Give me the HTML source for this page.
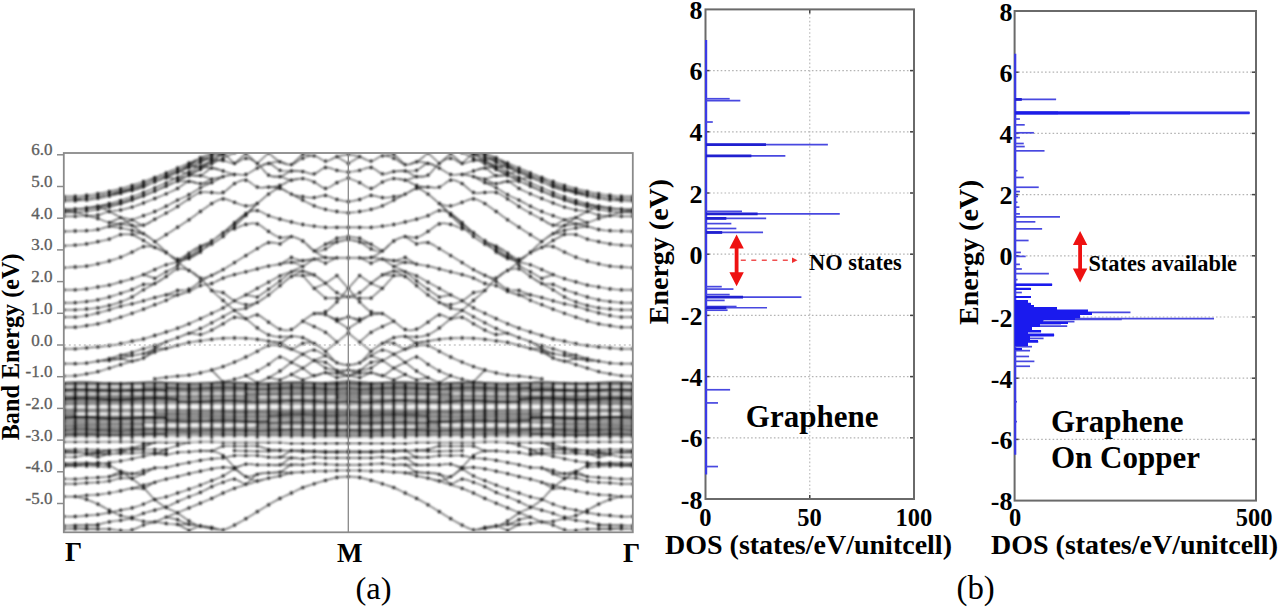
<!DOCTYPE html>
<html><head><meta charset="utf-8"><style>
html,body{margin:0;padding:0;background:#fff;}
body{width:1280px;height:609px;overflow:hidden;}
svg{display:block;font-family:"Liberation Serif", serif;}
</style></head><body>
<svg width="1280" height="609" viewBox="0 0 1280 609" fill="#000">
<rect width="1280" height="609" fill="#fff"/>
<defs><filter id="soft" x="-1%" y="-1%" width="102%" height="102%"><feGaussianBlur stdDeviation="0.8"/></filter><clipPath id="bclip"><rect x="63.8" y="153.0" width="569.0" height="379.3"/></clipPath></defs>
<g clip-path="url(#bclip)"><g filter="url(#soft)">
<path d="M63.8,382.1 L69.5,382.1 L75.2,382.1 L80.9,382.1 L86.6,382.1 L92.2,382.1 L97.9,382.2 L103.6,382.2 L109.3,382.2 L115.0,382.3 L120.7,382.3 L126.4,382.4 L132.1,382.4 L137.8,382.5 L143.5,382.5 L149.1,382.6 L154.8,382.6 L160.5,382.7 L166.2,382.8 L171.9,382.8 L177.6,382.9 L183.3,382.9 L189.0,383.0 L194.7,383.1 L200.4,383.1 L206.1,383.2 L211.7,383.2 L217.4,383.3 L223.1,383.3 L228.8,383.4 L234.5,383.4 L240.2,383.5 L245.9,383.5 L251.6,383.6 L257.3,383.6 L262.9,383.6 L268.6,383.6 L274.3,383.7 L280.0,383.7 L285.7,383.7 L291.4,383.7 L297.1,383.6 L302.8,383.5 L308.5,383.3 L314.2,383.1 L319.9,382.7 L325.5,382.3 L331.2,381.8 L336.9,381.2 L342.6,380.6 L348.3,379.9 L348.3,438.2 L342.6,438.2 L336.9,438.2 L331.2,438.2 L325.5,438.2 L319.9,438.2 L314.2,438.2 L308.5,438.2 L302.8,438.2 L297.1,438.2 L291.4,438.3 L285.7,438.3 L280.0,438.3 L274.3,438.3 L268.6,438.3 L262.9,438.3 L257.3,438.3 L251.6,438.4 L245.9,438.4 L240.2,438.4 L234.5,438.4 L228.8,438.4 L223.1,438.5 L217.4,438.5 L211.7,438.5 L206.1,438.5 L200.4,438.5 L194.7,438.6 L189.0,438.6 L183.3,438.6 L177.6,438.6 L171.9,438.6 L166.2,438.6 L160.5,438.7 L154.8,438.7 L149.1,438.7 L143.5,438.7 L137.8,438.7 L132.1,438.7 L126.4,438.8 L120.7,438.8 L115.0,438.8 L109.3,438.8 L103.6,438.8 L97.9,438.8 L92.2,438.8 L86.6,438.8 L80.9,438.8 L75.2,438.8 L69.5,438.8 L63.8,438.8 Z" fill="#a8a8a8"/>
<path d="M632.8,382.1 L627.1,382.1 L621.4,382.1 L615.7,382.1 L610.0,382.1 L604.4,382.1 L598.7,382.2 L593.0,382.2 L587.3,382.2 L581.6,382.3 L575.9,382.3 L570.2,382.4 L564.5,382.4 L558.8,382.5 L553.1,382.5 L547.5,382.6 L541.8,382.6 L536.1,382.7 L530.4,382.8 L524.7,382.8 L519.0,382.9 L513.3,382.9 L507.6,383.0 L501.9,383.1 L496.2,383.1 L490.6,383.2 L484.9,383.2 L479.2,383.3 L473.5,383.3 L467.8,383.4 L462.1,383.4 L456.4,383.5 L450.7,383.5 L445.0,383.6 L439.3,383.6 L433.7,383.6 L428.0,383.6 L422.3,383.7 L416.6,383.7 L410.9,383.7 L405.2,383.7 L399.5,383.6 L393.8,383.5 L388.1,383.3 L382.4,383.1 L376.8,382.7 L371.1,382.3 L365.4,381.8 L359.7,381.2 L354.0,380.6 L348.3,379.9 L348.3,438.2 L354.0,438.2 L359.7,438.2 L365.4,438.2 L371.1,438.2 L376.8,438.2 L382.4,438.2 L388.1,438.2 L393.8,438.2 L399.5,438.2 L405.2,438.3 L410.9,438.3 L416.6,438.3 L422.3,438.3 L428.0,438.3 L433.7,438.3 L439.3,438.3 L445.0,438.4 L450.7,438.4 L456.4,438.4 L462.1,438.4 L467.8,438.4 L473.5,438.5 L479.2,438.5 L484.9,438.5 L490.6,438.5 L496.2,438.5 L501.9,438.6 L507.6,438.6 L513.3,438.6 L519.0,438.6 L524.7,438.6 L530.4,438.6 L536.1,438.7 L541.8,438.7 L547.5,438.7 L553.1,438.7 L558.8,438.7 L564.5,438.7 L570.2,438.8 L575.9,438.8 L581.6,438.8 L587.3,438.8 L593.0,438.8 L598.7,438.8 L604.4,438.8 L610.0,438.8 L615.7,438.8 L621.4,438.8 L627.1,438.8 L632.8,438.8 Z" fill="#a8a8a8"/>
<path d="M63.8,384.0 L69.5,384.0 L75.2,384.0 L80.9,383.9 L86.6,383.8 L92.2,383.7 L97.9,383.6 L103.6,383.5 L109.3,383.4 L115.0,383.2 L120.7,383.0 L126.4,382.8 L132.1,382.7 L137.8,382.8 L143.5,382.8 L149.1,382.9 L154.8,383.0 L160.5,383.0 L166.2,383.1 L171.9,383.1 L177.6,383.2 L183.3,383.3 L189.0,383.3 L194.7,383.4 L200.4,383.4 L206.1,383.5 L211.7,383.6 L217.4,383.6 L223.1,383.7 L228.8,383.7 L234.5,383.8 L240.2,383.8 L245.9,383.8 L251.6,383.9 L257.3,383.9 L262.9,383.9 L268.6,384.0 L274.3,384.0 L280.0,384.0 L285.7,384.0 L291.4,384.0 L297.1,384.0 L302.8,383.8 L308.5,383.6 L314.2,383.4 L319.9,383.0 L325.5,382.6 L331.2,382.3 L336.9,382.4 L342.6,382.4 L348.3,382.4 M632.8,384.0 L627.1,384.0 L621.4,384.0 L615.7,383.9 L610.0,383.8 L604.4,383.7 L598.7,383.6 L593.0,383.5 L587.3,383.4 L581.6,383.2 L575.9,383.0 L570.2,382.8 L564.5,382.7 L558.8,382.8 L553.1,382.8 L547.5,382.9 L541.8,383.0 L536.1,383.0 L530.4,383.1 L524.7,383.1 L519.0,383.2 L513.3,383.3 L507.6,383.3 L501.9,383.4 L496.2,383.4 L490.6,383.5 L484.9,383.6 L479.2,383.6 L473.5,383.7 L467.8,383.7 L462.1,383.8 L456.4,383.8 L450.7,383.8 L445.0,383.9 L439.3,383.9 L433.7,383.9 L428.0,384.0 L422.3,384.0 L416.6,384.0 L410.9,384.0 L405.2,384.0 L399.5,384.0 L393.8,383.8 L388.1,383.6 L382.4,383.4 L376.8,383.0 L371.1,382.6 L365.4,382.3 L359.7,382.4 L354.0,382.4 L348.3,382.4 M63.8,385.8 L69.5,385.8 L75.2,385.7 L80.9,385.6 L86.6,385.5 L92.2,385.4 L97.9,385.2 L103.6,385.0 L109.3,384.8 L115.0,384.6 L120.7,384.3 L126.4,384.0 L132.1,383.7 L137.8,383.4 L143.5,383.1 L149.1,382.9 L154.8,383.0 L160.5,383.0 L166.2,383.1 L171.9,383.1 L177.6,383.2 L183.3,383.3 L189.0,383.3 L194.7,383.4 L200.4,383.4 L206.1,383.5 L211.7,383.6 L217.4,383.6 L223.1,383.7 L228.8,383.7 L234.5,383.8 L240.2,383.8 L245.9,383.8 L251.6,383.9 L257.3,383.9 L262.9,383.9 L268.6,384.0 L274.3,384.0 L280.0,384.0 L285.7,384.0 L291.4,384.0 L297.1,384.0 L302.8,383.8 L308.5,383.6 L314.2,383.4 L319.9,383.0 L325.5,382.6 L331.2,382.1 L336.9,381.6 L342.6,380.9 L348.3,380.2 M632.8,385.8 L627.1,385.8 L621.4,385.7 L615.7,385.6 L610.0,385.5 L604.4,385.4 L598.7,385.2 L593.0,385.0 L587.3,384.8 L581.6,384.6 L575.9,384.3 L570.2,384.0 L564.5,383.7 L558.8,383.4 L553.1,383.1 L547.5,382.9 L541.8,383.0 L536.1,383.0 L530.4,383.1 L524.7,383.1 L519.0,383.2 L513.3,383.3 L507.6,383.3 L501.9,383.4 L496.2,383.4 L490.6,383.5 L484.9,383.6 L479.2,383.6 L473.5,383.7 L467.8,383.7 L462.1,383.8 L456.4,383.8 L450.7,383.8 L445.0,383.9 L439.3,383.9 L433.7,383.9 L428.0,384.0 L422.3,384.0 L416.6,384.0 L410.9,384.0 L405.2,384.0 L399.5,384.0 L393.8,383.8 L388.1,383.6 L382.4,383.4 L376.8,383.0 L371.1,382.6 L365.4,382.1 L359.7,381.6 L354.0,380.9 L348.3,380.2 M63.8,385.6 L69.5,385.8 L75.2,386.0 L80.9,386.2 L86.6,386.4 L92.2,386.6 L97.9,386.9 L103.6,387.1 L109.3,387.3 L115.0,387.5 L120.7,387.8 L126.4,388.0 L132.1,388.1 L137.8,388.3 L143.5,388.5 L149.1,388.6 L154.8,388.7 L160.5,388.8 L166.2,388.9 L171.9,389.0 L177.6,389.1 L183.3,389.1 L189.0,389.2 L194.7,389.2 L200.4,389.2 L206.1,389.2 L211.7,389.2 L217.4,389.2 L223.1,389.2 L228.8,389.2 L234.5,389.2 L240.2,389.2 L245.9,389.2 L251.6,389.3 L257.3,389.3 L262.9,389.3 L268.6,389.4 L274.3,389.5 L280.0,389.6 L285.7,389.7 L291.4,389.8 L297.1,389.9 L302.8,390.1 L308.5,390.3 L314.2,390.4 L319.9,390.6 L325.5,390.8 L331.2,391.0 L336.9,391.2 L342.6,391.4 L348.3,391.5 M632.8,385.6 L627.1,385.8 L621.4,386.0 L615.7,386.2 L610.0,386.4 L604.4,386.6 L598.7,386.9 L593.0,387.1 L587.3,387.3 L581.6,387.5 L575.9,387.8 L570.2,388.0 L564.5,388.1 L558.8,388.3 L553.1,388.5 L547.5,388.6 L541.8,388.7 L536.1,388.8 L530.4,388.9 L524.7,389.0 L519.0,389.1 L513.3,389.1 L507.6,389.2 L501.9,389.2 L496.2,389.2 L490.6,389.2 L484.9,389.2 L479.2,389.2 L473.5,389.2 L467.8,389.2 L462.1,389.2 L456.4,389.2 L450.7,389.2 L445.0,389.3 L439.3,389.3 L433.7,389.3 L428.0,389.4 L422.3,389.5 L416.6,389.6 L410.9,389.7 L405.2,389.8 L399.5,389.9 L393.8,390.1 L388.1,390.3 L382.4,390.4 L376.8,390.6 L371.1,390.8 L365.4,391.0 L359.7,391.2 L354.0,391.4 L348.3,391.5 M63.8,387.6 L69.5,387.6 L75.2,387.5 L80.9,387.5 L86.6,387.5 L92.2,387.4 L97.9,387.4 L103.6,387.3 L109.3,387.3 L115.0,387.2 L120.7,387.2 L126.4,387.1 L132.1,387.1 L137.8,387.0 L143.5,387.0 L149.1,386.9 L154.8,386.9 L160.5,386.8 L166.2,386.8 L171.9,386.7 L177.6,386.7 L183.3,386.6 L189.0,386.6 L194.7,386.5 L200.4,386.5 L206.1,386.4 L211.7,386.4 L217.4,386.3 L223.1,386.3 L228.8,386.3 L234.5,386.2 L240.2,386.2 L245.9,386.2 L251.6,386.1 L257.3,386.1 L262.9,386.1 L268.6,386.1 L274.3,386.0 L280.0,386.0 L285.7,386.0 L291.4,385.9 L297.1,385.9 L302.8,385.9 L308.5,385.9 L314.2,385.8 L319.9,385.8 L325.5,385.8 L331.2,385.8 L336.9,385.7 L342.6,385.7 L348.3,385.7 M632.8,387.6 L627.1,387.6 L621.4,387.5 L615.7,387.5 L610.0,387.5 L604.4,387.4 L598.7,387.4 L593.0,387.3 L587.3,387.3 L581.6,387.2 L575.9,387.2 L570.2,387.1 L564.5,387.1 L558.8,387.0 L553.1,387.0 L547.5,386.9 L541.8,386.9 L536.1,386.8 L530.4,386.8 L524.7,386.7 L519.0,386.7 L513.3,386.6 L507.6,386.6 L501.9,386.5 L496.2,386.5 L490.6,386.4 L484.9,386.4 L479.2,386.3 L473.5,386.3 L467.8,386.3 L462.1,386.2 L456.4,386.2 L450.7,386.2 L445.0,386.1 L439.3,386.1 L433.7,386.1 L428.0,386.1 L422.3,386.0 L416.6,386.0 L410.9,386.0 L405.2,385.9 L399.5,385.9 L393.8,385.9 L388.1,385.9 L382.4,385.8 L376.8,385.8 L371.1,385.8 L365.4,385.8 L359.7,385.7 L354.0,385.7 L348.3,385.7 M63.8,388.2 L69.5,388.2 L75.2,388.2 L80.9,388.3 L86.6,388.3 L92.2,388.4 L97.9,388.4 L103.6,388.5 L109.3,388.6 L115.0,388.7 L120.7,388.8 L126.4,388.9 L132.1,389.0 L137.8,389.2 L143.5,389.3 L149.1,389.4 L154.8,389.5 L160.5,389.6 L166.2,389.7 L171.9,389.8 L177.6,389.9 L183.3,390.0 L189.0,390.0 L194.7,390.1 L200.4,390.1 L206.1,390.1 L211.7,390.1 L217.4,390.1 L223.1,390.1 L228.8,390.1 L234.5,390.0 L240.2,390.0 L245.9,389.9 L251.6,389.8 L257.3,389.7 L262.9,389.7 L268.6,389.6 L274.3,389.5 L280.0,389.4 L285.7,389.3 L291.4,389.2 L297.1,389.1 L302.8,389.0 L308.5,388.9 L314.2,388.8 L319.9,388.8 L325.5,388.7 L331.2,388.7 L336.9,388.6 L342.6,388.6 L348.3,388.6 M632.8,388.2 L627.1,388.2 L621.4,388.2 L615.7,388.3 L610.0,388.3 L604.4,388.4 L598.7,388.4 L593.0,388.5 L587.3,388.6 L581.6,388.7 L575.9,388.8 L570.2,388.9 L564.5,389.0 L558.8,389.2 L553.1,389.3 L547.5,389.4 L541.8,389.5 L536.1,389.6 L530.4,389.7 L524.7,389.8 L519.0,389.9 L513.3,390.0 L507.6,390.0 L501.9,390.1 L496.2,390.1 L490.6,390.1 L484.9,390.1 L479.2,390.1 L473.5,390.1 L467.8,390.1 L462.1,390.0 L456.4,390.0 L450.7,389.9 L445.0,389.8 L439.3,389.7 L433.7,389.7 L428.0,389.6 L422.3,389.5 L416.6,389.4 L410.9,389.3 L405.2,389.2 L399.5,389.1 L393.8,389.0 L388.1,388.9 L382.4,388.8 L376.8,388.8 L371.1,388.7 L365.4,388.7 L359.7,388.6 L354.0,388.6 L348.3,388.6 M63.8,390.6 L69.5,390.6 L75.2,390.5 L80.9,390.5 L86.6,390.4 L92.2,390.4 L97.9,390.4 L103.6,390.3 L109.3,390.3 L115.0,390.3 L120.7,390.2 L126.4,390.2 L132.1,390.2 L137.8,390.2 L143.5,390.1 L149.1,390.1 L154.8,390.1 L160.5,390.1 L166.2,390.1 L171.9,390.1 L177.6,390.1 L183.3,390.2 L189.0,390.2 L194.7,390.2 L200.4,390.2 L206.1,390.2 L211.7,390.2 L217.4,390.2 L223.1,390.2 L228.8,390.3 L234.5,390.3 L240.2,390.3 L245.9,390.3 L251.6,390.3 L257.3,390.2 L262.9,390.2 L268.6,390.2 L274.3,390.2 L280.0,390.2 L285.7,390.1 L291.4,390.1 L297.1,390.1 L302.8,390.0 L308.5,390.0 L314.2,390.0 L319.9,389.9 L325.5,389.9 L331.2,389.8 L336.9,389.8 L342.6,389.7 L348.3,389.7 M632.8,390.6 L627.1,390.6 L621.4,390.5 L615.7,390.5 L610.0,390.4 L604.4,390.4 L598.7,390.4 L593.0,390.3 L587.3,390.3 L581.6,390.3 L575.9,390.2 L570.2,390.2 L564.5,390.2 L558.8,390.2 L553.1,390.1 L547.5,390.1 L541.8,390.1 L536.1,390.1 L530.4,390.1 L524.7,390.1 L519.0,390.1 L513.3,390.2 L507.6,390.2 L501.9,390.2 L496.2,390.2 L490.6,390.2 L484.9,390.2 L479.2,390.2 L473.5,390.2 L467.8,390.3 L462.1,390.3 L456.4,390.3 L450.7,390.3 L445.0,390.3 L439.3,390.2 L433.7,390.2 L428.0,390.2 L422.3,390.2 L416.6,390.2 L410.9,390.1 L405.2,390.1 L399.5,390.1 L393.8,390.0 L388.1,390.0 L382.4,390.0 L376.8,389.9 L371.1,389.9 L365.4,389.8 L359.7,389.8 L354.0,389.7 L348.3,389.7 M63.8,392.8 L69.5,392.7 L75.2,392.6 L80.9,392.4 L86.6,392.3 L92.2,392.2 L97.9,392.1 L103.6,391.9 L109.3,391.8 L115.0,391.8 L120.7,391.7 L126.4,391.6 L132.1,391.6 L137.8,391.6 L143.5,391.6 L149.1,391.6 L154.8,391.7 L160.5,391.7 L166.2,391.8 L171.9,392.0 L177.6,392.1 L183.3,392.2 L189.0,392.4 L194.7,392.6 L200.4,392.8 L206.1,393.0 L211.7,393.2 L217.4,393.5 L223.1,393.7 L228.8,393.9 L234.5,394.2 L240.2,394.4 L245.9,394.6 L251.6,394.9 L257.3,395.1 L262.9,395.3 L268.6,395.4 L274.3,395.6 L280.0,395.7 L285.7,395.9 L291.4,395.9 L297.1,396.0 L302.8,396.1 L308.5,396.1 L314.2,396.1 L319.9,396.1 L325.5,396.0 L331.2,396.0 L336.9,395.9 L342.6,395.8 L348.3,395.6 M632.8,392.8 L627.1,392.7 L621.4,392.6 L615.7,392.4 L610.0,392.3 L604.4,392.2 L598.7,392.1 L593.0,391.9 L587.3,391.8 L581.6,391.8 L575.9,391.7 L570.2,391.6 L564.5,391.6 L558.8,391.6 L553.1,391.6 L547.5,391.6 L541.8,391.7 L536.1,391.7 L530.4,391.8 L524.7,392.0 L519.0,392.1 L513.3,392.2 L507.6,392.4 L501.9,392.6 L496.2,392.8 L490.6,393.0 L484.9,393.2 L479.2,393.5 L473.5,393.7 L467.8,393.9 L462.1,394.2 L456.4,394.4 L450.7,394.6 L445.0,394.9 L439.3,395.1 L433.7,395.3 L428.0,395.4 L422.3,395.6 L416.6,395.7 L410.9,395.9 L405.2,395.9 L399.5,396.0 L393.8,396.1 L388.1,396.1 L382.4,396.1 L376.8,396.1 L371.1,396.0 L365.4,396.0 L359.7,395.9 L354.0,395.8 L348.3,395.6 M63.8,394.0 L69.5,394.0 L75.2,394.0 L80.9,394.0 L86.6,394.0 L92.2,394.1 L97.9,394.1 L103.6,394.1 L109.3,394.1 L115.0,394.2 L120.7,394.2 L126.4,394.3 L132.1,394.4 L137.8,394.4 L143.5,394.5 L149.1,394.6 L154.8,394.7 L160.5,394.8 L166.2,394.9 L171.9,395.0 L177.6,395.1 L183.3,395.2 L189.0,395.4 L194.7,395.5 L200.4,395.6 L206.1,395.8 L211.7,395.9 L217.4,396.1 L223.1,396.2 L228.8,396.4 L234.5,396.5 L240.2,396.7 L245.9,396.8 L251.6,397.0 L257.3,397.1 L262.9,397.2 L268.6,397.4 L274.3,397.5 L280.0,397.6 L285.7,397.7 L291.4,397.8 L297.1,397.9 L302.8,398.0 L308.5,398.1 L314.2,398.2 L319.9,398.2 L325.5,398.3 L331.2,398.3 L336.9,398.3 L342.6,398.3 L348.3,398.3 M632.8,394.0 L627.1,394.0 L621.4,394.0 L615.7,394.0 L610.0,394.0 L604.4,394.1 L598.7,394.1 L593.0,394.1 L587.3,394.1 L581.6,394.2 L575.9,394.2 L570.2,394.3 L564.5,394.4 L558.8,394.4 L553.1,394.5 L547.5,394.6 L541.8,394.7 L536.1,394.8 L530.4,394.9 L524.7,395.0 L519.0,395.1 L513.3,395.2 L507.6,395.4 L501.9,395.5 L496.2,395.6 L490.6,395.8 L484.9,395.9 L479.2,396.1 L473.5,396.2 L467.8,396.4 L462.1,396.5 L456.4,396.7 L450.7,396.8 L445.0,397.0 L439.3,397.1 L433.7,397.2 L428.0,397.4 L422.3,397.5 L416.6,397.6 L410.9,397.7 L405.2,397.8 L399.5,397.9 L393.8,398.0 L388.1,398.1 L382.4,398.2 L376.8,398.2 L371.1,398.3 L365.4,398.3 L359.7,398.3 L354.0,398.3 L348.3,398.3 M63.8,395.4 L69.5,395.4 L75.2,395.4 L80.9,395.4 L86.6,395.4 L92.2,395.4 L97.9,395.3 L103.6,395.3 L109.3,395.3 L115.0,395.3 L120.7,395.3 L126.4,395.2 L132.1,395.2 L137.8,395.2 L143.5,395.1 L149.1,395.1 L154.8,395.1 L160.5,395.0 L166.2,395.0 L171.9,394.9 L177.6,394.9 L183.3,394.8 L189.0,394.8 L194.7,394.8 L200.4,394.7 L206.1,394.7 L211.7,394.6 L217.4,394.6 L223.1,394.5 L228.8,394.5 L234.5,394.4 L240.2,394.4 L245.9,394.3 L251.6,394.3 L257.3,394.3 L262.9,394.2 L268.6,394.2 L274.3,394.2 L280.0,394.1 L285.7,394.1 L291.4,394.1 L297.1,394.0 L302.8,394.0 L308.5,394.0 L314.2,394.0 L319.9,393.9 L325.5,393.9 L331.2,393.9 L336.9,393.9 L342.6,393.9 L348.3,393.9 M632.8,395.4 L627.1,395.4 L621.4,395.4 L615.7,395.4 L610.0,395.4 L604.4,395.4 L598.7,395.3 L593.0,395.3 L587.3,395.3 L581.6,395.3 L575.9,395.3 L570.2,395.2 L564.5,395.2 L558.8,395.2 L553.1,395.1 L547.5,395.1 L541.8,395.1 L536.1,395.0 L530.4,395.0 L524.7,394.9 L519.0,394.9 L513.3,394.8 L507.6,394.8 L501.9,394.8 L496.2,394.7 L490.6,394.7 L484.9,394.6 L479.2,394.6 L473.5,394.5 L467.8,394.5 L462.1,394.4 L456.4,394.4 L450.7,394.3 L445.0,394.3 L439.3,394.3 L433.7,394.2 L428.0,394.2 L422.3,394.2 L416.6,394.1 L410.9,394.1 L405.2,394.1 L399.5,394.0 L393.8,394.0 L388.1,394.0 L382.4,394.0 L376.8,393.9 L371.1,393.9 L365.4,393.9 L359.7,393.9 L354.0,393.9 L348.3,393.9 M63.8,396.7 L69.5,396.6 L75.2,396.6 L80.9,396.6 L86.6,396.6 L92.2,396.6 L97.9,396.5 L103.6,396.5 L109.3,396.4 L115.0,396.4 L120.7,396.4 L126.4,396.3 L132.1,396.2 L137.8,396.2 L143.5,396.1 L149.1,396.0 L154.8,396.0 L160.5,395.9 L166.2,395.8 L171.9,395.7 L177.6,395.6 L183.3,395.5 L189.0,395.4 L194.7,395.2 L200.4,395.1 L206.1,395.0 L211.7,394.8 L217.4,394.7 L223.1,394.5 L228.8,394.4 L234.5,394.2 L240.2,394.1 L245.9,393.9 L251.6,393.7 L257.3,393.6 L262.9,393.4 L268.6,393.3 L274.3,393.1 L280.0,393.0 L285.7,392.8 L291.4,392.7 L297.1,392.6 L302.8,392.5 L308.5,392.4 L314.2,392.3 L319.9,392.2 L325.5,392.1 L331.2,392.0 L336.9,392.0 L342.6,392.0 L348.3,391.9 M632.8,396.7 L627.1,396.6 L621.4,396.6 L615.7,396.6 L610.0,396.6 L604.4,396.6 L598.7,396.5 L593.0,396.5 L587.3,396.4 L581.6,396.4 L575.9,396.4 L570.2,396.3 L564.5,396.2 L558.8,396.2 L553.1,396.1 L547.5,396.0 L541.8,396.0 L536.1,395.9 L530.4,395.8 L524.7,395.7 L519.0,395.6 L513.3,395.5 L507.6,395.4 L501.9,395.2 L496.2,395.1 L490.6,395.0 L484.9,394.8 L479.2,394.7 L473.5,394.5 L467.8,394.4 L462.1,394.2 L456.4,394.1 L450.7,393.9 L445.0,393.7 L439.3,393.6 L433.7,393.4 L428.0,393.3 L422.3,393.1 L416.6,393.0 L410.9,392.8 L405.2,392.7 L399.5,392.6 L393.8,392.5 L388.1,392.4 L382.4,392.3 L376.8,392.2 L371.1,392.1 L365.4,392.0 L359.7,392.0 L354.0,392.0 L348.3,391.9 M63.8,398.9 L69.5,398.9 L75.2,398.8 L80.9,398.7 L86.6,398.6 L92.2,398.5 L97.9,398.4 L103.6,398.2 L109.3,398.1 L115.0,397.9 L120.7,397.8 L126.4,397.6 L132.1,397.4 L137.8,397.3 L143.5,397.1 L149.1,396.9 L154.8,396.7 L160.5,396.5 L166.2,396.4 L171.9,396.2 L177.6,396.0 L183.3,395.8 L189.0,395.7 L194.7,395.5 L200.4,395.3 L206.1,395.2 L211.7,395.0 L217.4,394.9 L223.1,394.8 L228.8,394.6 L234.5,394.5 L240.2,394.4 L245.9,394.2 L251.6,394.1 L257.3,394.0 L262.9,393.9 L268.6,393.8 L274.3,393.7 L280.0,393.6 L285.7,393.5 L291.4,393.4 L297.1,393.4 L302.8,393.3 L308.5,393.2 L314.2,393.1 L319.9,393.1 L325.5,393.0 L331.2,392.9 L336.9,392.9 L342.6,392.8 L348.3,392.8 M632.8,398.9 L627.1,398.9 L621.4,398.8 L615.7,398.7 L610.0,398.6 L604.4,398.5 L598.7,398.4 L593.0,398.2 L587.3,398.1 L581.6,397.9 L575.9,397.8 L570.2,397.6 L564.5,397.4 L558.8,397.3 L553.1,397.1 L547.5,396.9 L541.8,396.7 L536.1,396.5 L530.4,396.4 L524.7,396.2 L519.0,396.0 L513.3,395.8 L507.6,395.7 L501.9,395.5 L496.2,395.3 L490.6,395.2 L484.9,395.0 L479.2,394.9 L473.5,394.8 L467.8,394.6 L462.1,394.5 L456.4,394.4 L450.7,394.2 L445.0,394.1 L439.3,394.0 L433.7,393.9 L428.0,393.8 L422.3,393.7 L416.6,393.6 L410.9,393.5 L405.2,393.4 L399.5,393.4 L393.8,393.3 L388.1,393.2 L382.4,393.1 L376.8,393.1 L371.1,393.0 L365.4,392.9 L359.7,392.9 L354.0,392.8 L348.3,392.8 M63.8,400.4 L69.5,400.5 L75.2,400.6 L80.9,400.7 L86.6,400.8 L92.2,400.8 L97.9,400.9 L103.6,400.8 L109.3,400.8 L115.0,400.8 L120.7,400.7 L126.4,400.6 L132.1,400.4 L137.8,400.3 L143.5,400.1 L149.1,399.9 L154.8,399.6 L160.5,399.4 L166.2,399.1 L171.9,398.8 L177.6,398.5 L183.3,398.2 L189.0,397.9 L194.7,397.6 L200.4,397.3 L206.1,397.0 L211.7,396.7 L217.4,396.4 L223.1,396.1 L228.8,395.8 L234.5,395.5 L240.2,395.3 L245.9,395.0 L251.6,394.8 L257.3,394.6 L262.9,394.4 L268.6,394.3 L274.3,394.2 L280.0,394.1 L285.7,394.0 L291.4,394.0 L297.1,393.9 L302.8,393.9 L308.5,393.9 L314.2,394.0 L319.9,394.0 L325.5,394.1 L331.2,394.2 L336.9,394.3 L342.6,394.4 L348.3,394.6 M632.8,400.4 L627.1,400.5 L621.4,400.6 L615.7,400.7 L610.0,400.8 L604.4,400.8 L598.7,400.9 L593.0,400.8 L587.3,400.8 L581.6,400.8 L575.9,400.7 L570.2,400.6 L564.5,400.4 L558.8,400.3 L553.1,400.1 L547.5,399.9 L541.8,399.6 L536.1,399.4 L530.4,399.1 L524.7,398.8 L519.0,398.5 L513.3,398.2 L507.6,397.9 L501.9,397.6 L496.2,397.3 L490.6,397.0 L484.9,396.7 L479.2,396.4 L473.5,396.1 L467.8,395.8 L462.1,395.5 L456.4,395.3 L450.7,395.0 L445.0,394.8 L439.3,394.6 L433.7,394.4 L428.0,394.3 L422.3,394.2 L416.6,394.1 L410.9,394.0 L405.2,394.0 L399.5,393.9 L393.8,393.9 L388.1,393.9 L382.4,394.0 L376.8,394.0 L371.1,394.1 L365.4,394.2 L359.7,394.3 L354.0,394.4 L348.3,394.6 M63.8,402.1 L69.5,402.0 L75.2,401.9 L80.9,401.8 L86.6,401.7 L92.2,401.6 L97.9,401.5 L103.6,401.4 L109.3,401.3 L115.0,401.3 L120.7,401.3 L126.4,401.2 L132.1,401.3 L137.8,401.3 L143.5,401.3 L149.1,401.4 L154.8,401.5 L160.5,401.6 L166.2,401.8 L171.9,401.9 L177.6,402.1 L183.3,402.3 L189.0,402.5 L194.7,402.7 L200.4,403.0 L206.1,403.2 L211.7,403.5 L217.4,403.7 L223.1,404.0 L228.8,404.2 L234.5,404.5 L240.2,404.7 L245.9,404.9 L251.6,405.2 L257.3,405.4 L262.9,405.6 L268.6,405.7 L274.3,405.9 L280.0,406.0 L285.7,406.1 L291.4,406.2 L297.1,406.3 L302.8,406.3 L308.5,406.3 L314.2,406.3 L319.9,406.3 L325.5,406.3 L331.2,406.2 L336.9,406.1 L342.6,406.0 L348.3,405.9 M632.8,402.1 L627.1,402.0 L621.4,401.9 L615.7,401.8 L610.0,401.7 L604.4,401.6 L598.7,401.5 L593.0,401.4 L587.3,401.3 L581.6,401.3 L575.9,401.3 L570.2,401.2 L564.5,401.3 L558.8,401.3 L553.1,401.3 L547.5,401.4 L541.8,401.5 L536.1,401.6 L530.4,401.8 L524.7,401.9 L519.0,402.1 L513.3,402.3 L507.6,402.5 L501.9,402.7 L496.2,403.0 L490.6,403.2 L484.9,403.5 L479.2,403.7 L473.5,404.0 L467.8,404.2 L462.1,404.5 L456.4,404.7 L450.7,404.9 L445.0,405.2 L439.3,405.4 L433.7,405.6 L428.0,405.7 L422.3,405.9 L416.6,406.0 L410.9,406.1 L405.2,406.2 L399.5,406.3 L393.8,406.3 L388.1,406.3 L382.4,406.3 L376.8,406.3 L371.1,406.3 L365.4,406.2 L359.7,406.1 L354.0,406.0 L348.3,405.9 M63.8,403.6 L69.5,403.6 L75.2,403.5 L80.9,403.4 L86.6,403.3 L92.2,403.2 L97.9,403.1 L103.6,402.9 L109.3,402.8 L115.0,402.7 L120.7,402.5 L126.4,402.3 L132.1,402.2 L137.8,402.0 L143.5,401.8 L149.1,401.7 L154.8,401.5 L160.5,401.3 L166.2,401.2 L171.9,401.0 L177.6,400.8 L183.3,400.7 L189.0,400.5 L194.7,400.4 L200.4,400.2 L206.1,400.1 L211.7,399.9 L217.4,399.8 L223.1,399.7 L228.8,399.6 L234.5,399.4 L240.2,399.3 L245.9,399.2 L251.6,399.1 L257.3,399.0 L262.9,398.9 L268.6,398.8 L274.3,398.7 L280.0,398.6 L285.7,398.5 L291.4,398.4 L297.1,398.3 L302.8,398.2 L308.5,398.2 L314.2,398.1 L319.9,398.0 L325.5,397.9 L331.2,397.9 L336.9,397.8 L342.6,397.8 L348.3,397.7 M632.8,403.6 L627.1,403.6 L621.4,403.5 L615.7,403.4 L610.0,403.3 L604.4,403.2 L598.7,403.1 L593.0,402.9 L587.3,402.8 L581.6,402.7 L575.9,402.5 L570.2,402.3 L564.5,402.2 L558.8,402.0 L553.1,401.8 L547.5,401.7 L541.8,401.5 L536.1,401.3 L530.4,401.2 L524.7,401.0 L519.0,400.8 L513.3,400.7 L507.6,400.5 L501.9,400.4 L496.2,400.2 L490.6,400.1 L484.9,399.9 L479.2,399.8 L473.5,399.7 L467.8,399.6 L462.1,399.4 L456.4,399.3 L450.7,399.2 L445.0,399.1 L439.3,399.0 L433.7,398.9 L428.0,398.8 L422.3,398.7 L416.6,398.6 L410.9,398.5 L405.2,398.4 L399.5,398.3 L393.8,398.2 L388.1,398.2 L382.4,398.1 L376.8,398.0 L371.1,397.9 L365.4,397.9 L359.7,397.8 L354.0,397.8 L348.3,397.7 M63.8,404.7 L69.5,404.7 L75.2,404.7 L80.9,404.7 L86.6,404.7 L92.2,404.7 L97.9,404.7 L103.6,404.8 L109.3,404.8 L115.0,404.9 L120.7,404.9 L126.4,405.0 L132.1,405.0 L137.8,405.1 L143.5,405.2 L149.1,405.2 L154.8,405.3 L160.5,405.4 L166.2,405.5 L171.9,405.5 L177.6,405.6 L183.3,405.7 L189.0,405.8 L194.7,405.8 L200.4,405.9 L206.1,406.0 L211.7,406.1 L217.4,406.1 L223.1,406.2 L228.8,406.2 L234.5,406.3 L240.2,406.3 L245.9,406.4 L251.6,406.4 L257.3,406.5 L262.9,406.5 L268.6,406.5 L274.3,406.5 L280.0,406.5 L285.7,406.5 L291.4,406.6 L297.1,406.6 L302.8,406.6 L308.5,406.6 L314.2,406.5 L319.9,406.5 L325.5,406.5 L331.2,406.5 L336.9,406.5 L342.6,406.5 L348.3,406.5 M632.8,404.7 L627.1,404.7 L621.4,404.7 L615.7,404.7 L610.0,404.7 L604.4,404.7 L598.7,404.7 L593.0,404.8 L587.3,404.8 L581.6,404.9 L575.9,404.9 L570.2,405.0 L564.5,405.0 L558.8,405.1 L553.1,405.2 L547.5,405.2 L541.8,405.3 L536.1,405.4 L530.4,405.5 L524.7,405.5 L519.0,405.6 L513.3,405.7 L507.6,405.8 L501.9,405.8 L496.2,405.9 L490.6,406.0 L484.9,406.1 L479.2,406.1 L473.5,406.2 L467.8,406.2 L462.1,406.3 L456.4,406.3 L450.7,406.4 L445.0,406.4 L439.3,406.5 L433.7,406.5 L428.0,406.5 L422.3,406.5 L416.6,406.5 L410.9,406.5 L405.2,406.6 L399.5,406.6 L393.8,406.6 L388.1,406.6 L382.4,406.5 L376.8,406.5 L371.1,406.5 L365.4,406.5 L359.7,406.5 L354.0,406.5 L348.3,406.5 M63.8,405.6 L69.5,405.6 L75.2,405.7 L80.9,405.8 L86.6,405.9 L92.2,406.1 L97.9,406.2 L103.6,406.4 L109.3,406.6 L115.0,406.8 L120.7,407.0 L126.4,407.3 L132.1,407.5 L137.8,407.7 L143.5,408.0 L149.1,408.2 L154.8,408.4 L160.5,408.7 L166.2,408.9 L171.9,409.1 L177.6,409.3 L183.3,409.5 L189.0,409.7 L194.7,409.9 L200.4,410.0 L206.1,410.2 L211.7,410.3 L217.4,410.4 L223.1,410.5 L228.8,410.6 L234.5,410.7 L240.2,410.7 L245.9,410.8 L251.6,410.8 L257.3,410.8 L262.9,410.9 L268.6,410.9 L274.3,410.9 L280.0,410.9 L285.7,410.9 L291.4,410.9 L297.1,410.9 L302.8,410.9 L308.5,410.9 L314.2,411.0 L319.9,411.0 L325.5,411.0 L331.2,411.0 L336.9,411.0 L342.6,411.1 L348.3,411.1 M632.8,405.6 L627.1,405.6 L621.4,405.7 L615.7,405.8 L610.0,405.9 L604.4,406.1 L598.7,406.2 L593.0,406.4 L587.3,406.6 L581.6,406.8 L575.9,407.0 L570.2,407.3 L564.5,407.5 L558.8,407.7 L553.1,408.0 L547.5,408.2 L541.8,408.4 L536.1,408.7 L530.4,408.9 L524.7,409.1 L519.0,409.3 L513.3,409.5 L507.6,409.7 L501.9,409.9 L496.2,410.0 L490.6,410.2 L484.9,410.3 L479.2,410.4 L473.5,410.5 L467.8,410.6 L462.1,410.7 L456.4,410.7 L450.7,410.8 L445.0,410.8 L439.3,410.8 L433.7,410.9 L428.0,410.9 L422.3,410.9 L416.6,410.9 L410.9,410.9 L405.2,410.9 L399.5,410.9 L393.8,410.9 L388.1,410.9 L382.4,411.0 L376.8,411.0 L371.1,411.0 L365.4,411.0 L359.7,411.0 L354.0,411.1 L348.3,411.1 M63.8,408.6 L69.5,408.6 L75.2,408.6 L80.9,408.7 L86.6,408.7 L92.2,408.8 L97.9,408.8 L103.6,408.9 L109.3,408.9 L115.0,409.0 L120.7,409.1 L126.4,409.1 L132.1,409.2 L137.8,409.3 L143.5,409.4 L149.1,409.5 L154.8,409.6 L160.5,409.7 L166.2,409.8 L171.9,409.9 L177.6,410.0 L183.3,410.1 L189.0,410.3 L194.7,410.4 L200.4,410.6 L206.1,410.8 L211.7,410.9 L217.4,411.1 L223.1,411.3 L228.8,411.5 L234.5,411.7 L240.2,411.9 L245.9,412.1 L251.6,412.3 L257.3,412.5 L262.9,412.7 L268.6,412.9 L274.3,413.1 L280.0,413.3 L285.7,413.5 L291.4,413.7 L297.1,413.9 L302.8,414.0 L308.5,414.2 L314.2,414.3 L319.9,414.5 L325.5,414.6 L331.2,414.7 L336.9,414.8 L342.6,414.8 L348.3,414.9 M632.8,408.6 L627.1,408.6 L621.4,408.6 L615.7,408.7 L610.0,408.7 L604.4,408.8 L598.7,408.8 L593.0,408.9 L587.3,408.9 L581.6,409.0 L575.9,409.1 L570.2,409.1 L564.5,409.2 L558.8,409.3 L553.1,409.4 L547.5,409.5 L541.8,409.6 L536.1,409.7 L530.4,409.8 L524.7,409.9 L519.0,410.0 L513.3,410.1 L507.6,410.3 L501.9,410.4 L496.2,410.6 L490.6,410.8 L484.9,410.9 L479.2,411.1 L473.5,411.3 L467.8,411.5 L462.1,411.7 L456.4,411.9 L450.7,412.1 L445.0,412.3 L439.3,412.5 L433.7,412.7 L428.0,412.9 L422.3,413.1 L416.6,413.3 L410.9,413.5 L405.2,413.7 L399.5,413.9 L393.8,414.0 L388.1,414.2 L382.4,414.3 L376.8,414.5 L371.1,414.6 L365.4,414.7 L359.7,414.8 L354.0,414.8 L348.3,414.9 M63.8,410.4 L69.5,410.3 L75.2,410.3 L80.9,410.2 L86.6,410.2 L92.2,410.1 L97.9,410.0 L103.6,410.0 L109.3,409.9 L115.0,409.9 L120.7,409.8 L126.4,409.8 L132.1,409.7 L137.8,409.7 L143.5,409.7 L149.1,409.6 L154.8,409.6 L160.5,409.7 L166.2,409.7 L171.9,409.7 L177.6,409.8 L183.3,409.8 L189.0,409.9 L194.7,410.0 L200.4,410.1 L206.1,410.2 L211.7,410.3 L217.4,410.4 L223.1,410.6 L228.8,410.7 L234.5,410.9 L240.2,411.0 L245.9,411.2 L251.6,411.3 L257.3,411.5 L262.9,411.7 L268.6,411.8 L274.3,412.0 L280.0,412.1 L285.7,412.2 L291.4,412.4 L297.1,412.5 L302.8,412.6 L308.5,412.6 L314.2,412.7 L319.9,412.8 L325.5,412.8 L331.2,412.8 L336.9,412.8 L342.6,412.8 L348.3,412.8 M632.8,410.4 L627.1,410.3 L621.4,410.3 L615.7,410.2 L610.0,410.2 L604.4,410.1 L598.7,410.0 L593.0,410.0 L587.3,409.9 L581.6,409.9 L575.9,409.8 L570.2,409.8 L564.5,409.7 L558.8,409.7 L553.1,409.7 L547.5,409.6 L541.8,409.6 L536.1,409.7 L530.4,409.7 L524.7,409.7 L519.0,409.8 L513.3,409.8 L507.6,409.9 L501.9,410.0 L496.2,410.1 L490.6,410.2 L484.9,410.3 L479.2,410.4 L473.5,410.6 L467.8,410.7 L462.1,410.9 L456.4,411.0 L450.7,411.2 L445.0,411.3 L439.3,411.5 L433.7,411.7 L428.0,411.8 L422.3,412.0 L416.6,412.1 L410.9,412.2 L405.2,412.4 L399.5,412.5 L393.8,412.6 L388.1,412.6 L382.4,412.7 L376.8,412.8 L371.1,412.8 L365.4,412.8 L359.7,412.8 L354.0,412.8 L348.3,412.8 M63.8,411.1 L69.5,411.3 L75.2,411.4 L80.9,411.6 L86.6,411.7 L92.2,411.9 L97.9,412.0 L103.6,412.1 L109.3,412.3 L115.0,412.4 L120.7,412.5 L126.4,412.6 L132.1,412.7 L137.8,412.7 L143.5,412.8 L149.1,412.8 L154.8,412.9 L160.5,412.9 L166.2,412.9 L171.9,412.8 L177.6,412.8 L183.3,412.8 L189.0,412.7 L194.7,412.7 L200.4,412.6 L206.1,412.6 L211.7,412.5 L217.4,412.4 L223.1,412.4 L228.8,412.3 L234.5,412.2 L240.2,412.2 L245.9,412.1 L251.6,412.1 L257.3,412.1 L262.9,412.1 L268.6,412.1 L274.3,412.1 L280.0,412.2 L285.7,412.2 L291.4,412.3 L297.1,412.3 L302.8,412.4 L308.5,412.5 L314.2,412.7 L319.9,412.8 L325.5,412.9 L331.2,413.0 L336.9,413.2 L342.6,413.3 L348.3,413.5 M632.8,411.1 L627.1,411.3 L621.4,411.4 L615.7,411.6 L610.0,411.7 L604.4,411.9 L598.7,412.0 L593.0,412.1 L587.3,412.3 L581.6,412.4 L575.9,412.5 L570.2,412.6 L564.5,412.7 L558.8,412.7 L553.1,412.8 L547.5,412.8 L541.8,412.9 L536.1,412.9 L530.4,412.9 L524.7,412.8 L519.0,412.8 L513.3,412.8 L507.6,412.7 L501.9,412.7 L496.2,412.6 L490.6,412.6 L484.9,412.5 L479.2,412.4 L473.5,412.4 L467.8,412.3 L462.1,412.2 L456.4,412.2 L450.7,412.1 L445.0,412.1 L439.3,412.1 L433.7,412.1 L428.0,412.1 L422.3,412.1 L416.6,412.2 L410.9,412.2 L405.2,412.3 L399.5,412.3 L393.8,412.4 L388.1,412.5 L382.4,412.7 L376.8,412.8 L371.1,412.9 L365.4,413.0 L359.7,413.2 L354.0,413.3 L348.3,413.5 M63.8,412.8 L69.5,412.8 L75.2,412.9 L80.9,412.9 L86.6,412.9 L92.2,413.0 L97.9,413.0 L103.6,413.1 L109.3,413.2 L115.0,413.2 L120.7,413.3 L126.4,413.4 L132.1,413.6 L137.8,413.7 L143.5,413.8 L149.1,414.0 L154.8,414.1 L160.5,414.3 L166.2,414.4 L171.9,414.6 L177.6,414.8 L183.3,414.9 L189.0,415.1 L194.7,415.3 L200.4,415.5 L206.1,415.6 L211.7,415.8 L217.4,416.0 L223.1,416.2 L228.8,416.4 L234.5,416.5 L240.2,416.7 L245.9,416.9 L251.6,417.0 L257.3,417.2 L262.9,417.3 L268.6,417.5 L274.3,417.6 L280.0,417.7 L285.7,417.8 L291.4,418.0 L297.1,418.1 L302.8,418.1 L308.5,418.2 L314.2,418.3 L319.9,418.3 L325.5,418.4 L331.2,418.4 L336.9,418.4 L342.6,418.5 L348.3,418.5 M632.8,412.8 L627.1,412.8 L621.4,412.9 L615.7,412.9 L610.0,412.9 L604.4,413.0 L598.7,413.0 L593.0,413.1 L587.3,413.2 L581.6,413.2 L575.9,413.3 L570.2,413.4 L564.5,413.6 L558.8,413.7 L553.1,413.8 L547.5,414.0 L541.8,414.1 L536.1,414.3 L530.4,414.4 L524.7,414.6 L519.0,414.8 L513.3,414.9 L507.6,415.1 L501.9,415.3 L496.2,415.5 L490.6,415.6 L484.9,415.8 L479.2,416.0 L473.5,416.2 L467.8,416.4 L462.1,416.5 L456.4,416.7 L450.7,416.9 L445.0,417.0 L439.3,417.2 L433.7,417.3 L428.0,417.5 L422.3,417.6 L416.6,417.7 L410.9,417.8 L405.2,418.0 L399.5,418.1 L393.8,418.1 L388.1,418.2 L382.4,418.3 L376.8,418.3 L371.1,418.4 L365.4,418.4 L359.7,418.4 L354.0,418.5 L348.3,418.5 M63.8,414.4 L69.5,414.4 L75.2,414.4 L80.9,414.4 L86.6,414.4 L92.2,414.4 L97.9,414.3 L103.6,414.3 L109.3,414.2 L115.0,414.2 L120.7,414.1 L126.4,414.0 L132.1,414.0 L137.8,413.9 L143.5,413.8 L149.1,413.7 L154.8,413.7 L160.5,413.6 L166.2,413.5 L171.9,413.4 L177.6,413.3 L183.3,413.2 L189.0,413.1 L194.7,413.0 L200.4,412.9 L206.1,412.8 L211.7,412.7 L217.4,412.6 L223.1,412.5 L228.8,412.4 L234.5,412.3 L240.2,412.2 L245.9,412.2 L251.6,412.1 L257.3,412.0 L262.9,411.9 L268.6,411.8 L274.3,411.8 L280.0,411.7 L285.7,411.6 L291.4,411.6 L297.1,411.5 L302.8,411.5 L308.5,411.4 L314.2,411.4 L319.9,411.4 L325.5,411.3 L331.2,411.3 L336.9,411.3 L342.6,411.3 L348.3,411.3 M632.8,414.4 L627.1,414.4 L621.4,414.4 L615.7,414.4 L610.0,414.4 L604.4,414.4 L598.7,414.3 L593.0,414.3 L587.3,414.2 L581.6,414.2 L575.9,414.1 L570.2,414.0 L564.5,414.0 L558.8,413.9 L553.1,413.8 L547.5,413.7 L541.8,413.7 L536.1,413.6 L530.4,413.5 L524.7,413.4 L519.0,413.3 L513.3,413.2 L507.6,413.1 L501.9,413.0 L496.2,412.9 L490.6,412.8 L484.9,412.7 L479.2,412.6 L473.5,412.5 L467.8,412.4 L462.1,412.3 L456.4,412.2 L450.7,412.2 L445.0,412.1 L439.3,412.0 L433.7,411.9 L428.0,411.8 L422.3,411.8 L416.6,411.7 L410.9,411.6 L405.2,411.6 L399.5,411.5 L393.8,411.5 L388.1,411.4 L382.4,411.4 L376.8,411.4 L371.1,411.3 L365.4,411.3 L359.7,411.3 L354.0,411.3 L348.3,411.3 M63.8,415.3 L69.5,415.4 L75.2,415.5 L80.9,415.6 L86.6,415.6 L92.2,415.7 L97.9,415.8 L103.6,415.9 L109.3,415.9 L115.0,416.0 L120.7,416.0 L126.4,416.1 L132.1,416.1 L137.8,416.1 L143.5,416.1 L149.1,416.0 L154.8,416.0 L160.5,415.9 L166.2,415.9 L171.9,415.8 L177.6,415.7 L183.3,415.5 L189.0,415.4 L194.7,415.2 L200.4,415.1 L206.1,414.9 L211.7,414.7 L217.4,414.5 L223.1,414.3 L228.8,414.0 L234.5,413.8 L240.2,413.6 L245.9,413.4 L251.6,413.2 L257.3,412.9 L262.9,412.7 L268.6,412.5 L274.3,412.4 L280.0,412.2 L285.7,412.1 L291.4,411.9 L297.1,411.8 L302.8,411.7 L308.5,411.6 L314.2,411.6 L319.9,411.5 L325.5,411.5 L331.2,411.5 L336.9,411.6 L342.6,411.6 L348.3,411.7 M632.8,415.3 L627.1,415.4 L621.4,415.5 L615.7,415.6 L610.0,415.6 L604.4,415.7 L598.7,415.8 L593.0,415.9 L587.3,415.9 L581.6,416.0 L575.9,416.0 L570.2,416.1 L564.5,416.1 L558.8,416.1 L553.1,416.1 L547.5,416.0 L541.8,416.0 L536.1,415.9 L530.4,415.9 L524.7,415.8 L519.0,415.7 L513.3,415.5 L507.6,415.4 L501.9,415.2 L496.2,415.1 L490.6,414.9 L484.9,414.7 L479.2,414.5 L473.5,414.3 L467.8,414.0 L462.1,413.8 L456.4,413.6 L450.7,413.4 L445.0,413.2 L439.3,412.9 L433.7,412.7 L428.0,412.5 L422.3,412.4 L416.6,412.2 L410.9,412.1 L405.2,411.9 L399.5,411.8 L393.8,411.7 L388.1,411.6 L382.4,411.6 L376.8,411.5 L371.1,411.5 L365.4,411.5 L359.7,411.6 L354.0,411.6 L348.3,411.7 M63.8,417.5 L69.5,417.5 L75.2,417.5 L80.9,417.5 L86.6,417.5 L92.2,417.5 L97.9,417.6 L103.6,417.6 L109.3,417.7 L115.0,417.8 L120.7,417.9 L126.4,418.0 L132.1,418.2 L137.8,418.3 L143.5,418.5 L149.1,418.6 L154.8,418.8 L160.5,419.0 L166.2,419.2 L171.9,419.4 L177.6,419.6 L183.3,419.9 L189.0,420.1 L194.7,420.3 L200.4,420.6 L206.1,420.8 L211.7,421.0 L217.4,421.2 L223.1,421.5 L228.8,421.7 L234.5,421.9 L240.2,422.1 L245.9,422.3 L251.6,422.5 L257.3,422.7 L262.9,422.8 L268.6,423.0 L274.3,423.1 L280.0,423.2 L285.7,423.4 L291.4,423.5 L297.1,423.5 L302.8,423.6 L308.5,423.7 L314.2,423.7 L319.9,423.8 L325.5,423.8 L331.2,423.8 L336.9,423.8 L342.6,423.8 L348.3,423.7 M632.8,417.5 L627.1,417.5 L621.4,417.5 L615.7,417.5 L610.0,417.5 L604.4,417.5 L598.7,417.6 L593.0,417.6 L587.3,417.7 L581.6,417.8 L575.9,417.9 L570.2,418.0 L564.5,418.2 L558.8,418.3 L553.1,418.5 L547.5,418.6 L541.8,418.8 L536.1,419.0 L530.4,419.2 L524.7,419.4 L519.0,419.6 L513.3,419.9 L507.6,420.1 L501.9,420.3 L496.2,420.6 L490.6,420.8 L484.9,421.0 L479.2,421.2 L473.5,421.5 L467.8,421.7 L462.1,421.9 L456.4,422.1 L450.7,422.3 L445.0,422.5 L439.3,422.7 L433.7,422.8 L428.0,423.0 L422.3,423.1 L416.6,423.2 L410.9,423.4 L405.2,423.5 L399.5,423.5 L393.8,423.6 L388.1,423.7 L382.4,423.7 L376.8,423.8 L371.1,423.8 L365.4,423.8 L359.7,423.8 L354.0,423.8 L348.3,423.7 M63.8,418.0 L69.5,418.0 L75.2,418.0 L80.9,417.9 L86.6,417.9 L92.2,417.9 L97.9,417.9 L103.6,417.9 L109.3,417.9 L115.0,417.9 L120.7,417.9 L126.4,417.9 L132.1,417.9 L137.8,417.9 L143.5,418.0 L149.1,418.0 L154.8,418.0 L160.5,418.0 L166.2,417.9 L171.9,417.9 L177.6,417.9 L183.3,417.8 L189.0,417.7 L194.7,417.7 L200.4,417.5 L206.1,417.4 L211.7,417.3 L217.4,417.1 L223.1,416.9 L228.8,416.8 L234.5,416.5 L240.2,416.3 L245.9,416.1 L251.6,415.8 L257.3,415.6 L262.9,415.3 L268.6,415.1 L274.3,414.8 L280.0,414.5 L285.7,414.2 L291.4,414.0 L297.1,413.7 L302.8,413.5 L308.5,413.3 L314.2,413.1 L319.9,412.9 L325.5,412.7 L331.2,412.6 L336.9,412.4 L342.6,412.3 L348.3,412.3 M632.8,418.0 L627.1,418.0 L621.4,418.0 L615.7,417.9 L610.0,417.9 L604.4,417.9 L598.7,417.9 L593.0,417.9 L587.3,417.9 L581.6,417.9 L575.9,417.9 L570.2,417.9 L564.5,417.9 L558.8,417.9 L553.1,418.0 L547.5,418.0 L541.8,418.0 L536.1,418.0 L530.4,417.9 L524.7,417.9 L519.0,417.9 L513.3,417.8 L507.6,417.7 L501.9,417.7 L496.2,417.5 L490.6,417.4 L484.9,417.3 L479.2,417.1 L473.5,416.9 L467.8,416.8 L462.1,416.5 L456.4,416.3 L450.7,416.1 L445.0,415.8 L439.3,415.6 L433.7,415.3 L428.0,415.1 L422.3,414.8 L416.6,414.5 L410.9,414.2 L405.2,414.0 L399.5,413.7 L393.8,413.5 L388.1,413.3 L382.4,413.1 L376.8,412.9 L371.1,412.7 L365.4,412.6 L359.7,412.4 L354.0,412.3 L348.3,412.3 M63.8,421.0 L69.5,420.9 L75.2,420.8 L80.9,420.7 L86.6,420.6 L92.2,420.5 L97.9,420.4 L103.6,420.2 L109.3,420.1 L115.0,420.0 L120.7,419.8 L126.4,419.7 L132.1,419.5 L137.8,419.4 L143.5,419.2 L149.1,419.1 L154.8,419.0 L160.5,418.8 L166.2,418.7 L171.9,418.6 L177.6,418.4 L183.3,418.3 L189.0,418.2 L194.7,418.1 L200.4,418.0 L206.1,417.8 L211.7,417.7 L217.4,417.6 L223.1,417.5 L228.8,417.4 L234.5,417.3 L240.2,417.2 L245.9,417.1 L251.6,417.1 L257.3,417.0 L262.9,416.9 L268.6,416.8 L274.3,416.7 L280.0,416.6 L285.7,416.5 L291.4,416.4 L297.1,416.3 L302.8,416.2 L308.5,416.1 L314.2,416.0 L319.9,415.9 L325.5,415.8 L331.2,415.7 L336.9,415.7 L342.6,415.6 L348.3,415.5 M632.8,421.0 L627.1,420.9 L621.4,420.8 L615.7,420.7 L610.0,420.6 L604.4,420.5 L598.7,420.4 L593.0,420.2 L587.3,420.1 L581.6,420.0 L575.9,419.8 L570.2,419.7 L564.5,419.5 L558.8,419.4 L553.1,419.2 L547.5,419.1 L541.8,419.0 L536.1,418.8 L530.4,418.7 L524.7,418.6 L519.0,418.4 L513.3,418.3 L507.6,418.2 L501.9,418.1 L496.2,418.0 L490.6,417.8 L484.9,417.7 L479.2,417.6 L473.5,417.5 L467.8,417.4 L462.1,417.3 L456.4,417.2 L450.7,417.1 L445.0,417.1 L439.3,417.0 L433.7,416.9 L428.0,416.8 L422.3,416.7 L416.6,416.6 L410.9,416.5 L405.2,416.4 L399.5,416.3 L393.8,416.2 L388.1,416.1 L382.4,416.0 L376.8,415.9 L371.1,415.8 L365.4,415.7 L359.7,415.7 L354.0,415.6 L348.3,415.5 M63.8,422.5 L69.5,422.7 L75.2,422.8 L80.9,423.0 L86.6,423.1 L92.2,423.3 L97.9,423.4 L103.6,423.5 L109.3,423.6 L115.0,423.7 L120.7,423.7 L126.4,423.8 L132.1,423.8 L137.8,423.8 L143.5,423.8 L149.1,423.8 L154.8,423.8 L160.5,423.8 L166.2,423.7 L171.9,423.6 L177.6,423.5 L183.3,423.5 L189.0,423.4 L194.7,423.3 L200.4,423.2 L206.1,423.1 L211.7,423.0 L217.4,422.9 L223.1,422.8 L228.8,422.7 L234.5,422.7 L240.2,422.6 L245.9,422.6 L251.6,422.6 L257.3,422.6 L262.9,422.6 L268.6,422.6 L274.3,422.7 L280.0,422.7 L285.7,422.8 L291.4,422.9 L297.1,423.0 L302.8,423.2 L308.5,423.3 L314.2,423.4 L319.9,423.6 L325.5,423.7 L331.2,423.9 L336.9,424.1 L342.6,424.2 L348.3,424.4 M632.8,422.5 L627.1,422.7 L621.4,422.8 L615.7,423.0 L610.0,423.1 L604.4,423.3 L598.7,423.4 L593.0,423.5 L587.3,423.6 L581.6,423.7 L575.9,423.7 L570.2,423.8 L564.5,423.8 L558.8,423.8 L553.1,423.8 L547.5,423.8 L541.8,423.8 L536.1,423.8 L530.4,423.7 L524.7,423.6 L519.0,423.5 L513.3,423.5 L507.6,423.4 L501.9,423.3 L496.2,423.2 L490.6,423.1 L484.9,423.0 L479.2,422.9 L473.5,422.8 L467.8,422.7 L462.1,422.7 L456.4,422.6 L450.7,422.6 L445.0,422.6 L439.3,422.6 L433.7,422.6 L428.0,422.6 L422.3,422.7 L416.6,422.7 L410.9,422.8 L405.2,422.9 L399.5,423.0 L393.8,423.2 L388.1,423.3 L382.4,423.4 L376.8,423.6 L371.1,423.7 L365.4,423.9 L359.7,424.1 L354.0,424.2 L348.3,424.4 M63.8,425.2 L69.5,425.2 L75.2,425.2 L80.9,425.2 L86.6,425.1 L92.2,425.1 L97.9,425.0 L103.6,425.0 L109.3,424.9 L115.0,424.9 L120.7,424.8 L126.4,424.8 L132.1,424.7 L137.8,424.7 L143.5,424.6 L149.1,424.6 L154.8,424.6 L160.5,424.6 L166.2,424.6 L171.9,424.6 L177.6,424.6 L183.3,424.7 L189.0,424.8 L194.7,424.9 L200.4,425.0 L206.1,425.2 L211.7,425.3 L217.4,425.5 L223.1,425.7 L228.8,425.9 L234.5,426.2 L240.2,426.4 L245.9,426.7 L251.6,426.9 L257.3,427.2 L262.9,427.5 L268.6,427.7 L274.3,428.0 L280.0,428.3 L285.7,428.6 L291.4,428.8 L297.1,429.0 L302.8,429.3 L308.5,429.5 L314.2,429.6 L319.9,429.8 L325.5,429.9 L331.2,430.0 L336.9,430.1 L342.6,430.1 L348.3,430.2 M632.8,425.2 L627.1,425.2 L621.4,425.2 L615.7,425.2 L610.0,425.1 L604.4,425.1 L598.7,425.0 L593.0,425.0 L587.3,424.9 L581.6,424.9 L575.9,424.8 L570.2,424.8 L564.5,424.7 L558.8,424.7 L553.1,424.6 L547.5,424.6 L541.8,424.6 L536.1,424.6 L530.4,424.6 L524.7,424.6 L519.0,424.6 L513.3,424.7 L507.6,424.8 L501.9,424.9 L496.2,425.0 L490.6,425.2 L484.9,425.3 L479.2,425.5 L473.5,425.7 L467.8,425.9 L462.1,426.2 L456.4,426.4 L450.7,426.7 L445.0,426.9 L439.3,427.2 L433.7,427.5 L428.0,427.7 L422.3,428.0 L416.6,428.3 L410.9,428.6 L405.2,428.8 L399.5,429.0 L393.8,429.3 L388.1,429.5 L382.4,429.6 L376.8,429.8 L371.1,429.9 L365.4,430.0 L359.7,430.1 L354.0,430.1 L348.3,430.2 M63.8,425.2 L69.5,425.0 L75.2,424.8 L80.9,424.6 L86.6,424.4 L92.2,424.3 L97.9,424.1 L103.6,424.0 L109.3,423.8 L115.0,423.7 L120.7,423.6 L126.4,423.5 L132.1,423.4 L137.8,423.4 L143.5,423.3 L149.1,423.3 L154.8,423.3 L160.5,423.3 L166.2,423.3 L171.9,423.3 L177.6,423.4 L183.3,423.4 L189.0,423.4 L194.7,423.5 L200.4,423.5 L206.1,423.6 L211.7,423.6 L217.4,423.6 L223.1,423.7 L228.8,423.7 L234.5,423.7 L240.2,423.6 L245.9,423.6 L251.6,423.6 L257.3,423.5 L262.9,423.4 L268.6,423.3 L274.3,423.2 L280.0,423.0 L285.7,422.9 L291.4,422.7 L297.1,422.5 L302.8,422.3 L308.5,422.1 L314.2,421.9 L319.9,421.7 L325.5,421.4 L331.2,421.2 L336.9,421.0 L342.6,420.8 L348.3,420.6 M632.8,425.2 L627.1,425.0 L621.4,424.8 L615.7,424.6 L610.0,424.4 L604.4,424.3 L598.7,424.1 L593.0,424.0 L587.3,423.8 L581.6,423.7 L575.9,423.6 L570.2,423.5 L564.5,423.4 L558.8,423.4 L553.1,423.3 L547.5,423.3 L541.8,423.3 L536.1,423.3 L530.4,423.3 L524.7,423.3 L519.0,423.4 L513.3,423.4 L507.6,423.4 L501.9,423.5 L496.2,423.5 L490.6,423.6 L484.9,423.6 L479.2,423.6 L473.5,423.7 L467.8,423.7 L462.1,423.7 L456.4,423.6 L450.7,423.6 L445.0,423.6 L439.3,423.5 L433.7,423.4 L428.0,423.3 L422.3,423.2 L416.6,423.0 L410.9,422.9 L405.2,422.7 L399.5,422.5 L393.8,422.3 L388.1,422.1 L382.4,421.9 L376.8,421.7 L371.1,421.4 L365.4,421.2 L359.7,421.0 L354.0,420.8 L348.3,420.6 M63.8,426.3 L69.5,426.4 L75.2,426.5 L80.9,426.6 L86.6,426.7 L92.2,426.9 L97.9,427.0 L103.6,427.2 L109.3,427.4 L115.0,427.6 L120.7,427.8 L126.4,428.1 L132.1,428.3 L137.8,428.5 L143.5,428.7 L149.1,428.9 L154.8,429.1 L160.5,429.3 L166.2,429.5 L171.9,429.7 L177.6,429.9 L183.3,430.0 L189.0,430.2 L194.7,430.3 L200.4,430.4 L206.1,430.5 L211.7,430.6 L217.4,430.7 L223.1,430.7 L228.8,430.8 L234.5,430.8 L240.2,430.9 L245.9,430.9 L251.6,430.9 L257.3,431.0 L262.9,431.0 L268.6,431.0 L274.3,431.0 L280.0,431.0 L285.7,431.0 L291.4,431.0 L297.1,431.1 L302.8,431.1 L308.5,431.1 L314.2,431.2 L319.9,431.2 L325.5,431.2 L331.2,431.3 L336.9,431.3 L342.6,431.4 L348.3,431.5 M632.8,426.3 L627.1,426.4 L621.4,426.5 L615.7,426.6 L610.0,426.7 L604.4,426.9 L598.7,427.0 L593.0,427.2 L587.3,427.4 L581.6,427.6 L575.9,427.8 L570.2,428.1 L564.5,428.3 L558.8,428.5 L553.1,428.7 L547.5,428.9 L541.8,429.1 L536.1,429.3 L530.4,429.5 L524.7,429.7 L519.0,429.9 L513.3,430.0 L507.6,430.2 L501.9,430.3 L496.2,430.4 L490.6,430.5 L484.9,430.6 L479.2,430.7 L473.5,430.7 L467.8,430.8 L462.1,430.8 L456.4,430.9 L450.7,430.9 L445.0,430.9 L439.3,431.0 L433.7,431.0 L428.0,431.0 L422.3,431.0 L416.6,431.0 L410.9,431.0 L405.2,431.0 L399.5,431.1 L393.8,431.1 L388.1,431.1 L382.4,431.2 L376.8,431.2 L371.1,431.2 L365.4,431.3 L359.7,431.3 L354.0,431.4 L348.3,431.5 M63.8,427.5 L69.5,427.6 L75.2,427.7 L80.9,427.8 L86.6,427.9 L92.2,428.0 L97.9,428.1 L103.6,428.3 L109.3,428.4 L115.0,428.5 L120.7,428.5 L126.4,428.6 L132.1,428.7 L137.8,428.7 L143.5,428.7 L149.1,428.7 L154.8,428.7 L160.5,428.6 L166.2,428.6 L171.9,428.5 L177.6,428.3 L183.3,428.2 L189.0,428.0 L194.7,427.8 L200.4,427.5 L206.1,427.3 L211.7,427.0 L217.4,426.7 L223.1,426.4 L228.8,426.1 L234.5,425.8 L240.2,425.4 L245.9,425.1 L251.6,424.8 L257.3,424.4 L262.9,424.1 L268.6,423.8 L274.3,423.5 L280.0,423.2 L285.7,423.0 L291.4,422.8 L297.1,422.6 L302.8,422.4 L308.5,422.2 L314.2,422.1 L319.9,422.1 L325.5,422.0 L331.2,422.0 L336.9,422.0 L342.6,422.1 L348.3,422.1 M632.8,427.5 L627.1,427.6 L621.4,427.7 L615.7,427.8 L610.0,427.9 L604.4,428.0 L598.7,428.1 L593.0,428.3 L587.3,428.4 L581.6,428.5 L575.9,428.5 L570.2,428.6 L564.5,428.7 L558.8,428.7 L553.1,428.7 L547.5,428.7 L541.8,428.7 L536.1,428.6 L530.4,428.6 L524.7,428.5 L519.0,428.3 L513.3,428.2 L507.6,428.0 L501.9,427.8 L496.2,427.5 L490.6,427.3 L484.9,427.0 L479.2,426.7 L473.5,426.4 L467.8,426.1 L462.1,425.8 L456.4,425.4 L450.7,425.1 L445.0,424.8 L439.3,424.4 L433.7,424.1 L428.0,423.8 L422.3,423.5 L416.6,423.2 L410.9,423.0 L405.2,422.8 L399.5,422.6 L393.8,422.4 L388.1,422.2 L382.4,422.1 L376.8,422.1 L371.1,422.0 L365.4,422.0 L359.7,422.0 L354.0,422.1 L348.3,422.1 M63.8,429.8 L69.5,429.8 L75.2,429.9 L80.9,429.9 L86.6,429.9 L92.2,430.0 L97.9,430.0 L103.6,430.1 L109.3,430.2 L115.0,430.2 L120.7,430.3 L126.4,430.3 L132.1,430.4 L137.8,430.4 L143.5,430.4 L149.1,430.5 L154.8,430.5 L160.5,430.5 L166.2,430.6 L171.9,430.6 L177.6,430.6 L183.3,430.6 L189.0,430.5 L194.7,430.5 L200.4,430.5 L206.1,430.5 L211.7,430.4 L217.4,430.4 L223.1,430.3 L228.8,430.2 L234.5,430.2 L240.2,430.1 L245.9,430.0 L251.6,429.9 L257.3,429.9 L262.9,429.8 L268.6,429.7 L274.3,429.6 L280.0,429.6 L285.7,429.5 L291.4,429.4 L297.1,429.4 L302.8,429.3 L308.5,429.3 L314.2,429.3 L319.9,429.2 L325.5,429.2 L331.2,429.2 L336.9,429.2 L342.6,429.2 L348.3,429.2 M632.8,429.8 L627.1,429.8 L621.4,429.9 L615.7,429.9 L610.0,429.9 L604.4,430.0 L598.7,430.0 L593.0,430.1 L587.3,430.2 L581.6,430.2 L575.9,430.3 L570.2,430.3 L564.5,430.4 L558.8,430.4 L553.1,430.4 L547.5,430.5 L541.8,430.5 L536.1,430.5 L530.4,430.6 L524.7,430.6 L519.0,430.6 L513.3,430.6 L507.6,430.5 L501.9,430.5 L496.2,430.5 L490.6,430.5 L484.9,430.4 L479.2,430.4 L473.5,430.3 L467.8,430.2 L462.1,430.2 L456.4,430.1 L450.7,430.0 L445.0,429.9 L439.3,429.9 L433.7,429.8 L428.0,429.7 L422.3,429.6 L416.6,429.6 L410.9,429.5 L405.2,429.4 L399.5,429.4 L393.8,429.3 L388.1,429.3 L382.4,429.3 L376.8,429.2 L371.1,429.2 L365.4,429.2 L359.7,429.2 L354.0,429.2 L348.3,429.2 M63.8,431.7 L69.5,431.7 L75.2,431.7 L80.9,431.7 L86.6,431.7 L92.2,431.7 L97.9,431.8 L103.6,431.8 L109.3,431.9 L115.0,431.9 L120.7,432.0 L126.4,432.1 L132.1,432.2 L137.8,432.3 L143.5,432.4 L149.1,432.5 L154.8,432.7 L160.5,432.8 L166.2,432.9 L171.9,433.1 L177.6,433.2 L183.3,433.4 L189.0,433.5 L194.7,433.7 L200.4,433.9 L206.1,434.0 L211.7,434.2 L217.4,434.3 L223.1,434.5 L228.8,434.6 L234.5,434.7 L240.2,434.9 L245.9,435.0 L251.6,435.1 L257.3,435.2 L262.9,435.3 L268.6,435.4 L274.3,435.5 L280.0,435.6 L285.7,435.7 L291.4,435.7 L297.1,435.8 L302.8,435.8 L308.5,435.8 L314.2,435.9 L319.9,435.9 L325.5,435.9 L331.2,435.9 L336.9,435.9 L342.6,435.9 L348.3,435.8 M632.8,431.7 L627.1,431.7 L621.4,431.7 L615.7,431.7 L610.0,431.7 L604.4,431.7 L598.7,431.8 L593.0,431.8 L587.3,431.9 L581.6,431.9 L575.9,432.0 L570.2,432.1 L564.5,432.2 L558.8,432.3 L553.1,432.4 L547.5,432.5 L541.8,432.7 L536.1,432.8 L530.4,432.9 L524.7,433.1 L519.0,433.2 L513.3,433.4 L507.6,433.5 L501.9,433.7 L496.2,433.9 L490.6,434.0 L484.9,434.2 L479.2,434.3 L473.5,434.5 L467.8,434.6 L462.1,434.7 L456.4,434.9 L450.7,435.0 L445.0,435.1 L439.3,435.2 L433.7,435.3 L428.0,435.4 L422.3,435.5 L416.6,435.6 L410.9,435.7 L405.2,435.7 L399.5,435.8 L393.8,435.8 L388.1,435.8 L382.4,435.9 L376.8,435.9 L371.1,435.9 L365.4,435.9 L359.7,435.9 L354.0,435.9 L348.3,435.8 M63.8,433.4 L69.5,433.4 L75.2,433.4 L80.9,433.3 L86.6,433.3 L92.2,433.2 L97.9,433.2 L103.6,433.1 L109.3,433.1 L115.0,433.0 L120.7,433.0 L126.4,432.9 L132.1,432.9 L137.8,432.8 L143.5,432.8 L149.1,432.7 L154.8,432.7 L160.5,432.6 L166.2,432.6 L171.9,432.5 L177.6,432.5 L183.3,432.4 L189.0,432.4 L194.7,432.3 L200.4,432.3 L206.1,432.2 L211.7,432.2 L217.4,432.2 L223.1,432.1 L228.8,432.1 L234.5,432.0 L240.2,432.0 L245.9,431.9 L251.6,431.9 L257.3,431.8 L262.9,431.8 L268.6,431.7 L274.3,431.7 L280.0,431.6 L285.7,431.6 L291.4,431.5 L297.1,431.5 L302.8,431.4 L308.5,431.4 L314.2,431.3 L319.9,431.3 L325.5,431.2 L331.2,431.2 L336.9,431.1 L342.6,431.1 L348.3,431.1 M632.8,433.4 L627.1,433.4 L621.4,433.4 L615.7,433.3 L610.0,433.3 L604.4,433.2 L598.7,433.2 L593.0,433.1 L587.3,433.1 L581.6,433.0 L575.9,433.0 L570.2,432.9 L564.5,432.9 L558.8,432.8 L553.1,432.8 L547.5,432.7 L541.8,432.7 L536.1,432.6 L530.4,432.6 L524.7,432.5 L519.0,432.5 L513.3,432.4 L507.6,432.4 L501.9,432.3 L496.2,432.3 L490.6,432.2 L484.9,432.2 L479.2,432.2 L473.5,432.1 L467.8,432.1 L462.1,432.0 L456.4,432.0 L450.7,431.9 L445.0,431.9 L439.3,431.8 L433.7,431.8 L428.0,431.7 L422.3,431.7 L416.6,431.6 L410.9,431.6 L405.2,431.5 L399.5,431.5 L393.8,431.4 L388.1,431.4 L382.4,431.3 L376.8,431.3 L371.1,431.2 L365.4,431.2 L359.7,431.1 L354.0,431.1 L348.3,431.1 M63.8,435.1 L69.5,435.0 L75.2,434.9 L80.9,434.8 L86.6,434.8 L92.2,434.7 L97.9,434.7 L103.6,434.7 L109.3,434.7 L115.0,434.7 L120.7,434.8 L126.4,434.9 L132.1,435.0 L137.8,435.1 L143.5,435.2 L149.1,435.4 L154.8,435.6 L160.5,435.8 L166.2,436.0 L171.9,436.2 L177.6,436.5 L183.3,436.7 L189.0,437.0 L194.7,437.3 L200.4,437.5 L206.1,437.8 L211.7,437.9 L217.4,437.8 L223.1,437.8 L228.8,437.8 L234.5,437.8 L240.2,437.8 L245.9,437.7 L251.6,437.7 L257.3,437.7 L262.9,437.7 L268.6,437.7 L274.3,437.7 L280.0,437.6 L285.7,437.6 L291.4,437.6 L297.1,437.6 L302.8,437.6 L308.5,437.6 L314.2,437.6 L319.9,437.6 L325.5,437.6 L331.2,437.6 L336.9,437.6 L342.6,437.6 L348.3,437.6 M632.8,435.1 L627.1,435.0 L621.4,434.9 L615.7,434.8 L610.0,434.8 L604.4,434.7 L598.7,434.7 L593.0,434.7 L587.3,434.7 L581.6,434.7 L575.9,434.8 L570.2,434.9 L564.5,435.0 L558.8,435.1 L553.1,435.2 L547.5,435.4 L541.8,435.6 L536.1,435.8 L530.4,436.0 L524.7,436.2 L519.0,436.5 L513.3,436.7 L507.6,437.0 L501.9,437.3 L496.2,437.5 L490.6,437.8 L484.9,437.9 L479.2,437.8 L473.5,437.8 L467.8,437.8 L462.1,437.8 L456.4,437.8 L450.7,437.7 L445.0,437.7 L439.3,437.7 L433.7,437.7 L428.0,437.7 L422.3,437.7 L416.6,437.6 L410.9,437.6 L405.2,437.6 L399.5,437.6 L393.8,437.6 L388.1,437.6 L382.4,437.6 L376.8,437.6 L371.1,437.6 L365.4,437.6 L359.7,437.6 L354.0,437.6 L348.3,437.6 M63.8,435.7 L69.5,435.7 L75.2,435.7 L80.9,435.7 L86.6,435.8 L92.2,435.8 L97.9,435.9 L103.6,436.0 L109.3,436.1 L115.0,436.2 L120.7,436.4 L126.4,436.5 L132.1,436.6 L137.8,436.8 L143.5,436.9 L149.1,437.1 L154.8,437.2 L160.5,437.4 L166.2,437.5 L171.9,437.6 L177.6,437.7 L183.3,437.8 L189.0,437.9 L194.7,437.9 L200.4,437.9 L206.1,437.9 L211.7,437.9 L217.4,437.8 L223.1,437.8 L228.8,437.8 L234.5,437.8 L240.2,437.8 L245.9,437.7 L251.6,437.7 L257.3,437.7 L262.9,437.7 L268.6,437.7 L274.3,437.7 L280.0,437.6 L285.7,437.6 L291.4,437.5 L297.1,437.4 L302.8,437.3 L308.5,437.2 L314.2,437.1 L319.9,437.1 L325.5,437.0 L331.2,437.0 L336.9,436.9 L342.6,436.9 L348.3,436.9 M632.8,435.7 L627.1,435.7 L621.4,435.7 L615.7,435.7 L610.0,435.8 L604.4,435.8 L598.7,435.9 L593.0,436.0 L587.3,436.1 L581.6,436.2 L575.9,436.4 L570.2,436.5 L564.5,436.6 L558.8,436.8 L553.1,436.9 L547.5,437.1 L541.8,437.2 L536.1,437.4 L530.4,437.5 L524.7,437.6 L519.0,437.7 L513.3,437.8 L507.6,437.9 L501.9,437.9 L496.2,437.9 L490.6,437.9 L484.9,437.9 L479.2,437.8 L473.5,437.8 L467.8,437.8 L462.1,437.8 L456.4,437.8 L450.7,437.7 L445.0,437.7 L439.3,437.7 L433.7,437.7 L428.0,437.7 L422.3,437.7 L416.6,437.6 L410.9,437.6 L405.2,437.5 L399.5,437.4 L393.8,437.3 L388.1,437.2 L382.4,437.1 L376.8,437.1 L371.1,437.0 L365.4,437.0 L359.7,436.9 L354.0,436.9 L348.3,436.9 M63.8,438.0 L69.5,438.1 L75.2,438.2 L80.9,438.2 L86.6,438.2 L92.2,438.2 L97.9,438.2 L103.6,438.2 L109.3,438.2 L115.0,438.1 L120.7,438.1 L126.4,438.1 L132.1,438.1 L137.8,438.1 L143.5,438.1 L149.1,438.0 L154.8,437.9 L160.5,437.8 L166.2,437.6 L171.9,437.5 L177.6,437.3 L183.3,437.1 L189.0,436.9 L194.7,436.7 L200.4,436.5 L206.1,436.3 L211.7,436.1 L217.4,435.9 L223.1,435.7 L228.8,435.5 L234.5,435.3 L240.2,435.1 L245.9,434.9 L251.6,434.7 L257.3,434.5 L262.9,434.4 L268.6,434.2 L274.3,434.1 L280.0,434.0 L285.7,433.9 L291.4,433.8 L297.1,433.7 L302.8,433.7 L308.5,433.6 L314.2,433.6 L319.9,433.6 L325.5,433.7 L331.2,433.7 L336.9,433.7 L342.6,433.8 L348.3,433.9 M632.8,438.0 L627.1,438.1 L621.4,438.2 L615.7,438.2 L610.0,438.2 L604.4,438.2 L598.7,438.2 L593.0,438.2 L587.3,438.2 L581.6,438.1 L575.9,438.1 L570.2,438.1 L564.5,438.1 L558.8,438.1 L553.1,438.1 L547.5,438.0 L541.8,437.9 L536.1,437.8 L530.4,437.6 L524.7,437.5 L519.0,437.3 L513.3,437.1 L507.6,436.9 L501.9,436.7 L496.2,436.5 L490.6,436.3 L484.9,436.1 L479.2,435.9 L473.5,435.7 L467.8,435.5 L462.1,435.3 L456.4,435.1 L450.7,434.9 L445.0,434.7 L439.3,434.5 L433.7,434.4 L428.0,434.2 L422.3,434.1 L416.6,434.0 L410.9,433.9 L405.2,433.8 L399.5,433.7 L393.8,433.7 L388.1,433.6 L382.4,433.6 L376.8,433.6 L371.1,433.7 L365.4,433.7 L359.7,433.7 L354.0,433.8 L348.3,433.9" fill="none" stroke="#6a6a6a" stroke-width="0.7"/>
<path d="M63.8,383.0 L69.5,382.7 L75.2,382.5 L80.9,382.4 L86.6,382.5 L92.2,382.7 L97.9,383.0 L103.6,383.3 L109.3,383.5 L115.0,383.7 L120.7,383.6 L126.4,383.5 L132.1,383.2 L137.8,382.9 L143.5,382.6 L149.1,382.4 L154.8,382.4 L160.5,382.5 L166.2,382.8 L171.9,383.1 L177.6,383.4 L183.3,383.6 L189.0,383.7 L194.7,383.6 L200.4,383.4 L206.1,383.1 L211.7,382.8 L217.4,382.5 L223.1,382.4 L228.8,382.4 L234.5,382.6 L240.2,382.9 L245.9,383.2 L251.6,383.5 L257.3,383.6 L262.9,383.7 L268.6,383.5 L274.3,383.3 L280.0,382.9 L285.7,382.7 L291.4,382.5 L297.1,382.4 L302.8,382.5 L308.5,382.7 L314.2,383.0 L319.9,383.3 L325.5,383.6 L331.2,383.7 L336.9,383.6 L342.6,383.4 L348.3,383.1" fill="none" stroke="#2e2e2e" stroke-width="1.8"/>
<path d="M632.8,383.0 L627.1,382.7 L621.4,382.5 L615.7,382.4 L610.0,382.5 L604.4,382.7 L598.7,383.0 L593.0,383.3 L587.3,383.5 L581.6,383.7 L575.9,383.6 L570.2,383.5 L564.5,383.2 L558.8,382.9 L553.1,382.6 L547.5,382.4 L541.8,382.4 L536.1,382.5 L530.4,382.8 L524.7,383.1 L519.0,383.4 L513.3,383.6 L507.6,383.7 L501.9,383.6 L496.2,383.4 L490.6,383.1 L484.9,382.8 L479.2,382.5 L473.5,382.4 L467.8,382.4 L462.1,382.6 L456.4,382.9 L450.7,383.2 L445.0,383.5 L439.3,383.6 L433.7,383.7 L428.0,383.5 L422.3,383.3 L416.6,382.9 L410.9,382.7 L405.2,382.5 L399.5,382.4 L393.8,382.5 L388.1,382.7 L382.4,383.0 L376.8,383.3 L371.1,383.6 L365.4,383.7 L359.7,383.6 L354.0,383.4 L348.3,383.1" fill="none" stroke="#2e2e2e" stroke-width="1.8"/>
<path d="M63.8,390.3 L69.5,390.0 L75.2,389.8 L80.9,389.7 L86.6,389.8 L92.2,390.0 L97.9,390.2 L103.6,390.6 L109.3,390.8 L115.0,391.0 L120.7,390.9 L126.4,390.8 L132.1,390.5 L137.8,390.2 L143.5,389.9 L149.1,389.7 L154.8,389.7 L160.5,389.8 L166.2,390.1" fill="none" stroke="#2e2e2e" stroke-width="2.4"/>
<path d="M632.8,390.3 L627.1,390.0 L621.4,389.8 L615.7,389.7 L610.0,389.8 L604.4,390.0 L598.7,390.2 L593.0,390.6 L587.3,390.8 L581.6,391.0 L575.9,390.9 L570.2,390.8 L564.5,390.5 L558.8,390.2 L553.1,389.9 L547.5,389.7 L541.8,389.7 L536.1,389.8 L530.4,390.1" fill="none" stroke="#2e2e2e" stroke-width="2.4"/>
<path d="M166.2,387.9 L171.9,388.2 L177.6,388.5 L183.3,388.7 L189.0,388.7 L194.7,388.7 L200.4,388.5 L206.1,388.2 L211.7,387.8 L217.4,387.6 L223.1,387.5 L228.8,387.5 L234.5,387.7 L240.2,388.0 L245.9,388.3 L251.6,388.6 L257.3,388.7 L262.9,388.7 L268.6,388.6 L274.3,388.3 L280.0,388.0 L285.7,387.7 L291.4,387.5 L297.1,387.5 L302.8,387.6 L308.5,387.8 L314.2,388.1 L319.9,388.4 L325.5,388.6 L331.2,388.7 L336.9,388.7 L342.6,388.5 L348.3,388.2" fill="none" stroke="#2e2e2e" stroke-width="1.6"/>
<path d="M530.4,387.9 L524.7,388.2 L519.0,388.5 L513.3,388.7 L507.6,388.7 L501.9,388.7 L496.2,388.5 L490.6,388.2 L484.9,387.8 L479.2,387.6 L473.5,387.5 L467.8,387.5 L462.1,387.7 L456.4,388.0 L450.7,388.3 L445.0,388.6 L439.3,388.7 L433.7,388.7 L428.0,388.6 L422.3,388.3 L416.6,388.0 L410.9,387.7 L405.2,387.5 L399.5,387.5 L393.8,387.6 L388.1,387.8 L382.4,388.1 L376.8,388.4 L371.1,388.6 L365.4,388.7 L359.7,388.7 L354.0,388.5 L348.3,388.2" fill="none" stroke="#2e2e2e" stroke-width="1.6"/>
<path d="M63.8,398.9 L69.5,398.6 L75.2,398.4 L80.9,398.3 L86.6,398.3 L92.2,398.5 L97.9,398.8 L103.6,399.1 L109.3,399.4 L115.0,399.5 L120.7,399.5 L126.4,399.3 L132.1,399.1 L137.8,398.8 L143.5,398.5 L149.1,398.3 L154.8,398.3 L160.5,398.4 L166.2,398.6 L171.9,398.9 L177.6,399.2" fill="none" stroke="#2e2e2e" stroke-width="2.6"/>
<path d="M632.8,398.9 L627.1,398.6 L621.4,398.4 L615.7,398.3 L610.0,398.3 L604.4,398.5 L598.7,398.8 L593.0,399.1 L587.3,399.4 L581.6,399.5 L575.9,399.5 L570.2,399.3 L564.5,399.1 L558.8,398.8 L553.1,398.5 L547.5,398.3 L541.8,398.3 L536.1,398.4 L530.4,398.6 L524.7,398.9 L519.0,399.2" fill="none" stroke="#2e2e2e" stroke-width="2.6"/>
<path d="M177.6,401.8 L183.3,402.0 L189.0,402.1 L194.7,402.0 L200.4,401.8 L206.1,401.5 L211.7,401.2 L217.4,400.9 L223.1,400.8 L228.8,400.8 L234.5,401.0 L240.2,401.3 L245.9,401.6 L251.6,401.9 L257.3,402.0 L262.9,402.0 L268.6,401.9 L274.3,401.6 L280.0,401.3 L285.7,401.0 L291.4,400.8 L297.1,400.8 L302.8,400.9 L308.5,401.1 L314.2,401.4 L319.9,401.7 L325.5,402.0 L331.2,402.1 L336.9,402.0 L342.6,401.8 L348.3,401.5" fill="none" stroke="#2e2e2e" stroke-width="2.2"/>
<path d="M519.0,401.8 L513.3,402.0 L507.6,402.1 L501.9,402.0 L496.2,401.8 L490.6,401.5 L484.9,401.2 L479.2,400.9 L473.5,400.8 L467.8,400.8 L462.1,401.0 L456.4,401.3 L450.7,401.6 L445.0,401.9 L439.3,402.0 L433.7,402.0 L428.0,401.9 L422.3,401.6 L416.6,401.3 L410.9,401.0 L405.2,400.8 L399.5,400.8 L393.8,400.9 L388.1,401.1 L382.4,401.4 L376.8,401.7 L371.1,402.0 L365.4,402.1 L359.7,402.0 L354.0,401.8 L348.3,401.5" fill="none" stroke="#2e2e2e" stroke-width="2.2"/>
<path d="M63.8,417.9 L69.5,417.6 L75.2,417.4 L80.9,417.3 L86.6,417.3 L92.2,417.5 L97.9,417.8 L103.6,418.1 L109.3,418.4 L115.0,418.5 L120.7,418.5 L126.4,418.4 L132.1,418.1 L137.8,417.8 L143.5,417.5 L149.1,417.3 L154.8,417.3 L160.5,417.4 L166.2,417.6" fill="none" stroke="#2e2e2e" stroke-width="2.8"/>
<path d="M632.8,417.9 L627.1,417.6 L621.4,417.4 L615.7,417.3 L610.0,417.3 L604.4,417.5 L598.7,417.8 L593.0,418.1 L587.3,418.4 L581.6,418.5 L575.9,418.5 L570.2,418.4 L564.5,418.1 L558.8,417.8 L553.1,417.5 L547.5,417.3 L541.8,417.3 L536.1,417.4 L530.4,417.6" fill="none" stroke="#2e2e2e" stroke-width="2.8"/>
<path d="M166.2,420.5 L171.9,420.8 L177.6,421.1 L183.3,421.3 L189.0,421.4 L194.7,421.3 L200.4,421.1 L206.1,420.8 L211.7,420.5 L217.4,420.3 L223.1,420.1 L228.8,420.2 L234.5,420.4 L240.2,420.6 L245.9,420.9 L251.6,421.2 L257.3,421.4 L262.9,421.4 L268.6,421.2" fill="none" stroke="#2e2e2e" stroke-width="1.8"/>
<path d="M530.4,420.5 L524.7,420.8 L519.0,421.1 L513.3,421.3 L507.6,421.4 L501.9,421.3 L496.2,421.1 L490.6,420.8 L484.9,420.5 L479.2,420.3 L473.5,420.1 L467.8,420.2 L462.1,420.4 L456.4,420.6 L450.7,420.9 L445.0,421.2 L439.3,421.4 L433.7,421.4 L428.0,421.2" fill="none" stroke="#2e2e2e" stroke-width="1.8"/>
<path d="M63.8,430.0 L69.5,429.7 L75.2,429.4 L80.9,429.3 L86.6,429.4 L92.2,429.6 L97.9,429.9 L103.6,430.2 L109.3,430.4 L115.0,430.6 L120.7,430.6 L126.4,430.4 L132.1,430.1 L137.8,429.8 L143.5,429.5 L149.1,429.4 L154.8,429.3 L160.5,429.4 L166.2,429.7 L171.9,430.0 L177.6,430.3 L183.3,430.5 L189.0,430.6 L194.7,430.5 L200.4,430.3 L206.1,430.0 L211.7,429.7 L217.4,429.4 L223.1,429.3 L228.8,429.4 L234.5,429.5 L240.2,429.8 L245.9,430.1 L251.6,430.4 L257.3,430.6 L262.9,430.6 L268.6,430.4 L274.3,430.2 L280.0,429.9 L285.7,429.6 L291.4,429.4 L297.1,429.3 L302.8,429.4 L308.5,429.7 L314.2,430.0 L319.9,430.3 L325.5,430.5 L331.2,430.6 L336.9,430.5 L342.6,430.3 L348.3,430.0" fill="none" stroke="#2e2e2e" stroke-width="1.3"/>
<path d="M632.8,430.0 L627.1,429.7 L621.4,429.4 L615.7,429.3 L610.0,429.4 L604.4,429.6 L598.7,429.9 L593.0,430.2 L587.3,430.4 L581.6,430.6 L575.9,430.6 L570.2,430.4 L564.5,430.1 L558.8,429.8 L553.1,429.5 L547.5,429.4 L541.8,429.3 L536.1,429.4 L530.4,429.7 L524.7,430.0 L519.0,430.3 L513.3,430.5 L507.6,430.6 L501.9,430.5 L496.2,430.3 L490.6,430.0 L484.9,429.7 L479.2,429.4 L473.5,429.3 L467.8,429.4 L462.1,429.5 L456.4,429.8 L450.7,430.1 L445.0,430.4 L439.3,430.6 L433.7,430.6 L428.0,430.4 L422.3,430.2 L416.6,429.9 L410.9,429.6 L405.2,429.4 L399.5,429.3 L393.8,429.4 L388.1,429.7 L382.4,430.0 L376.8,430.3 L371.1,430.5 L365.4,430.6 L359.7,430.5 L354.0,430.3 L348.3,430.0" fill="none" stroke="#2e2e2e" stroke-width="1.3"/>
<path d="M63.8,434.7 L69.5,434.4 L75.2,434.2 L80.9,434.1 L86.6,434.1 L92.2,434.3 L97.9,434.6 L103.6,434.9 L109.3,435.2 L115.0,435.3 L120.7,435.3 L126.4,435.2 L132.1,434.9 L137.8,434.6 L143.5,434.3 L149.1,434.1 L154.8,434.1 L160.5,434.2 L166.2,434.4" fill="none" stroke="#2e2e2e" stroke-width="1.4"/>
<path d="M632.8,434.7 L627.1,434.4 L621.4,434.2 L615.7,434.1 L610.0,434.1 L604.4,434.3 L598.7,434.6 L593.0,434.9 L587.3,435.2 L581.6,435.3 L575.9,435.3 L570.2,435.2 L564.5,434.9 L558.8,434.6 L553.1,434.3 L547.5,434.1 L541.8,434.1 L536.1,434.2 L530.4,434.4" fill="none" stroke="#2e2e2e" stroke-width="1.4"/>
<path d="M268.6,415.9 L274.3,415.6 L280.0,415.3 L285.7,415.0 L291.4,414.8 L297.1,414.7 L302.8,414.8 L308.5,415.1 L314.2,415.4 L319.9,415.7 L325.5,415.9 L331.2,416.0 L336.9,415.9 L342.6,415.7 L348.3,415.5" fill="none" stroke="#2e2e2e" stroke-width="1.3"/>
<path d="M428.0,415.9 L422.3,415.6 L416.6,415.3 L410.9,415.0 L405.2,414.8 L399.5,414.7 L393.8,414.8 L388.1,415.1 L382.4,415.4 L376.8,415.7 L371.1,415.9 L365.4,416.0 L359.7,415.9 L354.0,415.7 L348.3,415.5" fill="none" stroke="#2e2e2e" stroke-width="1.3"/>
<path d="M268.6,423.1 L274.3,422.9 L280.0,422.6 L285.7,422.3 L291.4,422.1 L297.1,422.0 L302.8,422.1 L308.5,422.4 L314.2,422.7 L319.9,423.0 L325.5,423.2 L331.2,423.3 L336.9,423.2 L342.6,423.0 L348.3,422.7" fill="none" stroke="#2e2e2e" stroke-width="1.2"/>
<path d="M428.0,423.1 L422.3,422.9 L416.6,422.6 L410.9,422.3 L405.2,422.1 L399.5,422.0 L393.8,422.1 L388.1,422.4 L382.4,422.7 L376.8,423.0 L371.1,423.2 L365.4,423.3 L359.7,423.2 L354.0,423.0 L348.3,422.7" fill="none" stroke="#2e2e2e" stroke-width="1.2"/>
<path d="M63.8,386.8 L69.5,386.8" fill="none" stroke="#f6f6f6" stroke-width="1.4" stroke-linecap="round"/>
<path d="M69.5,386.8 L75.2,386.8" fill="none" stroke="#f6f6f6" stroke-width="1.4" stroke-linecap="round"/>
<path d="M75.2,386.8 L80.9,386.8" fill="none" stroke="#f6f6f6" stroke-width="1.4" stroke-linecap="round"/>
<path d="M80.9,386.8 L86.6,386.8" fill="none" stroke="#f6f6f6" stroke-width="1.4" stroke-linecap="round"/>
<path d="M86.6,386.8 L92.2,386.8" fill="none" stroke="#f6f6f6" stroke-width="1.4" stroke-linecap="round"/>
<path d="M92.2,386.8 L97.9,386.8" fill="none" stroke="#f6f6f6" stroke-width="1.4" stroke-linecap="round"/>
<path d="M97.9,386.8 L103.6,386.8" fill="none" stroke="#f6f6f6" stroke-width="1.4" stroke-linecap="round"/>
<path d="M103.6,386.8 L109.3,386.8" fill="none" stroke="#f6f6f6" stroke-width="1.4" stroke-linecap="round"/>
<path d="M109.3,386.8 L115.0,386.8" fill="none" stroke="#f6f6f6" stroke-width="1.4" stroke-linecap="round"/>
<path d="M115.0,386.8 L120.7,386.8" fill="none" stroke="#f6f6f6" stroke-width="1.4" stroke-linecap="round"/>
<path d="M120.7,386.8 L126.4,386.8" fill="none" stroke="#f6f6f6" stroke-width="1.4" stroke-linecap="round"/>
<path d="M126.4,386.8 L132.1,386.8" fill="none" stroke="#f6f6f6" stroke-width="1.4" stroke-linecap="round"/>
<path d="M132.1,386.8 L137.8,386.8" fill="none" stroke="#f6f6f6" stroke-width="1.4" stroke-linecap="round"/>
<path d="M137.8,386.8 L143.5,386.8" fill="none" stroke="#f6f6f6" stroke-width="1.4" stroke-linecap="round"/>
<path d="M632.8,386.8 L627.1,386.8" fill="none" stroke="#f6f6f6" stroke-width="1.4" stroke-linecap="round"/>
<path d="M627.1,386.8 L621.4,386.8" fill="none" stroke="#f6f6f6" stroke-width="1.4" stroke-linecap="round"/>
<path d="M621.4,386.8 L615.7,386.8" fill="none" stroke="#f6f6f6" stroke-width="1.4" stroke-linecap="round"/>
<path d="M615.7,386.8 L610.0,386.8" fill="none" stroke="#f6f6f6" stroke-width="1.4" stroke-linecap="round"/>
<path d="M610.0,386.8 L604.4,386.8" fill="none" stroke="#f6f6f6" stroke-width="1.4" stroke-linecap="round"/>
<path d="M604.4,386.8 L598.7,386.8" fill="none" stroke="#f6f6f6" stroke-width="1.4" stroke-linecap="round"/>
<path d="M598.7,386.8 L593.0,386.8" fill="none" stroke="#f6f6f6" stroke-width="1.4" stroke-linecap="round"/>
<path d="M593.0,386.8 L587.3,386.8" fill="none" stroke="#f6f6f6" stroke-width="1.4" stroke-linecap="round"/>
<path d="M587.3,386.8 L581.6,386.8" fill="none" stroke="#f6f6f6" stroke-width="1.4" stroke-linecap="round"/>
<path d="M581.6,386.8 L575.9,386.8" fill="none" stroke="#f6f6f6" stroke-width="1.4" stroke-linecap="round"/>
<path d="M575.9,386.8 L570.2,386.8" fill="none" stroke="#f6f6f6" stroke-width="1.4" stroke-linecap="round"/>
<path d="M570.2,386.8 L564.5,386.8" fill="none" stroke="#f6f6f6" stroke-width="1.4" stroke-linecap="round"/>
<path d="M564.5,386.8 L558.8,386.8" fill="none" stroke="#f6f6f6" stroke-width="1.4" stroke-linecap="round"/>
<path d="M558.8,386.8 L553.1,386.8" fill="none" stroke="#f6f6f6" stroke-width="1.4" stroke-linecap="round"/>
<path d="M63.8,393.8 L69.5,393.8" fill="none" stroke="#f6f6f6" stroke-width="1.2" stroke-linecap="round"/>
<path d="M69.5,393.8 L75.2,393.8" fill="none" stroke="#f6f6f6" stroke-width="1.2" stroke-linecap="round"/>
<path d="M75.2,393.8 L80.9,393.8" fill="none" stroke="#f6f6f6" stroke-width="1.2" stroke-linecap="round"/>
<path d="M80.9,393.8 L86.6,393.8" fill="none" stroke="#f6f6f6" stroke-width="1.2" stroke-linecap="round"/>
<path d="M86.6,393.8 L92.2,393.8" fill="none" stroke="#f6f6f6" stroke-width="1.2" stroke-linecap="round"/>
<path d="M92.2,393.8 L97.9,393.8" fill="none" stroke="#f6f6f6" stroke-width="1.2" stroke-linecap="round"/>
<path d="M97.9,393.8 L103.6,393.8" fill="none" stroke="#f6f6f6" stroke-width="1.2" stroke-linecap="round"/>
<path d="M103.6,393.8 L109.3,393.8" fill="none" stroke="#f6f6f6" stroke-width="1.2" stroke-linecap="round"/>
<path d="M109.3,393.8 L115.0,393.8" fill="none" stroke="#f6f6f6" stroke-width="1.2" stroke-linecap="round"/>
<path d="M115.0,393.8 L120.7,393.8" fill="none" stroke="#f6f6f6" stroke-width="1.2" stroke-linecap="round"/>
<path d="M120.7,393.8 L126.4,393.8" fill="none" stroke="#f6f6f6" stroke-width="1.2" stroke-linecap="round"/>
<path d="M126.4,393.8 L132.1,393.8" fill="none" stroke="#f6f6f6" stroke-width="1.2" stroke-linecap="round"/>
<path d="M132.1,393.8 L137.8,393.8" fill="none" stroke="#f6f6f6" stroke-width="1.2" stroke-linecap="round"/>
<path d="M137.8,393.8 L143.5,393.8" fill="none" stroke="#f6f6f6" stroke-width="1.2" stroke-linecap="round"/>
<path d="M143.5,393.8 L149.1,393.8" fill="none" stroke="#f6f6f6" stroke-width="1.2" stroke-linecap="round"/>
<path d="M149.1,393.8 L154.8,393.8" fill="none" stroke="#f6f6f6" stroke-width="1.2" stroke-linecap="round"/>
<path d="M154.8,393.8 L160.5,393.8" fill="none" stroke="#f6f6f6" stroke-width="1.2" stroke-linecap="round"/>
<path d="M160.5,393.8 L166.2,393.8" fill="none" stroke="#f6f6f6" stroke-width="1.2" stroke-linecap="round"/>
<path d="M166.2,393.8 L171.9,393.8" fill="none" stroke="#f6f6f6" stroke-width="1.2" stroke-linecap="round"/>
<path d="M171.9,393.8 L177.6,393.8" fill="none" stroke="#f6f6f6" stroke-width="1.2" stroke-linecap="round"/>
<path d="M177.6,393.8 L183.3,393.8" fill="none" stroke="#f6f6f6" stroke-width="1.2" stroke-linecap="round"/>
<path d="M183.3,393.8 L189.0,393.8" fill="none" stroke="#f6f6f6" stroke-width="1.2" stroke-linecap="round"/>
<path d="M189.0,393.8 L194.7,393.8" fill="none" stroke="#f6f6f6" stroke-width="1.2" stroke-linecap="round"/>
<path d="M194.7,393.8 L200.4,393.8" fill="none" stroke="#f6f6f6" stroke-width="1.2" stroke-linecap="round"/>
<path d="M200.4,393.8 L206.1,393.8" fill="none" stroke="#f6f6f6" stroke-width="1.2" stroke-linecap="round"/>
<path d="M206.1,393.8 L211.7,393.8" fill="none" stroke="#f6f6f6" stroke-width="1.2" stroke-linecap="round"/>
<path d="M211.7,393.8 L217.4,393.8" fill="none" stroke="#f6f6f6" stroke-width="1.2" stroke-linecap="round"/>
<path d="M217.4,393.8 L223.1,393.8" fill="none" stroke="#f6f6f6" stroke-width="1.2" stroke-linecap="round"/>
<path d="M223.1,393.8 L228.8,393.8" fill="none" stroke="#f6f6f6" stroke-width="1.2" stroke-linecap="round"/>
<path d="M228.8,393.8 L234.5,393.8" fill="none" stroke="#f6f6f6" stroke-width="1.2" stroke-linecap="round"/>
<path d="M234.5,393.8 L240.2,393.8" fill="none" stroke="#f6f6f6" stroke-width="1.2" stroke-linecap="round"/>
<path d="M240.2,393.8 L245.9,393.8" fill="none" stroke="#f6f6f6" stroke-width="1.2" stroke-linecap="round"/>
<path d="M632.8,393.8 L627.1,393.8" fill="none" stroke="#f6f6f6" stroke-width="1.2" stroke-linecap="round"/>
<path d="M627.1,393.8 L621.4,393.8" fill="none" stroke="#f6f6f6" stroke-width="1.2" stroke-linecap="round"/>
<path d="M621.4,393.8 L615.7,393.8" fill="none" stroke="#f6f6f6" stroke-width="1.2" stroke-linecap="round"/>
<path d="M615.7,393.8 L610.0,393.8" fill="none" stroke="#f6f6f6" stroke-width="1.2" stroke-linecap="round"/>
<path d="M610.0,393.8 L604.4,393.8" fill="none" stroke="#f6f6f6" stroke-width="1.2" stroke-linecap="round"/>
<path d="M604.4,393.8 L598.7,393.8" fill="none" stroke="#f6f6f6" stroke-width="1.2" stroke-linecap="round"/>
<path d="M598.7,393.8 L593.0,393.8" fill="none" stroke="#f6f6f6" stroke-width="1.2" stroke-linecap="round"/>
<path d="M593.0,393.8 L587.3,393.8" fill="none" stroke="#f6f6f6" stroke-width="1.2" stroke-linecap="round"/>
<path d="M587.3,393.8 L581.6,393.8" fill="none" stroke="#f6f6f6" stroke-width="1.2" stroke-linecap="round"/>
<path d="M581.6,393.8 L575.9,393.8" fill="none" stroke="#f6f6f6" stroke-width="1.2" stroke-linecap="round"/>
<path d="M575.9,393.8 L570.2,393.8" fill="none" stroke="#f6f6f6" stroke-width="1.2" stroke-linecap="round"/>
<path d="M570.2,393.8 L564.5,393.8" fill="none" stroke="#f6f6f6" stroke-width="1.2" stroke-linecap="round"/>
<path d="M564.5,393.8 L558.8,393.8" fill="none" stroke="#f6f6f6" stroke-width="1.2" stroke-linecap="round"/>
<path d="M558.8,393.8 L553.1,393.8" fill="none" stroke="#f6f6f6" stroke-width="1.2" stroke-linecap="round"/>
<path d="M553.1,393.8 L547.5,393.8" fill="none" stroke="#f6f6f6" stroke-width="1.2" stroke-linecap="round"/>
<path d="M547.5,393.8 L541.8,393.8" fill="none" stroke="#f6f6f6" stroke-width="1.2" stroke-linecap="round"/>
<path d="M541.8,393.8 L536.1,393.8" fill="none" stroke="#f6f6f6" stroke-width="1.2" stroke-linecap="round"/>
<path d="M536.1,393.8 L530.4,393.8" fill="none" stroke="#f6f6f6" stroke-width="1.2" stroke-linecap="round"/>
<path d="M530.4,393.8 L524.7,393.8" fill="none" stroke="#f6f6f6" stroke-width="1.2" stroke-linecap="round"/>
<path d="M524.7,393.8 L519.0,393.8" fill="none" stroke="#f6f6f6" stroke-width="1.2" stroke-linecap="round"/>
<path d="M519.0,393.8 L513.3,393.8" fill="none" stroke="#f6f6f6" stroke-width="1.2" stroke-linecap="round"/>
<path d="M513.3,393.8 L507.6,393.8" fill="none" stroke="#f6f6f6" stroke-width="1.2" stroke-linecap="round"/>
<path d="M507.6,393.8 L501.9,393.8" fill="none" stroke="#f6f6f6" stroke-width="1.2" stroke-linecap="round"/>
<path d="M501.9,393.8 L496.2,393.8" fill="none" stroke="#f6f6f6" stroke-width="1.2" stroke-linecap="round"/>
<path d="M496.2,393.8 L490.6,393.8" fill="none" stroke="#f6f6f6" stroke-width="1.2" stroke-linecap="round"/>
<path d="M490.6,393.8 L484.9,393.8" fill="none" stroke="#f6f6f6" stroke-width="1.2" stroke-linecap="round"/>
<path d="M484.9,393.8 L479.2,393.8" fill="none" stroke="#f6f6f6" stroke-width="1.2" stroke-linecap="round"/>
<path d="M479.2,393.8 L473.5,393.8" fill="none" stroke="#f6f6f6" stroke-width="1.2" stroke-linecap="round"/>
<path d="M473.5,393.8 L467.8,393.8" fill="none" stroke="#f6f6f6" stroke-width="1.2" stroke-linecap="round"/>
<path d="M467.8,393.8 L462.1,393.8" fill="none" stroke="#f6f6f6" stroke-width="1.2" stroke-linecap="round"/>
<path d="M462.1,393.8 L456.4,393.8" fill="none" stroke="#f6f6f6" stroke-width="1.2" stroke-linecap="round"/>
<path d="M456.4,393.8 L450.7,393.8" fill="none" stroke="#f6f6f6" stroke-width="1.2" stroke-linecap="round"/>
<path d="M257.3,397.0 L262.9,397.0" fill="none" stroke="#f6f6f6" stroke-width="1.3" stroke-linecap="round"/>
<path d="M262.9,397.0 L268.6,397.0" fill="none" stroke="#f6f6f6" stroke-width="1.3" stroke-linecap="round"/>
<path d="M268.6,397.0 L274.3,397.0" fill="none" stroke="#f6f6f6" stroke-width="1.3" stroke-linecap="round"/>
<path d="M274.3,397.0 L280.0,397.0" fill="none" stroke="#f6f6f6" stroke-width="1.3" stroke-linecap="round"/>
<path d="M280.0,397.0 L285.7,397.0" fill="none" stroke="#f6f6f6" stroke-width="1.3" stroke-linecap="round"/>
<path d="M285.7,397.0 L291.4,397.0" fill="none" stroke="#f6f6f6" stroke-width="1.3" stroke-linecap="round"/>
<path d="M291.4,397.0 L297.1,397.0" fill="none" stroke="#f6f6f6" stroke-width="1.3" stroke-linecap="round"/>
<path d="M297.1,397.0 L302.8,397.0" fill="none" stroke="#f6f6f6" stroke-width="1.3" stroke-linecap="round"/>
<path d="M302.8,397.0 L308.5,397.0" fill="none" stroke="#f6f6f6" stroke-width="1.3" stroke-linecap="round"/>
<path d="M308.5,397.0 L314.2,397.0" fill="none" stroke="#f6f6f6" stroke-width="1.3" stroke-linecap="round"/>
<path d="M314.2,397.0 L319.9,397.0" fill="none" stroke="#f6f6f6" stroke-width="1.3" stroke-linecap="round"/>
<path d="M319.9,397.0 L325.5,397.0" fill="none" stroke="#f6f6f6" stroke-width="1.3" stroke-linecap="round"/>
<path d="M325.5,397.0 L331.2,397.0" fill="none" stroke="#f6f6f6" stroke-width="1.3" stroke-linecap="round"/>
<path d="M331.2,397.0 L336.9,397.0" fill="none" stroke="#f6f6f6" stroke-width="1.3" stroke-linecap="round"/>
<path d="M439.3,397.0 L433.7,397.0" fill="none" stroke="#f6f6f6" stroke-width="1.3" stroke-linecap="round"/>
<path d="M433.7,397.0 L428.0,397.0" fill="none" stroke="#f6f6f6" stroke-width="1.3" stroke-linecap="round"/>
<path d="M428.0,397.0 L422.3,397.0" fill="none" stroke="#f6f6f6" stroke-width="1.3" stroke-linecap="round"/>
<path d="M422.3,397.0 L416.6,397.0" fill="none" stroke="#f6f6f6" stroke-width="1.3" stroke-linecap="round"/>
<path d="M416.6,397.0 L410.9,397.0" fill="none" stroke="#f6f6f6" stroke-width="1.3" stroke-linecap="round"/>
<path d="M410.9,397.0 L405.2,397.0" fill="none" stroke="#f6f6f6" stroke-width="1.3" stroke-linecap="round"/>
<path d="M405.2,397.0 L399.5,397.0" fill="none" stroke="#f6f6f6" stroke-width="1.3" stroke-linecap="round"/>
<path d="M399.5,397.0 L393.8,397.0" fill="none" stroke="#f6f6f6" stroke-width="1.3" stroke-linecap="round"/>
<path d="M393.8,397.0 L388.1,397.0" fill="none" stroke="#f6f6f6" stroke-width="1.3" stroke-linecap="round"/>
<path d="M388.1,397.0 L382.4,397.0" fill="none" stroke="#f6f6f6" stroke-width="1.3" stroke-linecap="round"/>
<path d="M382.4,397.0 L376.8,397.0" fill="none" stroke="#f6f6f6" stroke-width="1.3" stroke-linecap="round"/>
<path d="M376.8,397.0 L371.1,397.0" fill="none" stroke="#f6f6f6" stroke-width="1.3" stroke-linecap="round"/>
<path d="M371.1,397.0 L365.4,397.0" fill="none" stroke="#f6f6f6" stroke-width="1.3" stroke-linecap="round"/>
<path d="M365.4,397.0 L359.7,397.0" fill="none" stroke="#f6f6f6" stroke-width="1.3" stroke-linecap="round"/>
<path d="M63.8,406.8 L69.5,406.8" fill="none" stroke="#f6f6f6" stroke-width="2.3" stroke-linecap="round"/>
<path d="M69.5,406.8 L75.2,406.8" fill="none" stroke="#f6f6f6" stroke-width="2.4" stroke-linecap="round"/>
<path d="M75.2,406.8 L80.9,406.8" fill="none" stroke="#f6f6f6" stroke-width="2.5" stroke-linecap="round"/>
<path d="M80.9,406.8 L86.6,406.8" fill="none" stroke="#f6f6f6" stroke-width="2.6" stroke-linecap="round"/>
<path d="M86.6,406.8 L92.2,406.8" fill="none" stroke="#f6f6f6" stroke-width="2.7" stroke-linecap="round"/>
<path d="M92.2,406.8 L97.9,406.8" fill="none" stroke="#f6f6f6" stroke-width="2.8" stroke-linecap="round"/>
<path d="M97.9,406.8 L103.6,406.8" fill="none" stroke="#f6f6f6" stroke-width="2.9" stroke-linecap="round"/>
<path d="M103.6,406.8 L109.3,406.8" fill="none" stroke="#f6f6f6" stroke-width="3.0" stroke-linecap="round"/>
<path d="M109.3,406.8 L115.0,406.8" fill="none" stroke="#f6f6f6" stroke-width="3.1" stroke-linecap="round"/>
<path d="M115.0,406.8 L120.7,406.8" fill="none" stroke="#f6f6f6" stroke-width="3.2" stroke-linecap="round"/>
<path d="M120.7,406.8 L126.4,406.8" fill="none" stroke="#f6f6f6" stroke-width="3.3" stroke-linecap="round"/>
<path d="M126.4,406.8 L132.1,406.8" fill="none" stroke="#f6f6f6" stroke-width="3.4" stroke-linecap="round"/>
<path d="M132.1,406.8 L137.8,406.8" fill="none" stroke="#f6f6f6" stroke-width="3.5" stroke-linecap="round"/>
<path d="M137.8,406.8 L143.5,406.8" fill="none" stroke="#f6f6f6" stroke-width="3.6" stroke-linecap="round"/>
<path d="M143.5,406.8 L149.1,406.8" fill="none" stroke="#f6f6f6" stroke-width="3.6" stroke-linecap="round"/>
<path d="M149.1,406.8 L154.8,406.8" fill="none" stroke="#f6f6f6" stroke-width="3.7" stroke-linecap="round"/>
<path d="M154.8,406.8 L160.5,406.8" fill="none" stroke="#f6f6f6" stroke-width="3.7" stroke-linecap="round"/>
<path d="M160.5,406.8 L166.2,406.8" fill="none" stroke="#f6f6f6" stroke-width="3.8" stroke-linecap="round"/>
<path d="M166.2,406.8 L171.9,406.8" fill="none" stroke="#f6f6f6" stroke-width="3.9" stroke-linecap="round"/>
<path d="M171.9,406.8 L177.6,406.8" fill="none" stroke="#f6f6f6" stroke-width="3.9" stroke-linecap="round"/>
<path d="M177.6,406.8 L183.3,406.8" fill="none" stroke="#f6f6f6" stroke-width="3.9" stroke-linecap="round"/>
<path d="M183.3,406.8 L189.0,406.8" fill="none" stroke="#f6f6f6" stroke-width="4.0" stroke-linecap="round"/>
<path d="M189.0,406.8 L194.7,406.8" fill="none" stroke="#f6f6f6" stroke-width="4.0" stroke-linecap="round"/>
<path d="M194.7,406.8 L200.4,406.8" fill="none" stroke="#f6f6f6" stroke-width="4.0" stroke-linecap="round"/>
<path d="M200.4,406.8 L206.1,406.8" fill="none" stroke="#f6f6f6" stroke-width="4.0" stroke-linecap="round"/>
<path d="M206.1,406.8 L211.7,406.8" fill="none" stroke="#f6f6f6" stroke-width="4.0" stroke-linecap="round"/>
<path d="M211.7,406.8 L217.4,406.8" fill="none" stroke="#f6f6f6" stroke-width="4.0" stroke-linecap="round"/>
<path d="M217.4,406.8 L223.1,406.8" fill="none" stroke="#f6f6f6" stroke-width="4.0" stroke-linecap="round"/>
<path d="M223.1,406.8 L228.8,406.8" fill="none" stroke="#f6f6f6" stroke-width="4.0" stroke-linecap="round"/>
<path d="M228.8,406.8 L234.5,406.8" fill="none" stroke="#f6f6f6" stroke-width="3.9" stroke-linecap="round"/>
<path d="M234.5,406.8 L240.2,406.8" fill="none" stroke="#f6f6f6" stroke-width="3.9" stroke-linecap="round"/>
<path d="M240.2,406.8 L245.9,406.8" fill="none" stroke="#f6f6f6" stroke-width="3.9" stroke-linecap="round"/>
<path d="M245.9,406.8 L251.6,406.8" fill="none" stroke="#f6f6f6" stroke-width="3.8" stroke-linecap="round"/>
<path d="M251.6,406.8 L257.3,406.8" fill="none" stroke="#f6f6f6" stroke-width="3.7" stroke-linecap="round"/>
<path d="M257.3,406.8 L262.9,406.8" fill="none" stroke="#f6f6f6" stroke-width="3.7" stroke-linecap="round"/>
<path d="M262.9,406.8 L268.6,406.8" fill="none" stroke="#f6f6f6" stroke-width="3.6" stroke-linecap="round"/>
<path d="M268.6,406.8 L274.3,406.8" fill="none" stroke="#f6f6f6" stroke-width="3.6" stroke-linecap="round"/>
<path d="M274.3,406.8 L280.0,406.8" fill="none" stroke="#f6f6f6" stroke-width="3.5" stroke-linecap="round"/>
<path d="M280.0,406.8 L285.7,406.8" fill="none" stroke="#f6f6f6" stroke-width="3.4" stroke-linecap="round"/>
<path d="M285.7,406.8 L291.4,406.8" fill="none" stroke="#f6f6f6" stroke-width="3.3" stroke-linecap="round"/>
<path d="M291.4,406.8 L297.1,406.8" fill="none" stroke="#f6f6f6" stroke-width="3.2" stroke-linecap="round"/>
<path d="M297.1,406.8 L302.8,406.8" fill="none" stroke="#f6f6f6" stroke-width="3.1" stroke-linecap="round"/>
<path d="M302.8,406.8 L308.5,406.8" fill="none" stroke="#f6f6f6" stroke-width="3.0" stroke-linecap="round"/>
<path d="M308.5,406.8 L314.2,406.8" fill="none" stroke="#f6f6f6" stroke-width="2.9" stroke-linecap="round"/>
<path d="M314.2,406.8 L319.9,406.8" fill="none" stroke="#f6f6f6" stroke-width="2.8" stroke-linecap="round"/>
<path d="M319.9,406.8 L325.5,406.8" fill="none" stroke="#f6f6f6" stroke-width="2.7" stroke-linecap="round"/>
<path d="M325.5,406.8 L331.2,406.8" fill="none" stroke="#f6f6f6" stroke-width="2.6" stroke-linecap="round"/>
<path d="M331.2,406.8 L336.9,406.8" fill="none" stroke="#f6f6f6" stroke-width="2.5" stroke-linecap="round"/>
<path d="M336.9,406.8 L342.6,406.8" fill="none" stroke="#f6f6f6" stroke-width="2.4" stroke-linecap="round"/>
<path d="M342.6,406.8 L348.3,406.8" fill="none" stroke="#f6f6f6" stroke-width="2.3" stroke-linecap="round"/>
<path d="M632.8,406.8 L627.1,406.8" fill="none" stroke="#f6f6f6" stroke-width="2.3" stroke-linecap="round"/>
<path d="M627.1,406.8 L621.4,406.8" fill="none" stroke="#f6f6f6" stroke-width="2.4" stroke-linecap="round"/>
<path d="M621.4,406.8 L615.7,406.8" fill="none" stroke="#f6f6f6" stroke-width="2.5" stroke-linecap="round"/>
<path d="M615.7,406.8 L610.0,406.8" fill="none" stroke="#f6f6f6" stroke-width="2.6" stroke-linecap="round"/>
<path d="M610.0,406.8 L604.4,406.8" fill="none" stroke="#f6f6f6" stroke-width="2.7" stroke-linecap="round"/>
<path d="M604.4,406.8 L598.7,406.8" fill="none" stroke="#f6f6f6" stroke-width="2.8" stroke-linecap="round"/>
<path d="M598.7,406.8 L593.0,406.8" fill="none" stroke="#f6f6f6" stroke-width="2.9" stroke-linecap="round"/>
<path d="M593.0,406.8 L587.3,406.8" fill="none" stroke="#f6f6f6" stroke-width="3.0" stroke-linecap="round"/>
<path d="M587.3,406.8 L581.6,406.8" fill="none" stroke="#f6f6f6" stroke-width="3.1" stroke-linecap="round"/>
<path d="M581.6,406.8 L575.9,406.8" fill="none" stroke="#f6f6f6" stroke-width="3.2" stroke-linecap="round"/>
<path d="M575.9,406.8 L570.2,406.8" fill="none" stroke="#f6f6f6" stroke-width="3.3" stroke-linecap="round"/>
<path d="M570.2,406.8 L564.5,406.8" fill="none" stroke="#f6f6f6" stroke-width="3.4" stroke-linecap="round"/>
<path d="M564.5,406.8 L558.8,406.8" fill="none" stroke="#f6f6f6" stroke-width="3.5" stroke-linecap="round"/>
<path d="M558.8,406.8 L553.1,406.8" fill="none" stroke="#f6f6f6" stroke-width="3.6" stroke-linecap="round"/>
<path d="M553.1,406.8 L547.5,406.8" fill="none" stroke="#f6f6f6" stroke-width="3.6" stroke-linecap="round"/>
<path d="M547.5,406.8 L541.8,406.8" fill="none" stroke="#f6f6f6" stroke-width="3.7" stroke-linecap="round"/>
<path d="M541.8,406.8 L536.1,406.8" fill="none" stroke="#f6f6f6" stroke-width="3.7" stroke-linecap="round"/>
<path d="M536.1,406.8 L530.4,406.8" fill="none" stroke="#f6f6f6" stroke-width="3.8" stroke-linecap="round"/>
<path d="M530.4,406.8 L524.7,406.8" fill="none" stroke="#f6f6f6" stroke-width="3.9" stroke-linecap="round"/>
<path d="M524.7,406.8 L519.0,406.8" fill="none" stroke="#f6f6f6" stroke-width="3.9" stroke-linecap="round"/>
<path d="M519.0,406.8 L513.3,406.8" fill="none" stroke="#f6f6f6" stroke-width="3.9" stroke-linecap="round"/>
<path d="M513.3,406.8 L507.6,406.8" fill="none" stroke="#f6f6f6" stroke-width="4.0" stroke-linecap="round"/>
<path d="M507.6,406.8 L501.9,406.8" fill="none" stroke="#f6f6f6" stroke-width="4.0" stroke-linecap="round"/>
<path d="M501.9,406.8 L496.2,406.8" fill="none" stroke="#f6f6f6" stroke-width="4.0" stroke-linecap="round"/>
<path d="M496.2,406.8 L490.6,406.8" fill="none" stroke="#f6f6f6" stroke-width="4.0" stroke-linecap="round"/>
<path d="M490.6,406.8 L484.9,406.8" fill="none" stroke="#f6f6f6" stroke-width="4.0" stroke-linecap="round"/>
<path d="M484.9,406.8 L479.2,406.8" fill="none" stroke="#f6f6f6" stroke-width="4.0" stroke-linecap="round"/>
<path d="M479.2,406.8 L473.5,406.8" fill="none" stroke="#f6f6f6" stroke-width="4.0" stroke-linecap="round"/>
<path d="M473.5,406.8 L467.8,406.8" fill="none" stroke="#f6f6f6" stroke-width="4.0" stroke-linecap="round"/>
<path d="M467.8,406.8 L462.1,406.8" fill="none" stroke="#f6f6f6" stroke-width="3.9" stroke-linecap="round"/>
<path d="M462.1,406.8 L456.4,406.8" fill="none" stroke="#f6f6f6" stroke-width="3.9" stroke-linecap="round"/>
<path d="M456.4,406.8 L450.7,406.8" fill="none" stroke="#f6f6f6" stroke-width="3.9" stroke-linecap="round"/>
<path d="M450.7,406.8 L445.0,406.8" fill="none" stroke="#f6f6f6" stroke-width="3.8" stroke-linecap="round"/>
<path d="M445.0,406.8 L439.3,406.8" fill="none" stroke="#f6f6f6" stroke-width="3.7" stroke-linecap="round"/>
<path d="M439.3,406.8 L433.7,406.8" fill="none" stroke="#f6f6f6" stroke-width="3.7" stroke-linecap="round"/>
<path d="M433.7,406.8 L428.0,406.8" fill="none" stroke="#f6f6f6" stroke-width="3.6" stroke-linecap="round"/>
<path d="M428.0,406.8 L422.3,406.8" fill="none" stroke="#f6f6f6" stroke-width="3.6" stroke-linecap="round"/>
<path d="M422.3,406.8 L416.6,406.8" fill="none" stroke="#f6f6f6" stroke-width="3.5" stroke-linecap="round"/>
<path d="M416.6,406.8 L410.9,406.8" fill="none" stroke="#f6f6f6" stroke-width="3.4" stroke-linecap="round"/>
<path d="M410.9,406.8 L405.2,406.8" fill="none" stroke="#f6f6f6" stroke-width="3.3" stroke-linecap="round"/>
<path d="M405.2,406.8 L399.5,406.8" fill="none" stroke="#f6f6f6" stroke-width="3.2" stroke-linecap="round"/>
<path d="M399.5,406.8 L393.8,406.8" fill="none" stroke="#f6f6f6" stroke-width="3.1" stroke-linecap="round"/>
<path d="M393.8,406.8 L388.1,406.8" fill="none" stroke="#f6f6f6" stroke-width="3.0" stroke-linecap="round"/>
<path d="M388.1,406.8 L382.4,406.8" fill="none" stroke="#f6f6f6" stroke-width="2.9" stroke-linecap="round"/>
<path d="M382.4,406.8 L376.8,406.8" fill="none" stroke="#f6f6f6" stroke-width="2.8" stroke-linecap="round"/>
<path d="M376.8,406.8 L371.1,406.8" fill="none" stroke="#f6f6f6" stroke-width="2.7" stroke-linecap="round"/>
<path d="M371.1,406.8 L365.4,406.8" fill="none" stroke="#f6f6f6" stroke-width="2.6" stroke-linecap="round"/>
<path d="M365.4,406.8 L359.7,406.8" fill="none" stroke="#f6f6f6" stroke-width="2.5" stroke-linecap="round"/>
<path d="M359.7,406.8 L354.0,406.8" fill="none" stroke="#f6f6f6" stroke-width="2.4" stroke-linecap="round"/>
<path d="M354.0,406.8 L348.3,406.8" fill="none" stroke="#f6f6f6" stroke-width="2.3" stroke-linecap="round"/>
<path d="M75.2,413.8 L80.9,413.8" fill="none" stroke="#f6f6f6" stroke-width="2.2" stroke-linecap="round"/>
<path d="M80.9,413.8 L86.6,413.8" fill="none" stroke="#f6f6f6" stroke-width="2.2" stroke-linecap="round"/>
<path d="M86.6,413.8 L92.2,413.8" fill="none" stroke="#f6f6f6" stroke-width="2.2" stroke-linecap="round"/>
<path d="M92.2,413.8 L97.9,413.8" fill="none" stroke="#f6f6f6" stroke-width="2.2" stroke-linecap="round"/>
<path d="M97.9,413.8 L103.6,413.8" fill="none" stroke="#f6f6f6" stroke-width="2.2" stroke-linecap="round"/>
<path d="M103.6,413.8 L109.3,413.8" fill="none" stroke="#f6f6f6" stroke-width="2.2" stroke-linecap="round"/>
<path d="M109.3,413.8 L115.0,413.8" fill="none" stroke="#f6f6f6" stroke-width="2.2" stroke-linecap="round"/>
<path d="M115.0,413.8 L120.7,413.8" fill="none" stroke="#f6f6f6" stroke-width="2.2" stroke-linecap="round"/>
<path d="M120.7,413.8 L126.4,413.8" fill="none" stroke="#f6f6f6" stroke-width="2.2" stroke-linecap="round"/>
<path d="M126.4,413.8 L132.1,413.8" fill="none" stroke="#f6f6f6" stroke-width="2.2" stroke-linecap="round"/>
<path d="M132.1,413.8 L137.8,413.8" fill="none" stroke="#f6f6f6" stroke-width="2.2" stroke-linecap="round"/>
<path d="M137.8,413.8 L143.5,413.8" fill="none" stroke="#f6f6f6" stroke-width="2.2" stroke-linecap="round"/>
<path d="M143.5,413.8 L149.1,413.8" fill="none" stroke="#f6f6f6" stroke-width="2.2" stroke-linecap="round"/>
<path d="M149.1,413.8 L154.8,413.8" fill="none" stroke="#f6f6f6" stroke-width="2.2" stroke-linecap="round"/>
<path d="M621.4,413.8 L615.7,413.8" fill="none" stroke="#f6f6f6" stroke-width="2.2" stroke-linecap="round"/>
<path d="M615.7,413.8 L610.0,413.8" fill="none" stroke="#f6f6f6" stroke-width="2.2" stroke-linecap="round"/>
<path d="M610.0,413.8 L604.4,413.8" fill="none" stroke="#f6f6f6" stroke-width="2.2" stroke-linecap="round"/>
<path d="M604.4,413.8 L598.7,413.8" fill="none" stroke="#f6f6f6" stroke-width="2.2" stroke-linecap="round"/>
<path d="M598.7,413.8 L593.0,413.8" fill="none" stroke="#f6f6f6" stroke-width="2.2" stroke-linecap="round"/>
<path d="M593.0,413.8 L587.3,413.8" fill="none" stroke="#f6f6f6" stroke-width="2.2" stroke-linecap="round"/>
<path d="M587.3,413.8 L581.6,413.8" fill="none" stroke="#f6f6f6" stroke-width="2.2" stroke-linecap="round"/>
<path d="M581.6,413.8 L575.9,413.8" fill="none" stroke="#f6f6f6" stroke-width="2.2" stroke-linecap="round"/>
<path d="M575.9,413.8 L570.2,413.8" fill="none" stroke="#f6f6f6" stroke-width="2.2" stroke-linecap="round"/>
<path d="M570.2,413.8 L564.5,413.8" fill="none" stroke="#f6f6f6" stroke-width="2.2" stroke-linecap="round"/>
<path d="M564.5,413.8 L558.8,413.8" fill="none" stroke="#f6f6f6" stroke-width="2.2" stroke-linecap="round"/>
<path d="M558.8,413.8 L553.1,413.8" fill="none" stroke="#f6f6f6" stroke-width="2.2" stroke-linecap="round"/>
<path d="M553.1,413.8 L547.5,413.8" fill="none" stroke="#f6f6f6" stroke-width="2.2" stroke-linecap="round"/>
<path d="M547.5,413.8 L541.8,413.8" fill="none" stroke="#f6f6f6" stroke-width="2.2" stroke-linecap="round"/>
<path d="M143.5,425.2 L149.1,425.2" fill="none" stroke="#f6f6f6" stroke-width="2.3" stroke-linecap="round"/>
<path d="M149.1,425.2 L154.8,425.2" fill="none" stroke="#f6f6f6" stroke-width="2.4" stroke-linecap="round"/>
<path d="M154.8,425.2 L160.5,425.2" fill="none" stroke="#f6f6f6" stroke-width="2.6" stroke-linecap="round"/>
<path d="M160.5,425.2 L166.2,425.2" fill="none" stroke="#f6f6f6" stroke-width="2.7" stroke-linecap="round"/>
<path d="M166.2,425.2 L171.9,425.2" fill="none" stroke="#f6f6f6" stroke-width="2.8" stroke-linecap="round"/>
<path d="M171.9,425.2 L177.6,425.2" fill="none" stroke="#f6f6f6" stroke-width="3.0" stroke-linecap="round"/>
<path d="M177.6,425.2 L183.3,425.2" fill="none" stroke="#f6f6f6" stroke-width="3.1" stroke-linecap="round"/>
<path d="M183.3,425.2 L189.0,425.2" fill="none" stroke="#f6f6f6" stroke-width="3.1" stroke-linecap="round"/>
<path d="M189.0,425.2 L194.7,425.2" fill="none" stroke="#f6f6f6" stroke-width="3.2" stroke-linecap="round"/>
<path d="M194.7,425.2 L200.4,425.2" fill="none" stroke="#f6f6f6" stroke-width="3.2" stroke-linecap="round"/>
<path d="M200.4,425.2 L206.1,425.2" fill="none" stroke="#f6f6f6" stroke-width="3.2" stroke-linecap="round"/>
<path d="M206.1,425.2 L211.7,425.2" fill="none" stroke="#f6f6f6" stroke-width="3.2" stroke-linecap="round"/>
<path d="M211.7,425.2 L217.4,425.2" fill="none" stroke="#f6f6f6" stroke-width="3.1" stroke-linecap="round"/>
<path d="M217.4,425.2 L223.1,425.2" fill="none" stroke="#f6f6f6" stroke-width="3.1" stroke-linecap="round"/>
<path d="M223.1,425.2 L228.8,425.2" fill="none" stroke="#f6f6f6" stroke-width="3.0" stroke-linecap="round"/>
<path d="M228.8,425.2 L234.5,425.2" fill="none" stroke="#f6f6f6" stroke-width="2.8" stroke-linecap="round"/>
<path d="M234.5,425.2 L240.2,425.2" fill="none" stroke="#f6f6f6" stroke-width="2.7" stroke-linecap="round"/>
<path d="M240.2,425.2 L245.9,425.2" fill="none" stroke="#f6f6f6" stroke-width="2.6" stroke-linecap="round"/>
<path d="M245.9,425.2 L251.6,425.2" fill="none" stroke="#f6f6f6" stroke-width="2.4" stroke-linecap="round"/>
<path d="M251.6,425.2 L257.3,425.2" fill="none" stroke="#f6f6f6" stroke-width="2.3" stroke-linecap="round"/>
<path d="M553.1,425.2 L547.5,425.2" fill="none" stroke="#f6f6f6" stroke-width="2.3" stroke-linecap="round"/>
<path d="M547.5,425.2 L541.8,425.2" fill="none" stroke="#f6f6f6" stroke-width="2.4" stroke-linecap="round"/>
<path d="M541.8,425.2 L536.1,425.2" fill="none" stroke="#f6f6f6" stroke-width="2.6" stroke-linecap="round"/>
<path d="M536.1,425.2 L530.4,425.2" fill="none" stroke="#f6f6f6" stroke-width="2.7" stroke-linecap="round"/>
<path d="M530.4,425.2 L524.7,425.2" fill="none" stroke="#f6f6f6" stroke-width="2.8" stroke-linecap="round"/>
<path d="M524.7,425.2 L519.0,425.2" fill="none" stroke="#f6f6f6" stroke-width="3.0" stroke-linecap="round"/>
<path d="M519.0,425.2 L513.3,425.2" fill="none" stroke="#f6f6f6" stroke-width="3.1" stroke-linecap="round"/>
<path d="M513.3,425.2 L507.6,425.2" fill="none" stroke="#f6f6f6" stroke-width="3.1" stroke-linecap="round"/>
<path d="M507.6,425.2 L501.9,425.2" fill="none" stroke="#f6f6f6" stroke-width="3.2" stroke-linecap="round"/>
<path d="M501.9,425.2 L496.2,425.2" fill="none" stroke="#f6f6f6" stroke-width="3.2" stroke-linecap="round"/>
<path d="M496.2,425.2 L490.6,425.2" fill="none" stroke="#f6f6f6" stroke-width="3.2" stroke-linecap="round"/>
<path d="M490.6,425.2 L484.9,425.2" fill="none" stroke="#f6f6f6" stroke-width="3.2" stroke-linecap="round"/>
<path d="M484.9,425.2 L479.2,425.2" fill="none" stroke="#f6f6f6" stroke-width="3.1" stroke-linecap="round"/>
<path d="M479.2,425.2 L473.5,425.2" fill="none" stroke="#f6f6f6" stroke-width="3.1" stroke-linecap="round"/>
<path d="M473.5,425.2 L467.8,425.2" fill="none" stroke="#f6f6f6" stroke-width="3.0" stroke-linecap="round"/>
<path d="M467.8,425.2 L462.1,425.2" fill="none" stroke="#f6f6f6" stroke-width="2.8" stroke-linecap="round"/>
<path d="M462.1,425.2 L456.4,425.2" fill="none" stroke="#f6f6f6" stroke-width="2.7" stroke-linecap="round"/>
<path d="M456.4,425.2 L450.7,425.2" fill="none" stroke="#f6f6f6" stroke-width="2.6" stroke-linecap="round"/>
<path d="M450.7,425.2 L445.0,425.2" fill="none" stroke="#f6f6f6" stroke-width="2.4" stroke-linecap="round"/>
<path d="M445.0,425.2 L439.3,425.2" fill="none" stroke="#f6f6f6" stroke-width="2.3" stroke-linecap="round"/>
<path d="M63.8,438.7 L69.5,438.7" fill="none" stroke="#f6f6f6" stroke-width="2.5" stroke-linecap="round"/>
<path d="M69.5,438.7 L75.2,438.7" fill="none" stroke="#f6f6f6" stroke-width="2.6" stroke-linecap="round"/>
<path d="M75.2,438.7 L80.9,438.7" fill="none" stroke="#f6f6f6" stroke-width="2.7" stroke-linecap="round"/>
<path d="M80.9,438.7 L86.6,438.7" fill="none" stroke="#f6f6f6" stroke-width="2.9" stroke-linecap="round"/>
<path d="M86.6,438.7 L92.2,438.7" fill="none" stroke="#f6f6f6" stroke-width="3.0" stroke-linecap="round"/>
<path d="M92.2,438.7 L97.9,438.7" fill="none" stroke="#f6f6f6" stroke-width="3.1" stroke-linecap="round"/>
<path d="M97.9,438.7 L103.6,438.7" fill="none" stroke="#f6f6f6" stroke-width="3.3" stroke-linecap="round"/>
<path d="M103.6,438.7 L109.3,438.7" fill="none" stroke="#f6f6f6" stroke-width="3.4" stroke-linecap="round"/>
<path d="M109.3,438.7 L115.0,438.7" fill="none" stroke="#f6f6f6" stroke-width="3.5" stroke-linecap="round"/>
<path d="M115.0,438.7 L120.7,438.7" fill="none" stroke="#f6f6f6" stroke-width="3.6" stroke-linecap="round"/>
<path d="M120.7,438.7 L126.4,438.7" fill="none" stroke="#f6f6f6" stroke-width="3.7" stroke-linecap="round"/>
<path d="M126.4,438.7 L132.1,438.7" fill="none" stroke="#f6f6f6" stroke-width="3.9" stroke-linecap="round"/>
<path d="M132.1,438.7 L137.8,438.7" fill="none" stroke="#f6f6f6" stroke-width="4.0" stroke-linecap="round"/>
<path d="M137.8,438.7 L143.5,438.7" fill="none" stroke="#f6f6f6" stroke-width="4.1" stroke-linecap="round"/>
<path d="M143.5,438.7 L149.1,438.7" fill="none" stroke="#f6f6f6" stroke-width="4.1" stroke-linecap="round"/>
<path d="M149.1,438.7 L154.8,438.7" fill="none" stroke="#f6f6f6" stroke-width="4.2" stroke-linecap="round"/>
<path d="M154.8,438.7 L160.5,438.7" fill="none" stroke="#f6f6f6" stroke-width="4.3" stroke-linecap="round"/>
<path d="M160.5,438.7 L166.2,438.7" fill="none" stroke="#f6f6f6" stroke-width="4.4" stroke-linecap="round"/>
<path d="M166.2,438.7 L171.9,438.7" fill="none" stroke="#f6f6f6" stroke-width="4.4" stroke-linecap="round"/>
<path d="M171.9,438.7 L177.6,438.7" fill="none" stroke="#f6f6f6" stroke-width="4.5" stroke-linecap="round"/>
<path d="M177.6,438.7 L183.3,438.7" fill="none" stroke="#f6f6f6" stroke-width="4.5" stroke-linecap="round"/>
<path d="M183.3,438.7 L189.0,438.7" fill="none" stroke="#f6f6f6" stroke-width="4.5" stroke-linecap="round"/>
<path d="M189.0,438.7 L194.7,438.7" fill="none" stroke="#f6f6f6" stroke-width="4.6" stroke-linecap="round"/>
<path d="M194.7,438.7 L200.4,438.7" fill="none" stroke="#f6f6f6" stroke-width="4.6" stroke-linecap="round"/>
<path d="M200.4,438.7 L206.1,438.7" fill="none" stroke="#f6f6f6" stroke-width="4.6" stroke-linecap="round"/>
<path d="M206.1,438.7 L211.7,438.7" fill="none" stroke="#f6f6f6" stroke-width="4.6" stroke-linecap="round"/>
<path d="M211.7,438.7 L217.4,438.7" fill="none" stroke="#f6f6f6" stroke-width="4.6" stroke-linecap="round"/>
<path d="M217.4,438.7 L223.1,438.7" fill="none" stroke="#f6f6f6" stroke-width="4.6" stroke-linecap="round"/>
<path d="M223.1,438.7 L228.8,438.7" fill="none" stroke="#f6f6f6" stroke-width="4.5" stroke-linecap="round"/>
<path d="M228.8,438.7 L234.5,438.7" fill="none" stroke="#f6f6f6" stroke-width="4.5" stroke-linecap="round"/>
<path d="M234.5,438.7 L240.2,438.7" fill="none" stroke="#f6f6f6" stroke-width="4.5" stroke-linecap="round"/>
<path d="M240.2,438.7 L245.9,438.7" fill="none" stroke="#f6f6f6" stroke-width="4.4" stroke-linecap="round"/>
<path d="M245.9,438.7 L251.6,438.7" fill="none" stroke="#f6f6f6" stroke-width="4.4" stroke-linecap="round"/>
<path d="M251.6,438.7 L257.3,438.7" fill="none" stroke="#f6f6f6" stroke-width="4.3" stroke-linecap="round"/>
<path d="M257.3,438.7 L262.9,438.7" fill="none" stroke="#f6f6f6" stroke-width="4.2" stroke-linecap="round"/>
<path d="M262.9,438.7 L268.6,438.7" fill="none" stroke="#f6f6f6" stroke-width="4.1" stroke-linecap="round"/>
<path d="M268.6,438.7 L274.3,438.7" fill="none" stroke="#f6f6f6" stroke-width="4.1" stroke-linecap="round"/>
<path d="M274.3,438.7 L280.0,438.7" fill="none" stroke="#f6f6f6" stroke-width="4.0" stroke-linecap="round"/>
<path d="M280.0,438.7 L285.7,438.7" fill="none" stroke="#f6f6f6" stroke-width="3.9" stroke-linecap="round"/>
<path d="M285.7,438.7 L291.4,438.7" fill="none" stroke="#f6f6f6" stroke-width="3.7" stroke-linecap="round"/>
<path d="M291.4,438.7 L297.1,438.7" fill="none" stroke="#f6f6f6" stroke-width="3.6" stroke-linecap="round"/>
<path d="M297.1,438.7 L302.8,438.7" fill="none" stroke="#f6f6f6" stroke-width="3.5" stroke-linecap="round"/>
<path d="M302.8,438.7 L308.5,438.7" fill="none" stroke="#f6f6f6" stroke-width="3.4" stroke-linecap="round"/>
<path d="M308.5,438.7 L314.2,438.7" fill="none" stroke="#f6f6f6" stroke-width="3.3" stroke-linecap="round"/>
<path d="M314.2,438.7 L319.9,438.7" fill="none" stroke="#f6f6f6" stroke-width="3.1" stroke-linecap="round"/>
<path d="M319.9,438.7 L325.5,438.7" fill="none" stroke="#f6f6f6" stroke-width="3.0" stroke-linecap="round"/>
<path d="M325.5,438.7 L331.2,438.7" fill="none" stroke="#f6f6f6" stroke-width="2.9" stroke-linecap="round"/>
<path d="M331.2,438.7 L336.9,438.7" fill="none" stroke="#f6f6f6" stroke-width="2.7" stroke-linecap="round"/>
<path d="M336.9,438.7 L342.6,438.7" fill="none" stroke="#f6f6f6" stroke-width="2.6" stroke-linecap="round"/>
<path d="M342.6,438.7 L348.3,438.7" fill="none" stroke="#f6f6f6" stroke-width="2.5" stroke-linecap="round"/>
<path d="M632.8,438.7 L627.1,438.7" fill="none" stroke="#f6f6f6" stroke-width="2.5" stroke-linecap="round"/>
<path d="M627.1,438.7 L621.4,438.7" fill="none" stroke="#f6f6f6" stroke-width="2.6" stroke-linecap="round"/>
<path d="M621.4,438.7 L615.7,438.7" fill="none" stroke="#f6f6f6" stroke-width="2.7" stroke-linecap="round"/>
<path d="M615.7,438.7 L610.0,438.7" fill="none" stroke="#f6f6f6" stroke-width="2.9" stroke-linecap="round"/>
<path d="M610.0,438.7 L604.4,438.7" fill="none" stroke="#f6f6f6" stroke-width="3.0" stroke-linecap="round"/>
<path d="M604.4,438.7 L598.7,438.7" fill="none" stroke="#f6f6f6" stroke-width="3.1" stroke-linecap="round"/>
<path d="M598.7,438.7 L593.0,438.7" fill="none" stroke="#f6f6f6" stroke-width="3.3" stroke-linecap="round"/>
<path d="M593.0,438.7 L587.3,438.7" fill="none" stroke="#f6f6f6" stroke-width="3.4" stroke-linecap="round"/>
<path d="M587.3,438.7 L581.6,438.7" fill="none" stroke="#f6f6f6" stroke-width="3.5" stroke-linecap="round"/>
<path d="M581.6,438.7 L575.9,438.7" fill="none" stroke="#f6f6f6" stroke-width="3.6" stroke-linecap="round"/>
<path d="M575.9,438.7 L570.2,438.7" fill="none" stroke="#f6f6f6" stroke-width="3.7" stroke-linecap="round"/>
<path d="M570.2,438.7 L564.5,438.7" fill="none" stroke="#f6f6f6" stroke-width="3.9" stroke-linecap="round"/>
<path d="M564.5,438.7 L558.8,438.7" fill="none" stroke="#f6f6f6" stroke-width="4.0" stroke-linecap="round"/>
<path d="M558.8,438.7 L553.1,438.7" fill="none" stroke="#f6f6f6" stroke-width="4.1" stroke-linecap="round"/>
<path d="M553.1,438.7 L547.5,438.7" fill="none" stroke="#f6f6f6" stroke-width="4.1" stroke-linecap="round"/>
<path d="M547.5,438.7 L541.8,438.7" fill="none" stroke="#f6f6f6" stroke-width="4.2" stroke-linecap="round"/>
<path d="M541.8,438.7 L536.1,438.7" fill="none" stroke="#f6f6f6" stroke-width="4.3" stroke-linecap="round"/>
<path d="M536.1,438.7 L530.4,438.7" fill="none" stroke="#f6f6f6" stroke-width="4.4" stroke-linecap="round"/>
<path d="M530.4,438.7 L524.7,438.7" fill="none" stroke="#f6f6f6" stroke-width="4.4" stroke-linecap="round"/>
<path d="M524.7,438.7 L519.0,438.7" fill="none" stroke="#f6f6f6" stroke-width="4.5" stroke-linecap="round"/>
<path d="M519.0,438.7 L513.3,438.7" fill="none" stroke="#f6f6f6" stroke-width="4.5" stroke-linecap="round"/>
<path d="M513.3,438.7 L507.6,438.7" fill="none" stroke="#f6f6f6" stroke-width="4.5" stroke-linecap="round"/>
<path d="M507.6,438.7 L501.9,438.7" fill="none" stroke="#f6f6f6" stroke-width="4.6" stroke-linecap="round"/>
<path d="M501.9,438.7 L496.2,438.7" fill="none" stroke="#f6f6f6" stroke-width="4.6" stroke-linecap="round"/>
<path d="M496.2,438.7 L490.6,438.7" fill="none" stroke="#f6f6f6" stroke-width="4.6" stroke-linecap="round"/>
<path d="M490.6,438.7 L484.9,438.7" fill="none" stroke="#f6f6f6" stroke-width="4.6" stroke-linecap="round"/>
<path d="M484.9,438.7 L479.2,438.7" fill="none" stroke="#f6f6f6" stroke-width="4.6" stroke-linecap="round"/>
<path d="M479.2,438.7 L473.5,438.7" fill="none" stroke="#f6f6f6" stroke-width="4.6" stroke-linecap="round"/>
<path d="M473.5,438.7 L467.8,438.7" fill="none" stroke="#f6f6f6" stroke-width="4.5" stroke-linecap="round"/>
<path d="M467.8,438.7 L462.1,438.7" fill="none" stroke="#f6f6f6" stroke-width="4.5" stroke-linecap="round"/>
<path d="M462.1,438.7 L456.4,438.7" fill="none" stroke="#f6f6f6" stroke-width="4.5" stroke-linecap="round"/>
<path d="M456.4,438.7 L450.7,438.7" fill="none" stroke="#f6f6f6" stroke-width="4.4" stroke-linecap="round"/>
<path d="M450.7,438.7 L445.0,438.7" fill="none" stroke="#f6f6f6" stroke-width="4.4" stroke-linecap="round"/>
<path d="M445.0,438.7 L439.3,438.7" fill="none" stroke="#f6f6f6" stroke-width="4.3" stroke-linecap="round"/>
<path d="M439.3,438.7 L433.7,438.7" fill="none" stroke="#f6f6f6" stroke-width="4.2" stroke-linecap="round"/>
<path d="M433.7,438.7 L428.0,438.7" fill="none" stroke="#f6f6f6" stroke-width="4.1" stroke-linecap="round"/>
<path d="M428.0,438.7 L422.3,438.7" fill="none" stroke="#f6f6f6" stroke-width="4.1" stroke-linecap="round"/>
<path d="M422.3,438.7 L416.6,438.7" fill="none" stroke="#f6f6f6" stroke-width="4.0" stroke-linecap="round"/>
<path d="M416.6,438.7 L410.9,438.7" fill="none" stroke="#f6f6f6" stroke-width="3.9" stroke-linecap="round"/>
<path d="M410.9,438.7 L405.2,438.7" fill="none" stroke="#f6f6f6" stroke-width="3.7" stroke-linecap="round"/>
<path d="M405.2,438.7 L399.5,438.7" fill="none" stroke="#f6f6f6" stroke-width="3.6" stroke-linecap="round"/>
<path d="M399.5,438.7 L393.8,438.7" fill="none" stroke="#f6f6f6" stroke-width="3.5" stroke-linecap="round"/>
<path d="M393.8,438.7 L388.1,438.7" fill="none" stroke="#f6f6f6" stroke-width="3.4" stroke-linecap="round"/>
<path d="M388.1,438.7 L382.4,438.7" fill="none" stroke="#f6f6f6" stroke-width="3.3" stroke-linecap="round"/>
<path d="M382.4,438.7 L376.8,438.7" fill="none" stroke="#f6f6f6" stroke-width="3.1" stroke-linecap="round"/>
<path d="M376.8,438.7 L371.1,438.7" fill="none" stroke="#f6f6f6" stroke-width="3.0" stroke-linecap="round"/>
<path d="M371.1,438.7 L365.4,438.7" fill="none" stroke="#f6f6f6" stroke-width="2.9" stroke-linecap="round"/>
<path d="M365.4,438.7 L359.7,438.7" fill="none" stroke="#f6f6f6" stroke-width="2.7" stroke-linecap="round"/>
<path d="M359.7,438.7 L354.0,438.7" fill="none" stroke="#f6f6f6" stroke-width="2.6" stroke-linecap="round"/>
<path d="M354.0,438.7 L348.3,438.7" fill="none" stroke="#f6f6f6" stroke-width="2.5" stroke-linecap="round"/>
<path d="M280.0,426.8 L285.7,426.8" fill="none" stroke="#f6f6f6" stroke-width="1.4" stroke-linecap="round"/>
<path d="M285.7,426.8 L291.4,426.8" fill="none" stroke="#f6f6f6" stroke-width="1.4" stroke-linecap="round"/>
<path d="M291.4,426.8 L297.1,426.8" fill="none" stroke="#f6f6f6" stroke-width="1.4" stroke-linecap="round"/>
<path d="M297.1,426.8 L302.8,426.8" fill="none" stroke="#f6f6f6" stroke-width="1.4" stroke-linecap="round"/>
<path d="M302.8,426.8 L308.5,426.8" fill="none" stroke="#f6f6f6" stroke-width="1.4" stroke-linecap="round"/>
<path d="M308.5,426.8 L314.2,426.8" fill="none" stroke="#f6f6f6" stroke-width="1.4" stroke-linecap="round"/>
<path d="M314.2,426.8 L319.9,426.8" fill="none" stroke="#f6f6f6" stroke-width="1.4" stroke-linecap="round"/>
<path d="M319.9,426.8 L325.5,426.8" fill="none" stroke="#f6f6f6" stroke-width="1.4" stroke-linecap="round"/>
<path d="M325.5,426.8 L331.2,426.8" fill="none" stroke="#f6f6f6" stroke-width="1.4" stroke-linecap="round"/>
<path d="M331.2,426.8 L336.9,426.8" fill="none" stroke="#f6f6f6" stroke-width="1.4" stroke-linecap="round"/>
<path d="M336.9,426.8 L342.6,426.8" fill="none" stroke="#f6f6f6" stroke-width="1.4" stroke-linecap="round"/>
<path d="M342.6,426.8 L348.3,426.8" fill="none" stroke="#f6f6f6" stroke-width="1.4" stroke-linecap="round"/>
<path d="M416.6,426.8 L410.9,426.8" fill="none" stroke="#f6f6f6" stroke-width="1.4" stroke-linecap="round"/>
<path d="M410.9,426.8 L405.2,426.8" fill="none" stroke="#f6f6f6" stroke-width="1.4" stroke-linecap="round"/>
<path d="M405.2,426.8 L399.5,426.8" fill="none" stroke="#f6f6f6" stroke-width="1.4" stroke-linecap="round"/>
<path d="M399.5,426.8 L393.8,426.8" fill="none" stroke="#f6f6f6" stroke-width="1.4" stroke-linecap="round"/>
<path d="M393.8,426.8 L388.1,426.8" fill="none" stroke="#f6f6f6" stroke-width="1.4" stroke-linecap="round"/>
<path d="M388.1,426.8 L382.4,426.8" fill="none" stroke="#f6f6f6" stroke-width="1.4" stroke-linecap="round"/>
<path d="M382.4,426.8 L376.8,426.8" fill="none" stroke="#f6f6f6" stroke-width="1.4" stroke-linecap="round"/>
<path d="M376.8,426.8 L371.1,426.8" fill="none" stroke="#f6f6f6" stroke-width="1.4" stroke-linecap="round"/>
<path d="M371.1,426.8 L365.4,426.8" fill="none" stroke="#f6f6f6" stroke-width="1.4" stroke-linecap="round"/>
<path d="M365.4,426.8 L359.7,426.8" fill="none" stroke="#f6f6f6" stroke-width="1.4" stroke-linecap="round"/>
<path d="M359.7,426.8 L354.0,426.8" fill="none" stroke="#f6f6f6" stroke-width="1.4" stroke-linecap="round"/>
<path d="M354.0,426.8 L348.3,426.8" fill="none" stroke="#f6f6f6" stroke-width="1.4" stroke-linecap="round"/>
<path d="M63.8,382.6 L63.8,438.3 M75.2,382.6 L75.2,438.3 M86.6,382.6 L86.6,438.3 M97.9,382.7 L97.9,438.3 M109.3,382.7 L109.3,438.3 M120.7,382.8 L120.7,438.3 M132.1,382.9 L132.1,438.2 M143.5,383.0 L143.5,438.2 M154.8,383.1 L154.8,438.2 M166.2,383.3 L166.2,438.1 M177.6,383.4 L177.6,438.1 M189.0,383.5 L189.0,438.1 M200.4,383.6 L200.4,438.0 M211.7,383.7 L211.7,438.0 M223.1,383.8 L223.1,438.0 M234.5,383.9 L234.5,437.9 M245.9,384.0 L245.9,437.9 M257.3,384.1 L257.3,437.8 M268.6,384.1 L268.6,437.8 M280.0,384.2 L280.0,437.8 M291.4,384.2 L291.4,437.8 M302.8,384.0 L302.8,437.7 M314.2,383.6 L314.2,437.7 M325.5,382.8 L325.5,437.7 M336.9,381.7 L336.9,437.7 M348.3,380.4 L348.3,437.7 M632.8,382.6 L632.8,438.3 M621.4,382.6 L621.4,438.3 M610.0,382.6 L610.0,438.3 M598.7,382.7 L598.7,438.3 M587.3,382.7 L587.3,438.3 M575.9,382.8 L575.9,438.3 M564.5,382.9 L564.5,438.2 M553.1,383.0 L553.1,438.2 M541.8,383.1 L541.8,438.2 M530.4,383.3 L530.4,438.1 M519.0,383.4 L519.0,438.1 M507.6,383.5 L507.6,438.1 M496.2,383.6 L496.2,438.0 M484.9,383.7 L484.9,438.0 M473.5,383.8 L473.5,438.0 M462.1,383.9 L462.1,437.9 M450.7,384.0 L450.7,437.9 M439.3,384.1 L439.3,437.8 M428.0,384.1 L428.0,437.8 M416.6,384.2 L416.6,437.8 M405.2,384.2 L405.2,437.8 M393.8,384.0 L393.8,437.7 M382.4,383.6 L382.4,437.7 M371.1,382.8 L371.1,437.7 M359.7,381.7 L359.7,437.7 M348.3,380.4 L348.3,437.7" stroke="#000" stroke-width="2.4"/>
<path d="M63.8,383.6h0 M63.8,385.8h0 M63.8,388.0h0 M63.8,391.6h0 M63.8,394.6h0 M63.8,397.2h0 M63.8,399.8h0 M63.8,402.4h0 M63.8,406.0h0 M63.8,408.2h0 M63.8,410.8h0 M63.8,414.4h0 M63.8,417.4h0 M63.8,420.0h0 M63.8,422.2h0 M63.8,425.8h0 M63.8,428.8h0 M63.8,431.4h0 M63.8,435.0h0 M63.8,437.6h0 M75.2,383.6h0 M75.2,387.2h0 M75.2,390.2h0 M75.2,393.8h0 M75.2,396.8h0 M75.2,399.8h0 M75.2,403.4h0 M75.2,407.0h0 M75.2,409.6h0 M75.2,411.8h0 M75.2,415.4h0 M75.2,418.0h0 M75.2,421.6h0 M75.2,424.6h0 M75.2,427.2h0 M75.2,429.4h0 M75.2,433.0h0 M75.2,436.0h0 M86.6,383.6h0 M86.6,385.8h0 M86.6,388.8h0 M86.6,391.0h0 M86.6,394.0h0 M86.6,397.0h0 M86.6,400.0h0 M86.6,403.6h0 M86.6,406.6h0 M86.6,409.6h0 M86.6,412.6h0 M86.6,415.2h0 M86.6,417.4h0 M86.6,421.0h0 M86.6,424.0h0 M86.6,427.0h0 M86.6,430.0h0 M86.6,433.6h0 M86.6,436.6h0 M97.9,383.7h0 M97.9,386.7h0 M97.9,389.7h0 M97.9,392.7h0 M97.9,396.3h0 M97.9,399.3h0 M97.9,401.9h0 M97.9,405.5h0 M97.9,408.5h0 M97.9,411.5h0 M97.9,414.1h0 M97.9,416.7h0 M97.9,419.3h0 M97.9,422.3h0 M97.9,425.9h0 M97.9,428.9h0 M97.9,431.1h0 M97.9,434.7h0 M97.9,437.3h0 M109.3,383.7h0 M109.3,386.7h0 M109.3,389.7h0 M109.3,391.9h0 M109.3,394.5h0 M109.3,397.1h0 M109.3,400.7h0 M109.3,403.3h0 M109.3,405.9h0 M109.3,408.5h0 M109.3,410.7h0 M109.3,414.3h0 M109.3,416.9h0 M109.3,419.5h0 M109.3,421.7h0 M109.3,424.3h0 M109.3,426.5h0 M109.3,429.5h0 M109.3,432.1h0 M109.3,435.7h0 M120.7,383.8h0 M120.7,386.0h0 M120.7,389.6h0 M120.7,393.2h0 M120.7,396.2h0 M120.7,399.8h0 M120.7,402.0h0 M120.7,404.6h0 M120.7,407.2h0 M120.7,410.2h0 M120.7,412.4h0 M120.7,415.4h0 M120.7,419.0h0 M120.7,422.0h0 M120.7,425.6h0 M120.7,427.8h0 M120.7,430.8h0 M120.7,433.0h0 M120.7,436.0h0 M120.7,438.2h0 M132.1,383.9h0 M132.1,386.9h0 M132.1,389.9h0 M132.1,392.9h0 M132.1,395.5h0 M132.1,399.1h0 M132.1,402.7h0 M132.1,405.7h0 M132.1,409.3h0 M132.1,411.9h0 M132.1,414.5h0 M132.1,418.1h0 M132.1,421.7h0 M132.1,424.3h0 M132.1,426.9h0 M132.1,429.1h0 M132.1,432.1h0 M132.1,434.3h0 M132.1,437.9h0 M143.5,384.0h0 M143.5,387.0h0 M143.5,389.6h0 M143.5,392.6h0 M143.5,396.2h0 M143.5,399.8h0 M143.5,403.4h0 M143.5,406.0h0 M143.5,409.6h0 M143.5,412.6h0 M143.5,416.2h0 M143.5,419.8h0 M143.5,423.4h0 M143.5,426.0h0 M143.5,429.0h0 M143.5,432.0h0 M143.5,435.6h0 M154.8,384.1h0 M154.8,387.7h0 M154.8,389.9h0 M154.8,392.9h0 M154.8,395.9h0 M154.8,399.5h0 M154.8,402.5h0 M154.8,405.1h0 M154.8,408.7h0 M154.8,410.9h0 M154.8,413.1h0 M154.8,416.7h0 M154.8,419.3h0 M154.8,422.3h0 M154.8,424.5h0 M154.8,427.1h0 M154.8,430.7h0 M154.8,432.9h0 M154.8,436.5h0 M166.2,384.3h0 M166.2,386.9h0 M166.2,390.5h0 M166.2,392.7h0 M166.2,395.3h0 M166.2,398.9h0 M166.2,401.9h0 M166.2,404.5h0 M166.2,407.5h0 M166.2,410.5h0 M166.2,414.1h0 M166.2,417.7h0 M166.2,419.9h0 M166.2,422.1h0 M166.2,424.7h0 M166.2,427.7h0 M166.2,430.7h0 M166.2,433.7h0 M166.2,436.7h0 M177.6,384.4h0 M177.6,388.0h0 M177.6,391.0h0 M177.6,394.0h0 M177.6,396.6h0 M177.6,398.8h0 M177.6,401.0h0 M177.6,404.0h0 M177.6,407.6h0 M177.6,409.8h0 M177.6,412.4h0 M177.6,414.6h0 M177.6,418.2h0 M177.6,421.8h0 M177.6,425.4h0 M177.6,429.0h0 M177.6,432.6h0 M177.6,436.2h0 M189.0,384.5h0 M189.0,387.5h0 M189.0,391.1h0 M189.0,393.3h0 M189.0,396.3h0 M189.0,398.5h0 M189.0,402.1h0 M189.0,405.1h0 M189.0,408.7h0 M189.0,411.7h0 M189.0,414.3h0 M189.0,416.9h0 M189.0,420.5h0 M189.0,424.1h0 M189.0,427.1h0 M189.0,429.7h0 M189.0,433.3h0 M189.0,435.5h0 M189.0,437.7h0 M200.4,384.6h0 M200.4,387.6h0 M200.4,389.8h0 M200.4,392.0h0 M200.4,394.2h0 M200.4,397.2h0 M200.4,400.8h0 M200.4,403.0h0 M200.4,406.6h0 M200.4,410.2h0 M200.4,412.4h0 M200.4,414.6h0 M200.4,416.8h0 M200.4,419.4h0 M200.4,421.6h0 M200.4,424.2h0 M200.4,427.2h0 M200.4,430.8h0 M200.4,433.4h0 M200.4,436.0h0 M211.7,384.7h0 M211.7,388.3h0 M211.7,390.9h0 M211.7,393.1h0 M211.7,395.7h0 M211.7,397.9h0 M211.7,400.1h0 M211.7,403.7h0 M211.7,405.9h0 M211.7,408.9h0 M211.7,411.1h0 M211.7,413.3h0 M211.7,416.9h0 M211.7,419.5h0 M211.7,421.7h0 M211.7,425.3h0 M211.7,427.5h0 M211.7,430.5h0 M211.7,434.1h0 M211.7,437.7h0 M223.1,384.8h0 M223.1,387.8h0 M223.1,390.0h0 M223.1,392.6h0 M223.1,395.6h0 M223.1,398.2h0 M223.1,401.2h0 M223.1,403.8h0 M223.1,406.8h0 M223.1,409.0h0 M223.1,411.6h0 M223.1,414.6h0 M223.1,417.6h0 M223.1,420.2h0 M223.1,422.8h0 M223.1,425.8h0 M223.1,429.4h0 M223.1,433.0h0 M223.1,435.6h0 M234.5,384.9h0 M234.5,387.1h0 M234.5,390.1h0 M234.5,392.3h0 M234.5,394.5h0 M234.5,396.7h0 M234.5,398.9h0 M234.5,402.5h0 M234.5,405.1h0 M234.5,408.7h0 M234.5,412.3h0 M234.5,415.9h0 M234.5,418.9h0 M234.5,421.1h0 M234.5,423.3h0 M234.5,426.9h0 M234.5,429.1h0 M234.5,431.7h0 M234.5,435.3h0 M245.9,385.0h0 M245.9,387.2h0 M245.9,389.4h0 M245.9,393.0h0 M245.9,395.6h0 M245.9,398.2h0 M245.9,401.8h0 M245.9,404.8h0 M245.9,407.4h0 M245.9,410.4h0 M245.9,413.4h0 M245.9,416.4h0 M245.9,420.0h0 M245.9,423.6h0 M245.9,426.2h0 M245.9,429.2h0 M245.9,432.2h0 M245.9,435.8h0 M257.3,385.1h0 M257.3,387.3h0 M257.3,389.9h0 M257.3,392.5h0 M257.3,396.1h0 M257.3,398.3h0 M257.3,400.5h0 M257.3,402.7h0 M257.3,404.9h0 M257.3,407.5h0 M257.3,410.1h0 M257.3,412.7h0 M257.3,414.9h0 M257.3,418.5h0 M257.3,422.1h0 M257.3,425.1h0 M257.3,427.3h0 M257.3,430.9h0 M257.3,434.5h0 M257.3,437.5h0 M268.6,385.1h0 M268.6,388.1h0 M268.6,391.7h0 M268.6,395.3h0 M268.6,397.5h0 M268.6,400.1h0 M268.6,402.7h0 M268.6,405.3h0 M268.6,407.5h0 M268.6,410.5h0 M268.6,414.1h0 M268.6,417.7h0 M268.6,420.3h0 M268.6,423.3h0 M268.6,425.5h0 M268.6,428.5h0 M268.6,431.1h0 M268.6,434.1h0 M268.6,436.7h0 M280.0,385.2h0 M280.0,388.8h0 M280.0,391.0h0 M280.0,394.0h0 M280.0,397.0h0 M280.0,400.0h0 M280.0,402.2h0 M280.0,404.4h0 M280.0,408.0h0 M280.0,411.6h0 M280.0,414.2h0 M280.0,416.4h0 M280.0,419.4h0 M280.0,422.4h0 M280.0,426.0h0 M280.0,428.6h0 M280.0,431.2h0 M280.0,433.4h0 M280.0,436.0h0 M291.4,385.2h0 M291.4,387.8h0 M291.4,390.0h0 M291.4,393.6h0 M291.4,396.6h0 M291.4,399.6h0 M291.4,402.2h0 M291.4,405.8h0 M291.4,408.8h0 M291.4,411.8h0 M291.4,414.0h0 M291.4,417.6h0 M291.4,420.2h0 M291.4,422.8h0 M291.4,425.4h0 M291.4,428.0h0 M291.4,430.2h0 M291.4,433.8h0 M291.4,436.8h0 M302.8,385.0h0 M302.8,388.6h0 M302.8,390.8h0 M302.8,394.4h0 M302.8,398.0h0 M302.8,400.6h0 M302.8,402.8h0 M302.8,405.0h0 M302.8,408.0h0 M302.8,410.2h0 M302.8,412.4h0 M302.8,415.0h0 M302.8,418.6h0 M302.8,420.8h0 M302.8,424.4h0 M302.8,426.6h0 M302.8,429.2h0 M302.8,431.4h0 M302.8,435.0h0 M314.2,384.6h0 M314.2,386.8h0 M314.2,389.0h0 M314.2,392.0h0 M314.2,395.6h0 M314.2,399.2h0 M314.2,402.2h0 M314.2,404.4h0 M314.2,406.6h0 M314.2,409.2h0 M314.2,411.8h0 M314.2,415.4h0 M314.2,418.0h0 M314.2,420.6h0 M314.2,422.8h0 M314.2,425.8h0 M314.2,428.0h0 M314.2,430.2h0 M314.2,432.8h0 M314.2,435.0h0 M314.2,437.6h0 M325.5,383.8h0 M325.5,387.4h0 M325.5,390.4h0 M325.5,394.0h0 M325.5,397.6h0 M325.5,401.2h0 M325.5,403.8h0 M325.5,406.0h0 M325.5,409.0h0 M325.5,412.6h0 M325.5,415.2h0 M325.5,417.4h0 M325.5,420.0h0 M325.5,423.0h0 M325.5,426.6h0 M325.5,428.8h0 M325.5,431.8h0 M325.5,435.4h0 M336.9,382.7h0 M336.9,385.3h0 M336.9,387.9h0 M336.9,390.1h0 M336.9,393.7h0 M336.9,396.3h0 M336.9,398.5h0 M336.9,402.1h0 M336.9,404.7h0 M336.9,407.7h0 M336.9,409.9h0 M336.9,413.5h0 M336.9,416.1h0 M336.9,418.3h0 M336.9,420.9h0 M336.9,423.9h0 M336.9,426.9h0 M336.9,429.1h0 M336.9,431.3h0 M336.9,434.9h0 M348.3,381.4h0 M348.3,385.0h0 M348.3,387.2h0 M348.3,390.2h0 M348.3,392.8h0 M348.3,395.0h0 M348.3,398.6h0 M348.3,401.2h0 M348.3,403.4h0 M348.3,405.6h0 M348.3,409.2h0 M348.3,412.2h0 M348.3,414.4h0 M348.3,418.0h0 M348.3,420.6h0 M348.3,423.6h0 M348.3,425.8h0 M348.3,428.8h0 M348.3,431.4h0 M348.3,434.0h0 M348.3,437.0h0 M632.8,383.6h0 M632.8,386.6h0 M632.8,389.6h0 M632.8,391.8h0 M632.8,394.0h0 M632.8,396.2h0 M632.8,398.4h0 M632.8,400.6h0 M632.8,402.8h0 M632.8,405.4h0 M632.8,408.4h0 M632.8,412.0h0 M632.8,415.0h0 M632.8,417.2h0 M632.8,419.8h0 M632.8,423.4h0 M632.8,426.0h0 M632.8,429.0h0 M632.8,431.6h0 M632.8,434.6h0 M632.8,437.6h0 M621.4,383.6h0 M621.4,386.2h0 M621.4,388.8h0 M621.4,391.0h0 M621.4,394.0h0 M621.4,396.6h0 M621.4,399.2h0 M621.4,402.8h0 M621.4,406.4h0 M621.4,410.0h0 M621.4,412.2h0 M621.4,415.2h0 M621.4,418.2h0 M621.4,421.8h0 M621.4,424.4h0 M621.4,428.0h0 M621.4,431.6h0 M621.4,434.2h0 M621.4,437.8h0 M610.0,383.6h0 M610.0,386.2h0 M610.0,389.8h0 M610.0,393.4h0 M610.0,395.6h0 M610.0,397.8h0 M610.0,400.4h0 M610.0,404.0h0 M610.0,406.2h0 M610.0,408.8h0 M610.0,411.0h0 M610.0,413.2h0 M610.0,415.8h0 M610.0,419.4h0 M610.0,422.4h0 M610.0,426.0h0 M610.0,429.6h0 M610.0,432.2h0 M610.0,434.8h0 M610.0,437.8h0 M598.7,383.7h0 M598.7,386.7h0 M598.7,389.7h0 M598.7,392.3h0 M598.7,395.3h0 M598.7,398.3h0 M598.7,400.9h0 M598.7,403.1h0 M598.7,406.7h0 M598.7,410.3h0 M598.7,413.3h0 M598.7,415.9h0 M598.7,418.5h0 M598.7,421.1h0 M598.7,424.7h0 M598.7,428.3h0 M598.7,430.5h0 M598.7,432.7h0 M598.7,435.3h0 M587.3,383.7h0 M587.3,385.9h0 M587.3,388.9h0 M587.3,391.5h0 M587.3,394.5h0 M587.3,398.1h0 M587.3,401.7h0 M587.3,403.9h0 M587.3,406.5h0 M587.3,410.1h0 M587.3,412.3h0 M587.3,414.5h0 M587.3,417.1h0 M587.3,420.7h0 M587.3,422.9h0 M587.3,425.9h0 M587.3,428.1h0 M587.3,431.1h0 M587.3,434.7h0 M575.9,383.8h0 M575.9,387.4h0 M575.9,391.0h0 M575.9,393.2h0 M575.9,395.8h0 M575.9,399.4h0 M575.9,402.4h0 M575.9,404.6h0 M575.9,407.2h0 M575.9,410.2h0 M575.9,413.2h0 M575.9,415.4h0 M575.9,417.6h0 M575.9,419.8h0 M575.9,422.8h0 M575.9,426.4h0 M575.9,429.4h0 M575.9,431.6h0 M575.9,434.6h0 M575.9,437.2h0 M564.5,383.9h0 M564.5,386.1h0 M564.5,388.3h0 M564.5,391.3h0 M564.5,394.3h0 M564.5,396.9h0 M564.5,400.5h0 M564.5,402.7h0 M564.5,404.9h0 M564.5,407.5h0 M564.5,410.5h0 M564.5,414.1h0 M564.5,417.7h0 M564.5,419.9h0 M564.5,423.5h0 M564.5,427.1h0 M564.5,429.7h0 M564.5,432.3h0 M564.5,435.3h0 M553.1,384.0h0 M553.1,387.0h0 M553.1,389.2h0 M553.1,392.2h0 M553.1,394.8h0 M553.1,397.0h0 M553.1,399.6h0 M553.1,402.6h0 M553.1,405.6h0 M553.1,408.6h0 M553.1,410.8h0 M553.1,413.4h0 M553.1,415.6h0 M553.1,419.2h0 M553.1,421.8h0 M553.1,424.4h0 M553.1,426.6h0 M553.1,430.2h0 M553.1,433.8h0 M553.1,436.4h0 M541.8,384.1h0 M541.8,387.7h0 M541.8,390.3h0 M541.8,393.3h0 M541.8,396.9h0 M541.8,399.9h0 M541.8,402.1h0 M541.8,405.1h0 M541.8,407.7h0 M541.8,411.3h0 M541.8,413.5h0 M541.8,416.1h0 M541.8,418.3h0 M541.8,421.3h0 M541.8,423.9h0 M541.8,427.5h0 M541.8,430.1h0 M541.8,433.1h0 M541.8,435.3h0 M530.4,384.3h0 M530.4,386.5h0 M530.4,388.7h0 M530.4,392.3h0 M530.4,394.9h0 M530.4,397.1h0 M530.4,400.1h0 M530.4,402.7h0 M530.4,406.3h0 M530.4,409.9h0 M530.4,412.5h0 M530.4,416.1h0 M530.4,418.3h0 M530.4,420.5h0 M530.4,423.1h0 M530.4,425.7h0 M530.4,427.9h0 M530.4,430.1h0 M530.4,433.1h0 M530.4,435.7h0 M519.0,384.4h0 M519.0,386.6h0 M519.0,390.2h0 M519.0,393.2h0 M519.0,395.8h0 M519.0,398.0h0 M519.0,401.0h0 M519.0,403.2h0 M519.0,405.4h0 M519.0,408.0h0 M519.0,410.6h0 M519.0,413.6h0 M519.0,416.6h0 M519.0,419.2h0 M519.0,422.8h0 M519.0,425.0h0 M519.0,427.6h0 M519.0,431.2h0 M519.0,434.8h0 M507.6,384.5h0 M507.6,386.7h0 M507.6,388.9h0 M507.6,391.9h0 M507.6,394.5h0 M507.6,396.7h0 M507.6,400.3h0 M507.6,403.9h0 M507.6,406.9h0 M507.6,409.1h0 M507.6,412.7h0 M507.6,415.7h0 M507.6,417.9h0 M507.6,420.1h0 M507.6,423.7h0 M507.6,426.7h0 M507.6,429.3h0 M507.6,432.3h0 M507.6,435.9h0 M496.2,384.6h0 M496.2,387.6h0 M496.2,391.2h0 M496.2,393.4h0 M496.2,395.6h0 M496.2,398.6h0 M496.2,402.2h0 M496.2,405.2h0 M496.2,407.4h0 M496.2,411.0h0 M496.2,413.2h0 M496.2,415.8h0 M496.2,419.4h0 M496.2,422.0h0 M496.2,425.0h0 M496.2,427.2h0 M496.2,429.8h0 M496.2,432.8h0 M496.2,435.0h0 M484.9,384.7h0 M484.9,388.3h0 M484.9,390.9h0 M484.9,394.5h0 M484.9,397.1h0 M484.9,399.3h0 M484.9,402.9h0 M484.9,405.9h0 M484.9,408.5h0 M484.9,410.7h0 M484.9,412.9h0 M484.9,415.5h0 M484.9,418.5h0 M484.9,420.7h0 M484.9,422.9h0 M484.9,425.9h0 M484.9,429.5h0 M484.9,433.1h0 M484.9,435.3h0 M484.9,437.5h0 M473.5,384.8h0 M473.5,387.4h0 M473.5,391.0h0 M473.5,393.2h0 M473.5,396.8h0 M473.5,399.0h0 M473.5,402.0h0 M473.5,405.6h0 M473.5,407.8h0 M473.5,410.0h0 M473.5,412.6h0 M473.5,416.2h0 M473.5,419.8h0 M473.5,422.0h0 M473.5,424.6h0 M473.5,426.8h0 M473.5,430.4h0 M473.5,434.0h0 M473.5,437.6h0 M462.1,384.9h0 M462.1,387.1h0 M462.1,389.7h0 M462.1,392.7h0 M462.1,395.3h0 M462.1,398.3h0 M462.1,400.9h0 M462.1,404.5h0 M462.1,406.7h0 M462.1,409.7h0 M462.1,412.3h0 M462.1,415.9h0 M462.1,419.5h0 M462.1,422.1h0 M462.1,425.1h0 M462.1,427.7h0 M462.1,431.3h0 M462.1,434.3h0 M462.1,437.3h0 M450.7,385.0h0 M450.7,387.2h0 M450.7,389.8h0 M450.7,393.4h0 M450.7,395.6h0 M450.7,397.8h0 M450.7,401.4h0 M450.7,403.6h0 M450.7,407.2h0 M450.7,409.8h0 M450.7,412.4h0 M450.7,414.6h0 M450.7,418.2h0 M450.7,421.2h0 M450.7,424.8h0 M450.7,427.4h0 M450.7,431.0h0 M450.7,433.6h0 M450.7,435.8h0 M439.3,385.1h0 M439.3,387.3h0 M439.3,389.5h0 M439.3,392.1h0 M439.3,395.7h0 M439.3,397.9h0 M439.3,400.9h0 M439.3,403.5h0 M439.3,406.5h0 M439.3,409.5h0 M439.3,412.1h0 M439.3,414.7h0 M439.3,417.7h0 M439.3,419.9h0 M439.3,422.9h0 M439.3,425.1h0 M439.3,427.3h0 M439.3,430.9h0 M439.3,433.9h0 M439.3,436.9h0 M428.0,385.1h0 M428.0,388.7h0 M428.0,392.3h0 M428.0,394.9h0 M428.0,397.5h0 M428.0,400.5h0 M428.0,402.7h0 M428.0,404.9h0 M428.0,408.5h0 M428.0,411.1h0 M428.0,413.7h0 M428.0,417.3h0 M428.0,419.5h0 M428.0,421.7h0 M428.0,423.9h0 M428.0,426.5h0 M428.0,430.1h0 M428.0,432.7h0 M428.0,435.3h0 M416.6,385.2h0 M416.6,387.4h0 M416.6,390.0h0 M416.6,392.2h0 M416.6,395.8h0 M416.6,398.8h0 M416.6,401.0h0 M416.6,404.0h0 M416.6,407.6h0 M416.6,411.2h0 M416.6,413.4h0 M416.6,415.6h0 M416.6,418.6h0 M416.6,421.6h0 M416.6,425.2h0 M416.6,428.8h0 M416.6,431.8h0 M416.6,434.4h0 M416.6,436.6h0 M405.2,385.2h0 M405.2,387.4h0 M405.2,390.0h0 M405.2,393.6h0 M405.2,395.8h0 M405.2,398.8h0 M405.2,401.8h0 M405.2,405.4h0 M405.2,408.0h0 M405.2,411.6h0 M405.2,414.6h0 M405.2,416.8h0 M405.2,420.4h0 M405.2,422.6h0 M405.2,425.2h0 M405.2,428.8h0 M405.2,431.0h0 M405.2,433.2h0 M405.2,435.4h0 M405.2,437.6h0 M393.8,385.0h0 M393.8,387.6h0 M393.8,390.6h0 M393.8,393.6h0 M393.8,396.6h0 M393.8,399.6h0 M393.8,403.2h0 M393.8,405.8h0 M393.8,408.0h0 M393.8,411.0h0 M393.8,414.0h0 M393.8,416.2h0 M393.8,419.2h0 M393.8,422.8h0 M393.8,425.4h0 M393.8,428.0h0 M393.8,431.0h0 M393.8,434.6h0 M393.8,437.2h0 M382.4,384.6h0 M382.4,386.8h0 M382.4,389.8h0 M382.4,392.0h0 M382.4,394.2h0 M382.4,397.8h0 M382.4,400.0h0 M382.4,403.6h0 M382.4,405.8h0 M382.4,408.0h0 M382.4,411.6h0 M382.4,413.8h0 M382.4,417.4h0 M382.4,421.0h0 M382.4,423.6h0 M382.4,425.8h0 M382.4,428.0h0 M382.4,430.2h0 M382.4,432.4h0 M382.4,434.6h0 M371.1,383.8h0 M371.1,386.8h0 M371.1,389.0h0 M371.1,392.0h0 M371.1,394.2h0 M371.1,397.8h0 M371.1,400.8h0 M371.1,403.8h0 M371.1,407.4h0 M371.1,410.4h0 M371.1,413.4h0 M371.1,415.6h0 M371.1,418.6h0 M371.1,422.2h0 M371.1,425.8h0 M371.1,429.4h0 M371.1,432.0h0 M371.1,434.6h0 M371.1,437.6h0 M359.7,382.7h0 M359.7,385.3h0 M359.7,388.9h0 M359.7,391.1h0 M359.7,393.7h0 M359.7,396.7h0 M359.7,398.9h0 M359.7,402.5h0 M359.7,406.1h0 M359.7,409.7h0 M359.7,412.3h0 M359.7,414.9h0 M359.7,417.5h0 M359.7,421.1h0 M359.7,423.7h0 M359.7,427.3h0 M359.7,430.3h0 M359.7,432.5h0 M359.7,435.1h0 M348.3,381.4h0 M348.3,384.4h0 M348.3,388.0h0 M348.3,390.6h0 M348.3,393.2h0 M348.3,395.8h0 M348.3,399.4h0 M348.3,402.4h0 M348.3,405.4h0 M348.3,408.4h0 M348.3,410.6h0 M348.3,413.2h0 M348.3,416.2h0 M348.3,419.8h0 M348.3,422.8h0 M348.3,425.8h0 M348.3,429.4h0 M348.3,431.6h0 M348.3,433.8h0 M348.3,436.0h0" stroke="#000" stroke-width="3.4" stroke-linecap="round"/>
<path d="M63.8,245.8 L65.8,245.7 L68.8,245.5 L72.1,245.4 L75.2,245.1 L78.0,244.9 L80.9,244.6 L83.7,244.3 L86.6,243.9 L89.4,243.4 L92.2,242.8 L95.1,242.3 L97.9,241.7 L100.8,241.1 L103.6,240.5 L106.5,239.9 L109.3,239.1 L112.2,238.0 L115.0,236.8 L117.9,235.5 L120.7,234.7 L123.5,234.3 L126.4,234.3 L129.2,234.4 L132.1,234.4 L134.9,234.0 L137.8,233.5 L140.6,233.3 L143.5,233.7 L146.6,235.3 L149.9,237.7 L152.8,240.0 L154.8,241.7 M120.7,228.0 L122.7,228.4 L125.7,229.0 L129.0,229.7 L132.1,230.4 L134.9,231.1 L137.8,231.7 L140.6,232.6 L143.5,233.7 L146.6,235.6 L149.9,237.9 L152.8,240.1 L154.8,241.7 M120.7,355.1 L122.7,355.3 L125.7,355.4 L129.0,355.5 L132.1,355.5 L134.9,355.1 L137.8,354.6 L140.6,354.1 L143.5,353.6 L146.6,353.1 L149.9,352.6 L152.8,352.3 L154.8,352.0 M63.8,267.7 L65.8,267.5 L68.8,267.4 L72.1,267.2 L75.2,267.0 L78.0,266.8 L80.9,266.6 L83.7,266.4 L86.6,266.1 L89.4,265.6 L92.2,265.1 L95.1,264.5 L97.9,263.8 L100.8,263.2 L103.6,262.5 L106.5,261.8 L109.3,261.0 L112.2,260.1 L115.0,259.2 L117.9,258.3 L120.7,257.2 L123.5,256.0 L126.4,254.8 L129.2,253.4 L132.1,252.1 L134.9,250.7 L137.8,249.1 L140.6,247.7 L143.5,246.7 L146.3,246.4 L149.1,246.4 L152.0,246.7 L154.8,247.4 L157.7,248.4 L160.5,249.7 L163.4,251.2 L166.2,252.8 L169.1,254.4 L171.9,256.3 L174.8,258.0 L177.6,259.1 L180.4,259.6 L183.3,259.6 L186.1,259.2 L189.0,258.5 L192.1,257.1 L195.4,255.2 L198.3,253.4 L200.4,252.1 M63.8,289.8 L65.8,289.9 L68.8,289.9 L72.1,289.9 L75.2,289.8 L78.0,289.7 L80.9,289.5 L83.7,289.2 L86.6,288.9 L89.4,288.5 L92.2,288.0 L95.1,287.5 L97.9,287.0 L100.8,286.5 L103.6,286.1 L106.5,285.7 L109.3,285.1 L112.2,284.4 L115.0,283.6 L117.9,282.7 L120.7,281.9 L123.5,281.1 L126.4,280.4 L129.2,279.6 L132.1,278.7 L134.9,277.8 L137.8,276.8 L140.6,275.7 L143.5,274.6 L146.3,273.4 L149.1,272.1 L152.0,270.8 L154.8,269.6 L157.7,268.3 L160.5,267.0 L163.4,265.8 L166.2,264.8 L169.1,264.0 L171.9,263.3 L174.8,262.7 L177.6,261.9 L180.4,261.2 L183.3,260.4 L186.1,259.5 L189.0,258.5 L192.1,256.9 L195.4,255.1 L198.3,253.3 L200.4,252.1 M63.8,198.9 L65.8,198.9 L68.8,199.0 L72.1,199.0 L75.2,199.2 L78.0,199.4 L80.9,199.8 L83.7,200.1 L86.6,200.1 L89.4,199.9 L92.2,199.4 L95.1,198.8 L97.9,198.2 L100.8,197.7 L103.6,197.2 L106.5,196.7 L109.3,196.0 L112.2,195.1 L115.0,194.1 L117.9,193.1 L120.7,192.3 L123.5,191.8 L126.4,191.4 L129.2,191.1 L132.1,190.6 L134.9,189.9 L137.8,189.1 L140.6,188.2 L143.5,187.1 L146.3,185.9 L149.1,184.5 L152.0,183.2 L154.8,181.9 L157.7,180.7 L160.5,179.6 L163.4,178.6 L166.2,177.9 L169.1,177.9 L171.9,178.2 L174.8,178.6 L177.6,178.6 L180.4,178.0 L183.3,177.2 L186.1,176.3 L189.0,175.7 L191.8,175.4 L194.7,175.3 L197.5,175.4 L200.4,175.7 L203.5,176.4 L206.8,177.5 L209.7,178.5 L211.7,179.2 M63.8,216.3 L65.8,216.3 L68.8,216.3 L72.1,216.3 L75.2,216.3 L78.0,216.2 L80.9,216.0 L83.7,215.8 L86.6,215.7 L89.4,215.6 L92.2,215.5 L95.1,215.4 L97.9,215.0 L100.8,214.3 L103.6,213.3 L106.5,212.3 L109.3,211.5 L112.2,211.0 L115.0,210.7 L117.9,210.4 L120.7,210.0 L123.5,209.4 L126.4,208.7 L129.2,207.9 L132.1,207.1 L134.9,206.2 L137.8,205.1 L140.6,204.1 L143.5,203.0 L146.3,201.9 L149.1,200.8 L152.0,199.7 L154.8,198.5 L157.7,197.4 L160.5,196.2 L163.4,195.0 L166.2,193.8 L169.1,192.5 L171.9,191.2 L174.8,189.9 L177.6,188.4 L180.4,186.6 L183.3,184.4 L186.1,182.6 L189.0,181.4 L191.8,181.4 L194.7,182.2 L197.5,183.1 L200.4,183.6 L203.5,183.6 L206.8,183.3 L209.7,182.9 L211.7,182.7 M132.1,188.6 L134.1,187.8 L137.1,186.8 L140.3,185.6 L143.5,184.4 L146.3,183.2 L149.1,181.8 L152.0,180.4 L154.8,179.2 L157.7,178.3 L160.5,177.5 L163.4,176.8 L166.2,175.9 L169.1,174.7 L171.9,173.5 L174.8,172.2 L177.6,171.0 L180.4,169.8 L183.3,168.6 L186.1,167.6 L189.0,166.8 L191.8,166.7 L194.7,166.9 L197.5,167.2 L200.4,166.8 L203.5,165.7 L206.8,164.0 L209.7,162.3 L211.7,161.1 M86.6,197.3 L88.6,197.1 L91.5,196.9 L94.8,196.5 L97.9,196.2 L100.8,195.7 L103.6,195.1 L106.5,194.5 L109.3,193.9 L112.2,193.5 L115.0,193.1 L117.9,192.7 L120.7,192.3 L123.5,191.9 L126.4,191.6 L129.2,191.2 L132.1,190.6 L134.9,189.9 L137.8,189.1 L140.6,188.2 L143.5,187.1 L146.3,185.9 L149.1,184.5 L152.0,183.2 L154.8,181.9 L157.7,180.7 L160.5,179.6 L163.4,178.6 L166.2,177.9 L169.1,177.9 L171.9,178.2 L174.8,178.6 L177.6,178.6 L180.4,178.0 L183.3,177.2 L186.1,176.3 L189.0,175.7 L191.8,175.7 L194.7,176.0 L197.5,176.2 L200.4,175.7 L203.2,174.1 L206.1,171.7 L208.9,169.5 L211.7,168.1 L214.9,168.2 L218.1,169.1 L221.1,170.2 L223.1,171.0 M189.0,164.6 L191.0,165.0 L194.0,165.7 L197.2,166.3 L200.4,166.8 L203.2,167.2 L206.1,167.4 L208.9,167.7 L211.7,168.1 L214.9,168.8 L218.1,169.6 L221.1,170.4 L223.1,171.0 M189.0,173.8 L191.0,173.0 L194.0,171.8 L197.2,170.3 L200.4,168.7 L203.2,167.0 L206.1,165.1 L208.9,163.1 L211.7,161.1 L214.9,158.9 L218.1,156.5 L221.1,154.4 L223.1,152.9 M211.7,152.9 L223.1,152.9 M63.8,309.8 L65.8,309.8 L68.8,309.9 L72.1,309.9 L75.2,309.8 L78.0,309.7 L80.9,309.5 L83.7,309.3 L86.6,309.0 L89.4,308.8 L92.2,308.5 L95.1,308.2 L97.9,307.8 L100.8,307.3 L103.6,306.7 L106.5,306.1 L109.3,305.4 L112.2,304.6 L115.0,303.8 L117.9,302.9 L120.7,301.9 L123.5,300.8 L126.4,299.7 L129.2,298.4 L132.1,297.0 L134.9,295.3 L137.8,293.5 L140.6,291.6 L143.5,289.8 L146.3,288.2 L149.1,286.7 L152.0,285.1 L154.8,283.5 L157.7,281.8 L160.5,280.1 L163.4,278.3 L166.2,276.5 L169.1,274.5 L171.9,272.2 L174.8,270.2 L177.6,268.9 L180.4,268.5 L183.3,268.8 L186.1,269.5 L189.0,270.5 L191.8,272.2 L194.7,274.6 L197.5,276.8 L200.4,278.1 L203.2,278.2 L206.1,277.5 L208.9,276.4 L211.7,275.3 L214.6,274.1 L217.4,272.7 L220.3,271.1 L223.1,269.6 L226.0,267.9 L228.8,266.1 L231.7,264.4 L234.5,262.6 L237.3,260.8 L240.2,259.1 L243.0,257.3 L245.9,255.6 L248.7,253.8 L251.6,252.1 L254.4,250.3 L257.3,248.6 L260.1,246.9 L262.9,245.1 L265.8,243.6 L268.6,242.6 L271.8,242.4 L275.0,242.9 L278.0,243.5 L280.0,243.9 M177.6,290.5 L179.6,290.4 L182.6,290.3 L185.9,290.0 L189.0,289.2 L191.8,287.7 L194.7,285.7 L197.5,283.6 L200.4,281.6 L203.2,279.9 L206.1,278.3 L208.9,276.8 L211.7,275.3 L214.6,273.8 L217.4,272.4 L220.3,271.1 L223.1,269.6 L226.0,267.9 L228.8,266.1 L231.7,264.4 L234.5,262.6 L237.3,260.8 L240.2,259.1 L243.0,257.3 L245.9,255.6 L248.7,253.8 L251.6,252.1 L254.4,250.3 L257.3,248.6 L260.1,246.9 L262.9,245.1 L265.8,243.6 L268.6,242.6 L271.8,242.4 L275.0,242.9 L278.0,243.5 L280.0,243.9 M63.8,327.2 L65.8,327.3 L68.8,327.3 L72.1,327.4 L75.2,327.2 L78.0,327.0 L80.9,326.6 L83.7,326.1 L86.6,325.7 L89.4,325.2 L92.2,324.8 L95.1,324.3 L97.9,323.8 L100.8,323.1 L103.6,322.5 L106.5,321.7 L109.3,320.9 L112.2,320.0 L115.0,319.1 L117.9,318.1 L120.7,317.1 L123.5,316.2 L126.4,315.2 L129.2,314.3 L132.1,313.3 L134.9,312.3 L137.8,311.3 L140.6,310.2 L143.5,309.2 L146.3,308.1 L149.1,307.0 L152.0,305.9 L154.8,304.7 L157.7,303.7 L160.5,302.6 L163.4,301.5 L166.2,300.3 L169.1,299.0 L171.9,297.5 L174.8,296.1 L177.6,294.9 L180.4,294.0 L183.3,293.2 L186.1,292.4 L189.0,291.4 L191.8,290.1 L194.7,288.5 L197.5,287.0 L200.4,285.7 L203.2,285.0 L206.1,284.6 L208.9,284.2 L211.7,283.5 L214.6,282.3 L217.4,280.9 L220.3,279.4 L223.1,278.1 L226.0,277.1 L228.8,276.2 L231.7,275.4 L234.5,274.6 L237.3,273.9 L240.2,273.2 L243.0,272.5 L245.9,271.8 L248.7,271.1 L251.6,270.3 L254.4,269.6 L257.3,268.9 L260.1,268.2 L262.9,267.4 L265.8,266.7 L268.6,266.1 L271.5,265.5 L274.3,265.1 L277.2,264.6 L280.0,264.2 L282.9,263.5 L285.7,262.8 L288.6,262.3 L291.4,262.3 L294.5,263.0 L297.8,264.2 L300.7,265.5 L302.8,266.4 M63.8,376.1 L65.8,376.0 L68.8,376.0 L72.1,375.9 L75.2,375.7 L78.0,375.4 L80.9,374.9 L83.7,374.4 L86.6,373.8 L89.4,373.3 L92.2,372.8 L95.1,372.3 L97.9,371.6 L100.8,370.8 L103.6,370.0 L106.5,369.0 L109.3,368.1 L112.2,367.3 L115.0,366.4 L117.9,365.5 L120.7,364.7 L123.5,363.8 L126.4,362.9 L129.2,362.0 L132.1,361.2 L134.9,360.4 L137.8,359.7 L140.6,359.0 L143.5,358.0 L146.3,356.6 L149.1,355.0 L152.0,353.4 L154.8,352.0 L157.7,350.9 L160.5,350.1 L163.4,349.3 L166.2,348.5 L169.1,347.7 L171.9,346.9 L174.8,346.1 L177.6,345.3 L180.4,344.6 L183.3,343.8 L186.1,343.1 L189.0,342.5 L191.8,342.0 L194.7,341.6 L197.5,341.2 L200.4,340.9 L203.2,340.5 L206.1,340.0 L208.9,339.6 L211.7,339.3 L214.6,339.0 L217.4,338.7 L220.3,338.5 L223.1,338.3 L226.0,338.2 L228.8,338.1 L231.7,338.0 L234.5,338.0 L237.3,338.0 L240.2,338.1 L243.0,338.2 L245.9,338.3 L248.7,338.5 L251.6,338.7 L254.4,339.0 L257.3,339.3 L260.1,339.7 L262.9,340.2 L265.8,340.7 L268.6,341.2 L271.5,341.8 L274.3,342.5 L277.2,342.9 L280.0,342.8 L282.9,341.6 L285.7,339.6 L288.6,337.7 L291.4,336.4 L294.5,336.3 L297.8,336.7 L300.7,337.3 L302.8,337.7 M223.1,292.7 L225.2,294.2 L228.1,296.5 L231.4,298.9 L234.5,300.8 L237.3,302.2 L240.2,303.3 L243.0,304.2 L245.9,304.6 L248.7,304.6 L251.6,304.2 L254.4,303.4 L257.3,302.4 L260.1,300.9 L262.9,299.1 L265.8,297.0 L268.6,294.9 L271.5,292.7 L274.3,290.4 L277.2,288.1 L280.0,285.7 L282.9,283.3 L285.7,280.9 L288.6,278.6 L291.4,276.5 L294.5,274.8 L297.8,273.3 L300.7,272.0 L302.8,271.1 M257.3,297.1 L259.3,295.7 L262.2,293.7 L265.5,291.4 L268.6,289.2 L271.5,287.2 L274.3,285.2 L277.2,283.1 L280.0,281.0 L282.9,278.6 L285.7,276.2 L288.6,273.8 L291.4,271.8 L294.5,270.0 L297.8,268.5 L300.7,267.3 L302.8,266.4 M109.3,358.6 L111.4,358.6 L114.3,358.5 L117.6,358.5 L120.7,358.6 L123.5,359.2 L126.4,360.1 L129.2,360.9 L132.1,361.2 L134.9,360.9 L137.8,360.3 L140.6,359.3 L143.5,358.0 L146.3,356.1 L149.1,353.6 L152.0,351.1 L154.8,348.8 L157.7,346.8 L160.5,345.0 L163.4,343.3 L166.2,341.8 L169.1,340.6 L171.9,339.6 L174.8,338.7 L177.6,337.7 L180.4,336.6 L183.3,335.5 L186.1,334.4 L189.0,333.3 L191.8,332.1 L194.7,331.0 L197.5,329.8 L200.4,328.5 L203.2,327.2 L206.1,325.7 L208.9,324.3 L211.7,322.8 L214.6,321.3 L217.4,319.8 L220.3,318.3 L223.1,316.8 L226.0,315.1 L228.8,313.4 L231.7,311.7 L234.5,310.4 L237.3,309.7 L240.2,309.3 L243.0,308.9 L245.9,308.2 L248.7,307.1 L251.6,305.6 L254.4,304.0 L257.3,302.4 L260.1,300.7 L262.9,298.8 L265.8,296.9 L268.6,294.9 L271.5,292.7 L274.3,290.4 L277.2,288.1 L280.0,285.7 L282.9,283.2 L285.7,280.6 L288.6,278.2 L291.4,276.5 L294.2,275.7 L297.1,275.5 L299.9,275.6 L302.8,275.6 L305.9,275.4 L309.2,275.2 L312.1,275.0 L314.2,274.9 M63.8,317.1 L65.8,317.1 L68.8,317.2 L72.1,317.2 L75.2,317.1 L78.0,316.8 L80.9,316.5 L83.7,316.0 L86.6,315.5 L89.4,315.0 L92.2,314.4 L95.1,313.7 L97.9,313.0 L100.8,312.2 L103.6,311.5 L106.5,310.6 L109.3,309.8 L112.2,308.9 L115.0,308.0 L117.9,307.1 L120.7,306.3 L123.5,305.6 L126.4,305.0 L129.2,304.4 L132.1,303.8 L134.9,303.1 L137.8,302.3 L140.6,301.6 L143.5,300.8 L146.3,300.0 L149.1,299.2 L152.0,298.4 L154.8,297.6 L157.7,296.8 L160.5,296.1 L163.4,295.4 L166.2,294.9 L169.1,294.8 L171.9,295.0 L174.8,295.1 L177.6,294.9 L180.4,294.3 L183.3,293.5 L186.1,292.5 L189.0,291.4 L191.8,290.1 L194.7,288.5 L197.5,287.0 L200.4,285.7 L203.2,285.0 L206.1,284.6 L208.9,284.2 L211.7,283.5 L214.6,282.3 L217.4,280.9 L220.3,279.4 L223.1,278.1 L226.0,277.1 L228.8,276.2 L231.7,275.4 L234.5,274.6 L237.3,273.9 L240.2,273.2 L243.0,272.5 L245.9,271.8 L248.7,271.1 L251.6,270.3 L254.4,269.6 L257.3,268.9 L260.1,268.2 L262.9,267.4 L265.8,266.7 L268.6,266.1 L271.5,265.5 L274.3,265.1 L277.2,264.6 L280.0,264.2 L282.9,263.7 L285.7,263.2 L288.6,262.7 L291.4,262.3 L294.2,261.8 L297.1,261.5 L299.9,261.1 L302.8,260.7 L305.6,260.1 L308.5,259.5 L311.3,259.1 L314.2,259.1 L317.3,259.8 L320.6,261.1 L323.5,262.3 L325.5,263.2 M154.8,378.9 L156.9,378.6 L159.8,378.2 L163.1,377.7 L166.2,377.3 L169.1,377.0 L171.9,376.7 L174.8,376.4 L177.6,376.1 L180.4,375.8 L183.3,375.6 L186.1,375.4 L189.0,375.1 L191.8,374.7 L194.7,374.1 L197.5,373.5 L200.4,372.9 L203.2,372.2 L206.1,371.5 L208.9,370.8 L211.7,370.0 L214.6,369.2 L217.4,368.4 L220.3,367.5 L223.1,366.6 L226.0,365.5 L228.8,364.4 L231.7,363.3 L234.5,362.1 L237.3,360.9 L240.2,359.7 L243.0,358.4 L245.9,357.0 L248.7,355.7 L251.6,354.2 L254.4,352.8 L257.3,351.3 L260.1,349.8 L262.9,348.1 L265.8,346.7 L268.6,345.6 L271.5,345.2 L274.3,345.1 L277.2,345.3 L280.0,345.6 L282.9,346.5 L285.7,347.7 L288.6,348.8 L291.4,349.1 L294.2,348.2 L297.1,346.5 L299.9,344.7 L302.8,343.4 L305.6,342.8 L308.5,342.6 L311.3,342.7 L314.2,343.4 L317.3,345.0 L320.6,347.4 L323.5,349.7 L325.5,351.3 M280.0,379.9 L282.1,378.9 L285.0,377.6 L288.3,376.0 L291.4,374.5 L294.2,373.0 L297.1,371.4 L299.9,369.8 L302.8,368.1 L305.6,366.3 L308.5,364.2 L311.3,362.3 L314.2,360.5 L317.3,359.0 L320.6,357.7 L323.5,356.6 L325.5,355.8 M223.1,381.8 L225.2,381.3 L228.1,380.7 L231.4,380.0 L234.5,379.2 L237.3,378.5 L240.2,377.6 L243.0,376.7 L245.9,375.7 L248.7,374.7 L251.6,373.6 L254.4,372.3 L257.3,371.0 L260.1,369.5 L262.9,367.8 L265.8,366.1 L268.6,364.3 L271.5,362.3 L274.3,359.9 L277.2,358.0 L280.0,357.0 L282.9,357.5 L285.7,358.9 L288.6,360.8 L291.4,362.4 L294.2,363.8 L297.1,365.1 L299.9,366.6 L302.8,368.1 L305.6,370.2 L308.5,372.5 L311.3,374.6 L314.2,375.7 L317.0,375.6 L319.9,374.6 L322.7,373.4 L325.5,372.6 L328.7,372.5 L331.9,372.7 L334.9,373.0 L336.9,373.2 M314.2,288.3 L316.2,287.4 L319.1,286.2 L322.4,284.8 L325.5,283.2 L328.7,281.3 L331.9,279.1 L334.9,277.0 L336.9,275.6 M314.2,326.6 L316.2,327.5 L319.1,328.9 L322.4,330.5 L325.5,332.3 L328.7,334.7 L331.9,337.6 L334.9,340.3 L336.9,342.1 M63.8,210.9 L65.8,211.1 L68.8,211.3 L72.1,211.7 L75.2,212.2 L78.0,212.9 L80.9,213.8 L83.7,214.8 L86.6,215.7 L89.4,216.4 L92.2,217.1 L95.1,217.7 L97.9,218.5 L100.8,219.5 L103.6,220.7 L106.5,221.8 L109.3,222.6 L112.2,223.1 L115.0,223.4 L117.9,223.6 L120.7,223.9 L123.5,224.4 L126.4,224.9 L129.2,225.4 L132.1,225.6 L134.9,225.8 L137.8,225.9 L140.6,225.7 L143.5,225.2 L146.3,224.1 L149.1,222.5 L152.0,220.8 L154.8,219.2 L157.7,217.7 L160.5,216.2 L163.4,214.7 L166.2,213.1 L169.1,211.5 L171.9,209.9 L174.8,208.2 L177.6,206.5 L180.4,204.6 L183.3,202.6 L186.1,200.7 L189.0,198.9 L191.8,197.0 L194.7,195.2 L197.5,193.6 L200.4,192.5 L203.2,192.1 L206.1,192.1 L208.9,192.4 L211.7,192.5 L214.6,192.7 L217.4,193.1 L220.3,193.1 L223.1,192.5 L226.0,190.8 L228.8,188.3 L231.7,185.7 L234.5,183.6 L237.3,182.2 L240.2,180.9 L243.0,180.2 L245.9,180.2 L248.7,181.3 L251.6,183.4 L254.4,185.6 L257.3,187.1 L260.1,187.6 L262.9,187.5 L265.8,187.2 L268.6,187.1 L271.5,187.3 L274.3,187.4 L277.2,187.7 L280.0,188.4 L282.9,189.6 L285.7,191.2 L288.6,192.8 L291.4,194.1 L294.2,195.0 L297.1,195.7 L299.9,196.2 L302.8,196.6 L305.6,197.1 L308.5,197.4 L311.3,197.6 L314.2,197.6 L317.0,197.1 L319.9,196.3 L322.7,195.6 L325.5,195.4 L328.4,196.0 L331.2,197.2 L334.1,198.5 L336.9,199.5 L340.0,200.2 L343.3,200.9 L346.3,201.4 L348.3,201.7 M63.8,231.5 L65.8,231.4 L68.8,231.3 L72.1,231.2 L75.2,231.0 L78.0,231.0 L80.9,230.9 L83.7,230.9 L86.6,230.7 L89.4,230.5 L92.2,230.3 L95.1,229.9 L97.9,229.5 L100.8,228.8 L103.6,227.9 L106.5,227.1 L109.3,226.3 L112.2,225.7 L115.0,225.2 L117.9,224.6 L120.7,223.9 L123.5,223.0 L126.4,222.0 L129.2,220.9 L132.1,219.8 L134.9,218.8 L137.8,217.7 L140.6,216.7 L143.5,215.7 L146.3,214.7 L149.1,213.7 L152.0,212.7 L154.8,211.5 L157.7,210.3 L160.5,209.0 L163.4,207.6 L166.2,206.2 L169.1,204.7 L171.9,203.1 L174.8,201.6 L177.6,200.1 L180.4,198.8 L183.3,197.5 L186.1,196.2 L189.0,194.7 L191.8,193.1 L194.7,191.2 L197.5,189.4 L200.4,187.8 L203.2,186.4 L206.1,185.2 L208.9,184.0 L211.7,182.7 L214.6,181.2 L217.4,179.5 L220.3,177.9 L223.1,176.7 L226.0,175.8 L228.8,175.2 L231.7,174.8 L234.5,174.5 L237.3,174.4 L240.2,174.7 L243.0,174.8 L245.9,174.5 L248.7,173.3 L251.6,171.6 L254.4,169.7 L257.3,168.1 L260.1,166.7 L262.9,165.4 L265.8,164.3 L268.6,163.4 L271.5,162.6 L274.3,162.1 L277.2,161.8 L280.0,161.8 L282.9,162.4 L285.7,163.5 L288.6,164.5 L291.4,164.6 L294.2,163.6 L297.1,161.8 L299.9,159.8 L302.8,158.3 L305.6,157.2 L308.5,156.3 L311.3,155.7 L314.2,155.8 L317.0,156.8 L319.9,158.6 L322.7,160.3 L325.5,161.1 L328.4,160.7 L331.2,159.4 L334.1,157.9 L336.9,156.7 L340.0,155.9 L343.3,155.2 L346.3,154.6 L348.3,154.2 M63.8,302.8 L65.8,302.8 L68.8,302.8 L72.1,302.8 L75.2,302.7 L78.0,302.5 L80.9,302.2 L83.7,301.9 L86.6,301.6 L89.4,301.2 L92.2,300.8 L95.1,300.4 L97.9,299.8 L100.8,299.2 L103.6,298.5 L106.5,297.8 L109.3,297.0 L112.2,296.1 L115.0,295.2 L117.9,294.3 L120.7,293.3 L123.5,292.4 L126.4,291.5 L129.2,290.6 L132.1,289.5 L134.9,288.2 L137.8,286.8 L140.6,285.5 L143.5,284.5 L146.3,284.1 L149.1,284.1 L152.0,284.1 L154.8,283.5 L157.7,282.2 L160.5,280.4 L163.4,278.5 L166.2,276.5 L169.1,274.5 L171.9,272.2 L174.8,270.2 L177.6,268.9 L180.4,268.5 L183.3,268.8 L186.1,269.5 L189.0,270.5 L191.8,271.9 L194.7,273.6 L197.5,275.7 L200.4,278.1 L203.2,280.9 L206.1,284.1 L208.9,287.4 L211.7,290.5 L214.6,293.1 L217.4,295.6 L220.3,298.0 L223.1,300.5 L226.0,303.0 L228.8,305.6 L231.7,308.1 L234.5,310.4 L237.3,312.6 L240.2,314.6 L243.0,316.6 L245.9,318.7 L248.7,321.0 L251.6,323.4 L254.4,325.7 L257.3,327.9 L260.1,329.9 L262.9,331.8 L265.8,333.5 L268.6,334.9 L271.5,335.7 L274.3,336.3 L277.2,336.6 L280.0,336.8 L282.9,336.8 L285.7,336.6 L288.6,336.5 L291.4,336.4 L294.2,336.5 L297.1,336.7 L299.9,337.0 L302.8,337.7 L305.6,338.8 L308.5,340.1 L311.3,341.7 L314.2,343.4 L317.0,345.2 L319.9,347.0 L322.7,349.1 L325.5,351.3 L328.4,354.2 L331.2,357.4 L334.1,360.5 L336.9,362.8 L340.0,364.0 L343.3,364.6 L346.3,364.8 L348.3,365.0 M63.8,348.8 L65.8,348.8 L68.8,348.9 L72.1,348.9 L75.2,348.8 L78.0,348.6 L80.9,348.4 L83.7,348.1 L86.6,347.9 L89.4,347.6 L92.2,347.4 L95.1,347.2 L97.9,346.9 L100.8,346.6 L103.6,346.3 L106.5,346.0 L109.3,345.6 L112.2,345.2 L115.0,344.8 L117.9,344.3 L120.7,343.7 L123.5,343.1 L126.4,342.5 L129.2,341.8 L132.1,341.2 L134.9,340.6 L137.8,340.1 L140.6,339.6 L143.5,339.0 L146.3,338.2 L149.1,337.3 L152.0,336.4 L154.8,335.5 L157.7,334.6 L160.5,333.8 L163.4,332.9 L166.2,332.0 L169.1,331.1 L171.9,330.2 L174.8,329.2 L177.6,328.2 L180.4,327.1 L183.3,326.1 L186.1,324.9 L189.0,323.8 L191.8,322.5 L194.7,321.3 L197.5,320.0 L200.4,318.7 L203.2,317.4 L206.1,316.0 L208.9,314.7 L211.7,313.3 L214.6,312.0 L217.4,310.7 L220.3,309.4 L223.1,307.9 L226.0,306.2 L228.8,304.4 L231.7,302.5 L234.5,300.8 L237.3,299.2 L240.2,297.8 L243.0,296.4 L245.9,294.9 L248.7,293.3 L251.6,291.6 L254.4,289.9 L257.3,288.3 L260.1,286.7 L262.9,285.2 L265.8,283.7 L268.6,282.2 L271.5,280.6 L274.3,278.9 L277.2,277.3 L280.0,275.9 L282.9,274.6 L285.7,273.5 L288.6,272.5 L291.4,271.8 L294.2,271.3 L297.1,271.0 L299.9,270.9 L302.8,271.1 L305.6,271.7 L308.5,272.5 L311.3,273.6 L314.2,274.9 L317.0,276.7 L319.9,278.7 L322.7,280.9 L325.5,283.2 L328.4,285.6 L331.2,288.2 L334.1,290.7 L336.9,292.7 L340.0,294.2 L343.3,295.3 L346.3,296.2 L348.3,296.8 M63.8,363.7 L65.8,363.7 L68.8,363.7 L72.1,363.7 L75.2,363.7 L78.0,363.6 L80.9,363.5 L83.7,363.3 L86.6,363.1 L89.4,362.7 L92.2,362.1 L95.1,361.6 L97.9,361.2 L100.8,360.9 L103.6,360.9 L106.5,360.8 L109.3,360.5 L112.2,360.2 L115.0,359.7 L117.9,359.2 L120.7,358.6 L123.5,357.9 L126.4,357.0 L129.2,356.2 L132.1,355.5 L134.9,355.0 L137.8,354.6 L140.6,354.2 L143.5,353.6 L146.3,352.5 L149.1,351.1 L152.0,349.7 L154.8,348.8 L157.7,348.5 L160.5,348.5 L163.4,348.7 L166.2,348.5 L169.1,347.9 L171.9,347.1 L174.8,346.2 L177.6,345.3 L180.4,344.6 L183.3,343.8 L186.1,343.1 L189.0,342.5 L191.8,342.0 L194.7,341.6 L197.5,341.2 L200.4,340.9 L203.2,340.5 L206.1,340.0 L208.9,339.6 L211.7,339.3 L214.6,339.0 L217.4,338.7 L220.3,338.5 L223.1,338.3 L226.0,338.2 L228.8,338.1 L231.7,338.0 L234.5,338.0 L237.3,338.0 L240.2,338.1 L243.0,338.2 L245.9,338.3 L248.7,338.5 L251.6,338.7 L254.4,339.0 L257.3,339.3 L260.1,339.7 L262.9,340.2 L265.8,340.7 L268.6,341.2 L271.5,341.5 L274.3,341.7 L277.2,342.1 L280.0,342.8 L282.9,344.1 L285.7,345.7 L288.6,347.5 L291.4,349.1 L294.2,350.4 L297.1,351.7 L299.9,352.9 L302.8,354.2 L305.6,355.8 L308.5,357.6 L311.3,359.2 L314.2,360.5 L317.0,361.2 L319.9,361.4 L322.7,361.6 L325.5,362.4 L328.4,364.1 L331.2,366.2 L334.1,368.4 L336.9,370.4 L340.0,372.0 L343.3,373.5 L346.3,374.8 L348.3,375.7 M75.2,209.3 L77.2,209.2 L80.2,209.1 L83.4,208.9 L86.6,208.7 L89.4,208.4 L92.2,208.0 L95.1,207.5 L97.9,207.1 L100.8,206.7 L103.6,206.2 L106.5,205.7 L109.3,205.2 L112.2,204.6 L115.0,204.0 L117.9,203.4 L120.7,202.7 L123.5,201.9 L126.4,201.0 L129.2,200.1 L132.1,199.2 L134.9,198.3 L137.8,197.3 L140.6,196.4 L143.5,195.4 L146.3,194.3 L149.1,193.2 L152.0,192.1 L154.8,190.9 L157.7,189.7 L160.5,188.4 L163.4,187.1 L166.2,185.9 L169.1,184.6 L171.9,183.3 L174.8,182.2 L177.6,181.4 L180.4,181.1 L183.3,181.0 L186.1,181.2 L189.0,181.4 L191.8,182.0 L194.7,182.8 L197.5,183.5 L200.4,183.6 L203.2,183.0 L206.1,181.7 L208.9,180.3 L211.7,179.2 L214.6,178.4 L217.4,177.8 L220.3,177.2 L223.1,176.7 L226.0,176.0 L228.8,175.4 L231.7,174.8 L234.5,174.5 L237.3,174.4 L240.2,174.7 L243.0,174.8 L245.9,174.5 L248.7,173.3 L251.6,171.6 L254.4,169.7 L257.3,168.1 L260.1,166.5 L262.9,164.9 L265.8,163.7 L268.6,163.4 L271.5,164.4 L274.3,166.5 L277.2,168.8 L280.0,170.3 L282.9,170.9 L285.7,171.0 L288.6,171.0 L291.4,171.0 L294.2,171.1 L297.1,171.2 L299.9,171.3 L302.8,171.6 L305.6,172.2 L308.5,173.1 L311.3,173.8 L314.2,173.8 L317.0,172.6 L319.9,170.6 L322.7,168.6 L325.5,167.5 L328.4,167.6 L331.2,168.4 L334.1,169.5 L336.9,170.3 L340.0,170.9 L343.3,171.5 L346.3,171.9 L348.3,172.2 M120.7,217.6 L122.7,217.9 L125.7,218.3 L129.0,219.0 L132.1,219.8 L134.9,221.2 L137.8,223.0 L140.6,224.6 L143.5,225.2 L146.3,224.5 L149.1,222.9 L152.0,220.9 L154.8,219.2 L157.7,217.7 L160.5,216.2 L163.4,214.7 L166.2,213.1 L169.1,211.5 L171.9,209.9 L174.8,208.2 L177.6,206.5 L180.4,204.6 L183.3,202.6 L186.1,200.7 L189.0,198.9 L191.8,197.0 L194.7,195.2 L197.5,193.6 L200.4,192.5 L203.2,192.1 L206.1,192.1 L208.9,192.4 L211.7,192.5 L214.6,192.7 L217.4,193.1 L220.3,193.1 L223.1,192.5 L226.0,190.8 L228.8,188.3 L231.7,185.7 L234.5,183.6 L237.3,182.2 L240.2,180.9 L243.0,180.2 L245.9,180.2 L248.7,181.3 L251.6,183.4 L254.4,185.6 L257.3,187.1 L260.1,187.7 L262.9,187.7 L265.8,187.4 L268.6,187.1 L271.5,186.9 L274.3,186.7 L277.2,186.2 L280.0,185.5 L282.9,184.4 L285.7,182.9 L288.6,181.3 L291.4,180.2 L294.2,179.4 L297.1,178.8 L299.9,178.5 L302.8,178.6 L305.6,179.0 L308.5,179.8 L311.3,180.9 L314.2,182.1 L317.0,183.7 L319.9,185.8 L322.7,187.6 L325.5,188.4 L328.4,187.8 L331.2,186.2 L334.1,184.3 L336.9,182.7 L340.0,181.3 L343.3,180.0 L346.3,178.8 L348.3,177.9 M132.1,352.3 L134.1,351.7 L137.1,350.7 L140.3,349.7 L143.5,348.8 L146.3,348.0 L149.1,347.2 L152.0,346.5 L154.8,345.6 L157.7,344.7 L160.5,343.8 L163.4,342.8 L166.2,341.8 L169.1,340.8 L171.9,339.8 L174.8,338.8 L177.6,337.7 L180.4,336.5 L183.3,335.2 L186.1,334.0 L189.0,333.3 L191.8,333.3 L194.7,333.9 L197.5,334.5 L200.4,334.5 L203.2,333.9 L206.1,332.8 L208.9,331.5 L211.7,330.1 L214.6,328.6 L217.4,327.0 L220.3,325.4 L223.1,323.8 L226.0,322.0 L228.8,320.1 L231.7,318.5 L234.5,317.4 L237.3,317.3 L240.2,317.9 L243.0,318.6 L245.9,318.7 L248.7,317.8 L251.6,316.4 L254.4,315.2 L257.3,314.9 L260.1,315.9 L262.9,317.9 L265.8,320.1 L268.6,322.2 L271.5,324.1 L274.3,326.1 L277.2,327.9 L280.0,329.1 L282.9,329.9 L285.7,330.3 L288.6,330.1 L291.4,329.5 L294.2,328.0 L297.1,325.8 L299.9,323.4 L302.8,321.2 L305.6,319.1 L308.5,317.0 L311.3,315.1 L314.2,313.6 L317.0,312.9 L319.9,312.8 L322.7,312.6 L325.5,311.7 L328.4,309.9 L331.2,307.5 L334.1,304.8 L336.9,301.9 L340.0,298.4 L343.3,294.5 L346.3,290.8 L348.3,288.3 M143.5,240.4 L145.5,241.7 L148.4,243.5 L151.7,245.6 L154.8,247.4 L157.7,248.8 L160.5,250.1 L163.4,251.4 L166.2,252.8 L169.1,254.6 L171.9,256.6 L174.8,258.4 L177.6,259.1 L180.4,258.5 L183.3,256.9 L186.1,254.9 L189.0,253.1 L191.8,251.3 L194.7,249.5 L197.5,247.7 L200.4,246.1 L203.2,244.8 L206.1,243.6 L208.9,242.5 L211.7,241.0 L214.6,239.1 L217.4,236.7 L220.3,234.5 L223.1,232.6 L226.0,231.4 L228.8,230.5 L231.7,229.7 L234.5,228.8 L237.3,227.7 L240.2,226.4 L243.0,225.2 L245.9,224.4 L248.7,223.8 L251.6,223.4 L254.4,223.4 L257.3,223.9 L260.1,225.2 L262.9,227.2 L265.8,229.4 L268.6,231.4 L271.5,233.2 L274.3,235.0 L277.2,236.5 L280.0,237.5 L282.9,237.7 L285.7,237.2 L288.6,236.6 L291.4,236.6 L294.2,237.2 L297.1,238.1 L299.9,239.4 L302.8,241.0 L305.6,243.4 L308.5,246.3 L311.3,249.1 L314.2,250.9 L317.0,251.3 L319.9,251.0 L322.7,250.1 L325.5,248.9 L328.4,247.5 L331.2,245.5 L334.1,243.5 L336.9,242.0 L340.0,241.0 L343.3,240.3 L346.3,239.8 L348.3,239.4 M154.8,278.4 L156.9,277.2 L159.8,275.5 L163.1,273.6 L166.2,271.8 L169.1,270.3 L171.9,269.0 L174.8,267.4 L177.6,265.4 L180.4,262.6 L183.3,259.3 L186.1,255.9 L189.0,253.1 L191.8,250.9 L194.7,249.1 L197.5,247.6 L200.4,246.1 L203.2,244.8 L206.1,243.6 L208.9,242.5 L211.7,241.0 L214.6,239.1 L217.4,236.7 L220.3,234.5 L223.1,232.6 L226.0,231.4 L228.8,230.5 L231.7,229.7 L234.5,228.8 L237.3,227.7 L240.2,226.4 L243.0,225.2 L245.9,224.4 L248.7,223.8 L251.6,223.4 L254.4,223.4 L257.3,223.9 L260.1,225.2 L262.9,227.2 L265.8,229.4 L268.6,231.4 L271.5,233.2 L274.3,235.0 L277.2,236.5 L280.0,237.5 L282.9,237.7 L285.7,237.2 L288.6,236.6 L291.4,236.6 L294.2,237.2 L297.1,238.1 L299.9,239.4 L302.8,241.0 L305.6,243.2 L308.5,245.8 L311.3,248.5 L314.2,250.9 L317.0,252.9 L319.9,254.8 L322.7,256.4 L325.5,257.5 L328.4,258.0 L331.2,258.1 L334.1,257.9 L336.9,257.8 L340.0,257.8 L343.3,257.8 L346.3,257.8 L348.3,257.8 M166.2,234.7 L168.3,233.3 L171.2,231.4 L174.5,229.3 L177.6,227.2 L180.4,225.4 L183.3,223.6 L186.1,221.7 L189.0,219.8 L191.8,217.8 L194.7,215.7 L197.5,213.6 L200.4,211.5 L203.2,209.5 L206.1,207.4 L208.9,205.4 L211.7,203.6 L214.6,202.0 L217.4,200.5 L220.3,199.4 L223.1,198.9 L226.0,199.2 L228.8,200.1 L231.7,201.3 L234.5,202.3 L237.3,203.4 L240.2,204.5 L243.0,205.4 L245.9,205.8 L248.7,205.8 L251.6,205.4 L254.4,204.5 L257.3,203.3 L260.1,201.4 L262.9,198.9 L265.8,196.3 L268.6,194.1 L271.5,192.2 L274.3,190.3 L277.2,188.9 L280.0,188.4 L282.9,189.1 L285.7,190.7 L288.6,192.6 L291.4,194.1 L294.2,195.0 L297.1,195.7 L299.9,196.2 L302.8,196.6 L305.6,197.1 L308.5,197.4 L311.3,197.6 L314.2,197.6 L317.0,197.1 L319.9,196.3 L322.7,195.6 L325.5,195.4 L328.4,196.0 L331.2,197.2 L334.1,198.5 L336.9,199.5 L340.0,200.2 L343.3,200.9 L346.3,201.4 L348.3,201.7 M200.4,157.7 L202.4,157.9 L205.3,158.4 L208.6,158.8 L211.7,159.2 L214.6,159.5 L217.4,159.8 L220.3,160.1 L223.1,160.5 L226.0,161.3 L228.8,162.3 L231.7,163.2 L234.5,163.4 L237.3,162.4 L240.2,160.7 L243.0,159.0 L245.9,158.3 L248.7,158.7 L251.6,159.8 L254.4,161.4 L257.3,163.4 L260.1,166.1 L262.9,169.4 L265.8,172.7 L268.6,175.1 L271.5,176.2 L274.3,176.4 L277.2,176.4 L280.0,176.7 L282.9,177.5 L285.7,178.6 L288.6,179.6 L291.4,180.2 L294.2,180.0 L297.1,179.4 L299.9,178.7 L302.8,178.6 L305.6,179.0 L308.5,179.8 L311.3,180.9 L314.2,182.1 L317.0,183.7 L319.9,185.8 L322.7,187.6 L325.5,188.4 L328.4,187.8 L331.2,186.2 L334.1,184.3 L336.9,182.7 L340.0,181.3 L343.3,180.0 L346.3,178.8 L348.3,177.9 M200.4,160.5 L202.4,160.2 L205.3,159.8 L208.6,159.4 L211.7,159.2 L214.6,159.3 L217.4,159.6 L220.3,160.0 L223.1,160.5 L226.0,161.3 L228.8,162.3 L231.7,163.2 L234.5,163.4 L237.3,162.4 L240.2,160.7 L243.0,159.0 L245.9,158.3 L248.7,158.7 L251.6,159.8 L254.4,161.4 L257.3,163.4 L260.1,166.1 L262.9,169.4 L265.8,172.7 L268.6,175.1 L271.5,176.4 L274.3,177.0 L277.2,177.0 L280.0,176.7 L282.9,175.6 L285.7,173.9 L288.6,172.1 L291.4,171.0 L294.2,170.6 L297.1,170.8 L299.9,171.2 L302.8,171.6 L305.6,172.2 L308.5,173.1 L311.3,173.8 L314.2,173.8 L317.0,172.6 L319.9,170.6 L322.7,168.6 L325.5,167.5 L328.4,167.6 L331.2,168.4 L334.1,169.5 L336.9,170.3 L340.0,170.9 L343.3,171.5 L346.3,171.9 L348.3,172.2 M234.5,222.6 L236.5,220.8 L239.5,218.2 L242.8,215.5 L245.9,213.4 L248.7,212.1 L251.6,211.1 L254.4,210.6 L257.3,210.6 L260.1,211.3 L262.9,212.7 L265.8,214.3 L268.6,215.7 L271.5,216.7 L274.3,217.5 L277.2,218.4 L280.0,219.2 L282.9,219.9 L285.7,220.6 L288.6,221.3 L291.4,222.0 L294.2,222.7 L297.1,223.4 L299.9,224.0 L302.8,224.5 L305.6,225.0 L308.5,225.4 L311.3,225.8 L314.2,226.1 L317.0,226.5 L319.9,226.9 L322.7,227.2 L325.5,227.4 L328.4,227.5 L331.2,227.5 L334.1,227.4 L336.9,227.4 L340.0,227.4 L343.3,227.4 L346.3,227.4 L348.3,227.4 M257.3,382.7 L259.3,381.8 L262.2,380.6 L265.5,379.1 L268.6,377.7 L271.5,376.1 L274.3,374.5 L277.2,372.8 L280.0,371.0 L282.9,369.0 L285.7,366.8 L288.6,364.6 L291.4,362.4 L294.2,360.3 L297.1,358.0 L299.9,356.0 L302.8,354.2 L305.6,352.6 L308.5,351.3 L311.3,350.3 L314.2,350.1 L317.0,350.8 L319.9,352.2 L322.7,354.0 L325.5,355.8 L328.4,357.5 L331.2,359.5 L334.1,361.3 L336.9,362.8 L340.0,363.7 L343.3,364.3 L346.3,364.7 L348.3,365.0 M268.6,152.9 L270.7,154.6 L273.6,157.2 L276.9,159.8 L280.0,161.8 L282.9,163.1 L285.7,164.2 L288.6,164.7 L291.4,164.6 L294.2,163.6 L297.1,161.8 L299.9,159.8 L302.8,158.3 L305.6,157.2 L308.5,156.3 L311.3,155.7 L314.2,155.8 L317.0,156.8 L319.9,158.6 L322.7,160.3 L325.5,161.1 L328.4,160.7 L331.2,159.4 L334.1,157.9 L336.9,156.7 L340.0,155.9 L343.3,155.2 L346.3,154.6 L348.3,154.2 M291.4,257.5 L293.4,258.2 L296.4,259.2 L299.7,260.1 L302.8,260.7 L305.6,260.6 L308.5,260.2 L311.3,259.6 L314.2,259.1 L317.0,258.7 L319.9,258.2 L322.7,257.8 L325.5,257.5 L328.4,257.5 L331.2,257.6 L334.1,257.7 L336.9,257.8 L340.0,257.8 L343.3,257.8 L346.3,257.8 L348.3,257.8 M302.8,200.1 L304.8,201.2 L307.8,202.8 L311.0,204.4 L314.2,205.8 L317.0,206.9 L319.9,207.8 L322.7,208.6 L325.5,209.3 L328.4,210.0 L331.2,210.6 L334.1,211.1 L336.9,211.5 L340.0,212.0 L343.3,212.3 L346.3,212.6 L348.3,212.8 M302.8,379.9 L304.8,379.1 L307.8,378.0 L311.0,376.8 L314.2,375.7 L317.0,374.8 L319.9,373.9 L322.7,373.1 L325.5,372.6 L328.4,372.6 L331.2,372.9 L334.1,373.2 L336.9,373.2 L340.0,372.6 L343.3,371.7 L346.3,370.7 L348.3,370.0 M325.5,244.2 L327.6,243.8 L330.5,243.2 L333.8,242.6 L336.9,242.0 L340.0,241.3 L343.3,240.6 L346.3,239.9 L348.3,239.4 M325.5,298.1 L327.6,298.1 L330.5,298.2 L333.8,298.2 L336.9,298.1 L340.0,297.8 L343.3,297.4 L346.3,297.1 L348.3,296.8 M325.5,314.6 L327.6,315.5 L330.5,316.9 L333.8,318.3 L336.9,319.0 L340.0,318.9 L343.3,318.2 L346.3,317.3 L348.3,316.8 M325.5,368.1 L327.6,368.6 L330.5,369.3 L333.8,369.9 L336.9,370.4 L340.0,370.5 L343.3,370.3 L346.3,370.2 L348.3,370.0 M336.9,238.2 L348.3,236.6 M336.9,321.2 L348.3,316.8 M336.9,377.7 L348.3,375.7 M154.8,241.7 L166.2,234.7 M154.8,241.7 L166.2,234.7 M109.3,226.3 L120.7,228.0 M154.8,352.0 L166.2,348.5 M109.3,358.6 L120.7,355.1 M200.4,252.1 L211.7,241.0 M200.4,252.1 L211.7,241.0 M211.7,179.2 L223.1,176.7 M211.7,182.7 L223.1,176.7 M211.7,161.1 L223.1,160.5 M120.7,192.3 L132.1,188.6 M223.1,171.0 L234.5,174.5 M75.2,199.2 L86.6,197.3 M223.1,171.0 L234.5,174.5 M177.6,171.0 L189.0,164.6 M223.1,152.9 L234.5,163.4 M177.6,171.0 L189.0,173.8 M223.1,152.9 L234.5,163.4 M200.4,157.7 L211.7,152.9 M245.9,153.5 L257.3,163.4 M234.5,163.4 L245.9,153.5 M280.0,243.9 L291.4,236.6 M280.0,243.9 L291.4,236.6 M166.2,294.9 L177.6,290.5 M302.8,266.4 L314.2,259.1 M302.8,337.7 L314.2,343.4 M302.8,271.1 L314.2,274.9 M211.7,290.5 L223.1,292.7 M302.8,266.4 L314.2,259.1 M245.9,294.9 L257.3,297.1 M302.8,154.2 L314.2,155.8 M291.4,164.6 L302.8,154.2 M314.2,274.9 L325.5,283.2 M97.9,361.2 L109.3,358.6 M325.5,263.2 L336.9,257.8 M325.5,351.3 L336.9,342.1 M325.5,355.8 L336.9,362.8 M268.6,377.7 L280.0,379.9 M336.9,373.2 L348.3,375.7 M211.7,370.0 L223.1,381.8 M336.9,275.6 L348.3,288.3 M302.8,275.6 L314.2,288.3 M336.9,342.1 L348.3,333.0 M302.8,321.2 L314.2,326.6 M63.8,210.9 L75.2,209.3 M109.3,222.6 L120.7,217.6 M120.7,355.1 L132.1,352.3 M132.1,234.4 L143.5,240.4 M143.5,274.6 L154.8,278.4 M154.8,241.7 L166.2,234.7 M189.0,164.6 L200.4,157.7 M189.0,164.6 L200.4,160.5 M223.1,232.6 L234.5,222.6 M245.9,375.7 L257.3,382.7 M257.3,163.4 L268.6,152.9 M280.0,264.2 L291.4,257.5 M291.4,194.1 L302.8,200.1 M291.4,374.5 L302.8,379.9 M314.2,250.9 L325.5,244.2 M314.2,288.3 L325.5,298.1 M314.2,313.6 L325.5,314.6 M314.2,360.5 L325.5,368.1 M325.5,244.2 L336.9,238.2 M325.5,314.6 L336.9,321.2 M325.5,372.6 L336.9,377.7 M336.9,156.7 L348.3,163.4 M336.9,321.2 L348.3,328.5 M336.9,342.1 L348.3,333.0 M632.8,245.8 L630.8,245.7 L627.8,245.5 L624.5,245.4 L621.4,245.1 L618.6,244.9 L615.7,244.6 L612.9,244.3 L610.0,243.9 L607.2,243.4 L604.4,242.8 L601.5,242.3 L598.7,241.7 L595.8,241.1 L593.0,240.5 L590.1,239.9 L587.3,239.1 L584.4,238.0 L581.6,236.8 L578.7,235.5 L575.9,234.7 L573.1,234.3 L570.2,234.3 L567.4,234.4 L564.5,234.4 L561.7,234.0 L558.8,233.5 L556.0,233.3 L553.1,233.7 L550.0,235.3 L546.7,237.7 L543.8,240.0 L541.8,241.7 M575.9,228.0 L573.9,228.4 L570.9,229.0 L567.6,229.7 L564.5,230.4 L561.7,231.1 L558.8,231.7 L556.0,232.6 L553.1,233.7 L550.0,235.6 L546.7,237.9 L543.8,240.1 L541.8,241.7 M575.9,355.1 L573.9,355.3 L570.9,355.4 L567.6,355.5 L564.5,355.5 L561.7,355.1 L558.8,354.6 L556.0,354.1 L553.1,353.6 L550.0,353.1 L546.7,352.6 L543.8,352.3 L541.8,352.0 M632.8,267.7 L630.8,267.5 L627.8,267.4 L624.5,267.2 L621.4,267.0 L618.6,266.8 L615.7,266.6 L612.9,266.4 L610.0,266.1 L607.2,265.6 L604.4,265.1 L601.5,264.5 L598.7,263.8 L595.8,263.2 L593.0,262.5 L590.1,261.8 L587.3,261.0 L584.4,260.1 L581.6,259.2 L578.7,258.3 L575.9,257.2 L573.1,256.0 L570.2,254.8 L567.4,253.4 L564.5,252.1 L561.7,250.7 L558.8,249.1 L556.0,247.7 L553.1,246.7 L550.3,246.4 L547.4,246.4 L544.6,246.7 L541.8,247.4 L538.9,248.4 L536.1,249.7 L533.2,251.2 L530.4,252.8 L527.5,254.4 L524.7,256.3 L521.8,258.0 L519.0,259.1 L516.2,259.6 L513.3,259.6 L510.5,259.2 L507.6,258.5 L504.5,257.1 L501.2,255.2 L498.3,253.4 L496.2,252.1 M632.8,289.8 L630.8,289.9 L627.8,289.9 L624.5,289.9 L621.4,289.8 L618.6,289.7 L615.7,289.5 L612.9,289.2 L610.0,288.9 L607.2,288.5 L604.4,288.0 L601.5,287.5 L598.7,287.0 L595.8,286.5 L593.0,286.1 L590.1,285.7 L587.3,285.1 L584.4,284.4 L581.6,283.6 L578.7,282.7 L575.9,281.9 L573.1,281.1 L570.2,280.4 L567.4,279.6 L564.5,278.7 L561.7,277.8 L558.8,276.8 L556.0,275.7 L553.1,274.6 L550.3,273.4 L547.4,272.1 L544.6,270.8 L541.8,269.6 L538.9,268.3 L536.1,267.0 L533.2,265.8 L530.4,264.8 L527.5,264.0 L524.7,263.3 L521.8,262.7 L519.0,261.9 L516.2,261.2 L513.3,260.4 L510.5,259.5 L507.6,258.5 L504.5,256.9 L501.2,255.1 L498.3,253.3 L496.2,252.1 M632.8,198.9 L630.8,198.9 L627.8,199.0 L624.5,199.0 L621.4,199.2 L618.6,199.4 L615.7,199.8 L612.9,200.1 L610.0,200.1 L607.2,199.9 L604.4,199.4 L601.5,198.8 L598.7,198.2 L595.8,197.7 L593.0,197.2 L590.1,196.7 L587.3,196.0 L584.4,195.1 L581.6,194.1 L578.7,193.1 L575.9,192.3 L573.1,191.8 L570.2,191.4 L567.4,191.1 L564.5,190.6 L561.7,189.9 L558.8,189.1 L556.0,188.2 L553.1,187.1 L550.3,185.9 L547.4,184.5 L544.6,183.2 L541.8,181.9 L538.9,180.7 L536.1,179.6 L533.2,178.6 L530.4,177.9 L527.5,177.9 L524.7,178.2 L521.8,178.6 L519.0,178.6 L516.2,178.0 L513.3,177.2 L510.5,176.3 L507.6,175.7 L504.8,175.4 L501.9,175.3 L499.1,175.4 L496.2,175.7 L493.1,176.4 L489.8,177.5 L486.9,178.5 L484.9,179.2 M632.8,216.3 L630.8,216.3 L627.8,216.3 L624.5,216.3 L621.4,216.3 L618.6,216.2 L615.7,216.0 L612.9,215.8 L610.0,215.7 L607.2,215.6 L604.4,215.5 L601.5,215.4 L598.7,215.0 L595.8,214.3 L593.0,213.3 L590.1,212.3 L587.3,211.5 L584.4,211.0 L581.6,210.7 L578.7,210.4 L575.9,210.0 L573.1,209.4 L570.2,208.7 L567.4,207.9 L564.5,207.1 L561.7,206.2 L558.8,205.1 L556.0,204.1 L553.1,203.0 L550.3,201.9 L547.4,200.8 L544.6,199.7 L541.8,198.5 L538.9,197.4 L536.1,196.2 L533.2,195.0 L530.4,193.8 L527.5,192.5 L524.7,191.2 L521.8,189.9 L519.0,188.4 L516.2,186.6 L513.3,184.4 L510.5,182.6 L507.6,181.4 L504.8,181.4 L501.9,182.2 L499.1,183.1 L496.2,183.6 L493.1,183.6 L489.8,183.3 L486.9,182.9 L484.9,182.7 M564.5,188.6 L562.5,187.8 L559.5,186.8 L556.3,185.6 L553.1,184.4 L550.3,183.2 L547.4,181.8 L544.6,180.4 L541.8,179.2 L538.9,178.3 L536.1,177.5 L533.2,176.8 L530.4,175.9 L527.5,174.7 L524.7,173.5 L521.8,172.2 L519.0,171.0 L516.2,169.8 L513.3,168.6 L510.5,167.6 L507.6,166.8 L504.8,166.7 L501.9,166.9 L499.1,167.2 L496.2,166.8 L493.1,165.7 L489.8,164.0 L486.9,162.3 L484.9,161.1 M610.0,197.3 L608.0,197.1 L605.1,196.9 L601.8,196.5 L598.7,196.2 L595.8,195.7 L593.0,195.1 L590.1,194.5 L587.3,193.9 L584.4,193.5 L581.6,193.1 L578.7,192.7 L575.9,192.3 L573.1,191.9 L570.2,191.6 L567.4,191.2 L564.5,190.6 L561.7,189.9 L558.8,189.1 L556.0,188.2 L553.1,187.1 L550.3,185.9 L547.4,184.5 L544.6,183.2 L541.8,181.9 L538.9,180.7 L536.1,179.6 L533.2,178.6 L530.4,177.9 L527.5,177.9 L524.7,178.2 L521.8,178.6 L519.0,178.6 L516.2,178.0 L513.3,177.2 L510.5,176.3 L507.6,175.7 L504.8,175.7 L501.9,176.0 L499.1,176.2 L496.2,175.7 L493.4,174.1 L490.6,171.7 L487.7,169.5 L484.9,168.1 L481.7,168.2 L478.5,169.1 L475.5,170.2 L473.5,171.0 M507.6,164.6 L505.6,165.0 L502.6,165.7 L499.4,166.3 L496.2,166.8 L493.4,167.2 L490.6,167.4 L487.7,167.7 L484.9,168.1 L481.7,168.8 L478.5,169.6 L475.5,170.4 L473.5,171.0 M507.6,173.8 L505.6,173.0 L502.6,171.8 L499.4,170.3 L496.2,168.7 L493.4,167.0 L490.6,165.1 L487.7,163.1 L484.9,161.1 L481.7,158.9 L478.5,156.5 L475.5,154.4 L473.5,152.9 M484.9,152.9 L473.5,152.9 M632.8,309.8 L630.8,309.8 L627.8,309.9 L624.5,309.9 L621.4,309.8 L618.6,309.7 L615.7,309.5 L612.9,309.3 L610.0,309.0 L607.2,308.8 L604.4,308.5 L601.5,308.2 L598.7,307.8 L595.8,307.3 L593.0,306.7 L590.1,306.1 L587.3,305.4 L584.4,304.6 L581.6,303.8 L578.7,302.9 L575.9,301.9 L573.1,300.8 L570.2,299.7 L567.4,298.4 L564.5,297.0 L561.7,295.3 L558.8,293.5 L556.0,291.6 L553.1,289.8 L550.3,288.2 L547.4,286.7 L544.6,285.1 L541.8,283.5 L538.9,281.8 L536.1,280.1 L533.2,278.3 L530.4,276.5 L527.5,274.5 L524.7,272.2 L521.8,270.2 L519.0,268.9 L516.2,268.5 L513.3,268.8 L510.5,269.5 L507.6,270.5 L504.8,272.2 L501.9,274.6 L499.1,276.8 L496.2,278.1 L493.4,278.2 L490.6,277.5 L487.7,276.4 L484.9,275.3 L482.0,274.1 L479.2,272.7 L476.3,271.1 L473.5,269.6 L470.6,267.9 L467.8,266.1 L464.9,264.4 L462.1,262.6 L459.3,260.8 L456.4,259.1 L453.6,257.3 L450.7,255.6 L447.9,253.8 L445.0,252.1 L442.2,250.3 L439.3,248.6 L436.5,246.9 L433.7,245.1 L430.8,243.6 L428.0,242.6 L424.8,242.4 L421.6,242.9 L418.6,243.5 L416.6,243.9 M519.0,290.5 L517.0,290.4 L514.0,290.3 L510.7,290.0 L507.6,289.2 L504.8,287.7 L501.9,285.7 L499.1,283.6 L496.2,281.6 L493.4,279.9 L490.6,278.3 L487.7,276.8 L484.9,275.3 L482.0,273.8 L479.2,272.4 L476.3,271.1 L473.5,269.6 L470.6,267.9 L467.8,266.1 L464.9,264.4 L462.1,262.6 L459.3,260.8 L456.4,259.1 L453.6,257.3 L450.7,255.6 L447.9,253.8 L445.0,252.1 L442.2,250.3 L439.3,248.6 L436.5,246.9 L433.7,245.1 L430.8,243.6 L428.0,242.6 L424.8,242.4 L421.6,242.9 L418.6,243.5 L416.6,243.9 M632.8,327.2 L630.8,327.3 L627.8,327.3 L624.5,327.4 L621.4,327.2 L618.6,327.0 L615.7,326.6 L612.9,326.1 L610.0,325.7 L607.2,325.2 L604.4,324.8 L601.5,324.3 L598.7,323.8 L595.8,323.1 L593.0,322.5 L590.1,321.7 L587.3,320.9 L584.4,320.0 L581.6,319.1 L578.7,318.1 L575.9,317.1 L573.1,316.2 L570.2,315.2 L567.4,314.3 L564.5,313.3 L561.7,312.3 L558.8,311.3 L556.0,310.2 L553.1,309.2 L550.3,308.1 L547.4,307.0 L544.6,305.9 L541.8,304.7 L538.9,303.7 L536.1,302.6 L533.2,301.5 L530.4,300.3 L527.5,299.0 L524.7,297.5 L521.8,296.1 L519.0,294.9 L516.2,294.0 L513.3,293.2 L510.5,292.4 L507.6,291.4 L504.8,290.1 L501.9,288.5 L499.1,287.0 L496.2,285.7 L493.4,285.0 L490.6,284.6 L487.7,284.2 L484.9,283.5 L482.0,282.3 L479.2,280.9 L476.3,279.4 L473.5,278.1 L470.6,277.1 L467.8,276.2 L464.9,275.4 L462.1,274.6 L459.3,273.9 L456.4,273.2 L453.6,272.5 L450.7,271.8 L447.9,271.1 L445.0,270.3 L442.2,269.6 L439.3,268.9 L436.5,268.2 L433.7,267.4 L430.8,266.7 L428.0,266.1 L425.1,265.5 L422.3,265.1 L419.4,264.6 L416.6,264.2 L413.7,263.5 L410.9,262.8 L408.0,262.3 L405.2,262.3 L402.1,263.0 L398.8,264.2 L395.9,265.5 L393.8,266.4 M632.8,376.1 L630.8,376.0 L627.8,376.0 L624.5,375.9 L621.4,375.7 L618.6,375.4 L615.7,374.9 L612.9,374.4 L610.0,373.8 L607.2,373.3 L604.4,372.8 L601.5,372.3 L598.7,371.6 L595.8,370.8 L593.0,370.0 L590.1,369.0 L587.3,368.1 L584.4,367.3 L581.6,366.4 L578.7,365.5 L575.9,364.7 L573.1,363.8 L570.2,362.9 L567.4,362.0 L564.5,361.2 L561.7,360.4 L558.8,359.7 L556.0,359.0 L553.1,358.0 L550.3,356.6 L547.4,355.0 L544.6,353.4 L541.8,352.0 L538.9,350.9 L536.1,350.1 L533.2,349.3 L530.4,348.5 L527.5,347.7 L524.7,346.9 L521.8,346.1 L519.0,345.3 L516.2,344.6 L513.3,343.8 L510.5,343.1 L507.6,342.5 L504.8,342.0 L501.9,341.6 L499.1,341.2 L496.2,340.9 L493.4,340.5 L490.6,340.0 L487.7,339.6 L484.9,339.3 L482.0,339.0 L479.2,338.7 L476.3,338.5 L473.5,338.3 L470.6,338.2 L467.8,338.1 L464.9,338.0 L462.1,338.0 L459.3,338.0 L456.4,338.1 L453.6,338.2 L450.7,338.3 L447.9,338.5 L445.0,338.7 L442.2,339.0 L439.3,339.3 L436.5,339.7 L433.7,340.2 L430.8,340.7 L428.0,341.2 L425.1,341.8 L422.3,342.5 L419.4,342.9 L416.6,342.8 L413.7,341.6 L410.9,339.6 L408.0,337.7 L405.2,336.4 L402.1,336.3 L398.8,336.7 L395.9,337.3 L393.8,337.7 M473.5,292.7 L471.4,294.2 L468.5,296.5 L465.2,298.9 L462.1,300.8 L459.3,302.2 L456.4,303.3 L453.6,304.2 L450.7,304.6 L447.9,304.6 L445.0,304.2 L442.2,303.4 L439.3,302.4 L436.5,300.9 L433.7,299.1 L430.8,297.0 L428.0,294.9 L425.1,292.7 L422.3,290.4 L419.4,288.1 L416.6,285.7 L413.7,283.3 L410.9,280.9 L408.0,278.6 L405.2,276.5 L402.1,274.8 L398.8,273.3 L395.9,272.0 L393.8,271.1 M439.3,297.1 L437.3,295.7 L434.4,293.7 L431.1,291.4 L428.0,289.2 L425.1,287.2 L422.3,285.2 L419.4,283.1 L416.6,281.0 L413.7,278.6 L410.9,276.2 L408.0,273.8 L405.2,271.8 L402.1,270.0 L398.8,268.5 L395.9,267.3 L393.8,266.4 M587.3,358.6 L585.2,358.6 L582.3,358.5 L579.0,358.5 L575.9,358.6 L573.1,359.2 L570.2,360.1 L567.4,360.9 L564.5,361.2 L561.7,360.9 L558.8,360.3 L556.0,359.3 L553.1,358.0 L550.3,356.1 L547.4,353.6 L544.6,351.1 L541.8,348.8 L538.9,346.8 L536.1,345.0 L533.2,343.3 L530.4,341.8 L527.5,340.6 L524.7,339.6 L521.8,338.7 L519.0,337.7 L516.2,336.6 L513.3,335.5 L510.5,334.4 L507.6,333.3 L504.8,332.1 L501.9,331.0 L499.1,329.8 L496.2,328.5 L493.4,327.2 L490.6,325.7 L487.7,324.3 L484.9,322.8 L482.0,321.3 L479.2,319.8 L476.3,318.3 L473.5,316.8 L470.6,315.1 L467.8,313.4 L464.9,311.7 L462.1,310.4 L459.3,309.7 L456.4,309.3 L453.6,308.9 L450.7,308.2 L447.9,307.1 L445.0,305.6 L442.2,304.0 L439.3,302.4 L436.5,300.7 L433.7,298.8 L430.8,296.9 L428.0,294.9 L425.1,292.7 L422.3,290.4 L419.4,288.1 L416.6,285.7 L413.7,283.2 L410.9,280.6 L408.0,278.2 L405.2,276.5 L402.4,275.7 L399.5,275.5 L396.7,275.6 L393.8,275.6 L390.7,275.4 L387.4,275.2 L384.5,275.0 L382.4,274.9 M632.8,317.1 L630.8,317.1 L627.8,317.2 L624.5,317.2 L621.4,317.1 L618.6,316.8 L615.7,316.5 L612.9,316.0 L610.0,315.5 L607.2,315.0 L604.4,314.4 L601.5,313.7 L598.7,313.0 L595.8,312.2 L593.0,311.5 L590.1,310.6 L587.3,309.8 L584.4,308.9 L581.6,308.0 L578.7,307.1 L575.9,306.3 L573.1,305.6 L570.2,305.0 L567.4,304.4 L564.5,303.8 L561.7,303.1 L558.8,302.3 L556.0,301.6 L553.1,300.8 L550.3,300.0 L547.4,299.2 L544.6,298.4 L541.8,297.6 L538.9,296.8 L536.1,296.1 L533.2,295.4 L530.4,294.9 L527.5,294.8 L524.7,295.0 L521.8,295.1 L519.0,294.9 L516.2,294.3 L513.3,293.5 L510.5,292.5 L507.6,291.4 L504.8,290.1 L501.9,288.5 L499.1,287.0 L496.2,285.7 L493.4,285.0 L490.6,284.6 L487.7,284.2 L484.9,283.5 L482.0,282.3 L479.2,280.9 L476.3,279.4 L473.5,278.1 L470.6,277.1 L467.8,276.2 L464.9,275.4 L462.1,274.6 L459.3,273.9 L456.4,273.2 L453.6,272.5 L450.7,271.8 L447.9,271.1 L445.0,270.3 L442.2,269.6 L439.3,268.9 L436.5,268.2 L433.7,267.4 L430.8,266.7 L428.0,266.1 L425.1,265.5 L422.3,265.1 L419.4,264.6 L416.6,264.2 L413.7,263.7 L410.9,263.2 L408.0,262.7 L405.2,262.3 L402.4,261.8 L399.5,261.5 L396.7,261.1 L393.8,260.7 L391.0,260.1 L388.1,259.5 L385.3,259.1 L382.4,259.1 L379.3,259.8 L376.0,261.1 L373.1,262.3 L371.1,263.2 M541.8,378.9 L539.7,378.6 L536.8,378.2 L533.5,377.7 L530.4,377.3 L527.5,377.0 L524.7,376.7 L521.8,376.4 L519.0,376.1 L516.2,375.8 L513.3,375.6 L510.5,375.4 L507.6,375.1 L504.8,374.7 L501.9,374.1 L499.1,373.5 L496.2,372.9 L493.4,372.2 L490.6,371.5 L487.7,370.8 L484.9,370.0 L482.0,369.2 L479.2,368.4 L476.3,367.5 L473.5,366.6 L470.6,365.5 L467.8,364.4 L464.9,363.3 L462.1,362.1 L459.3,360.9 L456.4,359.7 L453.6,358.4 L450.7,357.0 L447.9,355.7 L445.0,354.2 L442.2,352.8 L439.3,351.3 L436.5,349.8 L433.7,348.1 L430.8,346.7 L428.0,345.6 L425.1,345.2 L422.3,345.1 L419.4,345.3 L416.6,345.6 L413.7,346.5 L410.9,347.7 L408.0,348.8 L405.2,349.1 L402.4,348.2 L399.5,346.5 L396.7,344.7 L393.8,343.4 L391.0,342.8 L388.1,342.6 L385.3,342.7 L382.4,343.4 L379.3,345.0 L376.0,347.4 L373.1,349.7 L371.1,351.3 M416.6,379.9 L414.5,378.9 L411.6,377.6 L408.3,376.0 L405.2,374.5 L402.4,373.0 L399.5,371.4 L396.7,369.8 L393.8,368.1 L391.0,366.3 L388.1,364.2 L385.3,362.3 L382.4,360.5 L379.3,359.0 L376.0,357.7 L373.1,356.6 L371.1,355.8 M473.5,381.8 L471.4,381.3 L468.5,380.7 L465.2,380.0 L462.1,379.2 L459.3,378.5 L456.4,377.6 L453.6,376.7 L450.7,375.7 L447.9,374.7 L445.0,373.6 L442.2,372.3 L439.3,371.0 L436.5,369.5 L433.7,367.8 L430.8,366.1 L428.0,364.3 L425.1,362.3 L422.3,359.9 L419.4,358.0 L416.6,357.0 L413.7,357.5 L410.9,358.9 L408.0,360.8 L405.2,362.4 L402.4,363.8 L399.5,365.1 L396.7,366.6 L393.8,368.1 L391.0,370.2 L388.1,372.5 L385.3,374.6 L382.4,375.7 L379.6,375.6 L376.8,374.6 L373.9,373.4 L371.1,372.6 L367.9,372.5 L364.7,372.7 L361.7,373.0 L359.7,373.2 M382.4,288.3 L380.4,287.4 L377.5,286.2 L374.2,284.8 L371.1,283.2 L367.9,281.3 L364.7,279.1 L361.7,277.0 L359.7,275.6 M382.4,326.6 L380.4,327.5 L377.5,328.9 L374.2,330.5 L371.1,332.3 L367.9,334.7 L364.7,337.6 L361.7,340.3 L359.7,342.1 M632.8,210.9 L630.8,211.1 L627.8,211.3 L624.5,211.7 L621.4,212.2 L618.6,212.9 L615.7,213.8 L612.9,214.8 L610.0,215.7 L607.2,216.4 L604.4,217.1 L601.5,217.7 L598.7,218.5 L595.8,219.5 L593.0,220.7 L590.1,221.8 L587.3,222.6 L584.4,223.1 L581.6,223.4 L578.7,223.6 L575.9,223.9 L573.1,224.4 L570.2,224.9 L567.4,225.4 L564.5,225.6 L561.7,225.8 L558.8,225.9 L556.0,225.7 L553.1,225.2 L550.3,224.1 L547.4,222.5 L544.6,220.8 L541.8,219.2 L538.9,217.7 L536.1,216.2 L533.2,214.7 L530.4,213.1 L527.5,211.5 L524.7,209.9 L521.8,208.2 L519.0,206.5 L516.2,204.6 L513.3,202.6 L510.5,200.7 L507.6,198.9 L504.8,197.0 L501.9,195.2 L499.1,193.6 L496.2,192.5 L493.4,192.1 L490.6,192.1 L487.7,192.4 L484.9,192.5 L482.0,192.7 L479.2,193.1 L476.3,193.1 L473.5,192.5 L470.6,190.8 L467.8,188.3 L464.9,185.7 L462.1,183.6 L459.3,182.2 L456.4,180.9 L453.6,180.2 L450.7,180.2 L447.9,181.3 L445.0,183.4 L442.2,185.6 L439.3,187.1 L436.5,187.6 L433.7,187.5 L430.8,187.2 L428.0,187.1 L425.1,187.3 L422.3,187.4 L419.4,187.7 L416.6,188.4 L413.7,189.6 L410.9,191.2 L408.0,192.8 L405.2,194.1 L402.4,195.0 L399.5,195.7 L396.7,196.2 L393.8,196.6 L391.0,197.1 L388.1,197.4 L385.3,197.6 L382.4,197.6 L379.6,197.1 L376.8,196.3 L373.9,195.6 L371.1,195.4 L368.2,196.0 L365.4,197.2 L362.5,198.5 L359.7,199.5 L356.6,200.2 L353.3,200.9 L350.3,201.4 L348.3,201.7 M632.8,231.5 L630.8,231.4 L627.8,231.3 L624.5,231.2 L621.4,231.0 L618.6,231.0 L615.7,230.9 L612.9,230.9 L610.0,230.7 L607.2,230.5 L604.4,230.3 L601.5,229.9 L598.7,229.5 L595.8,228.8 L593.0,227.9 L590.1,227.1 L587.3,226.3 L584.4,225.7 L581.6,225.2 L578.7,224.6 L575.9,223.9 L573.1,223.0 L570.2,222.0 L567.4,220.9 L564.5,219.8 L561.7,218.8 L558.8,217.7 L556.0,216.7 L553.1,215.7 L550.3,214.7 L547.4,213.7 L544.6,212.7 L541.8,211.5 L538.9,210.3 L536.1,209.0 L533.2,207.6 L530.4,206.2 L527.5,204.7 L524.7,203.1 L521.8,201.6 L519.0,200.1 L516.2,198.8 L513.3,197.5 L510.5,196.2 L507.6,194.7 L504.8,193.1 L501.9,191.2 L499.1,189.4 L496.2,187.8 L493.4,186.4 L490.6,185.2 L487.7,184.0 L484.9,182.7 L482.0,181.2 L479.2,179.5 L476.3,177.9 L473.5,176.7 L470.6,175.8 L467.8,175.2 L464.9,174.8 L462.1,174.5 L459.3,174.4 L456.4,174.7 L453.6,174.8 L450.7,174.5 L447.9,173.3 L445.0,171.6 L442.2,169.7 L439.3,168.1 L436.5,166.7 L433.7,165.4 L430.8,164.3 L428.0,163.4 L425.1,162.6 L422.3,162.1 L419.4,161.8 L416.6,161.8 L413.7,162.4 L410.9,163.5 L408.0,164.5 L405.2,164.6 L402.4,163.6 L399.5,161.8 L396.7,159.8 L393.8,158.3 L391.0,157.2 L388.1,156.3 L385.3,155.7 L382.4,155.8 L379.6,156.8 L376.8,158.6 L373.9,160.3 L371.1,161.1 L368.2,160.7 L365.4,159.4 L362.5,157.9 L359.7,156.7 L356.6,155.9 L353.3,155.2 L350.3,154.6 L348.3,154.2 M632.8,302.8 L630.8,302.8 L627.8,302.8 L624.5,302.8 L621.4,302.7 L618.6,302.5 L615.7,302.2 L612.9,301.9 L610.0,301.6 L607.2,301.2 L604.4,300.8 L601.5,300.4 L598.7,299.8 L595.8,299.2 L593.0,298.5 L590.1,297.8 L587.3,297.0 L584.4,296.1 L581.6,295.2 L578.7,294.3 L575.9,293.3 L573.1,292.4 L570.2,291.5 L567.4,290.6 L564.5,289.5 L561.7,288.2 L558.8,286.8 L556.0,285.5 L553.1,284.5 L550.3,284.1 L547.4,284.1 L544.6,284.1 L541.8,283.5 L538.9,282.2 L536.1,280.4 L533.2,278.5 L530.4,276.5 L527.5,274.5 L524.7,272.2 L521.8,270.2 L519.0,268.9 L516.2,268.5 L513.3,268.8 L510.5,269.5 L507.6,270.5 L504.8,271.9 L501.9,273.6 L499.1,275.7 L496.2,278.1 L493.4,280.9 L490.6,284.1 L487.7,287.4 L484.9,290.5 L482.0,293.1 L479.2,295.6 L476.3,298.0 L473.5,300.5 L470.6,303.0 L467.8,305.6 L464.9,308.1 L462.1,310.4 L459.3,312.6 L456.4,314.6 L453.6,316.6 L450.7,318.7 L447.9,321.0 L445.0,323.4 L442.2,325.7 L439.3,327.9 L436.5,329.9 L433.7,331.8 L430.8,333.5 L428.0,334.9 L425.1,335.7 L422.3,336.3 L419.4,336.6 L416.6,336.8 L413.7,336.8 L410.9,336.6 L408.0,336.5 L405.2,336.4 L402.4,336.5 L399.5,336.7 L396.7,337.0 L393.8,337.7 L391.0,338.8 L388.1,340.1 L385.3,341.7 L382.4,343.4 L379.6,345.2 L376.8,347.0 L373.9,349.1 L371.1,351.3 L368.2,354.2 L365.4,357.4 L362.5,360.5 L359.7,362.8 L356.6,364.0 L353.3,364.6 L350.3,364.8 L348.3,365.0 M632.8,348.8 L630.8,348.8 L627.8,348.9 L624.5,348.9 L621.4,348.8 L618.6,348.6 L615.7,348.4 L612.9,348.1 L610.0,347.9 L607.2,347.6 L604.4,347.4 L601.5,347.2 L598.7,346.9 L595.8,346.6 L593.0,346.3 L590.1,346.0 L587.3,345.6 L584.4,345.2 L581.6,344.8 L578.7,344.3 L575.9,343.7 L573.1,343.1 L570.2,342.5 L567.4,341.8 L564.5,341.2 L561.7,340.6 L558.8,340.1 L556.0,339.6 L553.1,339.0 L550.3,338.2 L547.4,337.3 L544.6,336.4 L541.8,335.5 L538.9,334.6 L536.1,333.8 L533.2,332.9 L530.4,332.0 L527.5,331.1 L524.7,330.2 L521.8,329.2 L519.0,328.2 L516.2,327.1 L513.3,326.1 L510.5,324.9 L507.6,323.8 L504.8,322.5 L501.9,321.3 L499.1,320.0 L496.2,318.7 L493.4,317.4 L490.6,316.0 L487.7,314.7 L484.9,313.3 L482.0,312.0 L479.2,310.7 L476.3,309.4 L473.5,307.9 L470.6,306.2 L467.8,304.4 L464.9,302.5 L462.1,300.8 L459.3,299.2 L456.4,297.8 L453.6,296.4 L450.7,294.9 L447.9,293.3 L445.0,291.6 L442.2,289.9 L439.3,288.3 L436.5,286.7 L433.7,285.2 L430.8,283.7 L428.0,282.2 L425.1,280.6 L422.3,278.9 L419.4,277.3 L416.6,275.9 L413.7,274.6 L410.9,273.5 L408.0,272.5 L405.2,271.8 L402.4,271.3 L399.5,271.0 L396.7,270.9 L393.8,271.1 L391.0,271.7 L388.1,272.5 L385.3,273.6 L382.4,274.9 L379.6,276.7 L376.8,278.7 L373.9,280.9 L371.1,283.2 L368.2,285.6 L365.4,288.2 L362.5,290.7 L359.7,292.7 L356.6,294.2 L353.3,295.3 L350.3,296.2 L348.3,296.8 M632.8,363.7 L630.8,363.7 L627.8,363.7 L624.5,363.7 L621.4,363.7 L618.6,363.6 L615.7,363.5 L612.9,363.3 L610.0,363.1 L607.2,362.7 L604.4,362.1 L601.5,361.6 L598.7,361.2 L595.8,360.9 L593.0,360.9 L590.1,360.8 L587.3,360.5 L584.4,360.2 L581.6,359.7 L578.7,359.2 L575.9,358.6 L573.1,357.9 L570.2,357.0 L567.4,356.2 L564.5,355.5 L561.7,355.0 L558.8,354.6 L556.0,354.2 L553.1,353.6 L550.3,352.5 L547.4,351.1 L544.6,349.7 L541.8,348.8 L538.9,348.5 L536.1,348.5 L533.2,348.7 L530.4,348.5 L527.5,347.9 L524.7,347.1 L521.8,346.2 L519.0,345.3 L516.2,344.6 L513.3,343.8 L510.5,343.1 L507.6,342.5 L504.8,342.0 L501.9,341.6 L499.1,341.2 L496.2,340.9 L493.4,340.5 L490.6,340.0 L487.7,339.6 L484.9,339.3 L482.0,339.0 L479.2,338.7 L476.3,338.5 L473.5,338.3 L470.6,338.2 L467.8,338.1 L464.9,338.0 L462.1,338.0 L459.3,338.0 L456.4,338.1 L453.6,338.2 L450.7,338.3 L447.9,338.5 L445.0,338.7 L442.2,339.0 L439.3,339.3 L436.5,339.7 L433.7,340.2 L430.8,340.7 L428.0,341.2 L425.1,341.5 L422.3,341.7 L419.4,342.1 L416.6,342.8 L413.7,344.1 L410.9,345.7 L408.0,347.5 L405.2,349.1 L402.4,350.4 L399.5,351.7 L396.7,352.9 L393.8,354.2 L391.0,355.8 L388.1,357.6 L385.3,359.2 L382.4,360.5 L379.6,361.2 L376.8,361.4 L373.9,361.6 L371.1,362.4 L368.2,364.1 L365.4,366.2 L362.5,368.4 L359.7,370.4 L356.6,372.0 L353.3,373.5 L350.3,374.8 L348.3,375.7 M621.4,209.3 L619.4,209.2 L616.4,209.1 L613.2,208.9 L610.0,208.7 L607.2,208.4 L604.4,208.0 L601.5,207.5 L598.7,207.1 L595.8,206.7 L593.0,206.2 L590.1,205.7 L587.3,205.2 L584.4,204.6 L581.6,204.0 L578.7,203.4 L575.9,202.7 L573.1,201.9 L570.2,201.0 L567.4,200.1 L564.5,199.2 L561.7,198.3 L558.8,197.3 L556.0,196.4 L553.1,195.4 L550.3,194.3 L547.4,193.2 L544.6,192.1 L541.8,190.9 L538.9,189.7 L536.1,188.4 L533.2,187.1 L530.4,185.9 L527.5,184.6 L524.7,183.3 L521.8,182.2 L519.0,181.4 L516.2,181.1 L513.3,181.0 L510.5,181.2 L507.6,181.4 L504.8,182.0 L501.9,182.8 L499.1,183.5 L496.2,183.6 L493.4,183.0 L490.6,181.7 L487.7,180.3 L484.9,179.2 L482.0,178.4 L479.2,177.8 L476.3,177.2 L473.5,176.7 L470.6,176.0 L467.8,175.4 L464.9,174.8 L462.1,174.5 L459.3,174.4 L456.4,174.7 L453.6,174.8 L450.7,174.5 L447.9,173.3 L445.0,171.6 L442.2,169.7 L439.3,168.1 L436.5,166.5 L433.7,164.9 L430.8,163.7 L428.0,163.4 L425.1,164.4 L422.3,166.5 L419.4,168.8 L416.6,170.3 L413.7,170.9 L410.9,171.0 L408.0,171.0 L405.2,171.0 L402.4,171.1 L399.5,171.2 L396.7,171.3 L393.8,171.6 L391.0,172.2 L388.1,173.1 L385.3,173.8 L382.4,173.8 L379.6,172.6 L376.8,170.6 L373.9,168.6 L371.1,167.5 L368.2,167.6 L365.4,168.4 L362.5,169.5 L359.7,170.3 L356.6,170.9 L353.3,171.5 L350.3,171.9 L348.3,172.2 M575.9,217.6 L573.9,217.9 L570.9,218.3 L567.6,219.0 L564.5,219.8 L561.7,221.2 L558.8,223.0 L556.0,224.6 L553.1,225.2 L550.3,224.5 L547.4,222.9 L544.6,220.9 L541.8,219.2 L538.9,217.7 L536.1,216.2 L533.2,214.7 L530.4,213.1 L527.5,211.5 L524.7,209.9 L521.8,208.2 L519.0,206.5 L516.2,204.6 L513.3,202.6 L510.5,200.7 L507.6,198.9 L504.8,197.0 L501.9,195.2 L499.1,193.6 L496.2,192.5 L493.4,192.1 L490.6,192.1 L487.7,192.4 L484.9,192.5 L482.0,192.7 L479.2,193.1 L476.3,193.1 L473.5,192.5 L470.6,190.8 L467.8,188.3 L464.9,185.7 L462.1,183.6 L459.3,182.2 L456.4,180.9 L453.6,180.2 L450.7,180.2 L447.9,181.3 L445.0,183.4 L442.2,185.6 L439.3,187.1 L436.5,187.7 L433.7,187.7 L430.8,187.4 L428.0,187.1 L425.1,186.9 L422.3,186.7 L419.4,186.2 L416.6,185.5 L413.7,184.4 L410.9,182.9 L408.0,181.3 L405.2,180.2 L402.4,179.4 L399.5,178.8 L396.7,178.5 L393.8,178.6 L391.0,179.0 L388.1,179.8 L385.3,180.9 L382.4,182.1 L379.6,183.7 L376.8,185.8 L373.9,187.6 L371.1,188.4 L368.2,187.8 L365.4,186.2 L362.5,184.3 L359.7,182.7 L356.6,181.3 L353.3,180.0 L350.3,178.8 L348.3,177.9 M564.5,352.3 L562.5,351.7 L559.5,350.7 L556.3,349.7 L553.1,348.8 L550.3,348.0 L547.4,347.2 L544.6,346.5 L541.8,345.6 L538.9,344.7 L536.1,343.8 L533.2,342.8 L530.4,341.8 L527.5,340.8 L524.7,339.8 L521.8,338.8 L519.0,337.7 L516.2,336.5 L513.3,335.2 L510.5,334.0 L507.6,333.3 L504.8,333.3 L501.9,333.9 L499.1,334.5 L496.2,334.5 L493.4,333.9 L490.6,332.8 L487.7,331.5 L484.9,330.1 L482.0,328.6 L479.2,327.0 L476.3,325.4 L473.5,323.8 L470.6,322.0 L467.8,320.1 L464.9,318.5 L462.1,317.4 L459.3,317.3 L456.4,317.9 L453.6,318.6 L450.7,318.7 L447.9,317.8 L445.0,316.4 L442.2,315.2 L439.3,314.9 L436.5,315.9 L433.7,317.9 L430.8,320.1 L428.0,322.2 L425.1,324.1 L422.3,326.1 L419.4,327.9 L416.6,329.1 L413.7,329.9 L410.9,330.3 L408.0,330.1 L405.2,329.5 L402.4,328.0 L399.5,325.8 L396.7,323.4 L393.8,321.2 L391.0,319.1 L388.1,317.0 L385.3,315.1 L382.4,313.6 L379.6,312.9 L376.8,312.8 L373.9,312.6 L371.1,311.7 L368.2,309.9 L365.4,307.5 L362.5,304.8 L359.7,301.9 L356.6,298.4 L353.3,294.5 L350.3,290.8 L348.3,288.3 M553.1,240.4 L551.1,241.7 L548.2,243.5 L544.9,245.6 L541.8,247.4 L538.9,248.8 L536.1,250.1 L533.2,251.4 L530.4,252.8 L527.5,254.6 L524.7,256.6 L521.8,258.4 L519.0,259.1 L516.2,258.5 L513.3,256.9 L510.5,254.9 L507.6,253.1 L504.8,251.3 L501.9,249.5 L499.1,247.7 L496.2,246.1 L493.4,244.8 L490.6,243.6 L487.7,242.5 L484.9,241.0 L482.0,239.1 L479.2,236.7 L476.3,234.5 L473.5,232.6 L470.6,231.4 L467.8,230.5 L464.9,229.7 L462.1,228.8 L459.3,227.7 L456.4,226.4 L453.6,225.2 L450.7,224.4 L447.9,223.8 L445.0,223.4 L442.2,223.4 L439.3,223.9 L436.5,225.2 L433.7,227.2 L430.8,229.4 L428.0,231.4 L425.1,233.2 L422.3,235.0 L419.4,236.5 L416.6,237.5 L413.7,237.7 L410.9,237.2 L408.0,236.6 L405.2,236.6 L402.4,237.2 L399.5,238.1 L396.7,239.4 L393.8,241.0 L391.0,243.4 L388.1,246.3 L385.3,249.1 L382.4,250.9 L379.6,251.3 L376.8,251.0 L373.9,250.1 L371.1,248.9 L368.2,247.5 L365.4,245.5 L362.5,243.5 L359.7,242.0 L356.6,241.0 L353.3,240.3 L350.3,239.8 L348.3,239.4 M541.8,278.4 L539.7,277.2 L536.8,275.5 L533.5,273.6 L530.4,271.8 L527.5,270.3 L524.7,269.0 L521.8,267.4 L519.0,265.4 L516.2,262.6 L513.3,259.3 L510.5,255.9 L507.6,253.1 L504.8,250.9 L501.9,249.1 L499.1,247.6 L496.2,246.1 L493.4,244.8 L490.6,243.6 L487.7,242.5 L484.9,241.0 L482.0,239.1 L479.2,236.7 L476.3,234.5 L473.5,232.6 L470.6,231.4 L467.8,230.5 L464.9,229.7 L462.1,228.8 L459.3,227.7 L456.4,226.4 L453.6,225.2 L450.7,224.4 L447.9,223.8 L445.0,223.4 L442.2,223.4 L439.3,223.9 L436.5,225.2 L433.7,227.2 L430.8,229.4 L428.0,231.4 L425.1,233.2 L422.3,235.0 L419.4,236.5 L416.6,237.5 L413.7,237.7 L410.9,237.2 L408.0,236.6 L405.2,236.6 L402.4,237.2 L399.5,238.1 L396.7,239.4 L393.8,241.0 L391.0,243.2 L388.1,245.8 L385.3,248.5 L382.4,250.9 L379.6,252.9 L376.8,254.8 L373.9,256.4 L371.1,257.5 L368.2,258.0 L365.4,258.1 L362.5,257.9 L359.7,257.8 L356.6,257.8 L353.3,257.8 L350.3,257.8 L348.3,257.8 M530.4,234.7 L528.3,233.3 L525.4,231.4 L522.1,229.3 L519.0,227.2 L516.2,225.4 L513.3,223.6 L510.5,221.7 L507.6,219.8 L504.8,217.8 L501.9,215.7 L499.1,213.6 L496.2,211.5 L493.4,209.5 L490.6,207.4 L487.7,205.4 L484.9,203.6 L482.0,202.0 L479.2,200.5 L476.3,199.4 L473.5,198.9 L470.6,199.2 L467.8,200.1 L464.9,201.3 L462.1,202.3 L459.3,203.4 L456.4,204.5 L453.6,205.4 L450.7,205.8 L447.9,205.8 L445.0,205.4 L442.2,204.5 L439.3,203.3 L436.5,201.4 L433.7,198.9 L430.8,196.3 L428.0,194.1 L425.1,192.2 L422.3,190.3 L419.4,188.9 L416.6,188.4 L413.7,189.1 L410.9,190.7 L408.0,192.6 L405.2,194.1 L402.4,195.0 L399.5,195.7 L396.7,196.2 L393.8,196.6 L391.0,197.1 L388.1,197.4 L385.3,197.6 L382.4,197.6 L379.6,197.1 L376.8,196.3 L373.9,195.6 L371.1,195.4 L368.2,196.0 L365.4,197.2 L362.5,198.5 L359.7,199.5 L356.6,200.2 L353.3,200.9 L350.3,201.4 L348.3,201.7 M496.2,157.7 L494.2,157.9 L491.3,158.4 L488.0,158.8 L484.9,159.2 L482.0,159.5 L479.2,159.8 L476.3,160.1 L473.5,160.5 L470.6,161.3 L467.8,162.3 L464.9,163.2 L462.1,163.4 L459.3,162.4 L456.4,160.7 L453.6,159.0 L450.7,158.3 L447.9,158.7 L445.0,159.8 L442.2,161.4 L439.3,163.4 L436.5,166.1 L433.7,169.4 L430.8,172.7 L428.0,175.1 L425.1,176.2 L422.3,176.4 L419.4,176.4 L416.6,176.7 L413.7,177.5 L410.9,178.6 L408.0,179.6 L405.2,180.2 L402.4,180.0 L399.5,179.4 L396.7,178.7 L393.8,178.6 L391.0,179.0 L388.1,179.8 L385.3,180.9 L382.4,182.1 L379.6,183.7 L376.8,185.8 L373.9,187.6 L371.1,188.4 L368.2,187.8 L365.4,186.2 L362.5,184.3 L359.7,182.7 L356.6,181.3 L353.3,180.0 L350.3,178.8 L348.3,177.9 M496.2,160.5 L494.2,160.2 L491.3,159.8 L488.0,159.4 L484.9,159.2 L482.0,159.3 L479.2,159.6 L476.3,160.0 L473.5,160.5 L470.6,161.3 L467.8,162.3 L464.9,163.2 L462.1,163.4 L459.3,162.4 L456.4,160.7 L453.6,159.0 L450.7,158.3 L447.9,158.7 L445.0,159.8 L442.2,161.4 L439.3,163.4 L436.5,166.1 L433.7,169.4 L430.8,172.7 L428.0,175.1 L425.1,176.4 L422.3,177.0 L419.4,177.0 L416.6,176.7 L413.7,175.6 L410.9,173.9 L408.0,172.1 L405.2,171.0 L402.4,170.6 L399.5,170.8 L396.7,171.2 L393.8,171.6 L391.0,172.2 L388.1,173.1 L385.3,173.8 L382.4,173.8 L379.6,172.6 L376.8,170.6 L373.9,168.6 L371.1,167.5 L368.2,167.6 L365.4,168.4 L362.5,169.5 L359.7,170.3 L356.6,170.9 L353.3,171.5 L350.3,171.9 L348.3,172.2 M462.1,222.6 L460.1,220.8 L457.1,218.2 L453.8,215.5 L450.7,213.4 L447.9,212.1 L445.0,211.1 L442.2,210.6 L439.3,210.6 L436.5,211.3 L433.7,212.7 L430.8,214.3 L428.0,215.7 L425.1,216.7 L422.3,217.5 L419.4,218.4 L416.6,219.2 L413.7,219.9 L410.9,220.6 L408.0,221.3 L405.2,222.0 L402.4,222.7 L399.5,223.4 L396.7,224.0 L393.8,224.5 L391.0,225.0 L388.1,225.4 L385.3,225.8 L382.4,226.1 L379.6,226.5 L376.8,226.9 L373.9,227.2 L371.1,227.4 L368.2,227.5 L365.4,227.5 L362.5,227.4 L359.7,227.4 L356.6,227.4 L353.3,227.4 L350.3,227.4 L348.3,227.4 M439.3,382.7 L437.3,381.8 L434.4,380.6 L431.1,379.1 L428.0,377.7 L425.1,376.1 L422.3,374.5 L419.4,372.8 L416.6,371.0 L413.7,369.0 L410.9,366.8 L408.0,364.6 L405.2,362.4 L402.4,360.3 L399.5,358.0 L396.7,356.0 L393.8,354.2 L391.0,352.6 L388.1,351.3 L385.3,350.3 L382.4,350.1 L379.6,350.8 L376.8,352.2 L373.9,354.0 L371.1,355.8 L368.2,357.5 L365.4,359.5 L362.5,361.3 L359.7,362.8 L356.6,363.7 L353.3,364.3 L350.3,364.7 L348.3,365.0 M428.0,152.9 L425.9,154.6 L423.0,157.2 L419.7,159.8 L416.6,161.8 L413.7,163.1 L410.9,164.2 L408.0,164.7 L405.2,164.6 L402.4,163.6 L399.5,161.8 L396.7,159.8 L393.8,158.3 L391.0,157.2 L388.1,156.3 L385.3,155.7 L382.4,155.8 L379.6,156.8 L376.8,158.6 L373.9,160.3 L371.1,161.1 L368.2,160.7 L365.4,159.4 L362.5,157.9 L359.7,156.7 L356.6,155.9 L353.3,155.2 L350.3,154.6 L348.3,154.2 M405.2,257.5 L403.2,258.2 L400.2,259.2 L396.9,260.1 L393.8,260.7 L391.0,260.6 L388.1,260.2 L385.3,259.6 L382.4,259.1 L379.6,258.7 L376.8,258.2 L373.9,257.8 L371.1,257.5 L368.2,257.5 L365.4,257.6 L362.5,257.7 L359.7,257.8 L356.6,257.8 L353.3,257.8 L350.3,257.8 L348.3,257.8 M393.8,200.1 L391.8,201.2 L388.8,202.8 L385.6,204.4 L382.4,205.8 L379.6,206.9 L376.8,207.8 L373.9,208.6 L371.1,209.3 L368.2,210.0 L365.4,210.6 L362.5,211.1 L359.7,211.5 L356.6,212.0 L353.3,212.3 L350.3,212.6 L348.3,212.8 M393.8,379.9 L391.8,379.1 L388.8,378.0 L385.6,376.8 L382.4,375.7 L379.6,374.8 L376.8,373.9 L373.9,373.1 L371.1,372.6 L368.2,372.6 L365.4,372.9 L362.5,373.2 L359.7,373.2 L356.6,372.6 L353.3,371.7 L350.3,370.7 L348.3,370.0 M371.1,244.2 L369.0,243.8 L366.1,243.2 L362.8,242.6 L359.7,242.0 L356.6,241.3 L353.3,240.6 L350.3,239.9 L348.3,239.4 M371.1,298.1 L369.0,298.1 L366.1,298.2 L362.8,298.2 L359.7,298.1 L356.6,297.8 L353.3,297.4 L350.3,297.1 L348.3,296.8 M371.1,314.6 L369.0,315.5 L366.1,316.9 L362.8,318.3 L359.7,319.0 L356.6,318.9 L353.3,318.2 L350.3,317.3 L348.3,316.8 M371.1,368.1 L369.0,368.6 L366.1,369.3 L362.8,369.9 L359.7,370.4 L356.6,370.5 L353.3,370.3 L350.3,370.2 L348.3,370.0 M359.7,238.2 L348.3,236.6 M359.7,321.2 L348.3,316.8 M359.7,377.7 L348.3,375.7 M541.8,241.7 L530.4,234.7 M541.8,241.7 L530.4,234.7 M587.3,226.3 L575.9,228.0 M541.8,352.0 L530.4,348.5 M587.3,358.6 L575.9,355.1 M496.2,252.1 L484.9,241.0 M496.2,252.1 L484.9,241.0 M484.9,179.2 L473.5,176.7 M484.9,182.7 L473.5,176.7 M484.9,161.1 L473.5,160.5 M575.9,192.3 L564.5,188.6 M473.5,171.0 L462.1,174.5 M621.4,199.2 L610.0,197.3 M473.5,171.0 L462.1,174.5 M519.0,171.0 L507.6,164.6 M473.5,152.9 L462.1,163.4 M519.0,171.0 L507.6,173.8 M473.5,152.9 L462.1,163.4 M496.2,157.7 L484.9,152.9 M450.7,153.5 L439.3,163.4 M462.1,163.4 L450.7,153.5 M416.6,243.9 L405.2,236.6 M416.6,243.9 L405.2,236.6 M530.4,294.9 L519.0,290.5 M393.8,266.4 L382.4,259.1 M393.8,337.7 L382.4,343.4 M393.8,271.1 L382.4,274.9 M484.9,290.5 L473.5,292.7 M393.8,266.4 L382.4,259.1 M450.7,294.9 L439.3,297.1 M393.8,154.2 L382.4,155.8 M405.2,164.6 L393.8,154.2 M382.4,274.9 L371.1,283.2 M598.7,361.2 L587.3,358.6 M371.1,263.2 L359.7,257.8 M371.1,351.3 L359.7,342.1 M371.1,355.8 L359.7,362.8 M428.0,377.7 L416.6,379.9 M359.7,373.2 L348.3,375.7 M484.9,370.0 L473.5,381.8 M359.7,275.6 L348.3,288.3 M393.8,275.6 L382.4,288.3 M359.7,342.1 L348.3,333.0 M393.8,321.2 L382.4,326.6 M632.8,210.9 L621.4,209.3 M587.3,222.6 L575.9,217.6 M575.9,355.1 L564.5,352.3 M564.5,234.4 L553.1,240.4 M553.1,274.6 L541.8,278.4 M541.8,241.7 L530.4,234.7 M507.6,164.6 L496.2,157.7 M507.6,164.6 L496.2,160.5 M473.5,232.6 L462.1,222.6 M450.7,375.7 L439.3,382.7 M439.3,163.4 L428.0,152.9 M416.6,264.2 L405.2,257.5 M405.2,194.1 L393.8,200.1 M405.2,374.5 L393.8,379.9 M382.4,250.9 L371.1,244.2 M382.4,288.3 L371.1,298.1 M382.4,313.6 L371.1,314.6 M382.4,360.5 L371.1,368.1 M371.1,244.2 L359.7,238.2 M371.1,314.6 L359.7,321.2 M371.1,372.6 L359.7,377.7 M359.7,156.7 L348.3,163.4 M359.7,321.2 L348.3,328.5 M359.7,342.1 L348.3,333.0 M63.8,452.5 L65.8,452.3 L68.8,452.1 L72.1,451.9 L75.2,451.8 L78.0,451.9 L80.9,452.1 L83.7,452.4 L86.6,452.5 L89.4,452.4 L92.2,452.2 L95.1,452.0 L97.9,451.8 L100.8,451.6 L103.6,451.4 L106.5,451.2 L109.3,450.9 L112.2,450.5 L115.0,450.1 L117.9,449.7 L120.7,449.3 L123.5,448.9 L126.4,448.6 L129.2,448.2 L132.1,447.7 L135.2,447.0 L138.5,446.2 L141.4,445.4 L143.5,444.9 M63.8,456.9 L65.8,457.0 L68.8,457.0 L72.1,457.1 L75.2,456.9 L78.0,456.5 L80.9,455.8 L83.7,455.2 L86.6,454.7 L89.4,454.4 L92.2,454.2 L95.1,454.1 L97.9,454.0 L100.8,454.0 L103.6,454.1 L106.5,454.1 L109.3,454.0 L112.2,453.8 L115.0,453.5 L117.9,453.0 L120.7,452.5 L123.5,451.7 L126.4,450.9 L129.2,450.0 L132.1,449.3 L135.2,448.7 L138.5,448.3 L141.4,448.0 L143.5,447.7 M97.9,457.2 L100.0,456.6 L102.9,455.7 L106.2,454.8 L109.3,454.0 L112.2,453.6 L115.0,453.3 L117.9,452.9 L120.7,452.5 L123.5,451.7 L126.4,450.9 L129.2,450.0 L132.1,449.3 L135.2,448.7 L138.5,448.3 L141.4,448.0 L143.5,447.7 M120.7,471.2 L122.7,471.7 L125.7,472.4 L129.0,473.2 L132.1,473.7 L135.2,473.9 L138.5,473.9 L141.4,473.8 L143.5,473.7 M166.2,449.3 L177.6,445.5 M63.8,465.5 L65.8,465.5 L68.8,465.5 L72.1,465.5 L75.2,465.5 L78.0,465.2 L80.9,464.8 L83.7,464.4 L86.6,464.2 L89.4,464.1 L92.2,464.2 L95.1,464.3 L97.9,464.2 L100.8,463.9 L103.6,463.5 L106.5,463.0 L109.3,462.6 L112.2,462.2 L115.0,461.9 L117.9,461.5 L120.7,461.0 L123.5,460.5 L126.4,460.0 L129.2,459.4 L132.1,458.8 L134.9,458.2 L137.8,457.5 L140.6,456.9 L143.5,456.3 L146.3,455.6 L149.1,455.0 L152.0,454.4 L154.8,454.0 L157.7,454.1 L160.5,454.4 L163.4,454.7 L166.2,454.7 L169.1,454.3 L171.9,453.7 L174.8,453.0 L177.6,452.5 L180.4,452.2 L183.3,452.1 L186.1,452.0 L189.0,451.8 L191.8,451.6 L194.7,451.3 L197.5,451.1 L200.4,450.9 L203.2,450.7 L206.1,450.5 L208.9,450.5 L211.7,450.9 L214.6,451.6 L217.4,452.5 L220.3,453.8 L223.1,455.6 L226.0,458.1 L228.8,461.2 L231.7,464.4 L234.5,467.4 L237.3,470.0 L240.2,472.4 L243.0,474.7 L245.9,476.6 L248.7,478.2 L251.6,479.5 L254.4,480.5 L257.3,481.0 L260.1,480.8 L262.9,480.0 L265.8,479.0 L268.6,478.1 L271.8,477.5 L275.0,476.9 L278.0,476.3 L280.0,475.9 M63.8,441.7 L65.8,441.7 L68.8,441.7 L72.1,441.7 L75.2,441.7 L78.0,441.7 L80.9,441.7 L83.7,441.7 L86.6,441.7 L89.4,441.7 L92.2,441.7 L95.1,441.7 L97.9,441.7 L100.8,441.7 L103.6,441.7 L106.5,441.7 L109.3,441.7 L112.2,441.7 L115.0,441.7 L117.9,441.7 L120.7,441.7 L123.5,441.7 L126.4,441.6 L129.2,441.6 L132.1,441.7 L134.9,441.8 L137.8,442.0 L140.6,442.2 L143.5,442.3 L146.3,442.4 L149.1,442.4 L152.0,442.3 L154.8,442.3 L157.7,442.3 L160.5,442.3 L163.4,442.3 L166.2,442.3 L169.1,442.3 L171.9,442.3 L174.8,442.3 L177.6,442.3 L180.4,442.3 L183.3,442.4 L186.1,442.4 L189.0,442.3 L191.8,442.2 L194.7,442.0 L197.5,441.8 L200.4,441.7 L203.2,441.6 L206.1,441.6 L208.9,441.6 L211.7,441.7 L214.6,441.8 L217.4,442.0 L220.3,442.2 L223.1,442.3 L226.0,442.4 L228.8,442.4 L231.7,442.3 L234.5,442.3 L237.3,442.3 L240.2,442.3 L243.0,442.3 L245.9,442.3 L248.7,442.3 L251.6,442.3 L254.4,442.3 L257.3,442.3 L260.1,442.3 L262.9,442.3 L265.8,442.3 L268.6,442.3 L271.5,442.3 L274.3,442.3 L277.2,442.3 L280.0,442.3 L282.9,442.5 L285.7,442.8 L288.6,443.1 L291.4,443.3 L294.2,443.3 L297.1,443.3 L299.9,443.3 L302.8,443.3 L305.6,443.3 L308.5,443.3 L311.3,443.3 L314.2,443.3 L317.0,443.3 L319.9,443.3 L322.7,443.3 L325.5,443.3 L328.4,443.3 L331.2,443.3 L334.1,443.3 L336.9,443.3 L340.0,443.3 L343.3,443.3 L346.3,443.3 L348.3,443.3 M63.8,450.9 L65.8,451.1 L68.8,451.3 L72.1,451.6 L75.2,451.8 L78.0,452.0 L80.9,452.2 L83.7,452.4 L86.6,452.5 L89.4,452.4 L92.2,452.2 L95.1,452.0 L97.9,451.8 L100.8,451.6 L103.6,451.4 L106.5,451.2 L109.3,450.9 L112.2,450.5 L115.0,450.1 L117.9,449.7 L120.7,449.3 L123.5,448.9 L126.4,448.6 L129.2,448.2 L132.1,447.7 L134.9,447.1 L137.8,446.3 L140.6,445.6 L143.5,444.9 L146.3,444.1 L149.1,443.4 L152.0,442.8 L154.8,442.3 L157.7,442.1 L160.5,442.2 L163.4,442.3 L166.2,442.3 L169.1,442.3 L171.9,442.3 L174.8,442.3 L177.6,442.3 L180.4,442.3 L183.3,442.4 L186.1,442.4 L189.0,442.3 L191.8,442.2 L194.7,442.0 L197.5,441.8 L200.4,441.7 L203.2,441.6 L206.1,441.6 L208.9,441.6 L211.7,441.7 L214.6,441.8 L217.4,442.0 L220.3,442.2 L223.1,442.3 L226.0,442.4 L228.8,442.4 L231.7,442.3 L234.5,442.3 L237.3,442.3 L240.2,442.3 L243.0,442.3 L245.9,442.3 L248.7,442.3 L251.6,442.3 L254.4,442.3 L257.3,442.3 L260.1,442.3 L262.9,442.3 L265.8,442.3 L268.6,442.3 L271.5,442.3 L274.3,442.3 L277.2,442.3 L280.0,442.3 L282.9,442.5 L285.7,442.8 L288.6,443.1 L291.4,443.3 L294.2,443.3 L297.1,443.3 L299.9,443.3 L302.8,443.3 L305.6,443.3 L308.5,443.3 L311.3,443.3 L314.2,443.3 L317.0,443.3 L319.9,443.3 L322.7,443.3 L325.5,443.3 L328.4,443.3 L331.2,443.3 L334.1,443.3 L336.9,443.3 L340.0,443.3 L343.3,443.3 L346.3,443.3 L348.3,443.3 M63.8,464.2 L65.8,464.3 L68.8,464.4 L72.1,464.5 L75.2,464.5 L78.0,464.5 L80.9,464.4 L83.7,464.3 L86.6,464.2 L89.4,464.2 L92.2,464.3 L95.1,464.3 L97.9,464.2 L100.8,463.9 L103.6,463.5 L106.5,463.0 L109.3,462.6 L112.2,462.2 L115.0,461.9 L117.9,461.5 L120.7,461.0 L123.5,460.5 L126.4,460.0 L129.2,459.4 L132.1,458.8 L134.9,458.2 L137.8,457.5 L140.6,456.9 L143.5,456.3 L146.3,455.6 L149.1,455.0 L152.0,454.4 L154.8,454.0 L157.7,454.1 L160.5,454.4 L163.4,454.7 L166.2,454.7 L169.1,454.3 L171.9,453.7 L174.8,453.0 L177.6,452.5 L180.4,452.2 L183.3,452.1 L186.1,452.0 L189.0,451.8 L191.8,451.6 L194.7,451.3 L197.5,451.1 L200.4,450.9 L203.2,450.9 L206.1,451.1 L208.9,451.2 L211.7,450.9 L214.6,449.9 L217.4,448.5 L220.3,447.1 L223.1,446.1 L226.0,445.8 L228.8,445.8 L231.7,446.0 L234.5,446.1 L237.3,446.1 L240.2,446.1 L243.0,446.1 L245.9,446.1 L248.7,446.0 L251.6,445.9 L254.4,445.9 L257.3,446.1 L260.1,446.7 L262.9,447.6 L265.8,448.6 L268.6,449.3 L271.5,449.7 L274.3,449.9 L277.2,450.1 L280.0,450.2 L282.9,450.4 L285.7,450.6 L288.6,450.7 L291.4,450.9 L294.2,451.1 L297.1,451.4 L299.9,451.7 L302.8,451.8 L305.6,451.9 L308.5,451.8 L311.3,451.8 L314.2,451.8 L317.0,452.0 L319.9,452.1 L322.7,452.3 L325.5,452.5 L328.4,452.5 L331.2,452.5 L334.1,452.5 L336.9,452.5 L340.0,452.5 L343.3,452.5 L346.3,452.5 L348.3,452.5 M63.8,478.8 L65.8,478.9 L68.8,479.0 L72.1,479.1 L75.2,479.1 L78.0,478.9 L80.9,478.7 L83.7,478.4 L86.6,478.1 L89.4,478.0 L92.2,477.8 L95.1,477.7 L97.9,477.5 L100.8,477.3 L103.6,477.1 L106.5,476.9 L109.3,476.6 L112.2,476.1 L115.0,475.4 L117.9,474.8 L120.7,474.3 L123.5,474.1 L126.4,474.1 L129.2,474.0 L132.1,473.7 L134.9,473.1 L137.8,472.2 L140.6,471.3 L143.5,470.5 L146.3,469.8 L149.1,469.1 L152.0,468.5 L154.8,468.0 L157.7,467.7 L160.5,467.7 L163.4,467.6 L166.2,467.4 L169.1,466.9 L171.9,466.2 L174.8,465.5 L177.6,464.8 L180.4,464.2 L183.3,463.7 L186.1,463.2 L189.0,462.6 L191.8,462.0 L194.7,461.5 L197.5,460.9 L200.4,460.4 L203.2,459.9 L206.1,459.5 L208.9,459.1 L211.7,458.8 L214.6,458.6 L217.4,458.4 L220.3,458.2 L223.1,457.9 L226.0,457.3 L228.8,456.7 L231.7,456.1 L234.5,455.6 L237.3,455.5 L240.2,455.5 L243.0,455.6 L245.9,455.6 L248.7,455.6 L251.6,455.5 L254.4,455.5 L257.3,455.6 L260.1,456.0 L262.9,456.4 L265.8,456.9 L268.6,457.2 L271.5,457.3 L274.3,457.3 L277.2,457.2 L280.0,457.2 L282.9,457.3 L285.7,457.5 L288.6,457.7 L291.4,457.9 L294.2,458.1 L297.1,458.5 L299.9,458.7 L302.8,458.8 L305.6,458.5 L308.5,458.0 L311.3,457.5 L314.2,457.2 L317.0,457.2 L319.9,457.4 L322.7,457.7 L325.5,457.9 L328.4,457.9 L331.2,457.9 L334.1,457.9 L336.9,457.9 L340.0,457.9 L343.3,457.9 L346.3,457.9 L348.3,457.9 M63.8,483.8 L65.8,483.9 L68.8,483.9 L72.1,483.9 L75.2,483.8 L78.0,483.7 L80.9,483.4 L83.7,483.1 L86.6,482.9 L89.4,482.7 L92.2,482.6 L95.1,482.5 L97.9,482.3 L100.8,482.0 L103.6,481.8 L106.5,481.4 L109.3,481.0 L112.2,480.3 L115.0,479.5 L117.9,478.7 L120.7,478.1 L123.5,478.0 L126.4,478.2 L129.2,478.4 L132.1,478.1 L134.9,477.4 L137.8,476.3 L140.6,475.0 L143.5,473.7 L146.3,472.2 L149.1,470.6 L152.0,469.1 L154.8,468.0 L157.7,467.5 L160.5,467.5 L163.4,467.5 L166.2,467.4 L169.1,466.9 L171.9,466.2 L174.8,465.5 L177.6,464.8 L180.4,464.2 L183.3,463.7 L186.1,463.2 L189.0,462.6 L191.8,462.0 L194.7,461.5 L197.5,460.9 L200.4,460.4 L203.2,459.9 L206.1,459.5 L208.9,459.1 L211.7,458.8 L214.6,458.6 L217.4,458.4 L220.3,458.2 L223.1,457.9 L226.0,457.3 L228.8,456.7 L231.7,456.1 L234.5,455.6 L237.3,455.5 L240.2,455.5 L243.0,455.6 L245.9,455.6 L248.7,455.6 L251.6,455.5 L254.4,455.5 L257.3,455.6 L260.1,456.0 L262.9,456.4 L265.8,456.9 L268.6,457.2 L271.5,457.5 L274.3,457.7 L277.2,457.7 L280.0,457.2 L282.9,455.9 L285.7,454.0 L288.6,452.1 L291.4,450.9 L294.2,450.6 L297.1,451.0 L299.9,451.5 L302.8,451.8 L305.6,451.9 L308.5,451.8 L311.3,451.8 L314.2,451.8 L317.0,452.0 L319.9,452.1 L322.7,452.3 L325.5,452.5 L328.4,452.5 L331.2,452.5 L334.1,452.5 L336.9,452.5 L340.0,452.5 L343.3,452.5 L346.3,452.5 L348.3,452.5 M63.8,496.5 L65.8,496.6 L68.8,496.6 L72.1,496.6 L75.2,496.5 L78.0,496.3 L80.9,495.9 L83.7,495.6 L86.6,495.3 L89.4,495.1 L92.2,495.0 L95.1,494.8 L97.9,494.6 L100.8,494.3 L103.6,493.9 L106.5,493.5 L109.3,493.0 L112.2,492.5 L115.0,492.0 L117.9,491.4 L120.7,490.8 L123.5,490.1 L126.4,489.4 L129.2,488.7 L132.1,488.3 L134.9,488.2 L137.8,488.5 L140.6,488.6 L143.5,488.3 L146.3,487.1 L149.1,485.5 L152.0,483.7 L154.8,482.3 L157.7,481.3 L160.5,480.5 L163.4,479.8 L166.2,479.1 L169.1,478.4 L171.9,477.8 L174.8,477.2 L177.6,476.6 L180.4,475.9 L183.3,475.1 L186.1,474.4 L189.0,473.7 L191.8,473.0 L194.7,472.4 L197.5,471.8 L200.4,471.2 L203.2,470.6 L206.1,470.0 L208.9,469.4 L211.7,468.9 L214.6,468.5 L217.4,468.0 L220.3,467.6 L223.1,467.4 L226.0,467.3 L228.8,467.5 L231.7,467.5 L234.5,467.4 L237.3,466.7 L240.2,465.7 L243.0,464.8 L245.9,464.2 L248.7,464.1 L251.6,464.3 L254.4,464.6 L257.3,464.8 L260.1,464.9 L262.9,464.9 L265.8,464.8 L268.6,464.8 L271.5,464.8 L274.3,464.8 L277.2,464.8 L280.0,464.8 L282.9,464.8 L285.7,464.8 L288.6,464.8 L291.4,464.8 L294.2,464.9 L297.1,464.9 L299.9,464.9 L302.8,464.8 L305.6,464.6 L308.5,464.2 L311.3,463.8 L314.2,463.6 L317.0,463.6 L319.9,463.8 L322.7,464.0 L325.5,464.2 L328.4,464.4 L331.2,464.5 L334.1,464.7 L336.9,464.8 L340.0,464.9 L343.3,464.9 L346.3,464.8 L348.3,464.8 M63.8,516.5 L65.8,516.5 L68.8,516.6 L72.1,516.6 L75.2,516.5 L78.0,516.3 L80.9,516.1 L83.7,515.8 L86.6,515.5 L89.4,515.3 L92.2,515.1 L95.1,514.9 L97.9,514.6 L100.8,514.2 L103.6,513.7 L106.5,513.2 L109.3,512.7 L112.2,512.1 L115.0,511.4 L117.9,510.8 L120.7,510.2 L123.5,509.6 L126.4,509.1 L129.2,508.6 L132.1,507.9 L134.9,507.1 L137.8,506.2 L140.6,505.2 L143.5,504.1 L146.3,503.0 L149.1,501.7 L152.0,500.4 L154.8,499.4 L157.7,498.6 L160.5,498.1 L163.4,497.5 L166.2,496.8 L169.1,496.0 L171.9,495.0 L174.8,494.0 L177.6,493.0 L180.4,492.1 L183.3,491.2 L186.1,490.2 L189.0,489.2 L191.8,488.2 L194.7,487.2 L197.5,486.2 L200.4,485.1 L203.2,484.0 L206.1,482.9 L208.9,481.8 L211.7,480.7 L214.6,479.6 L217.4,478.5 L220.3,477.3 L223.1,475.9 L226.0,474.3 L228.8,472.4 L231.7,470.6 L234.5,468.9 L237.3,467.5 L240.2,466.1 L243.0,464.9 L245.9,464.2 L248.7,464.0 L251.6,464.2 L254.4,464.6 L257.3,464.8 L260.1,464.9 L262.9,464.9 L265.8,464.8 L268.6,464.8 L271.5,465.0 L274.3,465.3 L277.2,465.3 L280.0,464.8 L282.9,463.4 L285.7,461.3 L288.6,459.2 L291.4,457.9 L294.2,457.6 L297.1,458.0 L299.9,458.6 L302.8,458.8 L305.6,458.5 L308.5,458.0 L311.3,457.5 L314.2,457.2 L317.0,457.2 L319.9,457.4 L322.7,457.7 L325.5,457.9 L328.4,457.9 L331.2,457.9 L334.1,457.9 L336.9,457.9 L340.0,457.9 L343.3,457.9 L346.3,457.9 L348.3,457.9 M63.8,525.7 L65.8,525.7 L68.8,525.7 L72.1,525.7 L75.2,525.7 L78.0,525.6 L80.9,525.4 L83.7,525.2 L86.6,525.1 L89.4,524.9 L92.2,524.9 L95.1,524.7 L97.9,524.4 L100.8,523.9 L103.6,523.2 L106.5,522.5 L109.3,521.9 L112.2,521.4 L115.0,521.0 L117.9,520.7 L120.7,520.3 L123.5,519.8 L126.4,519.3 L129.2,518.8 L132.1,518.7 L134.9,519.1 L137.8,519.8 L140.6,520.7 L143.5,521.3 L146.3,521.5 L149.1,521.6 L152.0,521.7 L154.8,521.9 L157.7,522.2 L160.5,522.7 L163.4,523.1 L166.2,523.5 L169.1,523.8 L171.9,524.0 L174.8,524.3 L177.6,524.4 L180.4,524.5 L183.3,524.4 L186.1,524.4 L189.0,524.4 L191.8,524.6 L194.7,525.0 L197.5,525.3 L200.4,525.7 L203.2,526.0 L206.1,526.4 L208.9,526.8 L211.7,527.3 L214.6,528.0 L217.4,528.9 L220.3,529.7 L223.1,529.8 L226.0,529.2 L228.8,528.0 L231.7,526.5 L234.5,525.1 L237.3,523.6 L240.2,522.0 L243.0,520.4 L245.9,518.7 L248.7,517.0 L251.6,515.3 L254.4,513.5 L257.3,511.7 L260.1,510.0 L262.9,508.2 L265.8,506.5 L268.6,504.8 L271.5,503.1 L274.3,501.5 L277.2,499.9 L280.0,498.4 L282.9,497.0 L285.7,495.7 L288.6,494.4 L291.4,493.0 L294.2,491.7 L297.1,490.2 L299.9,488.9 L302.8,487.6 L305.6,486.6 L308.5,485.6 L311.3,484.7 L314.2,483.8 L317.0,482.9 L319.9,482.0 L322.7,481.2 L325.5,480.4 L328.4,479.6 L331.2,478.8 L334.1,478.1 L336.9,477.5 L340.0,477.1 L343.3,476.9 L346.3,476.7 L348.3,476.6 M63.8,528.9 L65.8,528.9 L68.8,528.8 L72.1,528.8 L75.2,528.9 L78.0,528.9 L80.9,529.0 L83.7,529.1 L86.6,529.2 L89.4,529.2 L92.2,529.2 L95.1,529.2 L97.9,529.2 L100.8,529.1 L103.6,529.1 L106.5,529.1 L109.3,529.2 L112.2,529.4 L115.0,529.9 L117.9,530.2 L120.7,530.4 L123.5,530.5 L126.4,530.5 L129.2,530.3 L132.1,529.8 L134.9,528.9 L137.8,527.6 L140.6,526.2 L143.5,525.1 L146.3,524.2 L149.1,523.5 L152.0,522.8 L154.8,521.9 L157.7,520.8 L160.5,519.6 L163.4,518.3 L166.2,517.1 L169.1,516.0 L171.9,514.9 L174.8,513.8 L177.6,512.7 L180.4,511.5 L183.3,510.3 L186.1,509.1 L189.0,507.9 L191.8,506.7 L194.7,505.6 L197.5,504.4 L200.4,503.2 L203.2,502.0 L206.1,500.8 L208.9,499.7 L211.7,498.4 L214.6,497.1 L217.4,495.7 L220.3,494.4 L223.1,493.0 L226.0,491.8 L228.8,490.6 L231.7,489.4 L234.5,488.3 L237.3,487.3 L240.2,486.5 L243.0,485.6 L245.9,484.2 L248.7,481.9 L251.6,479.1 L254.4,476.3 L257.3,474.3 L260.1,473.3 L262.9,473.0 L265.8,472.9 L268.6,472.8 L271.5,472.7 L274.3,472.8 L277.2,472.7 L280.0,472.1 L282.9,470.6 L285.7,468.4 L288.6,466.3 L291.4,464.8 L294.2,464.3 L297.1,464.4 L299.9,464.7 L302.8,464.8 L305.6,464.6 L308.5,464.2 L311.3,463.8 L314.2,463.6 L317.0,463.6 L319.9,463.8 L322.7,464.0 L325.5,464.2 L328.4,464.4 L331.2,464.5 L334.1,464.7 L336.9,464.8 L340.0,464.9 L343.3,464.9 L346.3,464.8 L348.3,464.8 M86.6,499.4 L88.6,500.2 L91.5,501.4 L94.8,502.7 L97.9,504.1 L100.8,505.6 L103.6,507.1 L106.5,508.7 L109.3,510.2 L112.2,511.6 L115.0,513.1 L117.9,514.5 L120.7,515.5 L123.5,516.3 L126.4,516.9 L129.2,517.2 L132.1,517.1 L134.9,516.5 L137.8,515.5 L140.6,514.4 L143.5,513.3 L146.3,512.5 L149.1,511.7 L152.0,510.9 L154.8,510.2 L157.7,509.4 L160.5,508.7 L163.4,507.9 L166.2,507.0 L169.1,505.8 L171.9,504.4 L174.8,503.0 L177.6,501.6 L180.4,500.4 L183.3,499.2 L186.1,498.0 L189.0,496.8 L191.8,495.7 L194.7,494.7 L197.5,493.6 L200.4,492.4 L203.2,491.0 L206.1,489.6 L208.9,488.1 L211.7,486.7 L214.6,485.5 L217.4,484.3 L220.3,483.3 L223.1,482.3 L226.0,481.2 L228.8,480.1 L231.7,479.3 L234.5,479.1 L237.3,480.0 L240.2,481.6 L243.0,483.3 L245.9,484.2 L248.7,483.9 L251.6,483.1 L254.4,482.0 L257.3,481.0 L260.1,480.2 L262.9,479.5 L265.8,478.8 L268.6,478.1 L271.5,477.6 L274.3,477.1 L277.2,476.5 L280.0,475.9 L282.9,475.1 L285.7,474.2 L288.6,473.4 L291.4,472.8 L294.2,472.4 L297.1,472.3 L299.9,472.2 L302.8,472.1 L305.6,471.9 L308.5,471.6 L311.3,471.3 L314.2,471.2 L317.0,471.1 L319.9,471.1 L322.7,471.2 L325.5,471.2 L328.4,471.0 L331.2,470.8 L334.1,470.7 L336.9,470.5 L340.0,470.5 L343.3,470.5 L346.3,470.5 L348.3,470.5 M143.5,485.1 L145.5,484.6 L148.4,483.9 L151.7,483.1 L154.8,482.3 L157.7,481.5 L160.5,480.7 L163.4,479.8 L166.2,479.1 L169.1,478.4 L171.9,477.8 L174.8,477.2 L177.6,476.6 L180.4,475.9 L183.3,475.1 L186.1,474.4 L189.0,473.7 L191.8,473.0 L194.7,472.4 L197.5,471.8 L200.4,471.2 L203.2,470.6 L206.1,470.0 L208.9,469.4 L211.7,468.9 L214.6,468.4 L217.4,467.9 L220.3,467.5 L223.1,467.4 L226.0,467.4 L228.8,467.6 L231.7,468.1 L234.5,468.9 L237.3,470.7 L240.2,473.0 L243.0,475.2 L245.9,476.6 L248.7,476.7 L251.6,476.0 L254.4,475.1 L257.3,474.3 L260.1,473.9 L262.9,473.4 L265.8,473.1 L268.6,472.8 L271.5,472.5 L274.3,472.3 L277.2,472.2 L280.0,472.1 L282.9,472.2 L285.7,472.4 L288.6,472.7 L291.4,472.8 L294.2,472.7 L297.1,472.5 L299.9,472.3 L302.8,472.1 L305.6,471.9 L308.5,471.6 L311.3,471.3 L314.2,471.2 L317.0,471.1 L319.9,471.1 L322.7,471.2 L325.5,471.2 L328.4,471.0 L331.2,470.8 L334.1,470.7 L336.9,470.5 L340.0,470.5 L343.3,470.5 L346.3,470.5 L348.3,470.5 M177.6,519.7 L179.6,520.6 L182.6,522.0 L185.9,523.4 L189.0,524.4 L191.8,525.0 L194.7,525.3 L197.5,525.4 L200.4,525.7 L203.2,526.0 L206.1,526.4 L208.9,526.8 L211.7,527.3 L214.6,528.0 L217.4,528.9 L220.3,529.7 L223.1,529.8 L226.0,529.2 L228.8,528.0 L231.7,526.5 L234.5,525.1 L237.3,523.6 L240.2,522.0 L243.0,520.4 L245.9,518.7 L248.7,517.0 L251.6,515.3 L254.4,513.5 L257.3,511.7 L260.1,510.0 L262.9,508.2 L265.8,506.5 L268.6,504.8 L271.5,503.1 L274.3,501.5 L277.2,499.9 L280.0,498.4 L282.9,497.0 L285.7,495.7 L288.6,494.4 L291.4,493.0 L294.2,491.7 L297.1,490.2 L299.9,488.9 L302.8,487.6 L305.6,486.6 L308.5,485.6 L311.3,484.7 L314.2,483.8 L317.0,482.9 L319.9,482.0 L322.7,481.2 L325.5,480.4 L328.4,479.6 L331.2,478.8 L334.1,478.1 L336.9,477.5 L340.0,477.1 L343.3,476.9 L346.3,476.7 L348.3,476.6 M143.5,444.9 L154.8,442.3 M143.5,447.7 L154.8,442.3 M143.5,447.7 L154.8,442.3 M86.6,454.7 L97.9,457.2 M143.5,473.7 L154.8,468.0 M109.3,476.6 L120.7,471.2 M177.6,445.5 L189.0,442.3 M154.8,454.0 L166.2,449.3 M189.0,530.4 L200.4,525.7 M177.6,524.4 L189.0,530.4 M280.0,475.9 L291.4,472.8 M75.2,496.5 L86.6,499.4 M132.1,488.3 L143.5,485.1 M166.2,517.1 L177.6,519.7 M632.8,452.5 L630.8,452.3 L627.8,452.1 L624.5,451.9 L621.4,451.8 L618.6,451.9 L615.7,452.1 L612.9,452.4 L610.0,452.5 L607.2,452.4 L604.4,452.2 L601.5,452.0 L598.7,451.8 L595.8,451.6 L593.0,451.4 L590.1,451.2 L587.3,450.9 L584.4,450.5 L581.6,450.1 L578.7,449.7 L575.9,449.3 L573.1,448.9 L570.2,448.6 L567.4,448.2 L564.5,447.7 L561.4,447.0 L558.1,446.2 L555.2,445.4 L553.1,444.9 M632.8,456.9 L630.8,457.0 L627.8,457.0 L624.5,457.1 L621.4,456.9 L618.6,456.5 L615.7,455.8 L612.9,455.2 L610.0,454.7 L607.2,454.4 L604.4,454.2 L601.5,454.1 L598.7,454.0 L595.8,454.0 L593.0,454.1 L590.1,454.1 L587.3,454.0 L584.4,453.8 L581.6,453.5 L578.7,453.0 L575.9,452.5 L573.1,451.7 L570.2,450.9 L567.4,450.0 L564.5,449.3 L561.4,448.7 L558.1,448.3 L555.2,448.0 L553.1,447.7 M598.7,457.2 L596.6,456.6 L593.7,455.7 L590.4,454.8 L587.3,454.0 L584.4,453.6 L581.6,453.3 L578.7,452.9 L575.9,452.5 L573.1,451.7 L570.2,450.9 L567.4,450.0 L564.5,449.3 L561.4,448.7 L558.1,448.3 L555.2,448.0 L553.1,447.7 M575.9,471.2 L573.9,471.7 L570.9,472.4 L567.6,473.2 L564.5,473.7 L561.4,473.9 L558.1,473.9 L555.2,473.8 L553.1,473.7 M530.4,449.3 L519.0,445.5 M632.8,465.5 L630.8,465.5 L627.8,465.5 L624.5,465.5 L621.4,465.5 L618.6,465.2 L615.7,464.8 L612.9,464.4 L610.0,464.2 L607.2,464.1 L604.4,464.2 L601.5,464.3 L598.7,464.2 L595.8,463.9 L593.0,463.5 L590.1,463.0 L587.3,462.6 L584.4,462.2 L581.6,461.9 L578.7,461.5 L575.9,461.0 L573.1,460.5 L570.2,460.0 L567.4,459.4 L564.5,458.8 L561.7,458.2 L558.8,457.5 L556.0,456.9 L553.1,456.3 L550.3,455.6 L547.4,455.0 L544.6,454.4 L541.8,454.0 L538.9,454.1 L536.1,454.4 L533.2,454.7 L530.4,454.7 L527.5,454.3 L524.7,453.7 L521.8,453.0 L519.0,452.5 L516.2,452.2 L513.3,452.1 L510.5,452.0 L507.6,451.8 L504.8,451.6 L501.9,451.3 L499.1,451.1 L496.2,450.9 L493.4,450.7 L490.6,450.5 L487.7,450.5 L484.9,450.9 L482.0,451.6 L479.2,452.5 L476.3,453.8 L473.5,455.6 L470.6,458.1 L467.8,461.2 L464.9,464.4 L462.1,467.4 L459.3,470.0 L456.4,472.4 L453.6,474.7 L450.7,476.6 L447.9,478.2 L445.0,479.5 L442.2,480.5 L439.3,481.0 L436.5,480.8 L433.7,480.0 L430.8,479.0 L428.0,478.1 L424.8,477.5 L421.6,476.9 L418.6,476.3 L416.6,475.9 M632.8,441.7 L630.8,441.7 L627.8,441.7 L624.5,441.7 L621.4,441.7 L618.6,441.7 L615.7,441.7 L612.9,441.7 L610.0,441.7 L607.2,441.7 L604.4,441.7 L601.5,441.7 L598.7,441.7 L595.8,441.7 L593.0,441.7 L590.1,441.7 L587.3,441.7 L584.4,441.7 L581.6,441.7 L578.7,441.7 L575.9,441.7 L573.1,441.7 L570.2,441.6 L567.4,441.6 L564.5,441.7 L561.7,441.8 L558.8,442.0 L556.0,442.2 L553.1,442.3 L550.3,442.4 L547.4,442.4 L544.6,442.3 L541.8,442.3 L538.9,442.3 L536.1,442.3 L533.2,442.3 L530.4,442.3 L527.5,442.3 L524.7,442.3 L521.8,442.3 L519.0,442.3 L516.2,442.3 L513.3,442.4 L510.5,442.4 L507.6,442.3 L504.8,442.2 L501.9,442.0 L499.1,441.8 L496.2,441.7 L493.4,441.6 L490.6,441.6 L487.7,441.6 L484.9,441.7 L482.0,441.8 L479.2,442.0 L476.3,442.2 L473.5,442.3 L470.6,442.4 L467.8,442.4 L464.9,442.3 L462.1,442.3 L459.3,442.3 L456.4,442.3 L453.6,442.3 L450.7,442.3 L447.9,442.3 L445.0,442.3 L442.2,442.3 L439.3,442.3 L436.5,442.3 L433.7,442.3 L430.8,442.3 L428.0,442.3 L425.1,442.3 L422.3,442.3 L419.4,442.3 L416.6,442.3 L413.7,442.5 L410.9,442.8 L408.0,443.1 L405.2,443.3 L402.4,443.3 L399.5,443.3 L396.7,443.3 L393.8,443.3 L391.0,443.3 L388.1,443.3 L385.3,443.3 L382.4,443.3 L379.6,443.3 L376.8,443.3 L373.9,443.3 L371.1,443.3 L368.2,443.3 L365.4,443.3 L362.5,443.3 L359.7,443.3 L356.6,443.3 L353.3,443.3 L350.3,443.3 L348.3,443.3 M632.8,450.9 L630.8,451.1 L627.8,451.3 L624.5,451.6 L621.4,451.8 L618.6,452.0 L615.7,452.2 L612.9,452.4 L610.0,452.5 L607.2,452.4 L604.4,452.2 L601.5,452.0 L598.7,451.8 L595.8,451.6 L593.0,451.4 L590.1,451.2 L587.3,450.9 L584.4,450.5 L581.6,450.1 L578.7,449.7 L575.9,449.3 L573.1,448.9 L570.2,448.6 L567.4,448.2 L564.5,447.7 L561.7,447.1 L558.8,446.3 L556.0,445.6 L553.1,444.9 L550.3,444.1 L547.4,443.4 L544.6,442.8 L541.8,442.3 L538.9,442.1 L536.1,442.2 L533.2,442.3 L530.4,442.3 L527.5,442.3 L524.7,442.3 L521.8,442.3 L519.0,442.3 L516.2,442.3 L513.3,442.4 L510.5,442.4 L507.6,442.3 L504.8,442.2 L501.9,442.0 L499.1,441.8 L496.2,441.7 L493.4,441.6 L490.6,441.6 L487.7,441.6 L484.9,441.7 L482.0,441.8 L479.2,442.0 L476.3,442.2 L473.5,442.3 L470.6,442.4 L467.8,442.4 L464.9,442.3 L462.1,442.3 L459.3,442.3 L456.4,442.3 L453.6,442.3 L450.7,442.3 L447.9,442.3 L445.0,442.3 L442.2,442.3 L439.3,442.3 L436.5,442.3 L433.7,442.3 L430.8,442.3 L428.0,442.3 L425.1,442.3 L422.3,442.3 L419.4,442.3 L416.6,442.3 L413.7,442.5 L410.9,442.8 L408.0,443.1 L405.2,443.3 L402.4,443.3 L399.5,443.3 L396.7,443.3 L393.8,443.3 L391.0,443.3 L388.1,443.3 L385.3,443.3 L382.4,443.3 L379.6,443.3 L376.8,443.3 L373.9,443.3 L371.1,443.3 L368.2,443.3 L365.4,443.3 L362.5,443.3 L359.7,443.3 L356.6,443.3 L353.3,443.3 L350.3,443.3 L348.3,443.3 M632.8,464.2 L630.8,464.3 L627.8,464.4 L624.5,464.5 L621.4,464.5 L618.6,464.5 L615.7,464.4 L612.9,464.3 L610.0,464.2 L607.2,464.2 L604.4,464.3 L601.5,464.3 L598.7,464.2 L595.8,463.9 L593.0,463.5 L590.1,463.0 L587.3,462.6 L584.4,462.2 L581.6,461.9 L578.7,461.5 L575.9,461.0 L573.1,460.5 L570.2,460.0 L567.4,459.4 L564.5,458.8 L561.7,458.2 L558.8,457.5 L556.0,456.9 L553.1,456.3 L550.3,455.6 L547.4,455.0 L544.6,454.4 L541.8,454.0 L538.9,454.1 L536.1,454.4 L533.2,454.7 L530.4,454.7 L527.5,454.3 L524.7,453.7 L521.8,453.0 L519.0,452.5 L516.2,452.2 L513.3,452.1 L510.5,452.0 L507.6,451.8 L504.8,451.6 L501.9,451.3 L499.1,451.1 L496.2,450.9 L493.4,450.9 L490.6,451.1 L487.7,451.2 L484.9,450.9 L482.0,449.9 L479.2,448.5 L476.3,447.1 L473.5,446.1 L470.6,445.8 L467.8,445.8 L464.9,446.0 L462.1,446.1 L459.3,446.1 L456.4,446.1 L453.6,446.1 L450.7,446.1 L447.9,446.0 L445.0,445.9 L442.2,445.9 L439.3,446.1 L436.5,446.7 L433.7,447.6 L430.8,448.6 L428.0,449.3 L425.1,449.7 L422.3,449.9 L419.4,450.1 L416.6,450.2 L413.7,450.4 L410.9,450.6 L408.0,450.7 L405.2,450.9 L402.4,451.1 L399.5,451.4 L396.7,451.7 L393.8,451.8 L391.0,451.9 L388.1,451.8 L385.3,451.8 L382.4,451.8 L379.6,452.0 L376.8,452.1 L373.9,452.3 L371.1,452.5 L368.2,452.5 L365.4,452.5 L362.5,452.5 L359.7,452.5 L356.6,452.5 L353.3,452.5 L350.3,452.5 L348.3,452.5 M632.8,478.8 L630.8,478.9 L627.8,479.0 L624.5,479.1 L621.4,479.1 L618.6,478.9 L615.7,478.7 L612.9,478.4 L610.0,478.1 L607.2,478.0 L604.4,477.8 L601.5,477.7 L598.7,477.5 L595.8,477.3 L593.0,477.1 L590.1,476.9 L587.3,476.6 L584.4,476.1 L581.6,475.4 L578.7,474.8 L575.9,474.3 L573.1,474.1 L570.2,474.1 L567.4,474.0 L564.5,473.7 L561.7,473.1 L558.8,472.2 L556.0,471.3 L553.1,470.5 L550.3,469.8 L547.4,469.1 L544.6,468.5 L541.8,468.0 L538.9,467.7 L536.1,467.7 L533.2,467.6 L530.4,467.4 L527.5,466.9 L524.7,466.2 L521.8,465.5 L519.0,464.8 L516.2,464.2 L513.3,463.7 L510.5,463.2 L507.6,462.6 L504.8,462.0 L501.9,461.5 L499.1,460.9 L496.2,460.4 L493.4,459.9 L490.6,459.5 L487.7,459.1 L484.9,458.8 L482.0,458.6 L479.2,458.4 L476.3,458.2 L473.5,457.9 L470.6,457.3 L467.8,456.7 L464.9,456.1 L462.1,455.6 L459.3,455.5 L456.4,455.5 L453.6,455.6 L450.7,455.6 L447.9,455.6 L445.0,455.5 L442.2,455.5 L439.3,455.6 L436.5,456.0 L433.7,456.4 L430.8,456.9 L428.0,457.2 L425.1,457.3 L422.3,457.3 L419.4,457.2 L416.6,457.2 L413.7,457.3 L410.9,457.5 L408.0,457.7 L405.2,457.9 L402.4,458.1 L399.5,458.5 L396.7,458.7 L393.8,458.8 L391.0,458.5 L388.1,458.0 L385.3,457.5 L382.4,457.2 L379.6,457.2 L376.8,457.4 L373.9,457.7 L371.1,457.9 L368.2,457.9 L365.4,457.9 L362.5,457.9 L359.7,457.9 L356.6,457.9 L353.3,457.9 L350.3,457.9 L348.3,457.9 M632.8,483.8 L630.8,483.9 L627.8,483.9 L624.5,483.9 L621.4,483.8 L618.6,483.7 L615.7,483.4 L612.9,483.1 L610.0,482.9 L607.2,482.7 L604.4,482.6 L601.5,482.5 L598.7,482.3 L595.8,482.0 L593.0,481.8 L590.1,481.4 L587.3,481.0 L584.4,480.3 L581.6,479.5 L578.7,478.7 L575.9,478.1 L573.1,478.0 L570.2,478.2 L567.4,478.4 L564.5,478.1 L561.7,477.4 L558.8,476.3 L556.0,475.0 L553.1,473.7 L550.3,472.2 L547.4,470.6 L544.6,469.1 L541.8,468.0 L538.9,467.5 L536.1,467.5 L533.2,467.5 L530.4,467.4 L527.5,466.9 L524.7,466.2 L521.8,465.5 L519.0,464.8 L516.2,464.2 L513.3,463.7 L510.5,463.2 L507.6,462.6 L504.8,462.0 L501.9,461.5 L499.1,460.9 L496.2,460.4 L493.4,459.9 L490.6,459.5 L487.7,459.1 L484.9,458.8 L482.0,458.6 L479.2,458.4 L476.3,458.2 L473.5,457.9 L470.6,457.3 L467.8,456.7 L464.9,456.1 L462.1,455.6 L459.3,455.5 L456.4,455.5 L453.6,455.6 L450.7,455.6 L447.9,455.6 L445.0,455.5 L442.2,455.5 L439.3,455.6 L436.5,456.0 L433.7,456.4 L430.8,456.9 L428.0,457.2 L425.1,457.5 L422.3,457.7 L419.4,457.7 L416.6,457.2 L413.7,455.9 L410.9,454.0 L408.0,452.1 L405.2,450.9 L402.4,450.6 L399.5,451.0 L396.7,451.5 L393.8,451.8 L391.0,451.9 L388.1,451.8 L385.3,451.8 L382.4,451.8 L379.6,452.0 L376.8,452.1 L373.9,452.3 L371.1,452.5 L368.2,452.5 L365.4,452.5 L362.5,452.5 L359.7,452.5 L356.6,452.5 L353.3,452.5 L350.3,452.5 L348.3,452.5 M632.8,496.5 L630.8,496.6 L627.8,496.6 L624.5,496.6 L621.4,496.5 L618.6,496.3 L615.7,495.9 L612.9,495.6 L610.0,495.3 L607.2,495.1 L604.4,495.0 L601.5,494.8 L598.7,494.6 L595.8,494.3 L593.0,493.9 L590.1,493.5 L587.3,493.0 L584.4,492.5 L581.6,492.0 L578.7,491.4 L575.9,490.8 L573.1,490.1 L570.2,489.4 L567.4,488.7 L564.5,488.3 L561.7,488.2 L558.8,488.5 L556.0,488.6 L553.1,488.3 L550.3,487.1 L547.4,485.5 L544.6,483.7 L541.8,482.3 L538.9,481.3 L536.1,480.5 L533.2,479.8 L530.4,479.1 L527.5,478.4 L524.7,477.8 L521.8,477.2 L519.0,476.6 L516.2,475.9 L513.3,475.1 L510.5,474.4 L507.6,473.7 L504.8,473.0 L501.9,472.4 L499.1,471.8 L496.2,471.2 L493.4,470.6 L490.6,470.0 L487.7,469.4 L484.9,468.9 L482.0,468.5 L479.2,468.0 L476.3,467.6 L473.5,467.4 L470.6,467.3 L467.8,467.5 L464.9,467.5 L462.1,467.4 L459.3,466.7 L456.4,465.7 L453.6,464.8 L450.7,464.2 L447.9,464.1 L445.0,464.3 L442.2,464.6 L439.3,464.8 L436.5,464.9 L433.7,464.9 L430.8,464.8 L428.0,464.8 L425.1,464.8 L422.3,464.8 L419.4,464.8 L416.6,464.8 L413.7,464.8 L410.9,464.8 L408.0,464.8 L405.2,464.8 L402.4,464.9 L399.5,464.9 L396.7,464.9 L393.8,464.8 L391.0,464.6 L388.1,464.2 L385.3,463.8 L382.4,463.6 L379.6,463.6 L376.8,463.8 L373.9,464.0 L371.1,464.2 L368.2,464.4 L365.4,464.5 L362.5,464.7 L359.7,464.8 L356.6,464.9 L353.3,464.9 L350.3,464.8 L348.3,464.8 M632.8,516.5 L630.8,516.5 L627.8,516.6 L624.5,516.6 L621.4,516.5 L618.6,516.3 L615.7,516.1 L612.9,515.8 L610.0,515.5 L607.2,515.3 L604.4,515.1 L601.5,514.9 L598.7,514.6 L595.8,514.2 L593.0,513.7 L590.1,513.2 L587.3,512.7 L584.4,512.1 L581.6,511.4 L578.7,510.8 L575.9,510.2 L573.1,509.6 L570.2,509.1 L567.4,508.6 L564.5,507.9 L561.7,507.1 L558.8,506.2 L556.0,505.2 L553.1,504.1 L550.3,503.0 L547.4,501.7 L544.6,500.4 L541.8,499.4 L538.9,498.6 L536.1,498.1 L533.2,497.5 L530.4,496.8 L527.5,496.0 L524.7,495.0 L521.8,494.0 L519.0,493.0 L516.2,492.1 L513.3,491.2 L510.5,490.2 L507.6,489.2 L504.8,488.2 L501.9,487.2 L499.1,486.2 L496.2,485.1 L493.4,484.0 L490.6,482.9 L487.7,481.8 L484.9,480.7 L482.0,479.6 L479.2,478.5 L476.3,477.3 L473.5,475.9 L470.6,474.3 L467.8,472.4 L464.9,470.6 L462.1,468.9 L459.3,467.5 L456.4,466.1 L453.6,464.9 L450.7,464.2 L447.9,464.0 L445.0,464.2 L442.2,464.6 L439.3,464.8 L436.5,464.9 L433.7,464.9 L430.8,464.8 L428.0,464.8 L425.1,465.0 L422.3,465.3 L419.4,465.3 L416.6,464.8 L413.7,463.4 L410.9,461.3 L408.0,459.2 L405.2,457.9 L402.4,457.6 L399.5,458.0 L396.7,458.6 L393.8,458.8 L391.0,458.5 L388.1,458.0 L385.3,457.5 L382.4,457.2 L379.6,457.2 L376.8,457.4 L373.9,457.7 L371.1,457.9 L368.2,457.9 L365.4,457.9 L362.5,457.9 L359.7,457.9 L356.6,457.9 L353.3,457.9 L350.3,457.9 L348.3,457.9 M632.8,525.7 L630.8,525.7 L627.8,525.7 L624.5,525.7 L621.4,525.7 L618.6,525.6 L615.7,525.4 L612.9,525.2 L610.0,525.1 L607.2,524.9 L604.4,524.9 L601.5,524.7 L598.7,524.4 L595.8,523.9 L593.0,523.2 L590.1,522.5 L587.3,521.9 L584.4,521.4 L581.6,521.0 L578.7,520.7 L575.9,520.3 L573.1,519.8 L570.2,519.3 L567.4,518.8 L564.5,518.7 L561.7,519.1 L558.8,519.8 L556.0,520.7 L553.1,521.3 L550.3,521.5 L547.4,521.6 L544.6,521.7 L541.8,521.9 L538.9,522.2 L536.1,522.7 L533.2,523.1 L530.4,523.5 L527.5,523.8 L524.7,524.0 L521.8,524.3 L519.0,524.4 L516.2,524.5 L513.3,524.4 L510.5,524.4 L507.6,524.4 L504.8,524.6 L501.9,525.0 L499.1,525.3 L496.2,525.7 L493.4,526.0 L490.6,526.4 L487.7,526.8 L484.9,527.3 L482.0,528.0 L479.2,528.9 L476.3,529.7 L473.5,529.8 L470.6,529.2 L467.8,528.0 L464.9,526.5 L462.1,525.1 L459.3,523.6 L456.4,522.0 L453.6,520.4 L450.7,518.7 L447.9,517.0 L445.0,515.3 L442.2,513.5 L439.3,511.7 L436.5,510.0 L433.7,508.2 L430.8,506.5 L428.0,504.8 L425.1,503.1 L422.3,501.5 L419.4,499.9 L416.6,498.4 L413.7,497.0 L410.9,495.7 L408.0,494.4 L405.2,493.0 L402.4,491.7 L399.5,490.2 L396.7,488.9 L393.8,487.6 L391.0,486.6 L388.1,485.6 L385.3,484.7 L382.4,483.8 L379.6,482.9 L376.8,482.0 L373.9,481.2 L371.1,480.4 L368.2,479.6 L365.4,478.8 L362.5,478.1 L359.7,477.5 L356.6,477.1 L353.3,476.9 L350.3,476.7 L348.3,476.6 M632.8,528.9 L630.8,528.9 L627.8,528.8 L624.5,528.8 L621.4,528.9 L618.6,528.9 L615.7,529.0 L612.9,529.1 L610.0,529.2 L607.2,529.2 L604.4,529.2 L601.5,529.2 L598.7,529.2 L595.8,529.1 L593.0,529.1 L590.1,529.1 L587.3,529.2 L584.4,529.4 L581.6,529.9 L578.7,530.2 L575.9,530.4 L573.1,530.5 L570.2,530.5 L567.4,530.3 L564.5,529.8 L561.7,528.9 L558.8,527.6 L556.0,526.2 L553.1,525.1 L550.3,524.2 L547.4,523.5 L544.6,522.8 L541.8,521.9 L538.9,520.8 L536.1,519.6 L533.2,518.3 L530.4,517.1 L527.5,516.0 L524.7,514.9 L521.8,513.8 L519.0,512.7 L516.2,511.5 L513.3,510.3 L510.5,509.1 L507.6,507.9 L504.8,506.7 L501.9,505.6 L499.1,504.4 L496.2,503.2 L493.4,502.0 L490.6,500.8 L487.7,499.7 L484.9,498.4 L482.0,497.1 L479.2,495.7 L476.3,494.4 L473.5,493.0 L470.6,491.8 L467.8,490.6 L464.9,489.4 L462.1,488.3 L459.3,487.3 L456.4,486.5 L453.6,485.6 L450.7,484.2 L447.9,481.9 L445.0,479.1 L442.2,476.3 L439.3,474.3 L436.5,473.3 L433.7,473.0 L430.8,472.9 L428.0,472.8 L425.1,472.7 L422.3,472.8 L419.4,472.7 L416.6,472.1 L413.7,470.6 L410.9,468.4 L408.0,466.3 L405.2,464.8 L402.4,464.3 L399.5,464.4 L396.7,464.7 L393.8,464.8 L391.0,464.6 L388.1,464.2 L385.3,463.8 L382.4,463.6 L379.6,463.6 L376.8,463.8 L373.9,464.0 L371.1,464.2 L368.2,464.4 L365.4,464.5 L362.5,464.7 L359.7,464.8 L356.6,464.9 L353.3,464.9 L350.3,464.8 L348.3,464.8 M610.0,499.4 L608.0,500.2 L605.1,501.4 L601.8,502.7 L598.7,504.1 L595.8,505.6 L593.0,507.1 L590.1,508.7 L587.3,510.2 L584.4,511.6 L581.6,513.1 L578.7,514.5 L575.9,515.5 L573.1,516.3 L570.2,516.9 L567.4,517.2 L564.5,517.1 L561.7,516.5 L558.8,515.5 L556.0,514.4 L553.1,513.3 L550.3,512.5 L547.4,511.7 L544.6,510.9 L541.8,510.2 L538.9,509.4 L536.1,508.7 L533.2,507.9 L530.4,507.0 L527.5,505.8 L524.7,504.4 L521.8,503.0 L519.0,501.6 L516.2,500.4 L513.3,499.2 L510.5,498.0 L507.6,496.8 L504.8,495.7 L501.9,494.7 L499.1,493.6 L496.2,492.4 L493.4,491.0 L490.6,489.6 L487.7,488.1 L484.9,486.7 L482.0,485.5 L479.2,484.3 L476.3,483.3 L473.5,482.3 L470.6,481.2 L467.8,480.1 L464.9,479.3 L462.1,479.1 L459.3,480.0 L456.4,481.6 L453.6,483.3 L450.7,484.2 L447.9,483.9 L445.0,483.1 L442.2,482.0 L439.3,481.0 L436.5,480.2 L433.7,479.5 L430.8,478.8 L428.0,478.1 L425.1,477.6 L422.3,477.1 L419.4,476.5 L416.6,475.9 L413.7,475.1 L410.9,474.2 L408.0,473.4 L405.2,472.8 L402.4,472.4 L399.5,472.3 L396.7,472.2 L393.8,472.1 L391.0,471.9 L388.1,471.6 L385.3,471.3 L382.4,471.2 L379.6,471.1 L376.8,471.1 L373.9,471.2 L371.1,471.2 L368.2,471.0 L365.4,470.8 L362.5,470.7 L359.7,470.5 L356.6,470.5 L353.3,470.5 L350.3,470.5 L348.3,470.5 M553.1,485.1 L551.1,484.6 L548.2,483.9 L544.9,483.1 L541.8,482.3 L538.9,481.5 L536.1,480.7 L533.2,479.8 L530.4,479.1 L527.5,478.4 L524.7,477.8 L521.8,477.2 L519.0,476.6 L516.2,475.9 L513.3,475.1 L510.5,474.4 L507.6,473.7 L504.8,473.0 L501.9,472.4 L499.1,471.8 L496.2,471.2 L493.4,470.6 L490.6,470.0 L487.7,469.4 L484.9,468.9 L482.0,468.4 L479.2,467.9 L476.3,467.5 L473.5,467.4 L470.6,467.4 L467.8,467.6 L464.9,468.1 L462.1,468.9 L459.3,470.7 L456.4,473.0 L453.6,475.2 L450.7,476.6 L447.9,476.7 L445.0,476.0 L442.2,475.1 L439.3,474.3 L436.5,473.9 L433.7,473.4 L430.8,473.1 L428.0,472.8 L425.1,472.5 L422.3,472.3 L419.4,472.2 L416.6,472.1 L413.7,472.2 L410.9,472.4 L408.0,472.7 L405.2,472.8 L402.4,472.7 L399.5,472.5 L396.7,472.3 L393.8,472.1 L391.0,471.9 L388.1,471.6 L385.3,471.3 L382.4,471.2 L379.6,471.1 L376.8,471.1 L373.9,471.2 L371.1,471.2 L368.2,471.0 L365.4,470.8 L362.5,470.7 L359.7,470.5 L356.6,470.5 L353.3,470.5 L350.3,470.5 L348.3,470.5 M519.0,519.7 L517.0,520.6 L514.0,522.0 L510.7,523.4 L507.6,524.4 L504.8,525.0 L501.9,525.3 L499.1,525.4 L496.2,525.7 L493.4,526.0 L490.6,526.4 L487.7,526.8 L484.9,527.3 L482.0,528.0 L479.2,528.9 L476.3,529.7 L473.5,529.8 L470.6,529.2 L467.8,528.0 L464.9,526.5 L462.1,525.1 L459.3,523.6 L456.4,522.0 L453.6,520.4 L450.7,518.7 L447.9,517.0 L445.0,515.3 L442.2,513.5 L439.3,511.7 L436.5,510.0 L433.7,508.2 L430.8,506.5 L428.0,504.8 L425.1,503.1 L422.3,501.5 L419.4,499.9 L416.6,498.4 L413.7,497.0 L410.9,495.7 L408.0,494.4 L405.2,493.0 L402.4,491.7 L399.5,490.2 L396.7,488.9 L393.8,487.6 L391.0,486.6 L388.1,485.6 L385.3,484.7 L382.4,483.8 L379.6,482.9 L376.8,482.0 L373.9,481.2 L371.1,480.4 L368.2,479.6 L365.4,478.8 L362.5,478.1 L359.7,477.5 L356.6,477.1 L353.3,476.9 L350.3,476.7 L348.3,476.6 M553.1,444.9 L541.8,442.3 M553.1,447.7 L541.8,442.3 M553.1,447.7 L541.8,442.3 M610.0,454.7 L598.7,457.2 M553.1,473.7 L541.8,468.0 M587.3,476.6 L575.9,471.2 M519.0,445.5 L507.6,442.3 M541.8,454.0 L530.4,449.3 M507.6,530.4 L496.2,525.7 M519.0,524.4 L507.6,530.4 M416.6,475.9 L405.2,472.8 M621.4,496.5 L610.0,499.4 M564.5,488.3 L553.1,485.1 M530.4,517.1 L519.0,519.7 M177.6,261.3 L179.6,260.8 L182.6,260.0 L185.9,259.0 L189.0,257.8 L191.8,256.2 L194.7,254.4 L197.5,252.5 L200.4,250.7 L203.2,249.1 L206.1,247.5 L208.9,245.8 L211.7,244.1 L214.6,242.3 L217.4,240.5 L220.3,238.6 L223.1,236.5 L226.0,234.1 L228.8,231.6 L231.7,229.0 L234.5,226.3 L237.3,223.7 L240.2,221.1 L243.0,218.4 L245.9,215.6 L249.0,212.4 L252.3,208.9 L255.2,205.8 L257.3,203.6 M519.0,261.3 L517.0,260.8 L514.0,260.0 L510.7,259.0 L507.6,257.8 L504.8,256.2 L501.9,254.4 L499.1,252.5 L496.2,250.7 L493.4,249.1 L490.6,247.5 L487.7,245.8 L484.9,244.1 L482.0,242.3 L479.2,240.5 L476.3,238.6 L473.5,236.5 L470.6,234.1 L467.8,231.6 L464.9,229.0 L462.1,226.3 L459.3,223.7 L456.4,221.1 L453.6,218.4 L450.7,215.6 L447.6,212.4 L444.3,208.9 L441.4,205.8 L439.3,203.6 M177.6,261.3 L179.6,260.5 L182.6,259.3 L185.9,257.8 L189.0,256.2 L191.8,254.4 L194.7,252.3 L197.5,250.1 L200.4,248.0 L203.2,246.1 L206.1,244.3 L208.9,242.5 L211.7,240.7 L214.6,238.9 L217.4,237.0 L220.3,235.1 L223.1,233.1 L226.0,230.9 L228.8,228.5 L231.7,226.0 L234.5,223.6 L237.3,221.2 L240.2,218.9 L243.0,216.5 L245.9,214.1 L248.7,211.5 L251.6,208.8 L254.4,206.2 L257.3,203.6 L260.1,201.1 L262.9,198.7 L265.8,196.3 L268.6,194.1 L271.8,191.9 L275.0,189.7 L278.0,187.8 L280.0,186.5 M519.0,261.3 L517.0,260.5 L514.0,259.3 L510.7,257.8 L507.6,256.2 L504.8,254.4 L501.9,252.3 L499.1,250.1 L496.2,248.0 L493.4,246.1 L490.6,244.3 L487.7,242.5 L484.9,240.7 L482.0,238.9 L479.2,237.0 L476.3,235.1 L473.5,233.1 L470.6,230.9 L467.8,228.5 L464.9,226.0 L462.1,223.6 L459.3,221.2 L456.4,218.9 L453.6,216.5 L450.7,214.1 L447.9,211.5 L445.0,208.8 L442.2,206.2 L439.3,203.6 L436.5,201.1 L433.7,198.7 L430.8,196.3 L428.0,194.1 L424.8,191.9 L421.6,189.7 L418.6,187.8 L416.6,186.5 M97.9,206.2 L100.0,207.1 L102.9,208.5 L106.2,210.0 L109.3,211.5 L112.2,213.0 L115.0,214.4 L117.9,215.9 L120.7,217.6 L123.5,219.4 L126.4,221.4 L129.2,223.4 L132.1,225.5 L134.9,227.5 L137.8,229.6 L140.6,231.7 L143.5,233.7 L146.3,235.7 L149.1,237.6 L152.0,239.5 L154.8,241.7 L157.7,244.1 L160.5,246.8 L163.4,249.5 L166.2,252.1 L169.1,254.7 L171.9,257.2 L174.8,259.6 L177.6,261.9 L180.7,264.4 L184.0,266.8 L186.9,269.0 L189.0,270.5 M598.7,206.2 L596.6,207.1 L593.7,208.5 L590.4,210.0 L587.3,211.5 L584.4,213.0 L581.6,214.4 L578.7,215.9 L575.9,217.6 L573.1,219.4 L570.2,221.4 L567.4,223.4 L564.5,225.5 L561.7,227.5 L558.8,229.6 L556.0,231.7 L553.1,233.7 L550.3,235.7 L547.4,237.6 L544.6,239.5 L541.8,241.7 L538.9,244.1 L536.1,246.8 L533.2,249.5 L530.4,252.1 L527.5,254.7 L524.7,257.2 L521.8,259.6 L519.0,261.9 L515.9,264.4 L512.6,266.8 L509.7,269.0 L507.6,270.5 M97.9,462.3 L100.0,462.8 L102.9,463.5 L106.2,464.4 L109.3,465.5 L112.2,466.8 L115.0,468.4 L117.9,470.1 L120.7,471.8 L123.5,473.5 L126.4,475.1 L129.2,476.9 L132.1,478.8 L134.9,480.8 L137.8,482.9 L140.6,485.2 L143.5,487.6 L146.3,490.5 L149.1,493.7 L152.0,496.9 L154.8,499.7 L157.7,502.0 L160.5,504.1 L163.4,505.9 L166.2,507.6 L169.1,509.1 L171.9,510.3 L174.8,511.5 L177.6,513.0 L180.4,514.9 L183.3,517.0 L186.1,519.1 L189.0,520.9 L191.8,522.5 L194.7,524.0 L197.5,525.3 L200.4,526.3 L203.2,527.1 L206.1,527.7 L208.9,528.1 L211.7,528.5 L214.6,529.1 L217.4,529.6 L220.3,529.9 L223.1,529.8 L226.0,529.1 L228.8,527.9 L231.7,526.5 L234.5,525.1 L237.3,523.6 L240.2,522.0 L243.0,520.4 L245.9,518.7 L248.7,517.0 L251.6,515.3 L254.4,513.5 L257.3,511.7 L260.1,510.0 L262.9,508.2 L265.8,506.5 L268.6,504.8 L271.5,503.1 L274.3,501.5 L277.2,499.9 L280.0,498.4 L282.9,497.0 L285.7,495.7 L288.6,494.4 L291.4,493.0 L294.2,491.7 L297.1,490.2 L299.9,488.9 L302.8,487.6 L305.6,486.6 L308.5,485.6 L311.3,484.7 L314.2,483.8 L317.0,482.9 L319.9,482.0 L322.7,481.2 L325.5,480.4 L328.4,479.6 L331.2,478.8 L334.1,478.1 L336.9,477.5 L340.0,477.1 L343.3,476.9 L346.3,476.7 L348.3,476.6 M598.7,462.3 L596.6,462.8 L593.7,463.5 L590.4,464.4 L587.3,465.5 L584.4,466.8 L581.6,468.4 L578.7,470.1 L575.9,471.8 L573.1,473.5 L570.2,475.1 L567.4,476.9 L564.5,478.8 L561.7,480.8 L558.8,482.9 L556.0,485.2 L553.1,487.6 L550.3,490.5 L547.4,493.7 L544.6,496.9 L541.8,499.7 L538.9,502.0 L536.1,504.1 L533.2,505.9 L530.4,507.6 L527.5,509.1 L524.7,510.3 L521.8,511.5 L519.0,513.0 L516.2,514.9 L513.3,517.0 L510.5,519.1 L507.6,520.9 L504.8,522.5 L501.9,524.0 L499.1,525.3 L496.2,526.3 L493.4,527.1 L490.6,527.7 L487.7,528.1 L484.9,528.5 L482.0,529.1 L479.2,529.6 L476.3,529.9 L473.5,529.8 L470.6,529.1 L467.8,527.9 L464.9,526.5 L462.1,525.1 L459.3,523.6 L456.4,522.0 L453.6,520.4 L450.7,518.7 L447.9,517.0 L445.0,515.3 L442.2,513.5 L439.3,511.7 L436.5,510.0 L433.7,508.2 L430.8,506.5 L428.0,504.8 L425.1,503.1 L422.3,501.5 L419.4,499.9 L416.6,498.4 L413.7,497.0 L410.9,495.7 L408.0,494.4 L405.2,493.0 L402.4,491.7 L399.5,490.2 L396.7,488.9 L393.8,487.6 L391.0,486.6 L388.1,485.6 L385.3,484.7 L382.4,483.8 L379.6,482.9 L376.8,482.0 L373.9,481.2 L371.1,480.4 L368.2,479.6 L365.4,478.8 L362.5,478.1 L359.7,477.5 L356.6,477.1 L353.3,476.9 L350.3,476.7 L348.3,476.6 M63.8,453.1 L65.8,453.0 L68.8,452.9 L72.1,452.8 L75.2,452.7 L78.0,452.7 L80.9,452.6 L83.7,452.6 L86.6,452.7 L89.4,452.7 L92.2,452.8 L95.1,452.9 L97.9,453.0 L100.8,453.1 L103.6,453.3 L106.5,453.4 L109.3,453.5 L112.2,453.5 L115.0,453.6 L117.9,453.6 L120.7,453.6 L123.5,453.5 L126.4,453.4 L129.2,453.3 L132.1,453.2 L134.9,453.1 L137.8,453.0 L140.6,452.9 L143.5,452.8 L146.3,452.7 L149.1,452.7 L152.0,452.6 L154.8,452.6 L158.0,452.7 L161.2,452.8 L164.2,452.8 L166.2,452.9 M632.8,453.1 L630.8,453.0 L627.8,452.9 L624.5,452.8 L621.4,452.7 L618.6,452.7 L615.7,452.6 L612.9,452.6 L610.0,452.7 L607.2,452.7 L604.4,452.8 L601.5,452.9 L598.7,453.0 L595.8,453.1 L593.0,453.3 L590.1,453.4 L587.3,453.5 L584.4,453.5 L581.6,453.6 L578.7,453.6 L575.9,453.6 L573.1,453.5 L570.2,453.4 L567.4,453.3 L564.5,453.2 L561.7,453.1 L558.8,453.0 L556.0,452.9 L553.1,452.8 L550.3,452.7 L547.4,452.7 L544.6,452.6 L541.8,452.6 L538.6,452.7 L535.4,452.8 L532.4,452.8 L530.4,452.9 M63.8,449.9 L65.8,449.8 L68.8,449.7 L72.1,449.6 L75.2,449.5 L78.0,449.5 L80.9,449.5 L83.7,449.5 L86.6,449.5 L89.4,449.6 L92.2,449.6 L95.1,449.8 L97.9,449.9 L100.8,450.0 L103.6,450.1 L106.5,450.2 L109.3,450.3 L112.2,450.3 L115.0,450.4 L117.9,450.4 L120.7,450.4 L123.5,450.3 L126.4,450.3 L129.2,450.2 L132.1,450.1 L134.9,450.0 L137.8,449.8 L140.6,449.7 L143.5,449.6 L146.3,449.5 L149.1,449.5 L152.0,449.5 L154.8,449.5 L158.0,449.5 L161.2,449.6 L164.2,449.7 L166.2,449.7 M632.8,449.9 L630.8,449.8 L627.8,449.7 L624.5,449.6 L621.4,449.5 L618.6,449.5 L615.7,449.5 L612.9,449.5 L610.0,449.5 L607.2,449.6 L604.4,449.6 L601.5,449.8 L598.7,449.9 L595.8,450.0 L593.0,450.1 L590.1,450.2 L587.3,450.3 L584.4,450.3 L581.6,450.4 L578.7,450.4 L575.9,450.4 L573.1,450.3 L570.2,450.3 L567.4,450.2 L564.5,450.1 L561.7,450.0 L558.8,449.8 L556.0,449.7 L553.1,449.6 L550.3,449.5 L547.4,449.5 L544.6,449.5 L541.8,449.5 L538.6,449.5 L535.4,449.6 L532.4,449.7 L530.4,449.7 M63.8,466.4 L65.8,466.3 L68.8,466.2 L72.1,466.1 L75.2,466.0 L78.0,466.0 L80.9,465.9 L83.7,466.0 L86.6,466.0 L89.4,466.0 L92.2,466.1 L95.1,466.2 L97.9,466.3 L101.1,466.5 L104.3,466.6 L107.3,466.7 L109.3,466.8 M632.8,466.4 L630.8,466.3 L627.8,466.2 L624.5,466.1 L621.4,466.0 L618.6,466.0 L615.7,465.9 L612.9,466.0 L610.0,466.0 L607.2,466.0 L604.4,466.1 L601.5,466.2 L598.7,466.3 L595.5,466.5 L592.3,466.6 L589.3,466.7 L587.3,466.8 M63.8,463.2 L65.8,463.2 L68.8,463.0 L72.1,462.9 L75.2,462.8 L78.0,462.8 L80.9,462.8 L83.7,462.8 L86.6,462.8 L89.4,462.9 L92.2,463.0 L95.1,463.1 L97.9,463.2 L101.1,463.3 L104.3,463.4 L107.3,463.5 L109.3,463.6 M632.8,463.2 L630.8,463.2 L627.8,463.0 L624.5,462.9 L621.4,462.8 L618.6,462.8 L615.7,462.8 L612.9,462.8 L610.0,462.8 L607.2,462.9 L604.4,463.0 L601.5,463.1 L598.7,463.2 L595.5,463.3 L592.3,463.4 L589.3,463.5 L587.3,463.6 M234.5,450.6 L236.5,450.7 L239.5,450.8 L242.8,450.9 L245.9,451.0 L248.7,451.1 L251.6,451.2 L254.4,451.3 L257.3,451.3 L260.1,451.3 L262.9,451.3 L265.8,451.3 L268.6,451.2 L271.5,451.1 L274.3,451.0 L277.2,450.9 L280.0,450.8 L282.9,450.7 L285.7,450.6 L288.6,450.5 L291.4,450.4 L294.2,450.4 L297.1,450.4 L299.9,450.4 L302.8,450.5 L305.6,450.6 L308.5,450.7 L311.3,450.8 L314.2,450.9 L317.0,451.0 L319.9,451.1 L322.7,451.2 L325.5,451.3 L328.4,451.3 L331.2,451.3 L334.1,451.3 L336.9,451.3 L340.0,451.2 L343.3,451.1 L346.3,451.0 L348.3,450.9 M462.1,450.6 L460.1,450.7 L457.1,450.8 L453.8,450.9 L450.7,451.0 L447.9,451.1 L445.0,451.2 L442.2,451.3 L439.3,451.3 L436.5,451.3 L433.7,451.3 L430.8,451.3 L428.0,451.2 L425.1,451.1 L422.3,451.0 L419.4,450.9 L416.6,450.8 L413.7,450.7 L410.9,450.6 L408.0,450.5 L405.2,450.4 L402.4,450.4 L399.5,450.4 L396.7,450.4 L393.8,450.5 L391.0,450.6 L388.1,450.7 L385.3,450.8 L382.4,450.9 L379.6,451.0 L376.8,451.1 L373.9,451.2 L371.1,451.3 L368.2,451.3 L365.4,451.3 L362.5,451.3 L359.7,451.3 L356.6,451.2 L353.3,451.1 L350.3,451.0 L348.3,450.9 M63.8,528.9 L65.8,528.8 L68.8,528.7 L72.1,528.5 L75.2,528.5 L78.0,528.4 L80.9,528.4 L83.7,528.4 L86.6,528.4 L89.7,528.5 L93.0,528.6 L95.9,528.7 L97.9,528.8 M632.8,528.9 L630.8,528.8 L627.8,528.7 L624.5,528.5 L621.4,528.5 L618.6,528.4 L615.7,528.4 L612.9,528.4 L610.0,528.4 L606.9,528.5 L603.6,528.6 L600.7,528.7 L598.7,528.8 M63.8,525.7 L65.8,525.6 L68.8,525.5 L72.1,525.4 L75.2,525.3 L78.0,525.2 L80.9,525.2 L83.7,525.2 L86.6,525.3 L89.7,525.3 L93.0,525.4 L95.9,525.5 L97.9,525.6 M632.8,525.7 L630.8,525.6 L627.8,525.5 L624.5,525.4 L621.4,525.3 L618.6,525.2 L615.7,525.2 L612.9,525.2 L610.0,525.3 L606.9,525.3 L603.6,525.4 L600.7,525.5 L598.7,525.6 M63.8,201.2 L65.8,201.2 L68.8,201.1 L72.1,201.0 L75.2,200.9 L78.0,200.7 L80.9,200.5 L83.7,200.2 L86.6,199.9 L89.4,199.6 L92.2,199.2 L95.1,198.8 L97.9,198.3 L100.8,197.9 L103.6,197.3 L106.5,196.7 L109.3,196.1 L112.2,195.5 L115.0,194.8 L117.9,194.1 L120.7,193.4 L123.5,192.6 L126.4,191.8 L129.2,190.9 L132.1,190.1 L134.9,189.2 L137.8,188.2 L140.6,187.3 L143.5,186.3 L146.3,185.3 L149.1,184.3 L152.0,183.2 L154.8,182.1 L157.7,181.0 L160.5,179.9 L163.4,178.7 L166.2,177.6 L169.1,176.4 L171.9,175.2 L174.8,174.0 L177.6,172.8 L180.4,171.5 L183.3,170.3 L186.1,169.0 L189.0,167.8 L191.8,166.5 L194.7,165.2 L197.5,163.9 L200.4,162.6 L203.2,161.3 L206.1,160.0 L208.9,158.7 L211.7,157.4 L214.6,156.2 L217.4,154.9 L220.3,153.6 L223.1,152.3 L226.2,150.9 L229.5,149.5 L232.5,148.2 L234.5,147.3 M632.8,201.2 L630.8,201.2 L627.8,201.1 L624.5,201.0 L621.4,200.9 L618.6,200.7 L615.7,200.5 L612.9,200.2 L610.0,199.9 L607.2,199.6 L604.4,199.2 L601.5,198.8 L598.7,198.3 L595.8,197.9 L593.0,197.3 L590.1,196.7 L587.3,196.1 L584.4,195.5 L581.6,194.8 L578.7,194.1 L575.9,193.4 L573.1,192.6 L570.2,191.8 L567.4,190.9 L564.5,190.1 L561.7,189.2 L558.8,188.2 L556.0,187.3 L553.1,186.3 L550.3,185.3 L547.4,184.3 L544.6,183.2 L541.8,182.1 L538.9,181.0 L536.1,179.9 L533.2,178.7 L530.4,177.6 L527.5,176.4 L524.7,175.2 L521.8,174.0 L519.0,172.8 L516.2,171.5 L513.3,170.3 L510.5,169.0 L507.6,167.8 L504.8,166.5 L501.9,165.2 L499.1,163.9 L496.2,162.6 L493.4,161.3 L490.6,160.0 L487.7,158.7 L484.9,157.4 L482.0,156.2 L479.2,154.9 L476.3,153.6 L473.5,152.3 L470.4,150.9 L467.1,149.5 L464.1,148.2 L462.1,147.3 M63.8,198.9 L65.8,198.8 L68.8,198.8 L72.1,198.7 L75.2,198.5 L78.0,198.4 L80.9,198.1 L83.7,197.9 L86.6,197.6 L89.4,197.2 L92.2,196.8 L95.1,196.4 L97.9,196.0 L100.8,195.5 L103.6,194.9 L106.5,194.4 L109.3,193.8 L112.2,193.1 L115.0,192.4 L117.9,191.7 L120.7,191.0 L123.5,190.2 L126.4,189.4 L129.2,188.6 L132.1,187.7 L134.9,186.8 L137.8,185.9 L140.6,184.9 L143.5,183.9 L146.3,182.9 L149.1,181.9 L152.0,180.8 L154.8,179.7 L157.7,178.6 L160.5,177.5 L163.4,176.4 L166.2,175.2 L169.1,174.0 L171.9,172.8 L174.8,171.6 L177.6,170.4 L180.4,169.2 L183.3,167.9 L186.1,166.6 L189.0,165.4 L191.8,164.1 L194.7,162.8 L197.5,161.5 L200.4,160.2 L203.2,158.9 L206.1,157.7 L208.9,156.4 L211.7,155.1 L214.6,153.8 L217.4,152.5 L220.3,151.2 L223.1,149.9 L226.2,148.6 L229.5,147.1 L232.5,145.8 L234.5,144.9 M632.8,198.9 L630.8,198.8 L627.8,198.8 L624.5,198.7 L621.4,198.5 L618.6,198.4 L615.7,198.1 L612.9,197.9 L610.0,197.6 L607.2,197.2 L604.4,196.8 L601.5,196.4 L598.7,196.0 L595.8,195.5 L593.0,194.9 L590.1,194.4 L587.3,193.8 L584.4,193.1 L581.6,192.4 L578.7,191.7 L575.9,191.0 L573.1,190.2 L570.2,189.4 L567.4,188.6 L564.5,187.7 L561.7,186.8 L558.8,185.9 L556.0,184.9 L553.1,183.9 L550.3,182.9 L547.4,181.9 L544.6,180.8 L541.8,179.7 L538.9,178.6 L536.1,177.5 L533.2,176.4 L530.4,175.2 L527.5,174.0 L524.7,172.8 L521.8,171.6 L519.0,170.4 L516.2,169.2 L513.3,167.9 L510.5,166.6 L507.6,165.4 L504.8,164.1 L501.9,162.8 L499.1,161.5 L496.2,160.2 L493.4,158.9 L490.6,157.7 L487.7,156.4 L484.9,155.1 L482.0,153.8 L479.2,152.5 L476.3,151.2 L473.5,149.9 L470.4,148.6 L467.1,147.1 L464.1,145.8 L462.1,144.9 M63.8,196.5 L65.8,196.4 L68.8,196.4 L72.1,196.3 L75.2,196.2 L78.0,196.0 L80.9,195.8 L83.7,195.5 L86.6,195.2 L89.4,194.8 L92.2,194.5 L95.1,194.0 L97.9,193.6 L100.8,193.1 L103.6,192.6 L106.5,192.0 L109.3,191.4 L112.2,190.7 L115.0,190.1 L117.9,189.4 L120.7,188.6 L123.5,187.8 L126.4,187.0 L129.2,186.2 L132.1,185.3 L134.9,184.4 L137.8,183.5 L140.6,182.5 L143.5,181.5 L146.3,180.5 L149.1,179.5 L152.0,178.4 L154.8,177.4 L157.7,176.3 L160.5,175.1 L163.4,174.0 L166.2,172.8 L169.1,171.6 L171.9,170.4 L174.8,169.2 L177.6,168.0 L180.4,166.8 L183.3,165.5 L186.1,164.3 L189.0,163.0 L191.8,161.7 L194.7,160.4 L197.5,159.2 L200.4,157.9 L203.2,156.6 L206.1,155.3 L208.9,154.0 L211.7,152.7 L214.6,151.4 L217.4,150.1 L220.3,148.8 L223.1,147.6 L226.2,146.2 L229.5,144.7 L232.5,143.4 L234.5,142.5 M632.8,196.5 L630.8,196.4 L627.8,196.4 L624.5,196.3 L621.4,196.2 L618.6,196.0 L615.7,195.8 L612.9,195.5 L610.0,195.2 L607.2,194.8 L604.4,194.5 L601.5,194.0 L598.7,193.6 L595.8,193.1 L593.0,192.6 L590.1,192.0 L587.3,191.4 L584.4,190.7 L581.6,190.1 L578.7,189.4 L575.9,188.6 L573.1,187.8 L570.2,187.0 L567.4,186.2 L564.5,185.3 L561.7,184.4 L558.8,183.5 L556.0,182.5 L553.1,181.5 L550.3,180.5 L547.4,179.5 L544.6,178.4 L541.8,177.4 L538.9,176.3 L536.1,175.1 L533.2,174.0 L530.4,172.8 L527.5,171.6 L524.7,170.4 L521.8,169.2 L519.0,168.0 L516.2,166.8 L513.3,165.5 L510.5,164.3 L507.6,163.0 L504.8,161.7 L501.9,160.4 L499.1,159.2 L496.2,157.9 L493.4,156.6 L490.6,155.3 L487.7,154.0 L484.9,152.7 L482.0,151.4 L479.2,150.1 L476.3,148.8 L473.5,147.6 L470.4,146.2 L467.1,144.7 L464.1,143.4 L462.1,142.5 M63.8,212.7 L65.8,212.6 L68.8,212.5 L72.1,212.4 L75.2,212.3 L78.0,212.1 L80.9,211.8 L83.7,211.5 L86.6,211.2 L89.4,210.8 L92.2,210.4 L95.1,209.9 L97.9,209.4 L100.8,208.9 L103.6,208.3 L106.5,207.6 L109.3,207.0 L112.2,206.3 L115.0,205.5 L117.9,204.7 L120.7,203.9 L123.5,203.0 L126.4,202.1 L129.2,201.2 L132.1,200.2 L134.9,199.2 L137.8,198.2 L140.6,197.1 L143.5,196.0 L146.3,194.9 L149.1,193.7 L152.0,192.5 L154.8,191.3 L157.7,190.1 L160.5,188.8 L163.4,187.6 L166.2,186.3 L169.1,184.9 L171.9,183.6 L174.8,182.3 L177.6,180.9 L180.4,179.5 L183.3,178.1 L186.1,176.7 L189.0,175.3 L191.8,173.9 L194.7,172.4 L197.5,171.0 L200.4,169.6 L203.2,168.1 L206.1,166.7 L208.9,165.2 L211.7,163.8 L214.6,162.4 L217.4,160.9 L220.3,159.5 L223.1,158.1 L226.0,156.7 L228.8,155.3 L231.7,153.9 L234.5,152.5 L237.6,151.0 L240.9,149.5 L243.8,148.1 L245.9,147.1 M632.8,212.7 L630.8,212.6 L627.8,212.5 L624.5,212.4 L621.4,212.3 L618.6,212.1 L615.7,211.8 L612.9,211.5 L610.0,211.2 L607.2,210.8 L604.4,210.4 L601.5,209.9 L598.7,209.4 L595.8,208.9 L593.0,208.3 L590.1,207.6 L587.3,207.0 L584.4,206.3 L581.6,205.5 L578.7,204.7 L575.9,203.9 L573.1,203.0 L570.2,202.1 L567.4,201.2 L564.5,200.2 L561.7,199.2 L558.8,198.2 L556.0,197.1 L553.1,196.0 L550.3,194.9 L547.4,193.7 L544.6,192.5 L541.8,191.3 L538.9,190.1 L536.1,188.8 L533.2,187.6 L530.4,186.3 L527.5,184.9 L524.7,183.6 L521.8,182.3 L519.0,180.9 L516.2,179.5 L513.3,178.1 L510.5,176.7 L507.6,175.3 L504.8,173.9 L501.9,172.4 L499.1,171.0 L496.2,169.6 L493.4,168.1 L490.6,166.7 L487.7,165.2 L484.9,163.8 L482.0,162.4 L479.2,160.9 L476.3,159.5 L473.5,158.1 L470.6,156.7 L467.8,155.3 L464.9,153.9 L462.1,152.5 L459.0,151.0 L455.7,149.5 L452.8,148.1 L450.7,147.1 M63.8,209.2 L65.8,209.1 L68.8,209.1 L72.1,209.0 L75.2,208.8 L78.0,208.6 L80.9,208.4 L83.7,208.1 L86.6,207.7 L89.4,207.3 L92.2,206.9 L95.1,206.4 L97.9,205.9 L100.8,205.4 L103.6,204.8 L106.5,204.2 L109.3,203.5 L112.2,202.8 L115.0,202.0 L117.9,201.2 L120.7,200.4 L123.5,199.5 L126.4,198.6 L129.2,197.7 L132.1,196.7 L134.9,195.7 L137.8,194.7 L140.6,193.6 L143.5,192.5 L146.3,191.4 L149.1,190.2 L152.0,189.0 L154.8,187.8 L157.7,186.6 L160.5,185.3 L163.4,184.1 L166.2,182.8 L169.1,181.5 L171.9,180.1 L174.8,178.8 L177.6,177.4 L180.4,176.0 L183.3,174.6 L186.1,173.2 L189.0,171.8 L191.8,170.4 L194.7,169.0 L197.5,167.5 L200.4,166.1 L203.2,164.6 L206.1,163.2 L208.9,161.8 L211.7,160.3 L214.6,158.9 L217.4,157.4 L220.3,156.0 L223.1,154.6 L226.0,153.2 L228.8,151.8 L231.7,150.4 L234.5,149.0 L237.6,147.5 L240.9,146.0 L243.8,144.6 L245.9,143.6 M632.8,209.2 L630.8,209.1 L627.8,209.1 L624.5,209.0 L621.4,208.8 L618.6,208.6 L615.7,208.4 L612.9,208.1 L610.0,207.7 L607.2,207.3 L604.4,206.9 L601.5,206.4 L598.7,205.9 L595.8,205.4 L593.0,204.8 L590.1,204.2 L587.3,203.5 L584.4,202.8 L581.6,202.0 L578.7,201.2 L575.9,200.4 L573.1,199.5 L570.2,198.6 L567.4,197.7 L564.5,196.7 L561.7,195.7 L558.8,194.7 L556.0,193.6 L553.1,192.5 L550.3,191.4 L547.4,190.2 L544.6,189.0 L541.8,187.8 L538.9,186.6 L536.1,185.3 L533.2,184.1 L530.4,182.8 L527.5,181.5 L524.7,180.1 L521.8,178.8 L519.0,177.4 L516.2,176.0 L513.3,174.6 L510.5,173.2 L507.6,171.8 L504.8,170.4 L501.9,169.0 L499.1,167.5 L496.2,166.1 L493.4,164.6 L490.6,163.2 L487.7,161.8 L484.9,160.3 L482.0,158.9 L479.2,157.4 L476.3,156.0 L473.5,154.6 L470.6,153.2 L467.8,151.8 L464.9,150.4 L462.1,149.0 L459.0,147.5 L455.7,146.0 L452.8,144.6 L450.7,143.6" fill="none" stroke="#4a4a4a" stroke-width="1.2"/>
<path d="M63.8,198.9h0 M63.8,210.9h0 M63.8,216.3h0 M63.8,231.5h0 M63.8,245.8h0 M63.8,267.7h0 M63.8,289.8h0 M63.8,302.8h0 M63.8,309.8h0 M63.8,317.1h0 M63.8,327.2h0 M63.8,348.8h0 M63.8,363.7h0 M63.8,376.1h0 M75.2,199.2h0 M75.2,209.3h0 M75.2,212.2h0 M75.2,216.3h0 M75.2,231.0h0 M75.2,245.1h0 M75.2,267.0h0 M75.2,289.8h0 M75.2,302.7h0 M75.2,309.8h0 M75.2,317.1h0 M75.2,327.2h0 M75.2,348.8h0 M75.2,363.7h0 M75.2,375.7h0 M86.6,197.3h0 M86.6,200.1h0 M86.6,208.7h0 M86.6,215.7h0 M86.6,230.7h0 M86.6,243.9h0 M86.6,266.1h0 M86.6,288.9h0 M86.6,301.6h0 M86.6,309.0h0 M86.6,315.5h0 M86.6,325.7h0 M86.6,347.9h0 M86.6,363.1h0 M86.6,373.8h0 M97.9,196.2h0 M97.9,198.2h0 M97.9,207.1h0 M97.9,215.0h0 M97.9,218.5h0 M97.9,229.5h0 M97.9,241.7h0 M97.9,263.8h0 M97.9,287.0h0 M97.9,299.8h0 M97.9,307.8h0 M97.9,313.0h0 M97.9,323.8h0 M97.9,346.9h0 M97.9,361.2h0 M97.9,371.6h0 M109.3,193.9h0 M109.3,196.0h0 M109.3,205.2h0 M109.3,211.5h0 M109.3,222.6h0 M109.3,226.3h0 M109.3,239.1h0 M109.3,261.0h0 M109.3,285.1h0 M109.3,297.0h0 M109.3,305.4h0 M109.3,309.8h0 M109.3,320.9h0 M109.3,345.6h0 M109.3,358.6h0 M109.3,360.5h0 M109.3,368.1h0 M120.7,192.3h0 M120.7,202.7h0 M120.7,210.0h0 M120.7,217.6h0 M120.7,223.9h0 M120.7,228.0h0 M120.7,234.7h0 M120.7,257.2h0 M120.7,281.9h0 M120.7,293.3h0 M120.7,301.9h0 M120.7,306.3h0 M120.7,317.1h0 M120.7,343.7h0 M120.7,355.1h0 M120.7,358.6h0 M120.7,364.7h0 M132.1,188.6h0 M132.1,190.6h0 M132.1,199.2h0 M132.1,207.1h0 M132.1,219.8h0 M132.1,225.6h0 M132.1,230.4h0 M132.1,234.4h0 M132.1,252.1h0 M132.1,278.7h0 M132.1,289.5h0 M132.1,297.0h0 M132.1,303.8h0 M132.1,313.3h0 M132.1,341.2h0 M132.1,352.3h0 M132.1,355.5h0 M132.1,361.2h0 M143.5,184.4h0 M143.5,187.1h0 M143.5,195.4h0 M143.5,203.0h0 M143.5,215.7h0 M143.5,225.2h0 M143.5,233.7h0 M143.5,240.4h0 M143.5,246.7h0 M143.5,274.6h0 M143.5,284.5h0 M143.5,289.8h0 M143.5,300.8h0 M143.5,309.2h0 M143.5,339.0h0 M143.5,348.8h0 M143.5,353.6h0 M143.5,358.0h0 M154.8,179.2h0 M154.8,181.9h0 M154.8,190.9h0 M154.8,198.5h0 M154.8,211.5h0 M154.8,219.2h0 M154.8,241.7h0 M154.8,247.4h0 M154.8,269.6h0 M154.8,278.4h0 M154.8,283.5h0 M154.8,297.6h0 M154.8,304.7h0 M154.8,335.5h0 M154.8,345.6h0 M154.8,348.8h0 M154.8,352.0h0 M154.8,378.9h0 M166.2,175.9h0 M166.2,177.9h0 M166.2,185.9h0 M166.2,193.8h0 M166.2,206.2h0 M166.2,213.1h0 M166.2,234.7h0 M166.2,252.8h0 M166.2,264.8h0 M166.2,271.8h0 M166.2,276.5h0 M166.2,294.9h0 M166.2,300.3h0 M166.2,332.0h0 M166.2,341.8h0 M166.2,348.5h0 M166.2,377.3h0 M177.6,171.0h0 M177.6,178.6h0 M177.6,181.4h0 M177.6,188.4h0 M177.6,200.1h0 M177.6,206.5h0 M177.6,227.2h0 M177.6,259.1h0 M177.6,261.9h0 M177.6,265.4h0 M177.6,268.9h0 M177.6,290.5h0 M177.6,294.9h0 M177.6,328.2h0 M177.6,337.7h0 M177.6,345.3h0 M177.6,376.1h0 M189.0,164.6h0 M189.0,166.8h0 M189.0,173.8h0 M189.0,175.7h0 M189.0,181.4h0 M189.0,194.7h0 M189.0,198.9h0 M189.0,219.8h0 M189.0,253.1h0 M189.0,258.5h0 M189.0,270.5h0 M189.0,289.2h0 M189.0,291.4h0 M189.0,323.8h0 M189.0,333.3h0 M189.0,342.5h0 M189.0,375.1h0 M200.4,157.7h0 M200.4,160.5h0 M200.4,166.8h0 M200.4,168.7h0 M200.4,175.7h0 M200.4,183.6h0 M200.4,187.8h0 M200.4,192.5h0 M200.4,211.5h0 M200.4,246.1h0 M200.4,252.1h0 M200.4,278.1h0 M200.4,281.6h0 M200.4,285.7h0 M200.4,318.7h0 M200.4,328.5h0 M200.4,334.5h0 M200.4,340.9h0 M200.4,372.9h0 M211.7,152.9h0 M211.7,159.2h0 M211.7,161.1h0 M211.7,168.1h0 M211.7,179.2h0 M211.7,182.7h0 M211.7,192.5h0 M211.7,203.6h0 M211.7,241.0h0 M211.7,275.3h0 M211.7,283.5h0 M211.7,290.5h0 M211.7,313.3h0 M211.7,322.8h0 M211.7,330.1h0 M211.7,339.3h0 M211.7,370.0h0 M223.1,152.9h0 M223.1,160.5h0 M223.1,171.0h0 M223.1,176.7h0 M223.1,192.5h0 M223.1,198.9h0 M223.1,232.6h0 M223.1,269.6h0 M223.1,278.1h0 M223.1,292.7h0 M223.1,300.5h0 M223.1,307.9h0 M223.1,316.8h0 M223.1,323.8h0 M223.1,338.3h0 M223.1,366.6h0 M223.1,381.8h0 M234.5,163.4h0 M234.5,174.5h0 M234.5,183.6h0 M234.5,202.3h0 M234.5,222.6h0 M234.5,228.8h0 M234.5,262.6h0 M234.5,274.6h0 M234.5,300.8h0 M234.5,310.4h0 M234.5,317.4h0 M234.5,338.0h0 M234.5,362.1h0 M234.5,379.2h0 M245.9,153.5h0 M245.9,158.3h0 M245.9,174.5h0 M245.9,180.2h0 M245.9,205.8h0 M245.9,213.4h0 M245.9,224.4h0 M245.9,255.6h0 M245.9,271.8h0 M245.9,294.9h0 M245.9,304.6h0 M245.9,308.2h0 M245.9,318.7h0 M245.9,338.3h0 M245.9,357.0h0 M245.9,375.7h0 M257.3,163.4h0 M257.3,168.1h0 M257.3,187.1h0 M257.3,203.3h0 M257.3,210.6h0 M257.3,223.9h0 M257.3,248.6h0 M257.3,268.9h0 M257.3,288.3h0 M257.3,297.1h0 M257.3,302.4h0 M257.3,314.9h0 M257.3,327.9h0 M257.3,339.3h0 M257.3,351.3h0 M257.3,371.0h0 M257.3,382.7h0 M268.6,152.9h0 M268.6,163.4h0 M268.6,175.1h0 M268.6,187.1h0 M268.6,194.1h0 M268.6,215.7h0 M268.6,231.4h0 M268.6,242.6h0 M268.6,266.1h0 M268.6,282.2h0 M268.6,289.2h0 M268.6,294.9h0 M268.6,322.2h0 M268.6,334.9h0 M268.6,341.2h0 M268.6,345.6h0 M268.6,364.3h0 M268.6,377.7h0 M280.0,161.8h0 M280.0,170.3h0 M280.0,176.7h0 M280.0,185.5h0 M280.0,188.4h0 M280.0,219.2h0 M280.0,237.5h0 M280.0,243.9h0 M280.0,264.2h0 M280.0,275.9h0 M280.0,281.0h0 M280.0,285.7h0 M280.0,329.1h0 M280.0,336.8h0 M280.0,342.8h0 M280.0,345.6h0 M280.0,357.0h0 M280.0,371.0h0 M280.0,379.9h0 M291.4,164.6h0 M291.4,171.0h0 M291.4,180.2h0 M291.4,194.1h0 M291.4,222.0h0 M291.4,236.6h0 M291.4,257.5h0 M291.4,262.3h0 M291.4,271.8h0 M291.4,276.5h0 M291.4,329.5h0 M291.4,336.4h0 M291.4,349.1h0 M291.4,362.4h0 M291.4,374.5h0 M302.8,154.2h0 M302.8,158.3h0 M302.8,171.6h0 M302.8,178.6h0 M302.8,196.6h0 M302.8,200.1h0 M302.8,224.5h0 M302.8,241.0h0 M302.8,260.7h0 M302.8,266.4h0 M302.8,271.1h0 M302.8,275.6h0 M302.8,321.2h0 M302.8,337.7h0 M302.8,343.4h0 M302.8,354.2h0 M302.8,368.1h0 M302.8,379.9h0 M314.2,155.8h0 M314.2,173.8h0 M314.2,182.1h0 M314.2,197.6h0 M314.2,205.8h0 M314.2,226.1h0 M314.2,250.9h0 M314.2,259.1h0 M314.2,274.9h0 M314.2,288.3h0 M314.2,313.6h0 M314.2,326.6h0 M314.2,343.4h0 M314.2,350.1h0 M314.2,360.5h0 M314.2,375.7h0 M325.5,161.1h0 M325.5,167.5h0 M325.5,188.4h0 M325.5,195.4h0 M325.5,209.3h0 M325.5,227.4h0 M325.5,244.2h0 M325.5,248.9h0 M325.5,257.5h0 M325.5,263.2h0 M325.5,283.2h0 M325.5,298.1h0 M325.5,311.7h0 M325.5,314.6h0 M325.5,332.3h0 M325.5,351.3h0 M325.5,355.8h0 M325.5,362.4h0 M325.5,368.1h0 M325.5,372.6h0 M336.9,156.7h0 M336.9,170.3h0 M336.9,182.7h0 M336.9,199.5h0 M336.9,211.5h0 M336.9,227.4h0 M336.9,238.2h0 M336.9,242.0h0 M336.9,257.8h0 M336.9,275.6h0 M336.9,292.7h0 M336.9,298.1h0 M336.9,301.9h0 M336.9,319.0h0 M336.9,321.2h0 M336.9,342.1h0 M336.9,362.8h0 M336.9,370.4h0 M336.9,373.2h0 M336.9,377.7h0 M348.3,154.2h0 M348.3,163.4h0 M348.3,172.2h0 M348.3,177.9h0 M348.3,201.7h0 M348.3,212.8h0 M348.3,227.4h0 M348.3,236.6h0 M348.3,239.4h0 M348.3,257.8h0 M348.3,288.3h0 M348.3,296.8h0 M348.3,316.8h0 M348.3,328.5h0 M348.3,333.0h0 M348.3,365.0h0 M348.3,370.0h0 M348.3,375.7h0 M632.8,198.9h0 M632.8,210.9h0 M632.8,216.3h0 M632.8,231.5h0 M632.8,245.8h0 M632.8,267.7h0 M632.8,289.8h0 M632.8,302.8h0 M632.8,309.8h0 M632.8,317.1h0 M632.8,327.2h0 M632.8,348.8h0 M632.8,363.7h0 M632.8,376.1h0 M621.4,199.2h0 M621.4,209.3h0 M621.4,212.2h0 M621.4,216.3h0 M621.4,231.0h0 M621.4,245.1h0 M621.4,267.0h0 M621.4,289.8h0 M621.4,302.7h0 M621.4,309.8h0 M621.4,317.1h0 M621.4,327.2h0 M621.4,348.8h0 M621.4,363.7h0 M621.4,375.7h0 M610.0,197.3h0 M610.0,200.1h0 M610.0,208.7h0 M610.0,215.7h0 M610.0,230.7h0 M610.0,243.9h0 M610.0,266.1h0 M610.0,288.9h0 M610.0,301.6h0 M610.0,309.0h0 M610.0,315.5h0 M610.0,325.7h0 M610.0,347.9h0 M610.0,363.1h0 M610.0,373.8h0 M598.7,196.2h0 M598.7,198.2h0 M598.7,207.1h0 M598.7,215.0h0 M598.7,218.5h0 M598.7,229.5h0 M598.7,241.7h0 M598.7,263.8h0 M598.7,287.0h0 M598.7,299.8h0 M598.7,307.8h0 M598.7,313.0h0 M598.7,323.8h0 M598.7,346.9h0 M598.7,361.2h0 M598.7,371.6h0 M587.3,193.9h0 M587.3,196.0h0 M587.3,205.2h0 M587.3,211.5h0 M587.3,222.6h0 M587.3,226.3h0 M587.3,239.1h0 M587.3,261.0h0 M587.3,285.1h0 M587.3,297.0h0 M587.3,305.4h0 M587.3,309.8h0 M587.3,320.9h0 M587.3,345.6h0 M587.3,358.6h0 M587.3,360.5h0 M587.3,368.1h0 M575.9,192.3h0 M575.9,202.7h0 M575.9,210.0h0 M575.9,217.6h0 M575.9,223.9h0 M575.9,228.0h0 M575.9,234.7h0 M575.9,257.2h0 M575.9,281.9h0 M575.9,293.3h0 M575.9,301.9h0 M575.9,306.3h0 M575.9,317.1h0 M575.9,343.7h0 M575.9,355.1h0 M575.9,358.6h0 M575.9,364.7h0 M564.5,188.6h0 M564.5,190.6h0 M564.5,199.2h0 M564.5,207.1h0 M564.5,219.8h0 M564.5,225.6h0 M564.5,230.4h0 M564.5,234.4h0 M564.5,252.1h0 M564.5,278.7h0 M564.5,289.5h0 M564.5,297.0h0 M564.5,303.8h0 M564.5,313.3h0 M564.5,341.2h0 M564.5,352.3h0 M564.5,355.5h0 M564.5,361.2h0 M553.1,184.4h0 M553.1,187.1h0 M553.1,195.4h0 M553.1,203.0h0 M553.1,215.7h0 M553.1,225.2h0 M553.1,233.7h0 M553.1,240.4h0 M553.1,246.7h0 M553.1,274.6h0 M553.1,284.5h0 M553.1,289.8h0 M553.1,300.8h0 M553.1,309.2h0 M553.1,339.0h0 M553.1,348.8h0 M553.1,353.6h0 M553.1,358.0h0 M541.8,179.2h0 M541.8,181.9h0 M541.8,190.9h0 M541.8,198.5h0 M541.8,211.5h0 M541.8,219.2h0 M541.8,241.7h0 M541.8,247.4h0 M541.8,269.6h0 M541.8,278.4h0 M541.8,283.5h0 M541.8,297.6h0 M541.8,304.7h0 M541.8,335.5h0 M541.8,345.6h0 M541.8,348.8h0 M541.8,352.0h0 M541.8,378.9h0 M530.4,175.9h0 M530.4,177.9h0 M530.4,185.9h0 M530.4,193.8h0 M530.4,206.2h0 M530.4,213.1h0 M530.4,234.7h0 M530.4,252.8h0 M530.4,264.8h0 M530.4,271.8h0 M530.4,276.5h0 M530.4,294.9h0 M530.4,300.3h0 M530.4,332.0h0 M530.4,341.8h0 M530.4,348.5h0 M530.4,377.3h0 M519.0,171.0h0 M519.0,178.6h0 M519.0,181.4h0 M519.0,188.4h0 M519.0,200.1h0 M519.0,206.5h0 M519.0,227.2h0 M519.0,259.1h0 M519.0,261.9h0 M519.0,265.4h0 M519.0,268.9h0 M519.0,290.5h0 M519.0,294.9h0 M519.0,328.2h0 M519.0,337.7h0 M519.0,345.3h0 M519.0,376.1h0 M507.6,164.6h0 M507.6,166.8h0 M507.6,173.8h0 M507.6,175.7h0 M507.6,181.4h0 M507.6,194.7h0 M507.6,198.9h0 M507.6,219.8h0 M507.6,253.1h0 M507.6,258.5h0 M507.6,270.5h0 M507.6,289.2h0 M507.6,291.4h0 M507.6,323.8h0 M507.6,333.3h0 M507.6,342.5h0 M507.6,375.1h0 M496.2,157.7h0 M496.2,160.5h0 M496.2,166.8h0 M496.2,168.7h0 M496.2,175.7h0 M496.2,183.6h0 M496.2,187.8h0 M496.2,192.5h0 M496.2,211.5h0 M496.2,246.1h0 M496.2,252.1h0 M496.2,278.1h0 M496.2,281.6h0 M496.2,285.7h0 M496.2,318.7h0 M496.2,328.5h0 M496.2,334.5h0 M496.2,340.9h0 M496.2,372.9h0 M484.9,152.9h0 M484.9,159.2h0 M484.9,161.1h0 M484.9,168.1h0 M484.9,179.2h0 M484.9,182.7h0 M484.9,192.5h0 M484.9,203.6h0 M484.9,241.0h0 M484.9,275.3h0 M484.9,283.5h0 M484.9,290.5h0 M484.9,313.3h0 M484.9,322.8h0 M484.9,330.1h0 M484.9,339.3h0 M484.9,370.0h0 M473.5,152.9h0 M473.5,160.5h0 M473.5,171.0h0 M473.5,176.7h0 M473.5,192.5h0 M473.5,198.9h0 M473.5,232.6h0 M473.5,269.6h0 M473.5,278.1h0 M473.5,292.7h0 M473.5,300.5h0 M473.5,307.9h0 M473.5,316.8h0 M473.5,323.8h0 M473.5,338.3h0 M473.5,366.6h0 M473.5,381.8h0 M462.1,163.4h0 M462.1,174.5h0 M462.1,183.6h0 M462.1,202.3h0 M462.1,222.6h0 M462.1,228.8h0 M462.1,262.6h0 M462.1,274.6h0 M462.1,300.8h0 M462.1,310.4h0 M462.1,317.4h0 M462.1,338.0h0 M462.1,362.1h0 M462.1,379.2h0 M450.7,153.5h0 M450.7,158.3h0 M450.7,174.5h0 M450.7,180.2h0 M450.7,205.8h0 M450.7,213.4h0 M450.7,224.4h0 M450.7,255.6h0 M450.7,271.8h0 M450.7,294.9h0 M450.7,304.6h0 M450.7,308.2h0 M450.7,318.7h0 M450.7,338.3h0 M450.7,357.0h0 M450.7,375.7h0 M439.3,163.4h0 M439.3,168.1h0 M439.3,187.1h0 M439.3,203.3h0 M439.3,210.6h0 M439.3,223.9h0 M439.3,248.6h0 M439.3,268.9h0 M439.3,288.3h0 M439.3,297.1h0 M439.3,302.4h0 M439.3,314.9h0 M439.3,327.9h0 M439.3,339.3h0 M439.3,351.3h0 M439.3,371.0h0 M439.3,382.7h0 M428.0,152.9h0 M428.0,163.4h0 M428.0,175.1h0 M428.0,187.1h0 M428.0,194.1h0 M428.0,215.7h0 M428.0,231.4h0 M428.0,242.6h0 M428.0,266.1h0 M428.0,282.2h0 M428.0,289.2h0 M428.0,294.9h0 M428.0,322.2h0 M428.0,334.9h0 M428.0,341.2h0 M428.0,345.6h0 M428.0,364.3h0 M428.0,377.7h0 M416.6,161.8h0 M416.6,170.3h0 M416.6,176.7h0 M416.6,185.5h0 M416.6,188.4h0 M416.6,219.2h0 M416.6,237.5h0 M416.6,243.9h0 M416.6,264.2h0 M416.6,275.9h0 M416.6,281.0h0 M416.6,285.7h0 M416.6,329.1h0 M416.6,336.8h0 M416.6,342.8h0 M416.6,345.6h0 M416.6,357.0h0 M416.6,371.0h0 M416.6,379.9h0 M405.2,164.6h0 M405.2,171.0h0 M405.2,180.2h0 M405.2,194.1h0 M405.2,222.0h0 M405.2,236.6h0 M405.2,257.5h0 M405.2,262.3h0 M405.2,271.8h0 M405.2,276.5h0 M405.2,329.5h0 M405.2,336.4h0 M405.2,349.1h0 M405.2,362.4h0 M405.2,374.5h0 M393.8,154.2h0 M393.8,158.3h0 M393.8,171.6h0 M393.8,178.6h0 M393.8,196.6h0 M393.8,200.1h0 M393.8,224.5h0 M393.8,241.0h0 M393.8,260.7h0 M393.8,266.4h0 M393.8,271.1h0 M393.8,275.6h0 M393.8,321.2h0 M393.8,337.7h0 M393.8,343.4h0 M393.8,354.2h0 M393.8,368.1h0 M393.8,379.9h0 M382.4,155.8h0 M382.4,173.8h0 M382.4,182.1h0 M382.4,197.6h0 M382.4,205.8h0 M382.4,226.1h0 M382.4,250.9h0 M382.4,259.1h0 M382.4,274.9h0 M382.4,288.3h0 M382.4,313.6h0 M382.4,326.6h0 M382.4,343.4h0 M382.4,350.1h0 M382.4,360.5h0 M382.4,375.7h0 M371.1,161.1h0 M371.1,167.5h0 M371.1,188.4h0 M371.1,195.4h0 M371.1,209.3h0 M371.1,227.4h0 M371.1,244.2h0 M371.1,248.9h0 M371.1,257.5h0 M371.1,263.2h0 M371.1,283.2h0 M371.1,298.1h0 M371.1,311.7h0 M371.1,314.6h0 M371.1,332.3h0 M371.1,351.3h0 M371.1,355.8h0 M371.1,362.4h0 M371.1,368.1h0 M371.1,372.6h0 M359.7,156.7h0 M359.7,170.3h0 M359.7,182.7h0 M359.7,199.5h0 M359.7,211.5h0 M359.7,227.4h0 M359.7,238.2h0 M359.7,242.0h0 M359.7,257.8h0 M359.7,275.6h0 M359.7,292.7h0 M359.7,298.1h0 M359.7,301.9h0 M359.7,319.0h0 M359.7,321.2h0 M359.7,342.1h0 M359.7,362.8h0 M359.7,370.4h0 M359.7,373.2h0 M359.7,377.7h0 M348.3,154.2h0 M348.3,163.4h0 M348.3,172.2h0 M348.3,177.9h0 M348.3,201.7h0 M348.3,212.8h0 M348.3,227.4h0 M348.3,236.6h0 M348.3,239.4h0 M348.3,257.8h0 M348.3,288.3h0 M348.3,296.8h0 M348.3,316.8h0 M348.3,328.5h0 M348.3,333.0h0 M348.3,365.0h0 M348.3,370.0h0 M348.3,375.7h0 M63.8,441.7h0 M63.8,450.9h0 M63.8,452.5h0 M63.8,456.9h0 M63.8,464.2h0 M63.8,465.5h0 M63.8,478.8h0 M63.8,483.8h0 M63.8,496.5h0 M63.8,516.5h0 M63.8,525.7h0 M63.8,528.9h0 M75.2,441.7h0 M75.2,451.8h0 M75.2,456.9h0 M75.2,464.5h0 M75.2,465.5h0 M75.2,479.1h0 M75.2,483.8h0 M75.2,496.5h0 M75.2,516.5h0 M75.2,525.7h0 M75.2,528.9h0 M86.6,441.7h0 M86.6,452.5h0 M86.6,454.7h0 M86.6,464.2h0 M86.6,478.1h0 M86.6,482.9h0 M86.6,495.3h0 M86.6,499.4h0 M86.6,515.5h0 M86.6,525.1h0 M86.6,529.2h0 M97.9,441.7h0 M97.9,451.8h0 M97.9,454.0h0 M97.9,457.2h0 M97.9,464.2h0 M97.9,477.5h0 M97.9,482.3h0 M97.9,494.6h0 M97.9,504.1h0 M97.9,514.6h0 M97.9,524.4h0 M97.9,529.2h0 M109.3,441.7h0 M109.3,450.9h0 M109.3,454.0h0 M109.3,462.6h0 M109.3,476.6h0 M109.3,481.0h0 M109.3,493.0h0 M109.3,510.2h0 M109.3,512.7h0 M109.3,521.9h0 M109.3,529.2h0 M120.7,441.7h0 M120.7,449.3h0 M120.7,452.5h0 M120.7,461.0h0 M120.7,471.2h0 M120.7,474.3h0 M120.7,478.1h0 M120.7,490.8h0 M120.7,510.2h0 M120.7,515.5h0 M120.7,520.3h0 M120.7,530.4h0 M132.1,441.7h0 M132.1,447.7h0 M132.1,449.3h0 M132.1,458.8h0 M132.1,473.7h0 M132.1,478.1h0 M132.1,488.3h0 M132.1,507.9h0 M132.1,517.1h0 M132.1,518.7h0 M132.1,529.8h0 M143.5,442.3h0 M143.5,444.9h0 M143.5,447.7h0 M143.5,456.3h0 M143.5,470.5h0 M143.5,473.7h0 M143.5,485.1h0 M143.5,488.3h0 M143.5,504.1h0 M143.5,513.3h0 M143.5,521.3h0 M143.5,525.1h0 M154.8,442.3h0 M154.8,454.0h0 M154.8,468.0h0 M154.8,482.3h0 M154.8,499.4h0 M154.8,510.2h0 M154.8,521.9h0 M166.2,442.3h0 M166.2,449.3h0 M166.2,454.7h0 M166.2,467.4h0 M166.2,479.1h0 M166.2,496.8h0 M166.2,507.0h0 M166.2,517.1h0 M166.2,523.5h0 M177.6,442.3h0 M177.6,445.5h0 M177.6,452.5h0 M177.6,464.8h0 M177.6,476.6h0 M177.6,493.0h0 M177.6,501.6h0 M177.6,512.7h0 M177.6,519.7h0 M177.6,524.4h0 M189.0,442.3h0 M189.0,451.8h0 M189.0,462.6h0 M189.0,473.7h0 M189.0,489.2h0 M189.0,496.8h0 M189.0,507.9h0 M189.0,524.4h0 M189.0,530.4h0 M200.4,441.7h0 M200.4,450.9h0 M200.4,460.4h0 M200.4,471.2h0 M200.4,485.1h0 M200.4,492.4h0 M200.4,503.2h0 M200.4,525.7h0 M211.7,441.7h0 M211.7,450.9h0 M211.7,458.8h0 M211.7,468.9h0 M211.7,480.7h0 M211.7,486.7h0 M211.7,498.4h0 M211.7,527.3h0 M223.1,442.3h0 M223.1,446.1h0 M223.1,455.6h0 M223.1,457.9h0 M223.1,467.4h0 M223.1,475.9h0 M223.1,482.3h0 M223.1,493.0h0 M223.1,529.8h0 M234.5,442.3h0 M234.5,446.1h0 M234.5,455.6h0 M234.5,467.4h0 M234.5,468.9h0 M234.5,479.1h0 M234.5,488.3h0 M234.5,525.1h0 M245.9,442.3h0 M245.9,446.1h0 M245.9,455.6h0 M245.9,464.2h0 M245.9,476.6h0 M245.9,484.2h0 M245.9,518.7h0 M257.3,442.3h0 M257.3,446.1h0 M257.3,455.6h0 M257.3,464.8h0 M257.3,474.3h0 M257.3,481.0h0 M257.3,511.7h0 M268.6,442.3h0 M268.6,449.3h0 M268.6,457.2h0 M268.6,464.8h0 M268.6,472.8h0 M268.6,478.1h0 M268.6,504.8h0 M280.0,442.3h0 M280.0,450.2h0 M280.0,457.2h0 M280.0,464.8h0 M280.0,472.1h0 M280.0,475.9h0 M280.0,498.4h0 M291.4,443.3h0 M291.4,450.9h0 M291.4,457.9h0 M291.4,464.8h0 M291.4,472.8h0 M291.4,493.0h0 M302.8,443.3h0 M302.8,451.8h0 M302.8,458.8h0 M302.8,464.8h0 M302.8,472.1h0 M302.8,487.6h0 M314.2,443.3h0 M314.2,451.8h0 M314.2,457.2h0 M314.2,463.6h0 M314.2,471.2h0 M314.2,483.8h0 M325.5,443.3h0 M325.5,452.5h0 M325.5,457.9h0 M325.5,464.2h0 M325.5,471.2h0 M325.5,480.4h0 M336.9,443.3h0 M336.9,452.5h0 M336.9,457.9h0 M336.9,464.8h0 M336.9,470.5h0 M336.9,477.5h0 M348.3,443.3h0 M348.3,452.5h0 M348.3,457.9h0 M348.3,464.8h0 M348.3,470.5h0 M348.3,476.6h0 M632.8,441.7h0 M632.8,450.9h0 M632.8,452.5h0 M632.8,456.9h0 M632.8,464.2h0 M632.8,465.5h0 M632.8,478.8h0 M632.8,483.8h0 M632.8,496.5h0 M632.8,516.5h0 M632.8,525.7h0 M632.8,528.9h0 M621.4,441.7h0 M621.4,451.8h0 M621.4,456.9h0 M621.4,464.5h0 M621.4,465.5h0 M621.4,479.1h0 M621.4,483.8h0 M621.4,496.5h0 M621.4,516.5h0 M621.4,525.7h0 M621.4,528.9h0 M610.0,441.7h0 M610.0,452.5h0 M610.0,454.7h0 M610.0,464.2h0 M610.0,478.1h0 M610.0,482.9h0 M610.0,495.3h0 M610.0,499.4h0 M610.0,515.5h0 M610.0,525.1h0 M610.0,529.2h0 M598.7,441.7h0 M598.7,451.8h0 M598.7,454.0h0 M598.7,457.2h0 M598.7,464.2h0 M598.7,477.5h0 M598.7,482.3h0 M598.7,494.6h0 M598.7,504.1h0 M598.7,514.6h0 M598.7,524.4h0 M598.7,529.2h0 M587.3,441.7h0 M587.3,450.9h0 M587.3,454.0h0 M587.3,462.6h0 M587.3,476.6h0 M587.3,481.0h0 M587.3,493.0h0 M587.3,510.2h0 M587.3,512.7h0 M587.3,521.9h0 M587.3,529.2h0 M575.9,441.7h0 M575.9,449.3h0 M575.9,452.5h0 M575.9,461.0h0 M575.9,471.2h0 M575.9,474.3h0 M575.9,478.1h0 M575.9,490.8h0 M575.9,510.2h0 M575.9,515.5h0 M575.9,520.3h0 M575.9,530.4h0 M564.5,441.7h0 M564.5,447.7h0 M564.5,449.3h0 M564.5,458.8h0 M564.5,473.7h0 M564.5,478.1h0 M564.5,488.3h0 M564.5,507.9h0 M564.5,517.1h0 M564.5,518.7h0 M564.5,529.8h0 M553.1,442.3h0 M553.1,444.9h0 M553.1,447.7h0 M553.1,456.3h0 M553.1,470.5h0 M553.1,473.7h0 M553.1,485.1h0 M553.1,488.3h0 M553.1,504.1h0 M553.1,513.3h0 M553.1,521.3h0 M553.1,525.1h0 M541.8,442.3h0 M541.8,454.0h0 M541.8,468.0h0 M541.8,482.3h0 M541.8,499.4h0 M541.8,510.2h0 M541.8,521.9h0 M530.4,442.3h0 M530.4,449.3h0 M530.4,454.7h0 M530.4,467.4h0 M530.4,479.1h0 M530.4,496.8h0 M530.4,507.0h0 M530.4,517.1h0 M530.4,523.5h0 M519.0,442.3h0 M519.0,445.5h0 M519.0,452.5h0 M519.0,464.8h0 M519.0,476.6h0 M519.0,493.0h0 M519.0,501.6h0 M519.0,512.7h0 M519.0,519.7h0 M519.0,524.4h0 M507.6,442.3h0 M507.6,451.8h0 M507.6,462.6h0 M507.6,473.7h0 M507.6,489.2h0 M507.6,496.8h0 M507.6,507.9h0 M507.6,524.4h0 M507.6,530.4h0 M496.2,441.7h0 M496.2,450.9h0 M496.2,460.4h0 M496.2,471.2h0 M496.2,485.1h0 M496.2,492.4h0 M496.2,503.2h0 M496.2,525.7h0 M484.9,441.7h0 M484.9,450.9h0 M484.9,458.8h0 M484.9,468.9h0 M484.9,480.7h0 M484.9,486.7h0 M484.9,498.4h0 M484.9,527.3h0 M473.5,442.3h0 M473.5,446.1h0 M473.5,455.6h0 M473.5,457.9h0 M473.5,467.4h0 M473.5,475.9h0 M473.5,482.3h0 M473.5,493.0h0 M473.5,529.8h0 M462.1,442.3h0 M462.1,446.1h0 M462.1,455.6h0 M462.1,467.4h0 M462.1,468.9h0 M462.1,479.1h0 M462.1,488.3h0 M462.1,525.1h0 M450.7,442.3h0 M450.7,446.1h0 M450.7,455.6h0 M450.7,464.2h0 M450.7,476.6h0 M450.7,484.2h0 M450.7,518.7h0 M439.3,442.3h0 M439.3,446.1h0 M439.3,455.6h0 M439.3,464.8h0 M439.3,474.3h0 M439.3,481.0h0 M439.3,511.7h0 M428.0,442.3h0 M428.0,449.3h0 M428.0,457.2h0 M428.0,464.8h0 M428.0,472.8h0 M428.0,478.1h0 M428.0,504.8h0 M416.6,442.3h0 M416.6,450.2h0 M416.6,457.2h0 M416.6,464.8h0 M416.6,472.1h0 M416.6,475.9h0 M416.6,498.4h0 M405.2,443.3h0 M405.2,450.9h0 M405.2,457.9h0 M405.2,464.8h0 M405.2,472.8h0 M405.2,493.0h0 M393.8,443.3h0 M393.8,451.8h0 M393.8,458.8h0 M393.8,464.8h0 M393.8,472.1h0 M393.8,487.6h0 M382.4,443.3h0 M382.4,451.8h0 M382.4,457.2h0 M382.4,463.6h0 M382.4,471.2h0 M382.4,483.8h0 M371.1,443.3h0 M371.1,452.5h0 M371.1,457.9h0 M371.1,464.2h0 M371.1,471.2h0 M371.1,480.4h0 M359.7,443.3h0 M359.7,452.5h0 M359.7,457.9h0 M359.7,464.8h0 M359.7,470.5h0 M359.7,477.5h0 M348.3,443.3h0 M348.3,452.5h0 M348.3,457.9h0 M348.3,464.8h0 M348.3,470.5h0 M348.3,476.6h0 M177.6,261.3h0 M189.0,257.8h0 M200.4,250.7h0 M211.7,244.1h0 M223.1,236.5h0 M234.5,226.3h0 M245.9,215.6h0 M257.3,203.6h0 M519.0,261.3h0 M507.6,257.8h0 M496.2,250.7h0 M484.9,244.1h0 M473.5,236.5h0 M462.1,226.3h0 M450.7,215.6h0 M439.3,203.6h0 M177.6,261.3h0 M189.0,256.2h0 M200.4,248.0h0 M211.7,240.7h0 M223.1,233.1h0 M234.5,223.6h0 M245.9,214.1h0 M257.3,203.6h0 M268.6,194.1h0 M280.0,186.5h0 M519.0,261.3h0 M507.6,256.2h0 M496.2,248.0h0 M484.9,240.7h0 M473.5,233.1h0 M462.1,223.6h0 M450.7,214.1h0 M439.3,203.6h0 M428.0,194.1h0 M416.6,186.5h0 M97.9,206.2h0 M109.3,211.5h0 M120.7,217.6h0 M132.1,225.5h0 M143.5,233.7h0 M154.8,241.7h0 M166.2,252.1h0 M177.6,261.9h0 M189.0,270.5h0 M598.7,206.2h0 M587.3,211.5h0 M575.9,217.6h0 M564.5,225.5h0 M553.1,233.7h0 M541.8,241.7h0 M530.4,252.1h0 M519.0,261.9h0 M507.6,270.5h0 M97.9,462.3h0 M109.3,465.5h0 M120.7,471.8h0 M132.1,478.8h0 M143.5,487.6h0 M154.8,499.7h0 M166.2,507.6h0 M177.6,513.0h0 M189.0,520.9h0 M200.4,526.3h0 M211.7,528.5h0 M223.1,529.8h0 M234.5,525.1h0 M245.9,518.7h0 M257.3,511.7h0 M268.6,504.8h0 M280.0,498.4h0 M291.4,493.0h0 M302.8,487.6h0 M314.2,483.8h0 M325.5,480.4h0 M336.9,477.5h0 M348.3,476.6h0 M598.7,462.3h0 M587.3,465.5h0 M575.9,471.8h0 M564.5,478.8h0 M553.1,487.6h0 M541.8,499.7h0 M530.4,507.6h0 M519.0,513.0h0 M507.6,520.9h0 M496.2,526.3h0 M484.9,528.5h0 M473.5,529.8h0 M462.1,525.1h0 M450.7,518.7h0 M439.3,511.7h0 M428.0,504.8h0 M416.6,498.4h0 M405.2,493.0h0 M393.8,487.6h0 M382.4,483.8h0 M371.1,480.4h0 M359.7,477.5h0 M348.3,476.6h0 M63.8,453.1h0 M75.2,452.7h0 M86.6,452.7h0 M97.9,453.0h0 M109.3,453.5h0 M120.7,453.6h0 M132.1,453.2h0 M143.5,452.8h0 M154.8,452.6h0 M166.2,452.9h0 M632.8,453.1h0 M621.4,452.7h0 M610.0,452.7h0 M598.7,453.0h0 M587.3,453.5h0 M575.9,453.6h0 M564.5,453.2h0 M553.1,452.8h0 M541.8,452.6h0 M530.4,452.9h0 M63.8,449.9h0 M75.2,449.5h0 M86.6,449.5h0 M97.9,449.9h0 M109.3,450.3h0 M120.7,450.4h0 M132.1,450.1h0 M143.5,449.6h0 M154.8,449.5h0 M166.2,449.7h0 M632.8,449.9h0 M621.4,449.5h0 M610.0,449.5h0 M598.7,449.9h0 M587.3,450.3h0 M575.9,450.4h0 M564.5,450.1h0 M553.1,449.6h0 M541.8,449.5h0 M530.4,449.7h0 M63.8,466.4h0 M75.2,466.0h0 M86.6,466.0h0 M97.9,466.3h0 M109.3,466.8h0 M632.8,466.4h0 M621.4,466.0h0 M610.0,466.0h0 M598.7,466.3h0 M587.3,466.8h0 M63.8,463.2h0 M75.2,462.8h0 M86.6,462.8h0 M97.9,463.2h0 M109.3,463.6h0 M632.8,463.2h0 M621.4,462.8h0 M610.0,462.8h0 M598.7,463.2h0 M587.3,463.6h0 M234.5,450.6h0 M245.9,451.0h0 M257.3,451.3h0 M268.6,451.2h0 M280.0,450.8h0 M291.4,450.4h0 M302.8,450.5h0 M314.2,450.9h0 M325.5,451.3h0 M336.9,451.3h0 M348.3,450.9h0 M462.1,450.6h0 M450.7,451.0h0 M439.3,451.3h0 M428.0,451.2h0 M416.6,450.8h0 M405.2,450.4h0 M393.8,450.5h0 M382.4,450.9h0 M371.1,451.3h0 M359.7,451.3h0 M348.3,450.9h0 M63.8,528.9h0 M75.2,528.5h0 M86.6,528.4h0 M97.9,528.8h0 M632.8,528.9h0 M621.4,528.5h0 M610.0,528.4h0 M598.7,528.8h0 M63.8,525.7h0 M75.2,525.3h0 M86.6,525.3h0 M97.9,525.6h0 M632.8,525.7h0 M621.4,525.3h0 M610.0,525.3h0 M598.7,525.6h0 M63.8,201.2h0 M75.2,200.9h0 M86.6,199.9h0 M97.9,198.3h0 M109.3,196.1h0 M120.7,193.4h0 M132.1,190.1h0 M143.5,186.3h0 M154.8,182.1h0 M166.2,177.6h0 M177.6,172.8h0 M189.0,167.8h0 M200.4,162.6h0 M211.7,157.4h0 M223.1,152.3h0 M632.8,201.2h0 M621.4,200.9h0 M610.0,199.9h0 M598.7,198.3h0 M587.3,196.1h0 M575.9,193.4h0 M564.5,190.1h0 M553.1,186.3h0 M541.8,182.1h0 M530.4,177.6h0 M519.0,172.8h0 M507.6,167.8h0 M496.2,162.6h0 M484.9,157.4h0 M473.5,152.3h0 M63.8,198.9h0 M75.2,198.5h0 M86.6,197.6h0 M97.9,196.0h0 M109.3,193.8h0 M120.7,191.0h0 M132.1,187.7h0 M143.5,183.9h0 M154.8,179.7h0 M166.2,175.2h0 M177.6,170.4h0 M189.0,165.4h0 M200.4,160.2h0 M211.7,155.1h0 M632.8,198.9h0 M621.4,198.5h0 M610.0,197.6h0 M598.7,196.0h0 M587.3,193.8h0 M575.9,191.0h0 M564.5,187.7h0 M553.1,183.9h0 M541.8,179.7h0 M530.4,175.2h0 M519.0,170.4h0 M507.6,165.4h0 M496.2,160.2h0 M484.9,155.1h0 M63.8,196.5h0 M75.2,196.2h0 M86.6,195.2h0 M97.9,193.6h0 M109.3,191.4h0 M120.7,188.6h0 M132.1,185.3h0 M143.5,181.5h0 M154.8,177.4h0 M166.2,172.8h0 M177.6,168.0h0 M189.0,163.0h0 M200.4,157.9h0 M211.7,152.7h0 M632.8,196.5h0 M621.4,196.2h0 M610.0,195.2h0 M598.7,193.6h0 M587.3,191.4h0 M575.9,188.6h0 M564.5,185.3h0 M553.1,181.5h0 M541.8,177.4h0 M530.4,172.8h0 M519.0,168.0h0 M507.6,163.0h0 M496.2,157.9h0 M484.9,152.7h0 M63.8,212.7h0 M75.2,212.3h0 M86.6,211.2h0 M97.9,209.4h0 M109.3,207.0h0 M120.7,203.9h0 M132.1,200.2h0 M143.5,196.0h0 M154.8,191.3h0 M166.2,186.3h0 M177.6,180.9h0 M189.0,175.3h0 M200.4,169.6h0 M211.7,163.8h0 M223.1,158.1h0 M234.5,152.5h0 M632.8,212.7h0 M621.4,212.3h0 M610.0,211.2h0 M598.7,209.4h0 M587.3,207.0h0 M575.9,203.9h0 M564.5,200.2h0 M553.1,196.0h0 M541.8,191.3h0 M530.4,186.3h0 M519.0,180.9h0 M507.6,175.3h0 M496.2,169.6h0 M484.9,163.8h0 M473.5,158.1h0 M462.1,152.5h0 M63.8,209.2h0 M75.2,208.8h0 M86.6,207.7h0 M97.9,205.9h0 M109.3,203.5h0 M120.7,200.4h0 M132.1,196.7h0 M143.5,192.5h0 M154.8,187.8h0 M166.2,182.8h0 M177.6,177.4h0 M189.0,171.8h0 M200.4,166.1h0 M211.7,160.3h0 M223.1,154.6h0 M632.8,209.2h0 M621.4,208.8h0 M610.0,207.7h0 M598.7,205.9h0 M587.3,203.5h0 M575.9,200.4h0 M564.5,196.7h0 M553.1,192.5h0 M541.8,187.8h0 M530.4,182.8h0 M519.0,177.4h0 M507.6,171.8h0 M496.2,166.1h0 M484.9,160.3h0 M473.5,154.6h0" stroke="#111" stroke-width="3.3" stroke-linecap="round"/>
</g></g>
<line x1="63.8" y1="345" x2="632.8" y2="345" stroke="#b0b0b0" stroke-width="1.2" stroke-dasharray="2,3"/>
<line x1="348.3" y1="153.0" x2="348.3" y2="532.3" stroke="#888" stroke-width="1.3"/>
<rect x="63.8" y="153.0" width="569" height="379.3" fill="none" stroke="#8a8a8a" stroke-width="1.8"/>
<line x1="57" y1="503.5" x2="63.8" y2="503.5" stroke="#8a8a8a" stroke-width="1.5"/>
<text x="52.5" y="504" text-anchor="end" font-size="17" fill="#5a5a5a" stroke="#6a6a6a" stroke-width="0.35">-5.0</text>
<line x1="57" y1="471.8" x2="63.8" y2="471.8" stroke="#8a8a8a" stroke-width="1.5"/>
<text x="52.5" y="472.3" text-anchor="end" font-size="17" fill="#5a5a5a" stroke="#6a6a6a" stroke-width="0.35">-4.0</text>
<line x1="57" y1="440.1" x2="63.8" y2="440.1" stroke="#8a8a8a" stroke-width="1.5"/>
<text x="52.5" y="440.6" text-anchor="end" font-size="17" fill="#5a5a5a" stroke="#6a6a6a" stroke-width="0.35">-3.0</text>
<line x1="57" y1="408.4" x2="63.8" y2="408.4" stroke="#8a8a8a" stroke-width="1.5"/>
<text x="52.5" y="408.9" text-anchor="end" font-size="17" fill="#5a5a5a" stroke="#6a6a6a" stroke-width="0.35">-2.0</text>
<line x1="57" y1="376.7" x2="63.8" y2="376.7" stroke="#8a8a8a" stroke-width="1.5"/>
<text x="52.5" y="377.2" text-anchor="end" font-size="17" fill="#5a5a5a" stroke="#6a6a6a" stroke-width="0.35">-1.0</text>
<line x1="57" y1="345" x2="63.8" y2="345" stroke="#8a8a8a" stroke-width="1.5"/>
<text x="52.5" y="345.5" text-anchor="end" font-size="17" fill="#5a5a5a" stroke="#6a6a6a" stroke-width="0.35">0.0</text>
<line x1="57" y1="313.3" x2="63.8" y2="313.3" stroke="#8a8a8a" stroke-width="1.5"/>
<text x="52.5" y="313.8" text-anchor="end" font-size="17" fill="#5a5a5a" stroke="#6a6a6a" stroke-width="0.35">1.0</text>
<line x1="57" y1="281.6" x2="63.8" y2="281.6" stroke="#8a8a8a" stroke-width="1.5"/>
<text x="52.5" y="282.1" text-anchor="end" font-size="17" fill="#5a5a5a" stroke="#6a6a6a" stroke-width="0.35">2.0</text>
<line x1="57" y1="249.9" x2="63.8" y2="249.9" stroke="#8a8a8a" stroke-width="1.5"/>
<text x="52.5" y="250.4" text-anchor="end" font-size="17" fill="#5a5a5a" stroke="#6a6a6a" stroke-width="0.35">3.0</text>
<line x1="57" y1="218.2" x2="63.8" y2="218.2" stroke="#8a8a8a" stroke-width="1.5"/>
<text x="52.5" y="218.7" text-anchor="end" font-size="17" fill="#5a5a5a" stroke="#6a6a6a" stroke-width="0.35">4.0</text>
<line x1="57" y1="186.5" x2="63.8" y2="186.5" stroke="#8a8a8a" stroke-width="1.5"/>
<text x="52.5" y="187" text-anchor="end" font-size="17" fill="#5a5a5a" stroke="#6a6a6a" stroke-width="0.35">5.0</text>
<line x1="57" y1="154.8" x2="63.8" y2="154.8" stroke="#8a8a8a" stroke-width="1.5"/>
<text x="52.5" y="155.3" text-anchor="end" font-size="17" fill="#5a5a5a" stroke="#6a6a6a" stroke-width="0.35">6.0</text>
<text transform="translate(19,440.3) rotate(-90)" font-size="24.2" font-weight="bold">Band Energy (eV)</text>
<text x="65" y="561" font-size="27" font-weight="bold">&#915;</text>
<text x="337" y="561.5" font-size="27" font-weight="bold">M</text>
<text x="623" y="561.5" font-size="27" font-weight="bold">&#915;</text>
<text x="355.5" y="599.3" font-size="32.5">(a)</text>
<text x="956.5" y="599.3" font-size="32.8">(b)</text>
<line x1="705.5" y1="437.8" x2="914" y2="437.8" stroke="#b4b4b4" stroke-width="1.2" stroke-dasharray="1.6,2.2"/>
<line x1="705.5" y1="437.8" x2="709.5" y2="437.8" stroke="#444" stroke-width="1.5"/>
<line x1="910" y1="437.8" x2="914" y2="437.8" stroke="#444" stroke-width="1.5"/>
<line x1="705.5" y1="376.6" x2="914" y2="376.6" stroke="#b4b4b4" stroke-width="1.2" stroke-dasharray="1.6,2.2"/>
<line x1="705.5" y1="376.6" x2="709.5" y2="376.6" stroke="#444" stroke-width="1.5"/>
<line x1="910" y1="376.6" x2="914" y2="376.6" stroke="#444" stroke-width="1.5"/>
<line x1="705.5" y1="315.4" x2="914" y2="315.4" stroke="#b4b4b4" stroke-width="1.2" stroke-dasharray="1.6,2.2"/>
<line x1="705.5" y1="315.4" x2="709.5" y2="315.4" stroke="#444" stroke-width="1.5"/>
<line x1="910" y1="315.4" x2="914" y2="315.4" stroke="#444" stroke-width="1.5"/>
<line x1="705.5" y1="254.2" x2="914" y2="254.2" stroke="#b4b4b4" stroke-width="1.2" stroke-dasharray="1.6,2.2"/>
<line x1="705.5" y1="254.2" x2="709.5" y2="254.2" stroke="#444" stroke-width="1.5"/>
<line x1="910" y1="254.2" x2="914" y2="254.2" stroke="#444" stroke-width="1.5"/>
<line x1="705.5" y1="193" x2="914" y2="193" stroke="#b4b4b4" stroke-width="1.2" stroke-dasharray="1.6,2.2"/>
<line x1="705.5" y1="193" x2="709.5" y2="193" stroke="#444" stroke-width="1.5"/>
<line x1="910" y1="193" x2="914" y2="193" stroke="#444" stroke-width="1.5"/>
<line x1="705.5" y1="131.8" x2="914" y2="131.8" stroke="#b4b4b4" stroke-width="1.2" stroke-dasharray="1.6,2.2"/>
<line x1="705.5" y1="131.8" x2="709.5" y2="131.8" stroke="#444" stroke-width="1.5"/>
<line x1="910" y1="131.8" x2="914" y2="131.8" stroke="#444" stroke-width="1.5"/>
<line x1="705.5" y1="70.6" x2="914" y2="70.6" stroke="#b4b4b4" stroke-width="1.2" stroke-dasharray="1.6,2.2"/>
<line x1="705.5" y1="70.6" x2="709.5" y2="70.6" stroke="#444" stroke-width="1.5"/>
<line x1="910" y1="70.6" x2="914" y2="70.6" stroke="#444" stroke-width="1.5"/>
<line x1="809.75" y1="9.4" x2="809.75" y2="499" stroke="#bcbcbc" stroke-width="1.2" stroke-dasharray="1.6,2.2"/>
<line x1="809.75" y1="9.4" x2="809.75" y2="13.4" stroke="#444" stroke-width="1.5"/>
<line x1="809.75" y1="495" x2="809.75" y2="499" stroke="#444" stroke-width="1.5"/>
<rect x="705.5" y="9.4" width="208.5" height="489.6" fill="none" stroke="#6a6a6a" stroke-width="2"/>
<line x1="706.1" y1="40" x2="706.1" y2="474.52" stroke="#3a3ae6" stroke-width="2.2"/>
<line x1="706.1" y1="98.75" x2="729.69" y2="98.75" stroke="#4848e0" stroke-width="1.7"/>
<line x1="706.1" y1="100.59" x2="740.32" y2="100.59" stroke="#4848e0" stroke-width="1.7"/>
<line x1="706.1" y1="122.01" x2="712.8" y2="122.01" stroke="#4848e0" stroke-width="1.7"/>
<line x1="706.1" y1="144.65" x2="827.89" y2="144.65" stroke="#4848e0" stroke-width="1.7"/>
<line x1="706.1" y1="144.65" x2="765.97" y2="144.65" stroke="#2020d0" stroke-width="2.8"/>
<line x1="706.1" y1="155.97" x2="785.36" y2="155.97" stroke="#4848e0" stroke-width="1.7"/>
<line x1="706.1" y1="155.97" x2="751.37" y2="155.97" stroke="#2020d0" stroke-width="2.8"/>
<line x1="706.1" y1="211.36" x2="741.99" y2="211.36" stroke="#4848e0" stroke-width="1.7"/>
<line x1="706.1" y1="213.81" x2="839.77" y2="213.81" stroke="#4848e0" stroke-width="1.7"/>
<line x1="706.1" y1="213.81" x2="757.62" y2="213.81" stroke="#2020d0" stroke-width="2.8"/>
<line x1="706.1" y1="218.4" x2="766.17" y2="218.4" stroke="#4848e0" stroke-width="1.7"/>
<line x1="706.1" y1="218.4" x2="726.35" y2="218.4" stroke="#2020d0" stroke-width="2.8"/>
<line x1="706.1" y1="223.6" x2="731.35" y2="223.6" stroke="#4848e0" stroke-width="1.7"/>
<line x1="706.1" y1="228.5" x2="736.36" y2="228.5" stroke="#4848e0" stroke-width="1.7"/>
<line x1="706.1" y1="232.47" x2="763.05" y2="232.47" stroke="#4848e0" stroke-width="1.7"/>
<line x1="706.1" y1="232.47" x2="722.18" y2="232.47" stroke="#2020d0" stroke-width="2.8"/>
<line x1="706.1" y1="286.64" x2="721.76" y2="286.64" stroke="#4848e0" stroke-width="1.7"/>
<line x1="706.1" y1="289.08" x2="733.44" y2="289.08" stroke="#4848e0" stroke-width="1.7"/>
<line x1="706.1" y1="294.59" x2="729.69" y2="294.59" stroke="#4848e0" stroke-width="1.7"/>
<line x1="706.1" y1="297.04" x2="801.41" y2="297.04" stroke="#4848e0" stroke-width="1.7"/>
<line x1="706.1" y1="297.04" x2="743.03" y2="297.04" stroke="#2020d0" stroke-width="2.8"/>
<line x1="706.1" y1="300.41" x2="724.68" y2="300.41" stroke="#4848e0" stroke-width="1.7"/>
<line x1="706.1" y1="306.53" x2="736.57" y2="306.53" stroke="#4848e0" stroke-width="1.7"/>
<line x1="706.1" y1="307.75" x2="767.01" y2="307.75" stroke="#4848e0" stroke-width="1.7"/>
<line x1="706.1" y1="307.75" x2="726.35" y2="307.75" stroke="#2020d0" stroke-width="2.8"/>
<line x1="706.1" y1="310.2" x2="727.6" y2="310.2" stroke="#4848e0" stroke-width="1.7"/>
<line x1="706.1" y1="389.76" x2="730.1" y2="389.76" stroke="#4848e0" stroke-width="1.7"/>
<line x1="706.1" y1="402.92" x2="718.01" y2="402.92" stroke="#4848e0" stroke-width="1.7"/>
<line x1="706.1" y1="466.56" x2="718.01" y2="466.56" stroke="#4848e0" stroke-width="1.7"/>
<text x="702.5" y="508.5" text-anchor="end" font-size="26" font-weight="bold">-8</text>
<text x="702.5" y="447.3" text-anchor="end" font-size="26" font-weight="bold">-6</text>
<text x="702.5" y="386.1" text-anchor="end" font-size="26" font-weight="bold">-4</text>
<text x="702.5" y="324.9" text-anchor="end" font-size="26" font-weight="bold">-2</text>
<text x="702.5" y="263.7" text-anchor="end" font-size="26" font-weight="bold">0</text>
<text x="702.5" y="202.5" text-anchor="end" font-size="26" font-weight="bold">2</text>
<text x="702.5" y="141.3" text-anchor="end" font-size="26" font-weight="bold">4</text>
<text x="702.5" y="80.1" text-anchor="end" font-size="26" font-weight="bold">6</text>
<text x="702.5" y="18.9" text-anchor="end" font-size="26" font-weight="bold">8</text>
<line x1="1014.6" y1="439.4" x2="1256" y2="439.4" stroke="#b4b4b4" stroke-width="1.2" stroke-dasharray="1.6,2.2"/>
<line x1="1014.6" y1="439.4" x2="1018.6" y2="439.4" stroke="#444" stroke-width="1.5"/>
<line x1="1252" y1="439.4" x2="1256" y2="439.4" stroke="#444" stroke-width="1.5"/>
<line x1="1014.6" y1="378.2" x2="1256" y2="378.2" stroke="#b4b4b4" stroke-width="1.2" stroke-dasharray="1.6,2.2"/>
<line x1="1014.6" y1="378.2" x2="1018.6" y2="378.2" stroke="#444" stroke-width="1.5"/>
<line x1="1252" y1="378.2" x2="1256" y2="378.2" stroke="#444" stroke-width="1.5"/>
<line x1="1014.6" y1="317" x2="1256" y2="317" stroke="#b4b4b4" stroke-width="1.2" stroke-dasharray="1.6,2.2"/>
<line x1="1014.6" y1="317" x2="1018.6" y2="317" stroke="#444" stroke-width="1.5"/>
<line x1="1252" y1="317" x2="1256" y2="317" stroke="#444" stroke-width="1.5"/>
<line x1="1014.6" y1="255.8" x2="1256" y2="255.8" stroke="#b4b4b4" stroke-width="1.2" stroke-dasharray="1.6,2.2"/>
<line x1="1014.6" y1="255.8" x2="1018.6" y2="255.8" stroke="#444" stroke-width="1.5"/>
<line x1="1252" y1="255.8" x2="1256" y2="255.8" stroke="#444" stroke-width="1.5"/>
<line x1="1014.6" y1="194.6" x2="1256" y2="194.6" stroke="#b4b4b4" stroke-width="1.2" stroke-dasharray="1.6,2.2"/>
<line x1="1014.6" y1="194.6" x2="1018.6" y2="194.6" stroke="#444" stroke-width="1.5"/>
<line x1="1252" y1="194.6" x2="1256" y2="194.6" stroke="#444" stroke-width="1.5"/>
<line x1="1014.6" y1="133.4" x2="1256" y2="133.4" stroke="#b4b4b4" stroke-width="1.2" stroke-dasharray="1.6,2.2"/>
<line x1="1014.6" y1="133.4" x2="1018.6" y2="133.4" stroke="#444" stroke-width="1.5"/>
<line x1="1252" y1="133.4" x2="1256" y2="133.4" stroke="#444" stroke-width="1.5"/>
<line x1="1014.6" y1="72.2" x2="1256" y2="72.2" stroke="#b4b4b4" stroke-width="1.2" stroke-dasharray="1.6,2.2"/>
<line x1="1014.6" y1="72.2" x2="1018.6" y2="72.2" stroke="#444" stroke-width="1.5"/>
<line x1="1252" y1="72.2" x2="1256" y2="72.2" stroke="#444" stroke-width="1.5"/>
<rect x="1014.6" y="11" width="241.4" height="489.6" fill="none" stroke="#6a6a6a" stroke-width="2"/>
<line x1="1015.2" y1="53.84" x2="1015.2" y2="454.7" stroke="#3a3ae6" stroke-width="2.2"/>
<line x1="1015.2" y1="99.43" x2="1056.12" y2="99.43" stroke="#4848e0" stroke-width="1.7"/>
<line x1="1015.2" y1="99.43" x2="1021.84" y2="99.43" stroke="#2020d0" stroke-width="2.8"/>
<line x1="1015.2" y1="112.9" x2="1249.72" y2="112.9" stroke="#4848e0" stroke-width="1.7"/>
<line x1="1015.2" y1="112.9" x2="1058.05" y2="112.9" stroke="#2020d0" stroke-width="2.8"/>
<line x1="1015.2" y1="119.02" x2="1019.91" y2="119.02" stroke="#4848e0" stroke-width="1.7"/>
<line x1="1015.2" y1="124.83" x2="1024.74" y2="124.83" stroke="#4848e0" stroke-width="1.7"/>
<line x1="1015.2" y1="132.79" x2="1033.91" y2="132.79" stroke="#4848e0" stroke-width="1.7"/>
<line x1="1015.2" y1="137.68" x2="1019.91" y2="137.68" stroke="#4848e0" stroke-width="1.7"/>
<line x1="1015.2" y1="143.5" x2="1023.77" y2="143.5" stroke="#4848e0" stroke-width="1.7"/>
<line x1="1015.2" y1="146.56" x2="1024.74" y2="146.56" stroke="#4848e0" stroke-width="1.7"/>
<line x1="1015.2" y1="150.84" x2="1044.53" y2="150.84" stroke="#4848e0" stroke-width="1.7"/>
<line x1="1015.2" y1="170.73" x2="1017.5" y2="170.73" stroke="#4848e0" stroke-width="1.7"/>
<line x1="1015.2" y1="177.46" x2="1023.77" y2="177.46" stroke="#4848e0" stroke-width="1.7"/>
<line x1="1015.2" y1="187.26" x2="1038.74" y2="187.26" stroke="#4848e0" stroke-width="1.7"/>
<line x1="1015.2" y1="191.54" x2="1019.91" y2="191.54" stroke="#4848e0" stroke-width="1.7"/>
<line x1="1015.2" y1="196.44" x2="1017.98" y2="196.44" stroke="#4848e0" stroke-width="1.7"/>
<line x1="1015.2" y1="202.25" x2="1017.5" y2="202.25" stroke="#4848e0" stroke-width="1.7"/>
<line x1="1015.2" y1="207.15" x2="1019.43" y2="207.15" stroke="#4848e0" stroke-width="1.7"/>
<line x1="1015.2" y1="213.88" x2="1019.91" y2="213.88" stroke="#4848e0" stroke-width="1.7"/>
<line x1="1015.2" y1="216.94" x2="1059.98" y2="216.94" stroke="#4848e0" stroke-width="1.7"/>
<line x1="1015.2" y1="221.83" x2="1035.36" y2="221.83" stroke="#4848e0" stroke-width="1.7"/>
<line x1="1015.2" y1="228.87" x2="1042.12" y2="228.87" stroke="#4848e0" stroke-width="1.7"/>
<line x1="1015.2" y1="240.5" x2="1028.6" y2="240.5" stroke="#4848e0" stroke-width="1.7"/>
<line x1="1015.2" y1="252.43" x2="1020.88" y2="252.43" stroke="#4848e0" stroke-width="1.7"/>
<line x1="1015.2" y1="256.41" x2="1025.7" y2="256.41" stroke="#4848e0" stroke-width="1.7"/>
<line x1="1015.2" y1="264.37" x2="1019.91" y2="264.37" stroke="#4848e0" stroke-width="1.7"/>
<line x1="1015.2" y1="268.96" x2="1021.84" y2="268.96" stroke="#4848e0" stroke-width="1.7"/>
<line x1="1015.2" y1="273.55" x2="1048.88" y2="273.55" stroke="#4848e0" stroke-width="1.7"/>
<line x1="1015.2" y1="279.67" x2="1017.5" y2="279.67" stroke="#4848e0" stroke-width="1.7"/>
<line x1="1015.2" y1="284.56" x2="1052.26" y2="284.56" stroke="#4848e0" stroke-width="1.7"/>
<line x1="1015.2" y1="288.54" x2="1030.53" y2="288.54" stroke="#4848e0" stroke-width="1.7"/>
<line x1="1015.2" y1="292.52" x2="1021.84" y2="292.52" stroke="#4848e0" stroke-width="1.7"/>
<line x1="1015.2" y1="297.11" x2="1030.53" y2="297.11" stroke="#4848e0" stroke-width="1.7"/>
<line x1="1015.2" y1="303.54" x2="1030.53" y2="303.54" stroke="#4848e0" stroke-width="1.7"/>
<line x1="1015.2" y1="309.66" x2="1057.09" y2="309.66" stroke="#4848e0" stroke-width="1.7"/>
<line x1="1015.2" y1="309.66" x2="1029.08" y2="309.66" stroke="#2020d0" stroke-width="2.8"/>
<line x1="1015.2" y1="312.41" x2="1130.47" y2="312.41" stroke="#4848e0" stroke-width="1.7"/>
<line x1="1015.2" y1="312.41" x2="1043.57" y2="312.41" stroke="#2020d0" stroke-width="2.8"/>
<line x1="1015.2" y1="313.94" x2="1074.47" y2="313.94" stroke="#4848e0" stroke-width="1.7"/>
<line x1="1015.2" y1="313.94" x2="1033.91" y2="313.94" stroke="#2020d0" stroke-width="2.8"/>
<line x1="1015.2" y1="318.53" x2="1214" y2="318.53" stroke="#4848e0" stroke-width="1.7"/>
<line x1="1015.2" y1="318.53" x2="1053.22" y2="318.53" stroke="#2020d0" stroke-width="2.8"/>
<line x1="1015.2" y1="319.45" x2="1121.78" y2="319.45" stroke="#4848e0" stroke-width="1.7"/>
<line x1="1015.2" y1="319.45" x2="1043.57" y2="319.45" stroke="#2020d0" stroke-width="2.8"/>
<line x1="1015.2" y1="321.59" x2="1074.47" y2="321.59" stroke="#4848e0" stroke-width="1.7"/>
<line x1="1015.2" y1="321.59" x2="1033.91" y2="321.59" stroke="#2020d0" stroke-width="2.8"/>
<line x1="1015.2" y1="323.73" x2="1060.95" y2="323.73" stroke="#4848e0" stroke-width="1.7"/>
<line x1="1015.2" y1="323.73" x2="1029.08" y2="323.73" stroke="#2020d0" stroke-width="2.8"/>
<line x1="1015.2" y1="326.18" x2="1067.23" y2="326.18" stroke="#4848e0" stroke-width="1.7"/>
<line x1="1015.2" y1="326.18" x2="1029.08" y2="326.18" stroke="#2020d0" stroke-width="2.8"/>
<line x1="1015.2" y1="331.08" x2="1041.15" y2="331.08" stroke="#4848e0" stroke-width="1.7"/>
<line x1="1015.2" y1="331.08" x2="1024.26" y2="331.08" stroke="#2020d0" stroke-width="2.8"/>
<line x1="1015.2" y1="335.05" x2="1054.19" y2="335.05" stroke="#4848e0" stroke-width="1.7"/>
<line x1="1015.2" y1="335.05" x2="1024.26" y2="335.05" stroke="#2020d0" stroke-width="2.8"/>
<line x1="1015.2" y1="338.42" x2="1043.57" y2="338.42" stroke="#4848e0" stroke-width="1.7"/>
<line x1="1015.2" y1="341.79" x2="1038.26" y2="341.79" stroke="#4848e0" stroke-width="1.7"/>
<line x1="1015.2" y1="346.68" x2="1031.98" y2="346.68" stroke="#4848e0" stroke-width="1.7"/>
<line x1="1015.2" y1="350.66" x2="1030.05" y2="350.66" stroke="#4848e0" stroke-width="1.7"/>
<line x1="1015.2" y1="356.47" x2="1029.08" y2="356.47" stroke="#4848e0" stroke-width="1.7"/>
<line x1="1015.2" y1="361.37" x2="1034.39" y2="361.37" stroke="#4848e0" stroke-width="1.7"/>
<line x1="1015.2" y1="366.27" x2="1030.05" y2="366.27" stroke="#4848e0" stroke-width="1.7"/>
<line x1="1015.2" y1="401.76" x2="1017.01" y2="401.76" stroke="#4848e0" stroke-width="1.7"/>
<line x1="1015.2" y1="421.65" x2="1017.01" y2="421.65" stroke="#4848e0" stroke-width="1.7"/>
<path d="M1015,283.5 H1052.0 V286.0 H1015 Z M1015,288.0 H1031.0 V290.0 H1015 Z M1015,296.0 H1031.0 V298.0 H1015 Z M1015,300.0 H1026.0 V303.0 H1015 Z M1015,303.0 H1031.0 V305.0 H1015 Z M1015,305.0 H1034.0 V307.0 H1015 Z M1015,307.0 H1057.0 V309.5 H1015 Z M1015,309.5 H1088.0 V312.0 H1015 Z M1015,312.0 H1092.0 V315.0 H1015 Z M1015,315.0 H1080.0 V318.0 H1015 Z M1015,318.0 H1075.0 V320.0 H1015 Z M1015,320.0 H1043.0 V322.0 H1015 Z M1015,322.0 H1068.0 V324.0 H1015 Z M1015,324.0 H1040.0 V327.0 H1015 Z M1015,327.0 H1032.0 V330.0 H1015 Z M1015,330.0 H1041.0 V332.5 H1015 Z M1015,333.5 H1054.0 V336.5 H1015 Z M1015,336.5 H1030.0 V340.0 H1015 Z M1015,340.0 H1038.0 V342.5 H1015 Z M1015,342.5 H1026.0 V346.0 H1015 Z M1015,348.0 H1022.0 V350.0 H1015 Z" fill="#1a1aee"/><rect x="1015" y="300" width="13" height="46" fill="#1a1aee"/>
<line x1="1015.5" y1="112.9" x2="1249.5" y2="112.9" stroke="#3030e6" stroke-width="2.6"/>
<line x1="1015.5" y1="112.9" x2="1130" y2="112.9" stroke="#1c1ce8" stroke-width="3.0"/>
<text x="1012.5" y="510.1" text-anchor="end" font-size="26" font-weight="bold">-8</text>
<text x="1012.5" y="448.9" text-anchor="end" font-size="26" font-weight="bold">-6</text>
<text x="1012.5" y="387.7" text-anchor="end" font-size="26" font-weight="bold">-4</text>
<text x="1012.5" y="326.5" text-anchor="end" font-size="26" font-weight="bold">-2</text>
<text x="1012.5" y="265.3" text-anchor="end" font-size="26" font-weight="bold">0</text>
<text x="1012.5" y="204.1" text-anchor="end" font-size="26" font-weight="bold">2</text>
<text x="1012.5" y="142.9" text-anchor="end" font-size="26" font-weight="bold">4</text>
<text x="1012.5" y="81.7" text-anchor="end" font-size="26" font-weight="bold">6</text>
<text x="1012.5" y="20.5" text-anchor="end" font-size="26" font-weight="bold">8</text>
<text x="705.3" y="526" text-anchor="middle" font-size="24.5" font-weight="bold">0</text>
<text x="809.4" y="526" text-anchor="middle" font-size="24.5" font-weight="bold">50</text>
<text x="913.8" y="526" text-anchor="middle" font-size="24.5" font-weight="bold">100</text>
<text x="1015" y="526" text-anchor="middle" font-size="24.5" font-weight="bold">0</text>
<text x="1254.2" y="526" text-anchor="middle" font-size="24.5" font-weight="bold">500</text>
<text x="665" y="553.5" font-size="28" font-weight="bold">DOS (states/eV/unitcell)</text>
<text x="991" y="553.5" font-size="28" font-weight="bold">DOS (states/eV/unitcell)</text>
<text transform="translate(668.2,324.3) rotate(-90)" font-size="28" font-weight="bold">Energy (eV)</text>
<text transform="translate(978,325) rotate(-90)" font-size="28" font-weight="bold">Energy (eV)</text>
<path d="M736.6,234.6 L743.8,248.6 L738.5,248.6 L738.5,272.2 L743.8,272.2 L736.6,286.2 L729.4,272.2 L734.7,272.2 L734.7,248.6 L729.4,248.6 Z" fill="#ee1111"/>
<line x1="740.8" y1="260.3" x2="793" y2="260.3" stroke="#f05050" stroke-width="1.6" stroke-dasharray="5,5.5"/>
<path d="M792,257.6 L797.5,260.3 L792,263 Z" fill="#f03030"/>
<path d="M1080.1,231 L1087.3,245 L1082,245 L1082,268.5 L1087.3,268.5 L1080.1,282.5 L1072.9,268.5 L1078.2,268.5 L1078.2,245 L1072.9,245 Z" fill="#ee1111"/>
<text x="809" y="269.8" font-size="22.4" font-weight="bold">NO states</text>
<text x="1088.4" y="270.6" font-size="22.4" font-weight="bold">States available</text>
<text x="745.8" y="427" font-size="31" font-weight="bold">Graphene</text>
<text x="1051" y="431.8" font-size="31" font-weight="bold">Graphene</text>
<text x="1051" y="468.4" font-size="31" font-weight="bold">On Copper</text>
</svg>
</body></html>
